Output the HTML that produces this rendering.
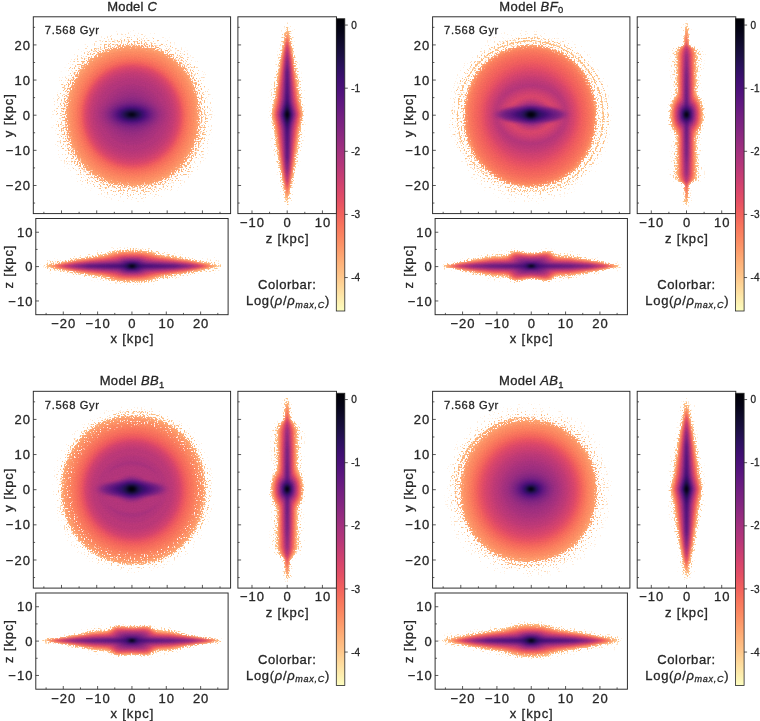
<!DOCTYPE html>
<html><head><meta charset="utf-8"><title>fig</title><style>html,body{margin:0;padding:0;background:#fff}svg{display:block;will-change:transform}</style></head><body>
<svg width="760" height="721" viewBox="0 0 760 721" font-family="Liberation Sans, sans-serif" fill="#262626"><style>text{stroke:#262626;stroke-width:0.3px;paint-order:stroke}</style>
<defs><linearGradient id="cbg" x1="0" y1="0" x2="0" y2="1">
<stop offset="0.0000" stop-color="#000004"/>
<stop offset="0.0417" stop-color="#050416"/>
<stop offset="0.0833" stop-color="#100b2d"/>
<stop offset="0.1250" stop-color="#1c1044"/>
<stop offset="0.1667" stop-color="#2c115f"/>
<stop offset="0.2083" stop-color="#3f0f72"/>
<stop offset="0.2500" stop-color="#4f127b"/>
<stop offset="0.2917" stop-color="#601880"/>
<stop offset="0.3333" stop-color="#721f81"/>
<stop offset="0.3750" stop-color="#812581"/>
<stop offset="0.4167" stop-color="#932b80"/>
<stop offset="0.4583" stop-color="#a5317e"/>
<stop offset="0.5000" stop-color="#b5367a"/>
<stop offset="0.5417" stop-color="#c73d73"/>
<stop offset="0.5833" stop-color="#d8456c"/>
<stop offset="0.6250" stop-color="#e55064"/>
<stop offset="0.6667" stop-color="#f1605d"/>
<stop offset="0.7083" stop-color="#f8745c"/>
<stop offset="0.7500" stop-color="#fb8761"/>
<stop offset="0.7917" stop-color="#fd9b6b"/>
<stop offset="0.8333" stop-color="#feb078"/>
<stop offset="0.8750" stop-color="#fec287"/>
<stop offset="0.9167" stop-color="#fed799"/>
<stop offset="0.9583" stop-color="#fdebac"/>
<stop offset="1.0000" stop-color="#fcfdbf"/>
</linearGradient></defs>
<defs><filter id="bl" x="-5%" y="-5%" width="110%" height="110%" color-interpolation-filters="sRGB"><feGaussianBlur stdDeviation="0.9" result="b"/><feTurbulence type="fractalNoise" baseFrequency="0.75" numOctaves="1" seed="11"/><feColorMatrix type="matrix" values="1 0 0 0 0 1 0 0 0 0 1 0 0 0 0 0 0 0 0 1" result="g"/><feComposite in="b" in2="g" operator="arithmetic" k1="0.1" k2="0.95" k3="0" k4="0"/></filter>
<filter id="nz" x="0" y="0" width="100%" height="100%" color-interpolation-filters="sRGB"><feTurbulence type="fractalNoise" baseFrequency="0.7" numOctaves="1" seed="7"/><feComponentTransfer result="n"><feFuncA type="linear" slope="2.6" intercept="-0.800"/></feComponentTransfer><feComposite in="SourceGraphic" in2="n" operator="arithmetic" k1="0" k2="5.0" k3="-4.0" k4="0"/><feColorMatrix type="matrix" values="0 0 0 0 1 0 0 0 0 1 0 0 0 0 1 0 0 0 1 0"/><feGaussianBlur stdDeviation="0.35"/></filter></defs>
<mask id="mf0" maskUnits="userSpaceOnUse" x="33.3" y="16.8" width="197.3" height="196.8"><g filter="url(#nz)" fill="#fff"><path fill-opacity="0.055" d="M124.3 30.3l9.5-.4 9.5 .5 7.5 1.1 6.5 1.5 7.5 2.5 7 3.1 7 4 5.5 3.9 5 4.4 5.7 5.9 4.6 6 4.9 8 3.1 6.5 3.1 8.5 1.9 7.5 1.5 9 .6 8.5 0 11.5-.6 7.5-1.5 9-2.1 8-2.9 8-3.1 6.5-4.5 7.5-4.9 6.5-4.8 5.1-6.5 5.7-6.5 4.5-7.5 4-7.5 3.1-8.5 2.4-8.5 1.5-8 .6-10-.1-7-.5-8.5-1.5-7.5-2.1-7.5-2.9-7-3.6-7.5-5-6.5-5.5-5.8-6.2-4.5-6-4-6.5-3.4-7-3.1-8.5-2-7.5-1.5-8.5-.6-8.5-.2-6.5 .2-7 .7-7.5 1.4-8.5 2.5-9 3.1-8 4.4-8.5 4-6 4.9-6 6.9-6.8 6.5-5 6.5-4 7.5-3.5 9-3 9-2z"/><path fill-opacity="0.063" d="M124.5 33.3l8.3-.3 8.5 .3 7.5 1 7.5 1.6 7 2.3 7 3 6.5 3.7 6 4.3 5.7 5.1 5 5.5 4.5 6 3.9 6.5 3.3 7 2.7 7.5 1.9 7.5 1.3 8 .7 9 0 9.5-.6 8.5-1.4 8.5-2.1 8-2.7 7.5-3.3 7-4.3 7-4.6 6-5.5 5.8-6 5-6.5 4.4-7 3.6-7.5 3-7.5 2.1-8 1.3-8.5 .7-9-.1-8-.8-8-1.5-7.5-2.2-7-2.9-6.5-3.5-6.5-4.4-5.9-5-5.2-5.5-4.9-6.5-4-6.5-3.3-7-2.7-7.5-2.1-8-1.3-8-.7-9 0-10.5 .7-8.5 1.5-8.5 2.2-8 3.1-8 3.6-7.1 4.4-6.9 5.1-6.2 5.9-5.8 6.5-5 6.6-4.1 7.3-3.4 7.7-2.6 8-1.9z"/><path fill-opacity="0.096" d="M130.2 35.8l8.6 .1 7.5 .8 7.5 1.4 7 2.1 6.5 2.7 6.5 3.5 6 4 5.5 4.7 5 5.2 4.7 6 4 6.5 3.2 6.5 2.7 7 2 7.5 1.5 8 .7 8 .1 9-.5 8.5-1.1 8-1.9 8-2.6 7.5-3.2 7-3.8 6.5-4.4 6-5 5.5-5.7 5-6.2 4.4-6.5 3.6-7 3-7.5 2.3-7.5 1.4-8 .8-8.5 .1-8-.5-7.5-1.3-7.5-1.9-7-2.7-7-3.5-6-3.9-5.9-4.8-5.1-5.2-4.7-5.8-4.1-6.5-3.6-7-2.8-7.5-2.1-7.5-1.4-8-.7-8-.1-9.5 .5-8.5 1.2-8 2-8 2.6-7.5 3.3-7 4.2-7 4.6-6 5.3-5.5 5.9-5 6.4-4.3 7-3.6 7-2.7 7.5-2 8-1.4z"/><path fill-opacity="0.138" d="M124 39.3l6.8-.4 9 .3 7 .8 7 1.4 6.5 2 6.5 2.8 6 3.3 5.5 3.8 5.3 4.5 4.8 5 4.2 5.5 3.7 6 3.2 6.5 2.5 6.5 2 7 1.3 7.5 1 9.5 0 10.5-.5 5.5-1.3 8-1.8 7.5-2.5 7-3 6.5-3.8 6.5-4.5 6-4.7 5-5.4 4.7-6 4.2-6.5 3.6-6.5 2.7-7 2-7.5 1.5-8 .7-8.5 0-7.5-.6-7-1.2-7-1.9-6.5-2.5-6.5-3.3-5.9-3.9-5.5-4.5-5-5-4.4-5.5-3.8-6-3.3-6.5-2.8-7-2.1-7.5-1.3-7.5-.8-8.5-.1-9.5 .6-8 1.2-8 1.9-7.5 2.7-7.5 3.2-6.5 4-6.5 4.7-6 5.2-5.3 5.7-4.7 6.3-4.1 6.9-3.4 7.1-2.6 7.5-1.8z"/><path fill-opacity="0.181" d="M125.8 39.8l9 0-9 .8-6.5 1-4.5 1.1-6.5 2-6 2.5-.5 .4-.5 .1-.5 .4-.5 .1-.5 .4-.5 .1-.5 .5-1.5 .6-2 1.3-.5 .1-4.5 2.9-6 4.6-.1-.4 1.6-1.5 5-4 5.5-3.7 5.5-2.9 6-2.5 6.5-2 4.5-1zM123.3 42.8l10-.5 9.5 .6 8.5 1.4 8.5 2.6 8 3.7 3.8 2.2 3.7 2.5 6.5 5.5 5.9 6.5 4.8 7 4.1 8 3 8.5 2.1 9 1.1 9.5 .1 11-.3 5.5-.6 5-.9 5-1.3 5 .5 .1 .1-1.1 .4-.3 .1-1.2 .4-.5 .1-1 .4-.7 .1-1.3 .4-.5 .1-1.5 .5-1 .1-1.5 .3-.6 .2-2.4 .4-1 .1-2.5 .4-2 .1-12.5-.8-7 .1-2 1.1 5 .8 7.5 .2 6-.5 6.5-1.4 8.5-2 7-2.5 6.5-3 6-4.4 7-3.5 4.5-3.8 4.1-4 3.8-6 4.6-3.8 2.5-5.7 3.1-6.5 2.8-6.5 1.9-6.5 1.3-7.5 .8-8 .1-7.5-.5-7-1.1-6.5-1.7-6.5-2.4-6-3-5.5-3.4-5.5-4.4-4.6-4.5-4.4-5.3-3.8-5.7-3.4-6.5-2.6-6.5-2.1-7-1.4-7-.8-8-.2-9 .5-8 1.2-8 1.8-7.5 2.5-7 3.1-6.5 3.7-6 4.2-5.5 4.8-5.1 5.5-4.6 6-4 6.5-3.3 6.5-2.5 7-1.8zM83.7 58.8l.5 0-.4 .2zM199.8 140.8l-.4 1.5 .4 .1zM199.3 142.5l-.3 .8 .3 .2zM198.8 144l-.3 .8 .3 .1z"/><path fill-opacity="0.230" d="M124.5 45.3l6.8-.3 7.5 .1 6.5 .7 6.5 1.3 6 1.9 6 2.5 5.5 2.9 5.5 3.8 4.8 4.1 4.3 4.5 3.9 5 3.5 5.6 2.9 5.9 2.3 6 1.8 6.5 1.3 7 .8 7.5 .1 8.5-.5 7.5-1 7-1.7 7-2.2 6.5-2.8 6.1-3.5 6-4 5.4-4.5 4.9-5 4.4-5.5 3.9-6 3.2-6 2.5-6.5 2-7 1.3-7 .7-8 0-7-.5-6.5-1.1-6.5-1.8-6-2.3-6-3.1-5.5-3.6-5-4.1-4.5-4.5-4.3-5.4-3.5-5.5-3-6-2.5-6.5-1.8-6.5-1.3-7-.8-8-.1-8.5 .5-7.5 1.2-7.5 1.8-7 2.6-7 3.2-6.5 3.4-5.5 4.4-5.5 4.7-4.8 5.1-4.2 5.9-3.8 6-3 6.5-2.4 7-1.8zM205.3 113.3l0-.3 .1 8.3-.6 6.5-1 5.5-2 7.2-2.5 6.5-3.4 6.8-2.6 4.1-2.5 3.5-2.5 3-.3-.1 4.5-6.5 3.4-6 2.6-5.5 2.5-6.5 2-7 1-5.5 1-8.5zM187.6 164.8l.2-.3 .1 .3z"/><path fill-opacity="0.299" d="M127.7 46.3l7.6-.1 6.5 .4 6.5 1 6.5 1.7 6 2.2 5.5 2.6 5.5 3.4 4.8 3.8 4.7 4.5 3.8 4.5 3.7 5.4 3.1 5.6 2.6 6 2.1 6.5 1.4 6.5 1 7 .3 7.5-.2 8-.7 7-1.4 7-2 6.5-2.6 6.5-3.2 6-3.6 5.5-4.2 5-4.6 4.5-5 3.9-5.5 3.4-6 2.8-6 2.2-6.5 1.6-7 1-7 .3-7.5-.2-7-.8-6.5-1.5-6-1.9-6-2.7-5.5-3.2-5-3.6-4.8-4.3-4.2-4.7-3.8-5.3-3.4-6-2.7-6-2.2-6.5-1.6-7-1-7-.4-7.5 .2-8.5 .8-7.5 1.5-7 2.1-7 2.8-6.5 3.3-6 3.9-5.5 4.3-5 5-4.5 5.2-3.8 6-3.5 6.5-2.8 6.5-1.9 6.5-1.3zM203.3 133.3l0-.4 0 .9zM202.3 136.8l0-.2 0 1.2zM201.2 140.3l.1-.4 0 1zM200.7 141.8l.1-.5 0 1.1zM199.8 144.3l0-.2 0 .8zM199.2 145.8l.1-.5 0 .7zM198.8 146.8l0-.2 0 .5z"/><path fill-opacity="0.410" d="M123.8 47.3l6.5-.4 7.5 .1 6.5 .6 6.5 1.3 6 1.8 5.5 2.2 5.5 2.9 5.2 3.5 4.8 4 4.3 4.5 4 5 3.2 5.1 3 5.9 2.3 6 1.9 6.5 1.3 6.5 .7 7 .2 8-.4 7.2-1 7.3-1.6 6.5-2.1 6.5-2.8 6.2-3.3 5.8-4 5.5-4.2 4.6-4.9 4.4-5.1 3.7-5.5 3.1-6 2.6-6.5 2-6.5 1.3-7 .7-7.5 .1-7-.5-6.5-1-6-1.6-6-2.2-5.5-2.7-5.6-3.5-4.9-3.9-4.5-4.4-4-4.9-3.5-5.3-3.2-6-2.4-6-2-6.5-1.4-7-.8-7.5-.2-8 .4-7.5 1.1-7.5 1.8-7 2.3-6.5 2.9-6.3 3.5-5.8 4.1-5.4 4.8-5 5.1-4.2 5.5-3.7 6-3 6-2.3 6.5-1.7z"/><path fill-opacity="0.583" d="M123.9 48.3l6.4-.4 7.5 .1 6.5 .6 6 1.2 6 1.8 5.5 2.2 5.5 2.9 5 3.4 4.5 3.7 4.4 4.5 3.9 5 3.2 5 2.9 5.5 2.4 6 1.9 6.5 1.3 6.5 .8 7.5 .1 7.5-.3 7-1 7-1.5 6.5-2.2 6.5-2.7 6-3.2 5.6-3.9 5.4-4.1 4.6-4.8 4.4-5.2 3.7-5.5 3.1-6 2.6-6 1.9-6.5 1.4-7 .7-7.5 .1-6.5-.4-6.5-1-6-1.6-6-2.2-5.6-2.8-5.4-3.4-5-4-4.5-4.5-4-4.9-3.4-5.2-3.1-6-2.4-6-1.9-6.5-1.3-6.5-.8-7.5-.1-8 .5-7.5 1-7 1.7-6.5 2.3-6.6 3-6.3 3.4-5.6 4.1-5.4 4.5-4.7 5-4.2 5.5-3.6 6-3.1 6-2.2 6.5-1.8z"/><path fill-opacity="1.000" d="M124.9 49.8l7.9-.2 7.7 .2 6.8 1 4.1 1 6 2 4.5 2 3.9 2 6.5 4.5 3 2.5 4.5 4.5 5 6.5 3 5 3.5 7.5 2 6 1.5 6.2 1 6.7 .3 9.1-.3 8.7-1.5 9-1.5 5.5-2.5 6.8-3 6-3.5 5.5-3.5 4.5-6 6-4.5 3.5-3.1 2-5.6 3-6.2 2.5-7.2 2-6.3 1-8.6 .4-8.8-.4-8.3-1.5-5.1-1.5-6.3-2.5-5.5-3-4.5-3-4.6-4-4.9-5-3.5-4.5-4-6.7-2.5-5.3-2.5-7-1.5-6-1-6.4-.5-6.6 0-6.5 .5-6.5 1.5-8.6 1.5-5.4 2-5.5 4-8 3-4.5 3.5-4.5 6-6 4.6-3.5 3.9-2.5 7-3.5 5.5-2 6-1.5z"/></g></mask>
<g mask="url(#mf0)"><g filter="url(#bl)"><path fill="#febf84" d="M130.3 27.3l5 0 .5 .5 8 0 .5 .5 3.5 0 .5 .5 2.5 0 .5 .5 2 0 .5 .5 1.5 0 .5 .5 1.5 0 .5 .5 1.5 0 .5 .5 1 0 .5 .5 1 0 .5 .5 1 0 .5 .5 1 0 .5 .5 .5 0 .5 .5 1 0 .5 .5 .5 0 .5 .5 .5 0 .5 .5 .5 0 .5 .5 1 0 .5 .5 .5 0 1 1 .5 0 .5 .5 .5 0 .5 .5 .5 0 .5 .5 .5 0 1 1 .5 0 1 1 .5 0 1 1 .5 0 1 1 .5 0 1.5 1.5 .5 0 2.5 2.5 .5 0 7.5 7.5 0 .5 2.5 2.5 0 .5 1.5 1.5 0 .5 1 1 0 .5 1.5 1.5 0 .5 .5 .5 0 .5 1 1 0 .5 .5 .5 0 .5 1 1 0 .5 .5 .5 0 .5 .5 .5 0 .5 .5 .5 0 .5 .5 .5 0 .5 .5 .5 0 .5 .5 .5 0 .5 .5 .5 0 1 .5 .5 0 .5 .5 .5 0 1 .5 .5 0 .5 .5 .5 0 1 .5 .5 0 1 .5 .5 0 1 .5 .5 0 1 .5 .5 0 1.5 .5 .5 0 1.5 .5 .5 0 1.5 .5 .5 0 1.5 .5 .5 0 2.5 .5 .5 0 2.5 .5 .5 0 4 .5 .5 0 7.5 .5 .5 0 7.5-.5 .5 0 7.5-.5 .5 0 4-.5 .5 0 2.5-.5 .5 0 2.5-.5 .5 0 1.5-.5 .5 0 2-.5 .5 0 1-.5 .5 0 1.5-.5 .5 0 1-.5 .5 0 1-.5 .5 0 1-.5 .5 0 1-.5 .5 0 1-.5 .5 0 .5-.5 .5 0 1-.5 .5 0 .5-.5 .5 0 .5-.5 .5 0 .5-.5 .5 0 .5-.5 .5 0 .5-.5 .5 0 .5-.5 .5 0 .5-.5 .5 0 .5-.5 .5 0 .5-1 1 0 .5-.5 .5 0 .5-1 1 0 .5-1 1 0 .5-1 1 0 .5-1.5 1.5 0 .5-2.5 2.5 0 .5-9 9-.5 0-2 2-.5 0-1.5 1.5-.5 0-1 1-.5 0-1 1-.5 0-1 1-.5 0-.5 .5-.5 0-.5 .5-.5 0-1 1-.5 0-.5 .5-.5 0-.5 .5-.5 0-.5 .5-.5 0-.5 .5-.5 0-.5 .5-.5 0-.5 .5-1 0-.5 .5-.5 0-.5 .5-1 0-.5 .5-.5 0-.5 .5-1 0-.5 .5-1 0-.5 .5-1.5 0-.5 .5-1 0-.5 .5-1.5 0-.5 .5-1.5 0-.5 .5-2 0-.5 .5-2.5 0-.5 .5-3 0-.5 .5-6 0-.5 .5-11 0-.5-.5-6 0-.5-.5-3 0-.5-.5-2.5 0-.5-.5-2 0-.5-.5-1.5 0-.5-.5-1.5 0-.5-.5-1.5 0-.5-.5-1 0-.5-.5-1 0-.5-.5-1 0-.5-.5-.5 0-.5-.5-1 0-.5-.5-.5 0-.5-.5-1 0-.5-.5-.5 0-.5-.5-.5 0-.5-.5-.5 0-.5-.5-.5 0-.5-.5-.5 0-.5-.5-.5 0-.5-.5-.5 0-1-1-.5 0-.5-.5-.5 0-1-1-.5 0-1-1-.5 0-1-1-.5 0-1.5-1.5-.5 0-1.5-1.5-.5 0-4.5-4.5-.5 0-1-1 0-.5-4.5-4.5 0-.5-1.5-1.5 0-.5-1.5-1.5 0-.5-1.5-1.5 0-.5-.5-.5 0-.5-1-1 0-.5-1-1 0-.5-.5-.5 0-.5-.5-.5 0-.5-1-1 0-.5-.5-.5 0-.5-.5-.5 0-.5-.5-.5 0-1-.5-.5 0-.5-.5-.5 0-.5-.5-.5 0-.5-.5-.5 0-1-.5-.5 0-.5-.5-.5 0-1-.5-.5 0-1-.5-.5 0-1-.5-.5 0-1-.5-.5 0-1.5-.5-.5 0-1.5-.5-.5 0-1.5-.5-.5 0-1.5-.5-.5 0-2-.5-.5 0-3-.5-.5 0-3.5-.5-.5 0-6-.5-.5 0-12.5 .5-.5 0-6 .5-.5 0-3.5 .5-.5 0-2.5 .5-.5 0-2.5 .5-.5 0-1.5 .5-.5 0-1.5 .5-.5 0-1.5 .5-.5 0-1 .5-.5 0-1.5 .5-.5 0-1 .5-.5 0-1 .5-.5 0-.5 .5-.5 0-1 .5-.5 0-.5 .5-.5 0-1 .5-.5 0-.5 .5-.5 0-.5 .5-.5 0-.5 .5-.5 0-.5 .5-.5 0-.5 .5-.5 0-.5 .5-.5 0-.5 .5-.5 0-.5 .5-.5 0-.5 1-1 0-.5 .5-.5 0-.5 1-1 0-.5 1-1 0-.5 1-1 0-.5 1.5-1.5 0-.5 2-2 0-.5 9-9 .5 0 2-2 .5 0 1.5-1.5 .5 0 1.5-1.5 .5 0 1-1 .5 0 .5-.5 .5 0 1-1 .5 0 .5-.5 .5 0 1-1 .5 0 .5-.5 .5 0 .5-.5 .5 0 .5-.5 .5 0 .5-.5 1 0 .5-.5 .5 0 .5-.5 .5 0 .5-.5 1 0 .5-.5 .5 0 .5-.5 1 0 .5-.5 1 0 .5-.5 1 0 .5-.5 1 0 .5-.5 1.5 0 .5-.5 1.5 0 .5-.5 1.5 0 .5-.5 2 0 .5-.5 2.5 0 .5-.5 3.5 0 .5-.5 8 0z"/><path fill="#feb47b" d="M124.9 40.8l7.4-.3 8 .3 7 .8 6.5 1.4 6.5 2.1 6.2 2.7 5.8 3.2 5.5 3.9 5.1 4.4 4.7 5 4.1 5.5 3.6 5.8 3 6.2 2.5 6.7 1.8 6.8 1.3 7.5 .7 8 .1 9-.6 8-1.1 7.5-1.9 7.5-2.5 7-3.1 6.5-3.7 6-4.5 5.9-4.8 5.1-5.3 4.5-5.9 4-6.5 3.4-6.5 2.6-7 2-7 1.2-7.5 .6-8.5 0-7.5-.6-7-1.3-6.5-1.9-6.5-2.5-6-3.2-6-3.9-5.2-4.4-4.9-5-4.3-5.5-3.8-6-3.2-6.5-2.7-7-1.9-7-1.3-7.5-.7-8.5 0-9 .6-8 1.4-8 2-7.5 2.6-7 3.4-6.8 4-6.2 4.5-5.6 5-5 5.5-4.4 6.5-4.1 6.5-3.1 7-2.5 7.5-1.8z"/><path fill="#feaa74" d="M123.8 44.3l7-.4 7.5 .1 6.5 .7 6.5 1.2 6.5 1.9 5 2 6 3.1 5.2 3.4 4.8 3.8 4.5 4.4 4 4.8 3.4 5 3.5 6.5 2.6 6 1.9 6 1.5 7 1 7.5 .3 8.5-.3 9-1 7.5-1.5 7-1.9 6-2.5 6-3.5 6.5-4 5.7-4.5 5.2-4.9 4.6-5.4 4-5.7 3.4-5.5 2.5-7 2.4-7 1.6-8 1-8 .1-8.5-.6-6-.9-6-1.6-7-2.5-5-2.5-6-3.7-5.5-4.3-4.9-4.9-4.5-5.5-3.6-5.5-3-5.9-2.4-6.1-2-6.5-1.5-7.5-.7-7.5-.2-8.5 .4-8 1.1-7.5 1.9-8 2.5-7 2.9-6 3.6-6 4.2-5.5 4.8-5 5.4-4.5 6-4 5.9-3 6.1-2.4 7.5-2z"/><path fill="#fea16e" d="M125.5 46.3l7.3-.3 7 .3 6.5 .8 6 1.3 6 1.9 6 2.6 5.5 3.1 5 3.6 4.8 4.2 4.1 4.5 3.8 5 3.3 5.5 2.8 6 2.2 6 1.8 6.5 1.2 7 .6 7.5 0 8-.5 7.5-1.2 7-1.7 6.5-2.3 6.5-2.9 6.1-3.6 5.9-3.9 5.1-4.7 4.9-4.8 4.1-5.5 3.7-6 3.1-6 2.4-6.5 1.8-6.5 1.2-7 .5-8 0-6.5-.6-6.5-1.2-6.5-1.8-6-2.4-5.5-2.9-5.5-3.7-4.9-4.2-4.6-4.8-4-5.2-3.4-5.5-2.9-6-2.4-6.5-1.7-6.5-1.2-7-.6-7.5 0-8.5 .6-7.5 1.2-7 1.9-7 2.5-6.5 3.2-6.5 3.8-5.8 4.2-5.2 4.8-4.7 5.5-4.3 5.5-3.4 6-2.8 6.5-2.3 6.5-1.6z"/><path fill="#fd9869" d="M126 48.3l6.8-.3 7 .3 6.5 .9 6 1.4 6 2 5.5 2.4 5 2.9 5 3.6 4.5 4.1 4.3 4.7 3.6 5 3.1 5.2 2.7 5.8 2.2 6 1.7 6.5 1 6.5 .6 7 0 8-.6 7-1.1 6.5-1.7 6.5-2.5 6.5-2.9 6-3.4 5.5-4 5.1-4.5 4.7-5 4.1-5 3.3-5.5 2.9-6 2.3-6.5 1.8-6.5 1.1-6.5 .5-7.5-.1-6.5-.6-6.5-1.2-6-1.8-6-2.4-5.5-3-5-3.5-4.9-4.2-4.2-4.5-3.8-5-3.4-5.5-2.9-6-2.2-6-1.7-6.5-1.1-7-.6-7.5 .1-8 .6-7 1.3-7 1.8-6.5 2.5-6.5 3.1-6 3.6-5.5 4.1-5 4.7-4.7 5-3.9 5.5-3.4 6-2.9 6-2.1 6.5-1.5z"/><path fill="#fc8c63" d="M124.7 50.8l6.6-.4 7 .2 6 .7 6 1.2 5.5 1.7 5.5 2.4 5 2.7 5 3.5 4.5 3.9 4 4.2 3.8 4.9 3.1 5 2.7 5.5 2.1 5.5 1.8 6 1.2 6.5 .7 7 .1 7.5-.5 6.5-1 6.7-1.6 6.3-2.1 6-2.8 6-3.3 5.5-3.8 5-4.1 4.5-4.6 4-5.1 3.5-5.5 3-5.6 2.3-6 1.8-6 1.2-6.5 .6-7 .1-6.5-.6-6-1-6-1.7-5.5-2.1-5.5-2.9-5-3.3-4.5-3.6-4.2-4.3-3.8-4.7-3.5-5.3-2.8-5.5-2.4-6-1.9-6.5-1.2-6.5-.7-7-.1-7.5 .5-7 1.2-7 1.7-6.5 2.3-6 2.9-6 3.5-5.5 3.9-5 4.4-4.5 4.9-4 5.3-3.4 5.5-2.8 6-2.2 6-1.6z"/><path fill="#fb835f" d="M125.5 53.8l5.8-.3 6.5 .1 6 .7 5.5 1.2 5.5 1.7 5.5 2.5 5 2.8 4.5 3.2 4.5 4 3.7 4.1 3.4 4.5 3.1 5 2.6 5.5 2.1 5.5 1.6 6 1 6 .6 6.5 0 6.5-.6 6.5-1 6-1.6 6-2.2 6-2.7 5.5-3.1 5-3.5 4.5-4.2 4.5-4.2 3.6-5 3.4-5 2.7-5.5 2.3-6 1.8-6 1.1-6 .5-6.5 0-6-.6-6-1.1-5.5-1.6-5.5-2.3-5.1-2.8-4.9-3.4-4.5-3.8-4-4.3-3.5-4.5-3.1-5-2.7-5.5-2-5.5-1.7-6-1.2-6.5-.5-6.5 0-7 .6-6.5 1.2-6.5 1.7-6 2.4-6 2.9-5.5 3.2-5 3.7-4.6 4.4-4.4 4.6-3.7 5-3.2 5.5-2.7 5.5-2 5.5-1.4z"/><path fill="#f9785d" d="M124.6 56.8l5.7-.5 6 .1 5.5 .5 5 1 5 1.5 5.5 2.2 5 2.7 4.5 3 4.1 3.5 3.9 4 3.5 4.4 3 4.7 2.5 4.9 2.2 5.5 1.7 5.5 1.2 6 .6 6 .1 6.5-.5 6-1 6-1.5 6-2.1 5.5-2.4 5-3 5-3.4 4.5-3.9 4.2-4.3 3.8-4.7 3.3-4.9 2.7-5.6 2.3-5 1.5-5.5 1.1-6 .6-6 0-5.5-.5-5.5-1-5.5-1.6-5-2.1-5-2.6-4.5-3.1-4.3-3.6-3.9-4-3.5-4.5-3.2-5-2.5-5-2.2-5.5-1.6-5.5-1.2-6-.6-6 0-6.5 .4-6 1.1-6 1.6-6 2.1-5.5 2.5-5 3.1-5 3.7-4.7 4-4.2 4.3-3.6 4.7-3.2 5-2.6 5-2.1 5.5-1.6z"/><path fill="#f66e5c" d="M126.3 59.3l5.5-.3 5.5 .2 5.5 .7 5 1.1 5 1.7 5 2.3 4.5 2.6 4.4 3.2 3.8 3.5 3.6 4 3.2 4.3 2.8 4.7 2.4 5 1.8 5 1.5 5.5 .9 5.5 .4 5.5-.1 6-.6 6-1.1 5.5-1.7 5.5-2 5-2.7 5-2.9 4.5-3.2 4-4 4.1-4.2 3.4-4.5 3-4.8 2.5-5 1.9-5 1.4-5.5 1-5.5 .4-6-.2-5.5-.7-5-1.1-5-1.6-5-2.3-4.5-2.6-4.4-3.2-4.1-3.7-3.5-3.8-3.3-4.5-2.7-4.5-2.4-5-2.1-5.5-1.4-5.5-.9-5.5-.4-5.5 .1-6 .6-6 1.2-5.5 1.7-5.5 2.1-5 2.7-5 3-4.5 3.3-4.1 4-3.9 4.3-3.5 4.7-3 5-2.5 5-1.8 5-1.3z"/><path fill="#f3655c" d="M125.8 61.8l5.5-.4 6 .2 4.5 .6 4.5 .9 4.5 1.5 5 2.2 5 2.8 3.5 2.5 4 3.5 3.5 3.8 3 3.9 3.1 5 2 4 2 5 1.5 5.5 1.1 6 .4 6-.2 5-.7 6.5-1 4.5-1.6 5-1.9 4.5-2.6 5-3 4.5-3.3 4-3.5 3.5-3.8 3.1-4.5 3-4 2.1-4.5 1.9-5 1.5-5.5 1-6 .4-5-.1-6-.7-4.5-1.1-4.5-1.5-4.5-2-4.5-2.6-3.5-2.4-4.2-3.6-3.7-4-3.1-4-3.1-5-2-4-2-5-1.5-5.5-1-5.5-.5-5.5 .1-5 .4-5 1.4-7 1.6-5 1.9-4.5 2.1-4 3.2-5 3.3-4 3.6-3.7 3.5-2.9 4.5-3 4.5-2.4 5-2.1 5.5-1.6z"/><path fill="#ef5d5e" d="M129.3 62.8l5-.1 5 .4 5 1 5 1.4 4.5 1.8 4.5 2.4 4 2.7 4 3.2 3.6 3.7 3.3 4 2.6 4 2.4 4.5 1.9 4.5 1.6 5 1.1 5 .7 5.5 .1 5.5-.4 5-.9 5.5-1.3 5-1.8 5-2.2 4.5-2.7 4.4-3 4.1-3.5 3.8-3.6 3.2-4.1 3-4.3 2.5-4.5 2.1-5 1.7-5 1.1-5 .6-5 .1-5-.4-5-.8-5-1.4-5-2-4.5-2.4-4-2.7-4-3.3-3.6-3.6-3.3-4-2.9-4.5-2.4-4.5-1.9-4.5-1.5-5-1.1-5-.6-5.5-.1-5.5 .4-5 .9-5.5 1.4-5 1.9-5 2.3-4.5 2.8-4.5 3.1-4 3.2-3.5 3.9-3.4 4-2.8 4.5-2.6 4.5-2 5-1.6 5-1.1z"/><path fill="#e95462" d="M127 64.3l4.8-.3 5 .2 5 .7 5 1.2 4.5 1.6 4.5 2.2 4 2.4 4 3 3.5 3.2 3.4 3.8 2.9 4 2.4 4 2.4 5 1.6 4.5 1.3 5 .8 5 .3 5.5-.2 5-.7 5-1.1 5-1.5 4.5-2.2 5-2.4 4.4-2.9 4.1-3.4 4-3.7 3.5-4 3.1-4 2.5-4.5 2.2-4.5 1.7-4.5 1.1-5 .8-5 .3-5-.2-5-.8-4.5-1.1-4.5-1.6-4.5-2.1-4-2.5-4-2.9-3.8-3.5-3.2-3.6-3.2-4.4-2.3-4-2.1-4.5-1.7-4.5-1.4-5.5-.8-5-.3-5 .2-5 .6-5 1.2-5 1.6-5 2-4.5 2.5-4.5 2.8-4 3.4-4 3.5-3.3 4-3.2 4-2.5 4.5-2.2 4.5-1.7 5-1.4z"/><path fill="#e34e65" d="M130.5 65.3l4.8 0 5 .6 4.5 1 4.5 1.4 4.5 2 4 2.2 4 2.8 3.5 3 3.3 3.5 3.2 4 2.5 4 2.3 4.5 1.8 4.5 1.4 5 .9 5 .5 5-.1 5-.6 5-1 5-1.4 4.5-1.8 4.5-2.4 4.5-2.7 4-3.2 4-3.5 3.5-3.7 3-4 2.7-4 2.1-4.5 1.9-4.5 1.3-4.5 .8-5 .5-5-.1-4.5-.5-5-1.1-4.5-1.5-4.5-2-4-2.3-3.9-2.8-3.6-3.1-3.2-3.4-3.1-4-2.5-4-2.3-4.5-1.8-4.5-1.4-5-.9-5-.4-5 .1-5 .5-5 1.1-5 1.4-4.5 1.9-4.5 2.4-4.5 2.7-4 3-3.7 3.3-3.3 3.7-3.1 4-2.6 4.5-2.4 4.5-1.8 4.5-1.3 4.5-.9z"/><path fill="#db476a" d="M127.2 66.8l4.6-.3 5 .2 4.5 .7 4.5 1.1 4.5 1.6 4 1.9 4 2.4 3.9 2.9 3.3 3 3.1 3.5 3 4 2.4 4 2.1 4.5 1.7 4.5 1.1 4.5 .8 5 .3 5-.2 5-.7 5-1.1 4.5-1.6 4.5-2.1 4.5-2.3 4-2.8 4-3.4 3.8-3.4 3.2-3.6 2.7-4 2.5-4 2-4.5 1.7-4.5 1.1-4.5 .7-4.5 .3-5-.3-4.5-.7-4.5-1.1-4.5-1.7-4-1.9-4-2.5-3.8-2.8-3.7-3.5-3-3.4-2.6-3.6-2.7-4.5-1.9-4-1.6-4.5-1.1-4.5-.8-5-.3-5 .2-4.5 .6-5 1.1-4.5 1.5-4.5 2-4.5 2.3-4 2.8-4 3-3.5 3.5-3.3 3.5-2.8 4-2.6 4-2 4.5-1.7 4.5-1.3z"/><path fill="#d3436e" d="M129 68.3l4.3-.1 4.5 .3 4.5 .8 4.5 1.3 4.5 1.8 4 2.1 3.5 2.3 3.7 3 3.3 3.2 3 3.6 2.5 3.7 2.2 4 1.9 4.5 1.4 4.4 1 4.6 .5 4.5 .1 4.5-.4 5-.8 4.5-1.3 4.5-1.7 4.5-2 4-2.5 4-2.7 3.5-3.2 3.4-3.5 3-3.5 2.5-4 2.3-4 1.8-4.5 1.5-4.5 1-4.5 .6-4.5 0-4.5-.4-4.5-.8-4.5-1.4-4-1.7-4-2.1-4-2.7-3.5-2.9-3.1-3.1-2.9-3.6-2.6-3.9-2.2-4-1.8-4.5-1.4-4.4-1-4.6-.5-4.5 0-4.5 .4-4.5 .8-4.5 1.2-4.5 1.8-4.5 2-4 2.5-4 2.7-3.5 3.1-3.3 3.5-3 3.5-2.5 4-2.3 4-1.9 4.5-1.5 4.5-1z"/><path fill="#cc3f71" d="M129.8 70.3l4 0 4.5 .3 4.5 .9 4 1.3 4 1.6 4 2.2 3.5 2.3 3.4 2.9 3.1 3.1 2.7 3.4 2.4 3.5 2.1 4 1.7 4 1.4 4.5 .9 4.5 .4 4 .1 4-.4 4.5-.9 4.5-1.2 4.5-1.6 4-2 4-2.2 3.5-2.9 3.7-3 3.1-3.5 3-3.5 2.5-4 2.2-4 1.7-4 1.3-4 .8-4.5 .5-4.5 .1-4-.4-4.5-.9-4-1.2-4-1.7-4-2.2-3.5-2.4-3.5-2.9-3.1-3.2-2.8-3.5-2.3-3.5-2.1-4-1.7-4-1.3-4.5-.9-4.5-.4-4-.1-4 .4-4.5 .9-4.5 1.3-4.5 1.6-4 2.1-4 2.3-3.5 2.7-3.5 2.9-3 3.5-3 3.5-2.4 4-2.3 4-1.7 4-1.2 4-.9z"/><path fill="#c23b75" d="M130.6 72.3l3.7 0 4.5 .5 4 .8 3.7 1.2 4.3 1.9 3.5 1.9 3.5 2.5 3 2.6 2.6 2.6 2.4 3 2.5 3.7 2 3.8 1.6 4 1.4 4.5 .8 4 .4 4.5 0 4-.5 4-1.1 5-1.1 3.5-1.9 4.5-1.9 3.5-2.2 3.2-2.5 3-3.3 3.3-3 2.5-3.2 2.1-3.5 1.9-3.5 1.5-4.7 1.5-3.3 .7-5 .5-4-.1-4-.4-4.5-1-3.6-1.2-4.4-2-3.5-2-3.5-2.5-2.8-2.5-2.7-2.8-2.5-3.2-2.5-3.8-2-4-1.5-3.9-1.1-3.8-.9-4.6-.4-3.9 .1-4.5 .5-4 .8-3.5 1.4-4.5 1.6-3.8 2-3.7 2.3-3.5 2.7-3.2 3.3-3.3 3.1-2.5 3.1-2.1 4-2.1 3.5-1.4 4.8-1.4 3.7-.7z"/><path fill="#ba3878" d="M127.6 75.8l3.7-.3 4 .2 4 .5 3.5 .8 4 1.4 3.5 1.7 3.5 2.1 2.8 2.1 2.8 2.5 2.7 3 2.3 3 2.1 3.5 1.7 3.5 1.5 4 1.1 4 .7 4 .2 3.5-.3 3.5-.7 4-1.1 4-1.5 4-1.7 3.5-2.1 3.5-2.3 3-2.7 3-2.5 2.2-3 2.3-3.3 2-3.2 1.5-3.5 1.3-3.5 1-4 .6-4 .2-4-.2-4-.6-3.5-.9-3.5-1.3-3.5-1.7-3.5-2.1-3-2.3-2.7-2.5-2.7-3-2.2-3-2-3.5-1.9-4-1.4-4-1.1-4-.6-4-.2-3.5 .3-3.5 .8-3.5 1.2-4 1.5-4 1.8-3.5 1.8-3 2.4-3.2 2.5-2.7 2.8-2.6 3.2-2.3 3-1.8 3-1.5 3.5-1.3 3.5-1z"/><path fill="#b2357b" d="M127.3 79.3l3.5-.3 3.5 .1 3.5 .4 3.8 .8 3.2 1.1 3.2 1.4 2.8 1.6 3 2 2.7 2.4 2.4 2.5 2.4 3 1.9 3 2.1 4 1.5 3.6 1.3 3.9 .6 3 .2 3-.2 3-.6 3-1.2 4-1.2 3-1.9 4-1.8 3-2.2 3-2.2 2.5-2.3 2.2-2.5 2-2.8 1.8-3.2 1.7-3 1.2-3.5 1-3.1 .6-3.9 .4-3.5-.1-4-.5-3.5-.8-3.5-1.2-3-1.4-3-1.8-3-2.1-2.5-2.2-2.5-2.7-2-2.6-2-3.2-2-3.9-1.6-3.9-1.3-4-.7-3.5-.2-3 .3-2.5 .6-3 1.2-3.5 1.7-4.1 2-3.7 2-3.2 2-2.6 2-2.2 2.4-2.2 2.6-2 3-1.8 3-1.5 3-1.2 3-.8z"/><path fill="#a8327d" d="M128.4 84.8l2.9-.2 3 .1 2.5 .3 3 .7 2.5 .8 3 1.2 2.5 1.4 2.5 1.8 2.5 2.1 2.5 2.6 7.1 9.2 1.2 2 1.1 2.5 .6 2 .4 2 0 2.5-.3 2-.8 2.5-1.1 2.5-1.7 2.6-4 5.5-4 4.8-4 3.5-4.5 2.7-5 2-5 1-3 .1-3-.1-2.5-.3-3-.7-2.5-.8-3-1.3-2.5-1.4-2.5-1.8-2.5-2.1-2.5-2.7-7.1-9.5-2.1-4-.6-2-.4-2 0-2.5 .2-2 .8-2.5 1.1-2.5 1.1-2 2-2.6 4-5.2 2.5-2.9 4-3.5 4.5-2.8 5-2z"/><path fill="#a02f7f" d="M128.4 89.3l4.9-.2 4.5 .7 4.5 1.5 2.5 1.3 2 1.3 3 2.3 5 4.6 4 4.6 1.4 1.9 1.1 2 .8 2 .5 2 0 2-.2 1.5-.4 1.5-.8 2-2 3-4.3 5-6.1 5.5-4 2.8-4.5 2.1-2.5 .8-2.5 .4-2.5 .3-2.5-.1-4.5-.6-4.5-1.6-2.3-1.1-2.2-1.4-3-2.3-4.5-4.2-4.1-4.6-1.5-2-1.2-2-.9-2-.5-2-.1-2 .1-1.5 .4-1.5 .8-2 2.2-3.5 4.3-5 6-5.4 4-2.8 4.5-2.1 2.5-.7z"/><path fill="#982d80" d="M128.6 93.3l2.2-.2 2.5 0 4.5 .8 4.5 1.7 4.9 2.7 5.6 4.4 3.7 3.6 1.3 1.7 1.1 1.8 .6 1.5 .5 2 .1 1.5-.1 1.5-1 3-2 3-3.2 3.4-5.5 4.4-4 2.5-4.5 2.1-4.5 1.1-2.5 .3-2.5 0-4.5-.8-4.5-1.6-5-2.8-5.5-4.3-3.9-3.8-1.4-2-.9-1.5-.6-1.5-.5-2-.1-1.5 .2-1.5 .4-1.5 .9-2 2.1-3 3.3-3.3 5-4 4-2.4 4.5-2.1 2.5-.8z"/><path fill="#8e2a81" d="M128 96.8l3.3-.3 3 .1 3 .6 3 .9 3.5 1.5 3.5 1.9 4 2.6 2.6 2.2 1.8 2 1.3 2 .8 2 .3 2-.2 2-.6 2-1.2 2-1.8 2.2-2 1.8-3 2.2-3.5 2.1-3 1.5-2.5 1-3 .9-2.5 .5-3 .2-3-.2-2.5-.4-3-.9-2.5-1.1-3-1.5-3.5-2-3-2.2-1.8-1.6-1.7-1.9-1-1.6-.7-1.5-.6-2 0-2 .3-1.5 .7-2 1-1.5 1.3-1.7 2-1.9 2.5-1.9 3-1.9 3.5-1.9 2.5-1.1 3-1z"/><path fill="#862781" d="M129.1 99.3l2.7-.1 3 .1 3 .6 2.5 .7 3 1.1 3 1.4 3 1.7 2.6 2 1.9 1.9 1.2 1.6 .7 1.5 .5 2-.1 2-.4 1.5-.9 1.9-1.2 1.6-1.8 1.7-2 1.6-2.5 1.5-3 1.5-3.5 1.4-2.5 .7-2.5 .5-3 .3-2.5 0-3-.3-2.5-.6-3-.9-3-1.3-2.5-1.2-2.5-1.6-2.4-1.8-1.5-1.5-1.1-1.5-.8-1.5-.6-2-.1-1.5 .3-2 .6-1.5 1.1-1.6 1.5-1.7 2-1.7 2.5-1.7 2.5-1.4 5.5-2.2 3-.8z"/><path fill="#7e2482" d="M128.3 101.3l3-.2 2.5 .1 2.5 .2 3 .7 3 .9 2.5 1 2.5 1.3 2.3 1.5 1.8 1.5 1.4 1.5 .9 1.5 .6 1.5 .3 1.5-.3 2-.5 1.5-.9 1.5-1.4 1.5-1.7 1.5-2 1.3-2.5 1.3-2.5 1.1-3 1-3 .7-2.5 .3-3 .1-2.5-.1-5-1-3-1-2.5-1-2.5-1.3-2-1.3-1.8-1.6-1.4-1.5-.9-1.5-.5-1.5-.3-1.5 .2-1.5 .4-1.5 .9-1.5 1.2-1.5 1.7-1.6 2-1.4 2.5-1.3 5-2 3-.8z"/><path fill="#752181" d="M128.5 102.8l5.3-.1 5 .7 2.5 .7 2.5 .9 4 2.1 1.7 1.2 1.3 1.3 1 1.2 .8 1.5 .3 1.5 .1 1.5-.4 1.5-.8 1.5-1.1 1.5-1.7 1.5-1.7 1.1-2.5 1.4-5 1.8-5.5 .9-5 0-5.5-.9-5-1.8-4-2.3-1.5-1.2-1.3-1.5-.9-1.5-.5-1.5-.1-1.5 .3-1.5 .5-1.3 .8-1.2 1.2-1.4 1.5-1.2 4-2.3 4.5-1.7z"/><path fill="#6d1d81" d="M126.1 104.3l5.2-.5 5 .3 5 1.1 4 1.7 2 1.2 1.5 1.2 1 1 1 1.5 .4 1 .3 1.5-.1 1.5-.5 1.5-1 1.5-1 1-3.1 2.2-4 1.8-5 1.2-5 .4-4.5-.3-5-1.1-4-1.6-3.2-2.1-1.3-1.3-.9-1.2-.5-1-.4-1.5 0-1.5 .5-1.5 .8-1.5 .9-1 1.6-1.4 1.5-1 4-1.9z"/><path fill="#651a80" d="M130.9 104.8l4.4 .2 4.5 .8 4 1.5 3 1.8 1.4 1.2 .8 1 .6 1 .5 1.5 0 1.5-.2 1-1.2 2-1.4 1.5-1.4 1-3.6 1.8-5 1.3-5 .5-5-.3-5-1.1-4-1.8-1.5-1-1.6-1.4-1.4-2-.3-1-.1-1.5 .3-1.5 .4-1 1.7-2 3-2.1 3.5-1.5 4.5-1z"/><path fill="#5c167f" d="M128.6 105.8l4.2-.1 4.5 .4 4 1.1 3.4 1.6 2.5 2 1.3 2 .3 1 0 1.5-.8 2-.7 1-1.5 1.3-3 1.8-4 1.3-5 .8-5-.1-4.5-.8-4-1.4-3-1.9-1.8-2-.8-2 .2-2 1-2 2.2-2 2.7-1.5 3.5-1.2z"/><path fill="#54137d" d="M127 106.8l4.3-.4 4 .2 4 .8 3.5 1.4 2.4 1.5 1.7 2 .6 2-.1 1.5-.4 1-1.7 2-2.5 1.6-3 1.2-4 .9-4 .3-4-.3-4-.8-3-1.2-2.6-1.7-1.7-2-.5-2 0-1 .3-1 1.5-2 2.5-1.8 3-1.3z"/><path fill="#4c117a" d="M128.5 107.3l3.8-.2 3.5 .3 3.5 .8 3 1.3 2 1.3 .9 1 .7 1 .3 1 .1 1-.2 1-.4 1-.8 1-1.1 1-2.7 1.5-3.3 1.1-4 .6-4 0-4-.6-3.4-1.1-2.7-1.5-1.5-1.5-.6-1-.4-1 0-1 .2-1 .9-1.5 1.6-1.5 2.4-1.4 3-1z"/><path fill="#420f75" d="M131.7 107.8l3.1 .2 3 .6 2.5 .8 2.4 1.4 1.5 1.5 .7 1.5 0 1.5-.6 1.5-.9 1-1.1 .9-3 1.5-3.5 .9-4 .3-4-.3-3.5-.9-3-1.4-1.2-1-.9-1-.6-1.5 0-1.5 .7-1.5 1.5-1.5 2-1.2 3-1.1 3-.5z"/><path fill="#390f6e" d="M128.3 108.8l3-.3 3 .2 3 .5 2.5 1 1.9 1.1 1.4 1.5 .5 1.5-.2 1.5-1 1.5-2.1 1.5-2.5 1-2.5 .6-3 .3-3-.2-3-.5-2.5-.9-2.1-1.3-1.4-1.5-.4-1.5 .2-1.5 1.1-1.5 2.1-1.4 2.5-1z"/><path fill="#311165" d="M130.2 109.3l2.6 0 2.5 .3 2.5 .6 2 1 1.5 1.1 .9 1.5 0 1.5-.5 1-1.4 1.4-2 1.1-3 .8-3 .4-3-.2-3-.6-2.5-1.1-1.7-1.3-.6-1-.3-1.5 .3-1 .8-1.1 1.2-.9 2-1 2.3-.7z"/><path fill="#271258" d="M128.1 110.3l2.2-.3 2.5 0 2.5 .3 2 .6 1.8 .9 1.2 1 .5 1 .1 1.5-.6 1-1 1-1.9 1-2.1 .6-2 .3-2.5 .1-2.5-.4-2.2-.6-1.8-1-1.1-1-.6-1 .1-1.5 .5-1 1.2-1 1.9-1z"/><path fill="#20114b" d="M129.5 110.8l1.8-.2 2 .1 2 .4 1.5 .5 1.3 .7 1.1 1 .4 1-.1 1-.7 1-1.3 1-1.7 .7-1.5 .4-2 .2-2-.1-2-.3-2-.7-1.1-.7-.9-1-.4-1 .2-1 .7-1 1.4-1 1.6-.6z"/><path fill="#19103f" d="M128.4 111.8l1.4-.3 2-.2 2 .2 1.5 .4 1.5 .7 .9 .7 .5 1-.1 1-.8 1-.8 .5-2.2 .8-3 .3-3.2-.6-1.3-.6-1-.8-.4-.6-.1-1 .5-1 .5-.5z"/><path fill="#130d34" d="M129.4 112.3l1.4-.3 1.5 0 2.5 .5 1 .5 .8 .8 .3 1-.2 .5-.4 .5-1 .7-2 .6-2.5 .1-2.5-.7-1-.6-.5-.6-.2-1 .3-.5 .9-.9z"/><path fill="#0c0926" d="M129.8 112.8l2-.3 2 .3 1.1 .5 .6 .5 .3 .5 0 .5-.2 .5-.5 .5-1.8 .7-2 .1-1.8-.3-1.1-.5-.5-.5-.2-.5 0-.5 .3-.5 .6-.5z"/><path fill="#07061c" d="M130.1 113.3l1.7-.2 1.5 .2 1.1 .5 .4 .5 0 .5-.5 .7-1 .4-1.5 .2-1.5-.1-1-.5-.6-.7 0-.5 .4-.5z"/><path fill="#030312" d="M130.4 113.8l1.4-.2 1 .1 1 .6 0 .5-.5 .5-.5 .2-1 .1-1-.1-.6-.2-.5-.5 0-.5z"/><path fill="#010106" d="M130.8 114.3l1-.2 .5 0 .4 .2 .1 .5-.5 .3-1 0-.6-.3z"/></g></g>
<mask id="ms0" maskUnits="userSpaceOnUse" x="237.9" y="16.8" width="98.6" height="196.8"><g filter="url(#nz)" fill="#fff"><path fill-opacity="0.055" d="M286.8 21.8l.6-.3 1 1.3 3.5 3.8 5 4.2 .1 .5-1.1 1.2-.7 1.8-.1 2.5 .3 4.5 1 7.2 2.3 9.8 2.5 13.5 2.1 8.5 2.6 14 .1 12 .4 8.5-.4 8-.1 12-2.6 14-2.2 9-2.4 13-2.3 9.9-1 7.6-.2 6.5 .5 1.5 1.4 2-4.7 3.8-3.5 3.7-1.5 1.9-.5-.1-1-1.4-4.5-4.7-4-3.2 1.3-2 .5-1.5 .1-2.5-.4-5-1-7-2.2-9.5-2.4-13-2.2-9-2.6-14-.1-12.5-.4-7.5 .4-7.5 .1-13 2.5-13.5 2.3-9.5 2.3-12.5 2.3-10 1-6.9 .4-5.1-.1-2.5-.8-2-1-1 .1-.5 4.4-3.6z"/><path fill-opacity="0.063" d="M287.3 22.8l1.8 2 2.3 3.2 2.8 2.8 .1 .5-.6 1-.4 2 .6 6.6 1.1 7.4 2.3 10 2.2 13 2.1 9.5 2.2 13 .3 10.5 1.3 10.5-1.3 10-.3 10.5-2.1 13-2.1 9.5-2.3 13-2.2 10-1.2 7.5-.6 6.5 .3 1.5 .7 2-3.4 3.4-3.5 4.7-.5-.1-3.5-4.7-3.3-3.3 .8-2 .2-1.5-.7-7.3-1-6.7-2.3-10-2.2-13-2.1-9.5-2.3-13.5-.2-10-1.3-10 1.3-10.5 .2-10 2.3-13.5 2.1-9.5 2.2-13 2.3-10 1-6.6 .7-7.4-.3-1.5-.7-1.5 .1-.5 3.2-3.2 3.5-4.7z"/><path fill-opacity="0.096" d="M286.8 23.8l.6-.2 .6 .7 1.9 3.4 2.6 3.1 .1 .5-.3 1-.1 2 .7 6.3 1.4 8.2 2 9.5 2.1 12.4 2.2 11.1 2 12.5 .3 8.5 1.9 12-1.9 11.5-.3 8.5-2 12.5-2.2 11.2-2.1 12.3-2.1 10-1.3 7.8-.7 6.2 .4 3.5-2.7 3.2-2.5 4.1-.5-.1-.5-.7-2-3.5-2.6-3 .4-3.5-.8-6.9-7.7-41.1-1.9-12-.4-9.2-1.8-10.8 1.8-11.1 .4-9.4 1.9-12 7.7-41 .9-7-.2-2-.3-1 .1-.5 2.5-2.9z"/><path fill-opacity="0.138" d="M286.7 24.8l.2-.3 .5-.2 1.5 3.4 2.4 3.6-.1 3 .7 5.2 1.5 8.7 2.2 10.6 3.9 22 1.9 13.5 .5 7.3 2.3 13.2-2.3 12.8-.4 7.2-2 13.5-3.9 22-2.2 10.7-1.5 8.7-.7 5.1 0 3.5-2.3 3.2-1.5 3.4-.5-.2-1.5-3.3-2.2-3.1 .1-3-.4-3-7.9-43.5-2.1-14-.5-7.9-2.2-12.1 .4-3.5 1.8-9 .6-8 2-14 7.9-43.4 .4-3.6-.2-2 2.3-3.5z"/><path fill-opacity="0.181" d="M287.2 25.8l.2-.1 1 2.5 1.8 3.1 .7 6.3 4.1 21.2 3.7 22 1.8 13.5 .4 5 2.3 12 .5 3.5-2.8 15-.3 5-2 14-3.6 21.5-4.1 21.3-.7 6.2-1.8 3.2-1 2.5-.5-.3-1-2.4-1.6-3-.9-6.8-3.9-20.2-3.7-22-2-14-.4-5.6-2.7-14.4 .4-3 2.3-11.8 .5-5.7 1.8-13.5 3.8-22.5 3.9-20.1 .8-6.9 1.7-2.9 1-2.4z"/><path fill-opacity="0.230" d="M286.9 27.8l.5-.3 1.9 3.8 5.1 27.5 3.6 22 2.4 19.3 2.3 10.7 .6 4-2.9 14.3-2.4 19.2-3.7 22.5-5 27-1.9 3.9-.5-.2-1.8-3.7-5-27-3.6-22-2.6-20-2.8-14 .5-3.5 2.3-10.6 2.5-19.9 3.7-22.5 5-27z"/><path fill-opacity="0.299" d="M286.9 29.3l.5-.2 1.1 2.2 5.3 27 3.5 22.5 2.4 18.5 2.7 12 .5 3.5-.5 3-2.7 12-2.4 19-3.4 22-5 25.3-.6 2.2-.9 1.8-.5-.2-.8-1.6-.4-1.5-5.2-26-3.4-22-2.4-19-2.3-10-.9-5 .4-3 2.8-12.5 2.4-18.5 3.5-22.5 4.8-24.7 .5-2.3z"/><path fill-opacity="0.410" d="M287.3 30.8l.6 1 1 3.9 4.5 22.8 3.3 21.8 2.3 18 2.5 12 .7 4.5-3.2 16-2.3 18-3.3 21.9-4.5 22.8-1 3.8-.5 1.1-.5-.1-.2-.5-.9-3-4.8-24-3.3-22-2.2-17.5-3.3-16.5 .7-4.5 2.6-12.5 2.2-17.5 3.3-21.5 4.8-24.5 .9-3 .2-.4z"/><path fill-opacity="0.583" d="M286.8 33.3l.1-.3 .5-.2 1 3.2 4.5 22.6 3 20.8 2.2 17.4 2.8 14.1 .6 3.9-3.4 17.5-2.2 17.5-3 20.8-4 20.4-1.5 5.4-.5-.2-1-3.4-4.4-22.5-3.1-21.2-2.2-17.3-3.3-17 .5-3.4 2.8-14.1 5.2-38 3.5-18.3z"/><path fill-opacity="1.000" d="M286.9 35.8l.5-.3 1 3.4 3.5 17.8 2.5 17.4 1.7 14.7 1.5 10.5 2.3 11.3 .6 4.2-2.9 15-5.2 39.8-3 16.1-2 8-.5-.2-1-3.7-3.5-17.8-2-13.8-2.2-18.4-1.5-10.5-2.8-14.5 .5-3.8 2.3-11.2 1.5-10 2.2-18.8 2-13.8 2.5-13.2z"/></g></mask>
<g mask="url(#ms0)"><g filter="url(#bl)"><path fill="#fec488" d="M287.4 18.3l0 1.5 5 5 .5 0 1.5 1.5 .5 0 1 1 .5 0 1 1 .5 0 .5 .5 .5 0 .5 .5 .5 0 1 1 .5 0 .5 .5 .5 0 0 .5-.5 0-.5 .5-.5 0-2 2 0 1-.5 .5 0 10.5 .5 .5 0 3 .5 .5 0 1 .5 .5 0 1.5 .5 .5 0 1.5 .5 .5 0 1.5 .5 .5 0 2 .5 .5 0 1.5 .5 .5 0 2 .5 .5 0 2 .5 .5 0 2.5 .5 .5 0 1.5 .5 .5 0 1.5 .5 .5 0 1 .5 .5 0 1 .5 .5 0 1.5 .5 .5 0 1 .5 .5 0 1.5 .5 .5 0 1.5 .5 .5 0 2 .5 .5 0 1.5 .5 .5 0 2 .5 .5 0 1.5 .5 .5 0 17-.5 .5 0 7.5 .5 .5 0 17-.5 .5 0 1.5-.5 .5 0 2-.5 .5 0 1.5-.5 .5 0 2-.5 .5 0 1.5-.5 .5 0 1.5-.5 .5 0 1.5-.5 .5 0 1-.5 .5 0 1-.5 .5 0 1-.5 .5 0 1.5-.5 .5 0 2-.5 .5 0 2-.5 .5 0 2-.5 .5 0 2-.5 .5 0 2-.5 .5 0 1.5-.5 .5 0 1.5-.5 .5 0 1.5-.5 .5 0 1.5-.5 .5 0 1.5-.5 .5 0 2.5-.5 .5 0 11 .5 .5 0 .5 2 2 .5 0 .5 .5 .5 0 .5 .5-.5 0-.5 .5-.5 0-.5 .5-.5 0-.5 .5-.5 0-.5 .5-.5 0-1 1-.5 0-1 1-.5 0-1 1-.5 0-1.5 1.5-.5 0-4 4 0 .5-.5 .5 0 1-.5-.5 0-1-5-5-.5 0-1-1-.5 0-1.5-1.5-.5 0-.5-.5-.5 0-1-1-.5 0-.5-.5-.5 0-.5-.5-.5 0-1-1-.5 0 .5-.5 .5 0 .5-.5 2-2 0-.5 .5-.5 0-12-.5-.5 0-2-.5-.5 0-1.5-.5-.5 0-1.5-.5-.5 0-1.5-.5-.5 0-1.5-.5-.5 0-1.5-.5-.5 0-2-.5-.5 0-2-.5-.5 0-2-.5-.5 0-2-.5-.5 0-2-.5-.5 0-1-.5-.5 0-1-.5-.5 0-1.5-.5-.5 0-1-.5-.5 0-1-.5-.5 0-2-.5-.5 0-1.5-.5-.5 0-2-.5-.5 0-1.5-.5-.5 0-2-.5-.5 0-1.5-.5-.5 0-11.5 .5-.5 0-17.5-.5-.5 0-11.5 .5-.5 0-1.5 .5-.5 0-2 .5-.5 0-1.5 .5-.5 0-2 .5-.5 0-1.5 .5-.5 0-1.5 .5-.5 0-1.5 .5-.5 0-1 .5-.5 0-1 .5-.5 0-1.5 .5-.5 0-1 .5-.5 0-1.5 .5-.5 0-2.5 .5-.5 0-2 .5-.5 0-2 .5-.5 0-1.5 .5-.5 0-2 .5-.5 0-1.5 .5-.5 0-1.5 .5-.5 0-1.5 .5-.5 0-1.5 .5-.5 0-2 .5-.5 0-12-.5-.5 0-.5-1-1-1-1-.5 0-.5-.5-.5 0 0-.5 .5 0 .5-.5 .5 0 .5-.5 .5 0 1-1 .5 0 .5-.5 .5 0 1-1 .5 0 1-1 .5 0 1.5-1.5 .5 0 1.5-1.5 .5 0 2-2 0-.5 1-1 0-1z"/><path fill="#feb67c" d="M287.3 29.3l1.1 2 .6 2.5 4.6 23 3.5 22.5 2.7 20.5 2.3 10 .7 5-.8 5-2.3 10-2.7 20.5-3.4 22-4.5 23-.7 2.5-1 2.1-.5-.1-1.1-2.5-5.1-25.5-3.5-22.5-2.3-18.3-.9-4.7-1.7-7-.7-4.5 .6-4.5 1.8-7.5 .9-4.6 2.3-18.4 3.5-22.5 4.5-23 .8-3 .9-1.9z"/><path fill="#fea973" d="M286.9 30.8l.5-.2 .4 .7 .8 3 4.8 24 3.3 22 2.3 17.5 2.7 13 .5 4-.6 4-2.6 12.5-2.3 17.5-3.3 22-4.5 22.9-.9 3.6-.6 1.3-.5-.2-.3-.6-.9-3-4.7-24-3.3-22-2.3-17.5-2.6-12.5-.6-4 .5-4 2.7-12.5 2.3-18 3.3-22 4.4-22.4 .9-3.6z"/><path fill="#fd9b6b" d="M286.9 32.3l.5-.2 1 3.2 4.6 23 3.2 22 2.2 17 2.8 14 .5 3.5-3.3 17-2.1 17-3.3 22-4 20.5-.9 4-.7 1.8-.5-.2-1.1-3.6-4.4-22.5-3.3-22-2.1-17-3.3-17 .5-3.5 2.8-14 2.2-17 3.1-21.5 4.1-20.9 .8-3.6z"/><path fill="#fc8e64" d="M287.1 33.8l.3-.1 .5 1.3 .7 2.8 4 20.5 3.2 22 1 9 1.1 7.5 1 6 1.9 9 .4 3-2.5 12.5-.9 5.5-2 16-3.1 22-3.4 17.5-1.2 5-.7 2.2-.5-.2-1-3.5-4.2-21-3.1-22-1-9-1.1-7.5-3.3-17.5 .4-3 1.9-9 1-6 1.1-7.5 1-9 3.2-22 3.9-20 .7-3 .5-1.4z"/><path fill="#fa815f" d="M287.3 35.3l.6 1.4 1.3 5.6 3.1 16 5.4 41 2.5 12.5 .4 3-2.9 15-5.4 41-3.1 16-1.2 5.5-.6 1.6-.5-.2-1-3.6-1.9-9.3-1.9-10-5.4-41-2.9-15 .4-3 2.5-12.5 5.4-41 1.9-10 1.9-9.2 1-3.6z"/><path fill="#f8745c" d="M286.8 37.3l.1-.2 .5-.2 1 3.5 1.7 7.9 1.8 10 1.8 13.5 3.4 27 .7 4.5 1.9 8.5 .4 3-3 15.5-1.3 9.5-2 17.5-1.9 13.5-2.6 14-1.4 6.1-.5 1.4-.5-.2-1-3.8-1.6-7.5-1.8-10-1.9-13.5-1.9-17-1.4-10-3-15.5 .4-3 1.9-8.5 .7-4.5 3.4-27 1.7-13 2.3-12.5z"/><path fill="#f4675c" d="M286.9 38.8l.5-.4 1 3.5 1.3 6.4 1.8 10 1.8 13.5 3.2 27 .8 4.5 1.8 8.5 .4 3-3 15.5-3.1 27-1.9 13.5-2.2 12.5-1.2 5-.7 2.5-.5-.2-1-3.8-1.3-6-1.7-10-1.9-13.5-3.1-27-3-15.5 .4-3 1.8-8.5 .8-4.5 3.2-27 1.7-13 1.9-10.5 1.2-6z"/><path fill="#ee5b5e" d="M286.9 40.3l.5-.3 .8 2.8 1.3 6 1.6 9.5 1.8 13.5 3 27 .8 4.5 2 9 .3 2.5-3 15.5-3.1 27-1.7 13.5-2 11-1.2 5.5-.6 1.9-.5-.2-1-3.8-2.7-14.4-1.7-13.5-3.1-27-3-15.5 .4-3 1.9-8.5 .8-4.5 3-27 1.7-13 1.8-10.5z"/><path fill="#e55064" d="M286.9 41.8l.5-.4 .7 2.4 1.1 5 1.6 9.5 1.7 13.5 2.9 27 .8 4.5 1.9 8.5 .4 3-3.1 15.5-2.9 27-1.7 13.5-1.7 10-1.2 5.5-.5 1.5-.5-.2-1-3.8-2.3-13-1.7-13.5-2.9-27-3.1-15.5 .3-2.5 2-9 .8-4.5 2.9-27 1.6-13 1.8-10.5z"/><path fill="#dc4869" d="M286.8 43.3l.1-.2 .5-.2 .5 1.5 1 4.4 1.5 9.5 1.7 13.5 2.7 27 .7 4 2.2 9.5 .3 2.5-3.1 15-1.3 12-1.5 15.5-1.6 13-1.7 10.5-1.4 5.5-.5-.2-.9-3.3-2-12-1.7-13.5-2.7-27-.7-4-2-8.5-.5-3 .3-2.5 2.1-9 .7-4 2.8-27.5 1.6-13 1.7-10.5z"/><path fill="#d2426f" d="M286.8 44.8l.1-.2 .5-.3 .5 1.6 .6 2.9 1.6 9.5 1.6 13.5 2.6 27 .8 4.5 2.1 9 .3 2.5-3.1 15-1.1 10-1.5 17.5-1.6 13-1.7 10.5-1.1 4.1-.5-.3-.9-3.3-1.7-10.5-1.7-13.5-2.5-27-.7-4-1.9-8-.6-3.5 .4-3 2-8.5 .7-4 2.7-27.5 1.6-13 1.6-10z"/><path fill="#c73d73" d="M287.4 45.8l.8 3 1.6 10 1.6 13 1.4 17.5 1 10 .8 4 2 8.5 .5 3-3.3 15-1 10-1.5 18-1.6 13-1.5 9.5-.8 3.1-.5-.2-.6-2.4-1.7-10.5-1.5-12.5-1.5-18-1-10-3.3-15 .5-3 2-8.5 .8-4 1-10 1.4-17.5 1.6-13 1.7-10.5 .6-2.3z"/><path fill="#bc3978" d="M287.3 47.3l.1-.1 .5 1.8 1.5 9.3 1.5 13 1.4 18.5 .9 9 .8 4.5 2.2 9 .4 2.5-.6 3-2 8.5-.8 4.5-2.3 27-1.5 13-1.5 9.4-.5 1.8-.5-.3-.4-1.4-1.6-10-1.4-12.5-1.4-18-.9-9.5-.8-4-2-8.3-.6-3.2 .4-2.5 2.2-9 .8-4.5 .9-9.5 1.3-17.5 1.5-13 1.7-10 .3-1.3z"/><path fill="#b0357b" d="M287.3 48.8l.6 2.3 1.1 7.2 1.5 13 1.4 18.5 .8 9 .8 4.5 2.3 9 .3 2.5-.5 3-2.2 8.5-.8 4.5-.8 9-1.2 18-1.5 13-1.7 9.6-.5-.3-1.6-9.3-1.5-13-1.3-18.5-.8-9-.7-4-2.2-8.5-.5-3 .3-2.5 2.3-9 .8-4.5 .8-9 1.4-18.5 1.5-13 1.5-9.2z"/><path fill="#a5317e" d="M286.9 51.3l.5-.4 1.4 7.9 1.4 13 1.2 18 .8 9 .8 4.5 2.3 9 .3 2.5-.5 3-2.2 8.5-.8 4.5-.7 8.5-1.2 18.5-1.5 13-1.3 7.5-.5-.3-1.2-7.2-1.5-13-1.2-18.5-.8-9-.7-4-2.2-8.5-.5-3 .4-3 2.3-9 .8-4.5 .7-8.5 1.2-18.5 1.4-12.5z"/><path fill="#992d80" d="M287 53.3l.4-.3 1 5.3 1.4 13 1.1 18.5 .8 9 .7 4 2.3 9 .5 3-.6 3-2.2 8.5-.8 4.5-.7 8.8-1.1 18.2-1.4 13-1 5.4-.5-.4-.9-5-1.4-13-1.2-19-.7-8.5-.8-4.5-2.1-8-.6-3 .5-3 2.3-9 .8-4.5 .7-8.5 1.1-18.5 1.4-12.5z"/><path fill="#8e2a81" d="M287.2 55.3l.2-.2 .6 3.2 1.5 13 1 19 .7 8.5 .7 4 2.3 9 .5 3-.6 3-2.2 8.4-.8 4.6-.6 8.5-1 18.5-1.4 12.5-.7 3.8-.5-.4-.6-2.9-1.4-13-1-19-.7-8.5-.8-4.5-2.1-8-.6-3 .5-3 2.3-9 .7-4 .7-8.2 1-19.3 1.5-13 .5-2.8z"/><path fill="#812581" d="M287.4 57.3l.5 2.9 1.2 11.6 .9 18 .6 8.5 .8 4.8 2.3 8.7 .5 3-.6 3-2.1 8-.9 5-.6 8.5-.9 18.5-1.2 11.2-.5 2.9-.5-.3-.2-1.3-1.4-12.5-.9-19-.7-8.5-.8-4.5-2.1-8-.6-3 .5-3 2.2-8.5 .8-4.5 .7-8.5 .9-19 1.4-12.5 .2-1.2z"/><path fill="#762181" d="M287 60.3l.4-.4 1.3 11.4 .9 20 .6 8 .9 4.5 2.2 8 .5 3-.6 3-2.1 7.5-.9 5-.6 8-.8 19.5-1.4 11.5-.5-.5-1.3-11-.8-19-.6-8.5-.9-5-2.1-7.5-.6-3 .5-3 2.4-8.5 .7-4.5 .6-8.5 .8-18.5 .8-7.4z"/><path fill="#6b1d81" d="M287.3 63.3l1.1 8.5 .8 19 .6 8.5 .6 4 2.4 8.5 .5 3-.6 3-2.2 8-.8 4.5-.5 8-.8 19.5-1 8.2-.5-.6-.9-7.6-.8-19.5-.6-8.5-.7-4.2-2.2-7.8-.6-3 .5-3 2.3-8.2 .7-4.3 .6-8.5 .8-19 .9-8z"/><path fill="#601880" d="M287.2 66.8l.2-.2 .7 5.2 .7 19.5 .5 8.5 .7 4 2.4 8.2 .5 2.8-.7 3-2.1 7.5-.8 4.5-.6 8.5-.6 19-.7 5.3-.5-.5-.6-4.3-.7-20-.6-8.5-.7-4-2.1-7.5-.7-3 .6-3 2.3-8 .7-4.5 .6-8.5 .6-19 .6-4.7z"/><path fill="#56147d" d="M287 70.3l.4-.4 .2 1.9 .7 20 .6 8.3 .7 3.7 2.3 8 .5 3-.6 3-2.2 7.5-.8 4.5-.5 8-.6 19.5-.3 2-.5-.5-.2-1.5-.6-20-.6-8-.8-4.5-2.2-7.5-.5-2.5 .5-3 2.3-8 .7-4 .6-8 .6-20z"/><path fill="#4a1079" d="M287.3 79.8l.1-.3 .7 16.3 .4 5 .7 3.5 2.3 8 .5 2.5-.6 2.5-2.2 7.5-.7 4-.5 5-.6 15.9-.5-2.2-.6-14.2-.4-5-.7-3.5-2.2-7.5-.6-2.5 .5-2.5 2.3-8 .7-3.5 .4-5 .6-14.1z"/><path fill="#3f0f72" d="M287.3 94.3l.1-.3 .3 4.3 .8 5 2.5 9 .5 2.5-3.1 11.5-.7 5-.3 3.9-.5-1.3-.3-4.1-.8-4.5-2.9-10.5 .5-2.5 2.5-9 .7-4 .3-4z"/><path fill="#331067" d="M287.2 100.8l.2-.2 .9 4.2 2.2 7.5 .5 2.5-.6 2.5-2 6.5-1 4.8-.5-.5-.9-4.3-2-6.5-.6-2.5 .5-2.6 2.1-6.9 .9-4.2z"/><path fill="#271258" d="M286.9 104.3l.5-.5 2.6 8.5 .5 2.5-.6 2.5-2.5 8.1-.5-.3-3-10.3 .5-2.5z"/><path fill="#1d1147" d="M287.1 106.3l.3-.1 1.5 4.3 .8 2.8 .3 1.5-.7 2.5-1.9 5.7-.5-.2-1.8-5.5-.7-2.5 .8-3.5 1.7-4.9z"/><path fill="#130d34" d="M287 108.3l.4-.1 .5 1.1 1.2 3.5 .4 2-.8 3-1.3 3.2-.5-.1-.5-1.3-1.5-4.8 .7-3z"/><path fill="#0b0924" d="M287.3 109.8l1.1 2.2 .7 2.8-.7 2.4-1 2.2-.5-.1-.5-1.1-1.1-3.4 .3-1.5 .8-2.3 .5-1.1z"/><path fill="#050416" d="M286.8 111.3l.1-.2 .5-.2 .7 1.4 .6 2-.3 1.7-1 2.3-.5-.2-1.2-3.3 .3-1.5z"/><path fill="#010108" d="M286.8 112.3l.6-.2 .8 2.2-.3 1.8-.5 1-.5-.1-.7-2.2 .2-1.5z"/></g></g>
<mask id="mb0" maskUnits="userSpaceOnUse" x="35.8" y="218.5" width="192.3" height="96.2"><g filter="url(#nz)" fill="#fff"><path fill-opacity="0.055" d="M120.1 246.5l18.7-.1 13 .6 14 2.9 9 2.2 13.5 2.5 10.3 2.4 7.7 1 5 .2 1.5-.2 1-.4 1.5-1.4 .5 .3 4.3 5 3.7 3.5 1.4 1-5.5 5-3.9 4.7-.5 .3-1-1.1-2-.8-3-.1-5.6 .5-5.9 .9-10 2.3-12.7 2.3-9.3 2.3-13.5 2.9-8.5 .5-8.5 .2-13.5-.1-10-.6-14-2.9-9-2.3-12.5-2.3-10.5-2.4-5.6-.8-5.4-.5-3 0-1.5 .5-2 1.5-3.7-4.5-5.9-5.5 1.9-1.5 3.8-3.5 3.9-4.8 1.7 1.3 1.8 .6 3.5 0 6.5-.6 4-.6 10-2.3 13-2.4 9.5-2.4 13-2.7z"/><path fill-opacity="0.063" d="M124.4 247.5l16.4 0 9 .7 2.5 .4 7.5 1.9 14.1 3 13.4 2.4 12.3 2.6 6.9 1 5.3 .5 2-.3 1.5-.8 .5 .3 3.4 3.3 4.7 3.5-2.1 1.9-3 2.1-3.5 3.3-1.4-.8-2.1-.3-3.7 .3-7.3 1-13 2.8-13 2.2-14.1 3-9.4 2.3-9.5 .8-11.5 .2-9-.2-9-.9-9.1-2.2-14.1-3-13.3-2.3-9.7-2.2-6.4-1-7.9-.8-1.7 .3-1.8 .8-2.7-2.8-3.8-2.8-1.8-1.7 5.3-4 3-3.1 1.5 .7 2 .4 9.3-1 4.7-.8 11-2.4 13.2-2.3 14.1-3 7.7-1.9 6.5-.8z"/><path fill-opacity="0.096" d="M118.5 248.5l7.3-.4 12.5 0 6 .3 6 .7 10.8 2.9 13.7 2.7 13 2.2 12.5 2.6 11.5 1.6 2 0 1.5-.5 3.7 2.9 2.8 1.5 1.3 1-1.3 1.2-2.5 1.3-4 3.1-1.5-.5-2 0-13.3 1.9-10.7 2.3-13 2.2-12.7 2.5-9.8 2.7-3 .5-7 .7-9 .2-10-.1-8.5-.7-3-.6-10-2.7-12.6-2.5-13.4-2.2-10.4-2.3-13.1-1.9-2 0-2 .4-3-2.5-3.5-2-1-1 1-.8 3.8-2.2 2.7-2.3 2 .4 2 0 11.3-1.6 12.7-2.6 12.5-2.1 14-2.8 10-2.7z"/><path fill-opacity="0.138" d="M121 249l6.3-.3 11.5 .1 6 .3 4.5 .6 3 .7 6.7 2.1 3.3 .8 25.5 4.4 16.8 3.3 7.7 1.1 3-.1 3.8 2.5 3.2 1.5-.5 .6-3.3 1.4-3.2 2.2-3-.1-6.5 .9-8.5 1.5-9 1.9-26.3 4.6-3.7 .9-6 2-4 .7-6.5 .7-9 .2-10-.2-7-.6-4-.8-6-1.9-3.9-1-26.1-4.5-9.2-2-8.5-1.5-6.8-1-3 .1-2.9-2.1-3.4-1.5-.4-.5 4.1-2 2.6-1.9 4.5-.1 12.2-2 10.8-2.3 13.7-2.2 13.4-2.5 9.4-2.8 5-.9z"/><path fill-opacity="0.181" d="M122.3 249.5l16-.2 5.5 .4 4.5 .5 4 .9 7 2.3 2.4 .6 26.1 4.3 21.8 4.2 5.7 .6 3.2 1.9 2.6 1-3.2 1.5-2.6 1.6-2.5 .1-5 .8-20 3.9-26 4.3-3 .7-6.5 2.2-3 .7-7.5 .9-10.5 .2-9.5-.2-7-.9-3-.7-6.5-2.1-3-.8-26.5-4.4-19.7-3.8-7.8-1-2.3-1.5-3.2-1.5 2.6-1 2.9-1.8 6-.7 22-4.2 25.9-4.3 11.1-3.3 5-.9z"/><path fill-opacity="0.230" d="M122.1 250l15.7-.2 5.5 .3 4 .5 4.5 1 6 2.1 3.5 .9 26.5 4.3 27.5 5.2 4 1.9-4 2.2-27.5 5.1-26.2 4.2-3.8 1-6 2.1-3.5 .8-7 .8-9 .2-9.5-.1-7-.9-4-.9-5.6-2-3.9-1-26.5-4.2-27-5.1-3.5-1.7-.7-.5 4.2-2 27.5-5.1 26-4.2 3.5-.9 8-2.6 4.5-.8z"/><path fill-opacity="0.299" d="M122.1 250.5l15.2-.2 4.5 .2 4.7 .5 5.3 1.2 5.5 2.1 3.5 .9 27.5 4.3 25 4.9 2 .4 2.3 1.2-1.8 1.1-1.5 .5-26 5.1-27.5 4.3-3.5 .9-5.5 2.1-4.1 1-3.5 .5-4.9 .3-7.5 .1-7-.1-8.5-.8-4-.9-6-2.3-3-.7-27.5-4.3-26-5.1-1.5-.4-1.5-.8-.5-.5 2-1.1 2-.5 25.5-5 27-4.2 3.5-.8 5.5-2.1 3-.8z"/><path fill-opacity="0.410" d="M119.9 251.5l6.4-.4 9.5 0 6 .2 4.5 .5 5.7 1.2 5.3 2 3 .7 28 4.2 23.1 4.6 3.6 1 .9 .5-.6 .6-3.1 .9-22.6 4.5-28.8 4.4-3.5 .8-5.5 2-4 .9-7 .9-9 .1-8.5-.1-7-.8-4.5-1-5-1.9-3.5-.9-29-4.4-22.6-4.5-3.3-1-.4-.5 .9-.5 3.6-1 23.3-4.6 28-4.2 3-.8 5.1-1.9z"/><path fill-opacity="0.583" d="M124.7 252l12.6-.1 7.5 .6 7 1.5 7.5 2.3 29.2 4.2 20.3 4 4 1 1.1 .5-.6 .5-3.6 1-20.2 4-29.7 4.3-8 2.4-5.7 1.3-5.8 .6-8.5 .2-8.5-.2-5.5-.6-6-1.4-7.5-2.2-30-4.4-20.1-4-3.6-1-.6-.5 1.1-.5 4-1 20.3-4 26.9-3.8 3-.6 6.7-2.1 4.2-1 3.6-.6z"/><path fill-opacity="1.000" d="M127.4 253l9.4 0 6.9 .5 5.2 1 10.4 2.7 28.3 3.8 15.9 3 6.5 1.5 1.2 .5-.6 .5-1.7 .5-11.9 2.5-11.5 2-25.2 3.3-15.3 3.7-4.7 .5-8.5 .2-8-.2-4.9-.5-15.1-3.7-25.4-3.3-11.5-2-11.9-2.5-1.7-.5-.6-.5 1.2-.5 6.5-1.5 15.9-3 28-3.7 13-3.3 4-.6z"/></g></mask>
<g mask="url(#mb0)"><g filter="url(#bl)"><path fill="#fec488" d="M110.3 243.5l43.5 0 .5 .5 1.5 0 .5 .5 2 0 .5 .5 1.5 0 .5 .5 1.5 0 .5 .5 2 0 .5 .5 1.5 0 .5 .5 1 0 .5 .5 1 0 .5 .5 1.5 0 .5 .5 1 0 .5 .5 1 0 .5 .5 2 0 .5 .5 2 0 .5 .5 2 0 .5 .5 2 0 .5 .5 2 0 .5 .5 1.5 0 .5 .5 1.5 0 .5 .5 1.5 0 .5 .5 1.5 0 .5 .5 1.5 0 .5 .5 3.5 0 .5 .5 9 0 .5-.5 1 0 .5-.5 .5 0 .5-.5 .5-.5 0-.5 1-1 0-1 .5 .5 0 .5 .5 .5 0 .5 1 1 0 .5 .5 .5 0 .5 1 1 0 .5 .5 .5 0 .5 1 1 0 .5 1.5 1.5 0 .5 4.5 4.5 .5 0 .5 .5 .5 0-.5 .5-.5 0-.5 .5-.5 0-3 3 0 .5-1.5 1.5 0 .5-1.5 1.5 0 .5-1 1 0 .5-.5 .5 0 .5-1 1 0 .5-.5 .5 0 .5-.5 .5 0 .5-.5 .5 0 .5-.5 0 0-.5-.5-.5 0-.5-2.5-2.5-2 0-.5-.5-5.5 0-.5 .5-5 0-.5 .5-1.5 0-.5 .5-1.5 0-.5 .5-1.5 0-.5 .5-1.5 0-.5 .5-1.5 0-.5 .5-2 0-.5 .5-2 0-.5 .5-2 0-.5 .5-2 0-.5 .5-2 0-.5 .5-1.5 0-.5 .5-1 0-.5 .5-1 0-.5 .5-1.5 0-.5 .5-1 0-.5 .5-1 0-.5 .5-2 0-.5 .5-1.5 0-.5 .5-2 0-.5 .5-1.5 0-.5 .5-2 0-.5 .5-1.5 0-.5 .5-8 0-.5-.5-23.5 0-.5 .5-8 0-.5-.5-2 0-.5-.5-1.5 0-.5-.5-2 0-.5-.5-1.5 0-.5-.5-2 0-.5-.5-1.5 0-.5-.5-1 0-.5-.5-1.5 0-.5-.5-1 0-.5-.5-1 0-.5-.5-1.5 0-.5-.5-1.5 0-.5-.5-2 0-.5-.5-2 0-.5-.5-2 0-.5-.5-2 0-.5-.5-1.5 0-.5-.5-1.5 0-.5-.5-1.5 0-.5-.5-1.5 0-.5-.5-1.5 0-.5-.5-2 0-.5-.5-4.5 0-.5-.5-5.5 0-.5 .5-2 0-1 1-.5 0-.5 .5 0 .5-1 1 0 .5-.5 .5 0-.5-1-1 0-.5-.5-.5 0-.5-.5-.5 0-.5-1-1 0-.5-.5-.5 0-.5-1-1 0-.5-1.5-1.5 0-.5-2.5-2.5 0-.5-.5-.5-.5 0-1.5-1.5-.5 0-.5-.5 .5 0 1-1 .5 0 3-3 0-.5 1.5-1.5 0-.5 1.5-1.5 0-.5 .5-.5 0-.5 1-1 0-.5 .5-.5 0-.5 1-1 0-.5 .5-.5 0-.5 .5-.5 0-.5 .5 .5 0 .5 .5 .5 0 .5 .5 .5 1.5 1.5 1 0 .5 .5 9.5 0 .5-.5 3.5 0 .5-.5 1 0 .5-.5 1.5 0 .5-.5 1.5 0 .5-.5 1.5 0 .5-.5 1.5 0 .5-.5 2 0 .5-.5 2 0 .5-.5 2 0 .5-.5 2 0 .5-.5 2 0 .5-.5 1.5 0 .5-.5 1 0 .5-.5 1 0 .5-.5 1.5 0 .5-.5 1 0 .5-.5 1.5 0 .5-.5 1.5 0 .5-.5 2 0 .5-.5 1.5 0 .5-.5 2 0 .5-.5 1.5 0z"/><path fill="#feb67c" d="M123.4 250.5l5.4-.2 10 .1 6.5 .5 3 .5 4 1 4.5 1.8 4 1.1 27 4.1 25.5 5 2 .5 2.1 1.1-.5 .5-1.1 .6-2 .6-25 5-28 4.2-3.5 1-4.5 1.7-3.5 1-7 1-10.5 .2-9.5-.2-5.5-.6-4-.8-6-2.3-3.5-.9-28-4.3-25.5-5.1-1.5-.4-1.3-.7-.5-.5 2.3-1.2 4.5-1 23-4.5 27-4.1 3.5-.9 6.5-2.4 5-1z"/><path fill="#fea973" d="M128 251l11.8 .1 4 .3 3.5 .5 4.9 1.1 5.1 1.9 3.5 .9 27.5 4.1 23 4.5 3.5 1 1.2 .6-.7 .6-3.5 1-23.5 4.7-28.5 4.3-2.5 .7-5.5 2-4.5 1-6.5 .7-9 .2-9-.2-6.5-.8-4.5-1-5-1.8-3-.8-28-4.3-24-4.7-3-.9-.5-.2-.4-.5 1.4-.7 3.5-.9 23-4.5 28-4.3 3-.8 4.9-1.8 4.3-1 5.3-.7z"/><path fill="#fd9b6b" d="M120.8 252l5.5-.3 9-.1 5.5 .2 4.5 .5 6.5 1.3 5.6 1.9 2.4 .6 28.5 4.2 21 4.1 3.5 .9 1.7 .7-.5 .5-3.7 1.1-22 4.3-28.5 4.2-2.5 .6-5.5 1.9-5 1.1-6.5 .7-8.5 .2-8.5-.2-6-.7-5.5-1.2-7.5-2.4-28.5-4.2-22-4.3-3.9-1.1-.5-.5 1.9-.8 3.5-.8 21-4.1 28-4.1 2.5-.6 7-2.3 3.9-.8z"/><path fill="#fc8e64" d="M122.5 252.5l5.3-.2 8.5 0 4.5 .2 4 .4 5.5 1.1 9.5 2.7 28.5 4 18 3.5 5 1.1 1.7 .7-.6 .5-3.7 1-20.4 4-29 4.1-7.5 2.2-6 1.4-6 .6-8 .2-8-.2-6-.7-5.5-1.2-8-2.3-28.5-4-20.6-4.1-3.7-1-.6-.5 1.9-.7 5-1.2 18-3.5 28.5-4 11-3 3.5-.7z"/><path fill="#fa815f" d="M124.8 253l12-.1 7.5 .6 4.5 .9 10.5 2.7 28.5 3.9 16.5 3.1 5.5 1.3 1.6 .6-.6 .5-1.7 .5-11.3 2.4-10 1.8-28 3.8-11 2.8-3.5 .7-5.5 .7-8 .1-7.5-.1-6-.7-14-3.5-28-3.7-10.5-1.9-11-2.4-1.7-.5-.6-.5 1.3-.5 5.5-1.3 16.5-3.2 28-3.7 13-3.3 4-.7z"/><path fill="#f8745c" d="M121 254l4.8-.4 7-.1 6 .1 4.5 .5 4 .7 11.5 2.8 29 3.7 15 2.9 5.8 1.3 1.2 .5-.6 .5-1.8 .5-9.6 2.1-10 1.8-28.5 3.6-15 3.5-5.5 .6-7 .1-7-.2-5.5-.6-15-3.4-28-3.6-10-1.8-9.8-2.1-1.8-.5-.6-.5 1.2-.5 5.5-1.3 15-2.8 28.5-3.7 4.5-.9 8-2.1z"/><path fill="#f4675c" d="M122.6 254.5l4.7-.3 7 0 4.5 .1 4 .4 3.5 .6 9 2.2 4 .7 15.5 1.8 13.5 1.8 13.5 2.5 5.2 1.2 1.3 .5-.7 .5-4.3 1.1-15.5 2.9-13 1.7-15.5 1.8-4.5 .8-8.5 2.1-3.5 .6-4.5 .4-6.5 .1-6-.1-4.5-.4-3.5-.6-8.5-2-4.5-.9-16-1.8-13-1.8-15.5-2.9-4-1-.7-.5 1.3-.5 5.4-1.3 13.5-2.4 13-1.8 16-1.9 4.5-.8 9-2.1z"/><path fill="#ee5b5e" d="M124.4 255l10.4-.2 7 .4 3 .5 9.5 2.2 4.5 .7 16 1.8 13.5 1.8 12 2.1 5.2 1.2 1.2 .5-.6 .5-4 1-14.3 2.6-13 1.7-16 1.8-4.5 .7-12 2.6-4 .4-6.5 .1-6-.1-4.5-.4-11.5-2.5-5-.9-16-1.7-13-1.7-14-2.6-4-1-.6-.5 1.2-.5 5.4-1.2 12-2.2 13-1.7 16-1.7 5-.9 10-2.2z"/><path fill="#e55064" d="M125.2 255.5l9.6-.1 6.5 .4 3 .5 6 1.4 6 1.1 18.5 2 13.5 1.7 10 1.7 5.7 1.3 1.3 .5-.7 .5-4 1-12.8 2.3-13 1.6-19 2.1-5.7 1-5.8 1.4-3 .5-4 .4-5.5 .1-5-.1-4-.3-3-.5-6-1.5-6-1.1-19-2-13-1.7-12.5-2.2-4-1-.7-.5 1.3-.5 5.9-1.3 10-1.7 13-1.7 19-2 6.5-1.2 6.5-1.6z"/><path fill="#dc4869" d="M126 256l8.8-.1 6 .4 3.5 .6 5 1.3 5 .9 20.5 2.1 13 1.6 10.5 1.7 4.2 1 1.3 .5-.6 .5-4.2 1-11.2 1.9-13 1.6-19.8 2-5.7 1-5.5 1.4-3 .5-4 .4-5 0-5-.1-3.5-.2-3.5-.7-5-1.3-6-1-20-2-13-1.6-10.9-1.9-4.2-1-.6-.5 1.3-.5 4.4-1 10-1.7 13-1.6 19.5-1.9 6.5-1.1 6.5-1.6z"/><path fill="#d2426f" d="M126.9 256.5l8.4-.1 5 .4 3 .5 7 1.8 7 .9 17.5 1.6 13 1.6 10 1.6 3.2 .7 1.4 .5-.7 .5-3.4 .8-10.5 1.7-13 1.6-20.5 1.9-5 .8-6 1.6-3.5 .6-8 .3-4.5-.1-3.5-.3-3.5-.6-5.5-1.5-5.4-.8-20.6-1.9-13-1.6-10-1.6-3.6-.9-.7-.5 1.4-.5 2.9-.7 10-1.6 13-1.6 20.5-1.9 5-.7 7.5-1.9z"/><path fill="#c73d73" d="M127.4 257l7.4-.1 5 .4 2.5 .4 5.5 1.5 2.5 .5 7 .8 17.5 1.4 13 1.6 10 1.6 3.1 .9-.7 .5-1.9 .5-10.5 1.7-13 1.6-20.7 1.7-5.3 .7-6 1.7-2.5 .5-3.5 .3-5 .1-5-.1-3.5-.4-8.5-2.1-5-.7-21-1.8-13-1.5-10-1.7-2.1-.5-.7-.5 2.8-.8 10.5-1.7 12.5-1.5 18-1.5 7-.8 8-2 2.5-.5z"/><path fill="#bc3978" d="M126.9 257.5l6.9-.1 5 .3 3 .5 5 1.5 3 .6 7.2 .7 18.3 1.4 13 1.5 9.5 1.5 1.7 .6-.7 .5-1 .2-10 1.7-13 1.5-24.5 2-3 .5-4.5 1.4-2.5 .5-3.5 .4-5 .1-4.5-.1-3.5-.3-2.5-.6-5-1.5-3-.5-24.5-2-13-1.5-10-1.6-.7-.2-.7-.5 1.4-.5 10-1.6 13-1.5 18-1.4 7-.7 3-.6 5.5-1.6z"/><path fill="#b0357b" d="M126.5 258l6.8-.2 5 .3 3 .5 5 1.6 3 .6 26 2 12.5 1.4 8.2 1.3 2 .5-1 .5-8.7 1.4-13 1.5-26 2-3 .6-4 1.3-2.5 .6-3.5 .4-4.5 .1-4.5-.1-3.5-.4-2.5-.6-4-1.4-3-.5-25.5-1.9-13-1.5-8.9-1.5-1-.5 2-.5 7.9-1.3 13-1.5 25.5-1.9 3-.5 5.5-1.8z"/><path fill="#a5317e" d="M126.2 258.5l5.6-.2 6 .2 3 .5 5.5 1.8 2.5 .5 26 1.8 13 1.4 6.1 1 2 .5-1 .5-6.6 1.1-13 1.5-26.5 1.8-2.5 .5-4.5 1.5-2.5 .6-3 .3-4.5 .1-4.5-.1-3-.4-2.5-.6-4.5-1.5-2.5-.4-26-1.8-13-1.5-6.8-1.1-1-.5 7.8-1.4 13-1.5 26-1.8 3-.5 5.4-1.8z"/><path fill="#992d80" d="M126.1 259l5.2-.2 6 .1 3.2 .6 5.3 1.8 2.5 .5 26.5 1.6 13 1.5 6 1.1-1 .5-4.5 .8-13.5 1.5-26.5 1.6-2.5 .5-4.5 1.6-2.2 .5-2.8 .3-4.5 .1-4-.1-3.1-.3-2.4-.6-4-1.5-3-.5-26.5-1.7-13-1.4-4.7-.8-1-.5 5.7-1.1 13-1.4 27-1.7 2.5-.5 5-1.8z"/><path fill="#8e2a81" d="M126.2 259.5l4.6-.2 6 .1 3.4 .6 4.6 1.7 3 .6 27 1.5 13 1.4 3.9 .8-1.1 .5-2.8 .5-13 1.4-27 1.5-2.9 .6-3.6 1.4-2.4 .6-3.1 .4-4 .1-4-.1-3-.4-2-.6-4-1.5-2.5-.5-27.5-1.5-13-1.4-2.5-.5-1.1-.5 3.6-.8 13-1.4 27.5-1.5 2.5-.5 4.9-1.8z"/><path fill="#812581" d="M126.5 260l3.8-.2 6 .1 3 .5 5 1.8 3 .6 27.5 1.4 12.4 1.3 2.3 .5-1 .5-.7 .1-13 1.4-27.5 1.4-2.9 .6-3.9 1.5-2.2 .6-2.5 .3-4 .1-4-.2-2.5-.3-2-.5-4-1.5-3-.6-27.5-1.4-13-1.4-1.4-.6 2.3-.5 12.1-1.3 27.5-1.4 3-.6 4.5-1.6z"/><path fill="#762181" d="M126.7 260.5l4.1-.3 5.5 .2 2.5 .4 5 1.8 3 .6 28 1.3 9.1 1 3.1 .5-1.5 .5-10.7 1.2-28 1.3-3 .6-5.5 1.9-2.5 .4-4 .1-3.5-.1-2.5-.4-1.9-.5-4-1.5-3.1-.6-28-1.2-10.4-1.2-1.5-.5 11.9-1.5 28-1.2 3-.6 4.5-1.6z"/><path fill="#6b1d81" d="M127 261l4.8-.3 5 .3 2.2 .5 4.3 1.6 4 .7 27.5 1.1 8.9 1.1-1.6 .5-7.3 .8-28.5 1.2-3.5 .7-5 1.8-2.5 .4-3.5 .1-3-.1-2.5-.3-2-.6-3.5-1.4-3.4-.6-28.6-1.2-7-.8-1.6-.5 8.6-1.1 28.5-1.2 3.5-.6 4-1.6z"/><path fill="#601880" d="M127.2 261.5l4.1-.3 5 .2 2.3 .6 3.7 1.5 4.5 .7 28 1 5.6 .8-1.6 .5-4 .5-29 1.1-3.5 .6-4 1.6-1.5 .4-5 .3-3-.1-2-.3-1.5-.4-3.5-1.4-3.5-.7-29-1.1-4.2-.5-1.6-.5 5.8-.8 29-1.1 3.3-.6 3.7-1.5z"/><path fill="#56147d" d="M127.2 262l3.6-.3 5 .1 2 .5 4.1 1.7 4.4 .6 28.5 1.1 2.2 .3-2.2 .6-29.5 1.1-4 .7-4.5 1.8-2 .3-3 0-4.5-.3-1.5-.4-3.5-1.5-3.5-.6-4-.3-25.5-.8-.9-.1-1.5-.5 2.4-.4 29.5-1.1 3.5-.6 3.5-1.5z"/><path fill="#4a1079" d="M127.4 262.5l2.9-.4 5 .2 2 .4 2.6 1.3 1.4 .5 4 .5 23.4 1-6.5 .5-13.4 .5-5 .3-3.4 .7-2.6 1.3-1.5 .5-2 .2-2.5 .1-4-.3-1.5-.5-3-1.4-3.5-.6-5-.4-13.1-.4-6.5-.5 19.6-.7 5-.4 3.5-.6z"/><path fill="#3f0f72" d="M127.5 263l2.8-.4 4.5 .1 2 .5 2.7 1.3 1.8 .5 5.5 .7 5.5 .3-10.5 1.1-2 .5-2.9 1.4-1.1 .3-4 .3-2.5-.1-1.5-.2-3.5-1.7-2-.5-10.7-1.1 5.2-.3 5.5-.6 2-.5z"/><path fill="#331067" d="M127.8 263.5l2.5-.4 4.5 .1 1.5 .4 3 1.5 4 .9-4 1.1-3.5 1.7-1.5 .3-2.5 .1-3.5-.3-3.5-1.7-4.2-1.2 3.7-.8z"/><path fill="#271258" d="M130.6 263.5l2.7 0 2 .3 4.3 2.2-.7 .5-3.6 1.9-1.5 .3-2 0-2-.1-1.5-.3-3.3-1.8-.7-.5 4-2.1z"/><path fill="#1d1147" d="M130.2 264l2.6-.1 1.5 .2 1.1 .4 2.1 1.5-.4 .5-2.3 1.5-1 .2-2 .1-2-.2-1-.3-2-1.3-.4-.5 2.1-1.5z"/><path fill="#130d34" d="M130.2 264.5l1.6-.2 2 .2 1.1 .5 1.1 1-.3 .5-.5 .5-1.4 .7-1.5 .2-2-.1-1.6-.8-.5-.5-.3-.5 1.1-1z"/><path fill="#0b0924" d="M129.9 265l1.9-.3 2 .2 .7 .6 .2 .5-.1 .5-.3 .5-1 .4-2 .1-1-.2-.7-.3-.5-1z"/><path fill="#050416" d="M131.8 265l1 0 1 .5 .2 .5 0 .5-.6 .5-.6 .2-1.5 0-1-.3-.4-.4 0-.5 .2-.5 .7-.4z"/><path fill="#010108" d="M130.8 265.5l1-.1 1.2 .1 .4 .5-.1 .5-1 .3-1.5-.2-.3-.6z"/></g></g>
<text x="30.90" y="190.09" text-anchor="end" font-size="13" letter-spacing="1.0">−20</text>
<text x="30.90" y="154.94" text-anchor="end" font-size="13" letter-spacing="1.0">−10</text>
<text x="30.90" y="119.80" text-anchor="end" font-size="13" letter-spacing="1.0">0</text>
<text x="30.90" y="84.66" text-anchor="end" font-size="13" letter-spacing="1.0">10</text>
<text x="30.90" y="49.51" text-anchor="end" font-size="13" letter-spacing="1.0">20</text>
<path d="M43.87 213.60v-1.8M61.49 213.60v-3.2M79.10 213.60v-1.8M96.72 213.60v-3.2M114.33 213.60v-1.8M131.95 213.60v-3.2M149.57 213.60v-1.8M167.18 213.60v-3.2M184.80 213.60v-1.8M202.41 213.60v-3.2M220.03 213.60v-1.8M33.30 203.06h1.8M33.30 185.49h3.2M33.30 167.91h1.8M33.30 150.34h3.2M33.30 132.77h1.8M33.30 115.20h3.2M33.30 97.63h1.8M33.30 80.06h3.2M33.30 62.49h1.8M33.30 44.91h3.2M33.30 27.34h1.8" stroke="#262626" stroke-width="0.75" fill="none"/>
<rect x="33.30" y="16.80" width="197.30" height="196.80" fill="none" stroke="#262626" stroke-width="0.95"/>
<text x="132.15" y="11.40" text-anchor="middle" font-size="13" letter-spacing="0.22">Model <tspan font-style="italic">C</tspan></text>
<text x="44.80" y="34.00" text-anchor="start" font-size="11.2" letter-spacing="0.64">7.568 Gyr</text>
<text transform="translate(13.40 115.20) rotate(-90)" text-anchor="middle" font-size="13" letter-spacing="0.9">y [kpc]</text>
<text x="252.49" y="226.90" text-anchor="middle" font-size="13" letter-spacing="1.0">−10</text>
<text x="287.70" y="226.90" text-anchor="middle" font-size="13" letter-spacing="1.0">0</text>
<text x="322.91" y="226.90" text-anchor="middle" font-size="13" letter-spacing="1.0">10</text>
<path d="M251.99 213.60v-3.2M269.59 213.60v-1.8M287.20 213.60v-3.2M304.81 213.60v-1.8M322.41 213.60v-3.2M237.90 203.06h1.8M237.90 185.49h3.2M237.90 167.91h1.8M237.90 150.34h3.2M237.90 132.77h1.8M237.90 115.20h3.2M237.90 97.63h1.8M237.90 80.06h3.2M237.90 62.49h1.8M237.90 44.91h3.2M237.90 27.34h1.8" stroke="#262626" stroke-width="0.75" fill="none"/>
<rect x="237.90" y="16.80" width="98.60" height="196.80" fill="none" stroke="#262626" stroke-width="0.95"/>
<text x="287.60" y="242.80" text-anchor="middle" font-size="13" letter-spacing="0.9">z [kpc]</text>
<text x="63.77" y="328.00" text-anchor="middle" font-size="13" letter-spacing="1.0">−20</text>
<text x="98.11" y="328.00" text-anchor="middle" font-size="13" letter-spacing="1.0">−10</text>
<text x="132.45" y="328.00" text-anchor="middle" font-size="13" letter-spacing="1.0">0</text>
<text x="166.79" y="328.00" text-anchor="middle" font-size="13" letter-spacing="1.0">10</text>
<text x="201.13" y="328.00" text-anchor="middle" font-size="13" letter-spacing="1.0">20</text>
<text x="33.40" y="305.56" text-anchor="end" font-size="13" letter-spacing="1.0">−10</text>
<text x="33.40" y="271.20" text-anchor="end" font-size="13" letter-spacing="1.0">0</text>
<text x="33.40" y="236.84" text-anchor="end" font-size="13" letter-spacing="1.0">10</text>
<path d="M46.10 314.70v-1.8M63.27 314.70v-3.2M80.44 314.70v-1.8M97.61 314.70v-3.2M114.78 314.70v-1.8M131.95 314.70v-3.2M149.12 314.70v-1.8M166.29 314.70v-3.2M183.46 314.70v-1.8M200.63 314.70v-3.2M217.80 314.70v-1.8M35.80 300.96h3.2M35.80 283.78h1.8M35.80 266.60h3.2M35.80 249.42h1.8M35.80 232.24h3.2" stroke="#262626" stroke-width="0.75" fill="none"/>
<rect x="35.80" y="218.50" width="192.30" height="96.20" fill="none" stroke="#262626" stroke-width="0.95"/>
<text x="132.35" y="343.20" text-anchor="middle" font-size="13" letter-spacing="0.9">x [kpc]</text>
<text transform="translate(13.40 266.60) rotate(-90)" text-anchor="middle" font-size="13" letter-spacing="0.9">z [kpc]</text>
<rect x="336.30" y="18.75" width="8.50" height="292.25" fill="url(#cbg)" stroke="#262626" stroke-width="0.8"/>
<text x="351.20" y="28.66" text-anchor="start" font-size="10" letter-spacing="0.1">0</text>
<text x="351.20" y="91.78" text-anchor="start" font-size="10" letter-spacing="0.1">-1</text>
<text x="351.20" y="154.90" text-anchor="start" font-size="10" letter-spacing="0.1">-2</text>
<text x="351.20" y="218.02" text-anchor="start" font-size="10" letter-spacing="0.1">-3</text>
<text x="351.20" y="281.15" text-anchor="start" font-size="10" letter-spacing="0.1">-4</text>
<path d="M344.80 25.06h3M344.80 88.18h3M344.80 151.30h3M344.80 214.42h3M344.80 277.55h3" stroke="#262626" stroke-width="0.75" fill="none"/>
<text x="287.20" y="289.30" text-anchor="middle" font-size="13" letter-spacing="0.55">Colorbar:</text>
<text x="288.00" y="305.40" text-anchor="middle" font-size="13" letter-spacing="0.67">Log(<tspan font-style="italic">ρ</tspan>/<tspan font-style="italic">ρ</tspan><tspan font-style="italic" font-size="9.1" dy="2.2">max,C</tspan><tspan dy="-2.2">)</tspan></text>
<mask id="mf1" maskUnits="userSpaceOnUse" x="432.6" y="16.8" width="197.3" height="196.8"><g filter="url(#nz)" fill="#fff"><path fill-opacity="0.055" d="M520.9 28.8l8.2-.4 9 .3 8 1 7.5 1.7 7.5 2.5 7.4 3.4 6.8 4 6.3 4.6 5.9 5.4 5.4 6 4.8 6.5 4.1 7 3.5 7.5 2.8 8 2.1 8.5 1.4 8.5 .6 9-.1 10-.8 9-1.6 8.5-2.4 8.5-3.1 8-3.7 7.5-4.4 6.9-5.2 6.6-5.8 5.9-6.1 5.1-6.9 4.6-7.5 3.9-7.5 2.9-8 2.2-8 1.3-8.5 .6-9-.2-8-.9-8-1.7-7.5-2.4-7.4-3.3-6.6-3.8-6.6-4.7-5.9-5.3-5.5-6-5-6.7-4.2-7-3.5-7.5-2.9-8-2.1-8.5-1.4-8.5-.7-9.5 .1-10 .9-9 1.5-8.5 2.4-8.5 3.1-8 3.8-7.5 4.5-7.1 5.1-6.4 5.9-6 6.5-5.4 7-4.5 7.5-3.8 7.5-2.9 8-2.1z"/><path fill-opacity="0.063" d="M529 32.8l8.1 .2 7.5 .9 7.5 1.7 7 2.3 7 3.1 6.5 3.8 6 4.3 5.8 5.2 5 5.5 4.4 6 3.9 6.5 3.4 7 2.6 7 .4 .5 .5 2 .4 .5 .1 1 .4 .5 .1 1.1 .4 .4 .1 1.1 .4 .9 .1 1 .4 .5 .1 1.5 .3 .5 .2 1.6 .4 .9 .6 4.8 .3 .7 .6 7.5-.1 7.5-1 8.5-.3 .8-.1 1.7-.4 .9-.2 1.6-.3 .5-.1 1.5-.4 .5-.1 1-.4 .9-.1 1.1-.4 .4-.1 1.1-.4 .5-.1 1-.4 .5-.5 2-3.2 8-3.7 7.5-4.6 7.4-5.3 6.6-5.5 5.5-5.7 4.7-6.5 4.3-6.9 3.5-7.1 2.7-7.5 2.1-7.5 1.2-8 .6-8.5-.2-7.5-.8-7.5-1.6-7-2.2-7-3.1-6.5-3.6-6.4-4.6-5.6-4.9-5-5.4-4.5-6-4-6.5-3.3-6.7-3.7-9.5-.1-1-.4-.5-.9-3-.1-.8-.4-.7-.1-1.1-.3-.4-.2-1.6-.3-.4-.2-1.7-.4-.8-.6-4.6-.3-.9-.6-6.5 0-9.5 .6-5.5 1.4-8 .4-.6 .1-1.4 .4-.4 .1-1.1 .4-.8 .2-1.2 .3-.4 .1-1.1 .4-.4 1.1-3.6 2.7-7 3.6-7.5 4.7-7.5 5.4-6.8 5.5-5.5 6-4.9 6.5-4.3 7-3.5 7.5-2.9 7.5-1.9 8-1.3z"/><path fill-opacity="0.096" d="M520.8 37.3l6.3-.5 6.5 0 3.5 .3 7.5 .9 7 1.6 6.5 2.2 7 3.1 4 2.4 .5 0 1 .6 1 .9 .5 .1 1 .9 .5 .1 2.5 1.9 .5 .1 1.5 1.4 .5 .1 3.5 3 8.3 8.4 5 6.5 3.4 5.5 3.6 7 2.3 6 2.2 7 1.4 7.5 .7 6 .2 8-.4 5.5-.5 4-1.5 7.5-2.4 8-2.5 6-4 7.5-4 6-4 5-7.8 7.9-7 5.5-.5 .1-1 .9-.5 .1-1 .9-.5 .1-2 1.4-7.5 4-6.5 2.6-7 2.1-7.5 1.3-8 .7-8.5-.2-8-.9-7.5-1.7-7-2.3-6.5-3-6-3.5-4.5-3-1-1-.5-.1-1.5-1.4-.5-.2-4-3.4-7.2-7.4-5-6.5-3.5-5.5-4-8-2.5-6.5-2-7-1.5-8.5-.5-8.5 .4-8.5 1.1-7.5 1.5-6.5 2-6 3.5-8 4-7 3.5-5 5.5-6.5 3.2-3.3 6.5-5.5 .5-.2 3-2.4 .5-.1 1-.9 .5-.1 2-1.5 .5 0 2-1.4 5-2.6 7.5-3 7.5-2.1zM467.6 71.3l0 .3 .2-.3zM593.6 72.3l-.3 0 .3 .5zM466.6 72.8l-.5 .5 0 .9 .8-1.4zM594.1 73.3l-.2 0 .2 .4zM594.6 73.8l-.4 0 .4 .8zM465.6 74.2l-1 1.5-.1 .6-.9 1-.1 .5-.4 .4-.1 .6-.4 .4-.2 .6-.3 .3-1.7 3.7-.3 .3-.1 .7-.4 .3-1.5 3.7-.2 1-.3 .4-1.5 4.6-1.5 6.1-1 6.2-.5 9.7 .4 7.5 .6 4.5 1 5.1 1.5 5.4 2 5.7 2 4.5 2.5 4.8 3 4.7 .5-.2-2.4-4.5-1.9-4.5-1.7-4.5-1.5-5-1.2-5.5-1.3-7-.5-6.5 .1-13 .3-1 .1-3 1.4-7.5 1.2-5 1.5-5 2.4-6.5 3-6zM595.1 74.7l-.4 .1 2.7 5.5 2.3 6 2.6 9.5 1.3 6.5 .1 2 .3 1 .1 3.5 .4 1 .1 9.5-.1 3-.4 1.5-.1 3-.3 1-.7 5-1.4 6.6-2.6 8.4-2.3 5.5-2.5 5 .4 .1 2-3 .1-.6 .4-.4 .2-.6 .8-1.1 1.5-2.9 1.2-3 .8-1.4 2.5-7.1 1.5-5.9 1-5.6 .5-4.6 .1-4.9-.1-6.5-.5-5.3-1-5.6-1-4.1-.3-.5-.2-1.2-1.5-4.5-.3-.3-.2-1.1-.4-.4-1.1-3.1-.4-.4-.1-.7-.3-.3-1.2-2.7-.4-.3-.1-.6-.4-.4-.1-.6-.4-.4-.1-.5-.9-1-.1-.6-.5-.4 0-.5zM594.1 158.5l-.4 .8 .4 0zM466.6 158.9l0 .9 .5 .6 .3-.1zM593.6 159.4l-.2 .4 .2 0zM593.1 160.3l-.3 .5 .3 0zM467.6 160.6l0 .7 .4 0zM468.1 161.4l0 .4 .2 0zM469.1 163l0 .3 .2 0z"/><path fill-opacity="0.138" d="M522 37.8l2.1-.3 5-.1 8 .2 7.5 1 6.5 1.5 7.5 2.4 7 3.2 7 3.9 7 5.1 6 5.4 5.3 5.7 4.5 6 3.4 5.5 3.5 7 2.5 6.5 2 7 1.5 8 .6 7.5-.1 8-.9 8-1.6 7-2.6 8-2.8 6.5-3.6 6.5-4.5 6.5-5.1 6-5.7 5.5-5.9 4.7-7 4.4-7 3.6-6.5 2.5-7 2-8 1.4-6 .6-7 0-7-.6-3.5-.5-5-1.1-6.9-2-5.1-1.9-5.4-2.6 .4-.2 .5 .1 2.5 1.3 5 2 6.5 2 6.5 1.5 7.5 .9 6.5 .2 6.5-.2 7-.9 7-1.6 6-1.9 6-2.5 6-3.1 7-4.6 6-4.8 5.5-5.4 4.1-4.8 3.9-5.5 3.5-6 3-6.5 2.1-5.5 1.9-7 1.5-8.9 .4-5.6-.1-7.5-.8-7-1.5-7.4-2-6.6-2.4-6-3.1-6-3.5-5.7-4.5-5.9-5-5.5-5.5-4.9-6.8-5-6-3.5-7.6-3.5-7.3-2.5-6.3-1.5-7-1.1-8-.2-8.3 .3-8.7 1.5-7.3 2-8.7 3.5-6.5 3.5-6 3.9-6.2 5.1-5.8 5.8-5 6.2-4.5 7-3.1 6-3 7.5-2.1 7-1.4 7.5-.6 8 .1 8 1 8 2 8.5 2.4 7 3.5 7.5 3.6 6 3.9 5.5 5.2 5.9 5.5 5.3 4.5 3.6 3.2 2.2-.2 .3-5.5-3.8-7.5-6.6-6.5-7.3-4.6-6.6-3.9-7.1-3.5-8.4-2.6-9-1.4-9-.4-7.5 .3-7.5 .9-7 2.1-8.5 2.5-7 3-6.5 3.4-6 5-7 5.9-6.5 6.3-5.7 5.5-4 6.5-4 7.5-3.5 7-2.5 8.5-2zM522.4 40.3l.7-.3 2-.1 11.5 0 7.5 1.1 .5 .3 1.5 .1 .8 .4 3.2 .6 .5 .4 2.5 .6 5.5 2.1 7 3.4 5 3.1 6 4.5 5.3 4.8 5 5.5 4.4 6 3.6 6 3 6 2.9 8 2.1 8 1 6.5 .4 9-.4 8.5-1 6.5-2.1 8-2.9 8-3 6-3.6 6-4.4 6-5.3 5.8-5 4.5-6 4.5-5 3.1-7 3.4-7 2.6-8 2-7 .9-11 .1-5.5-.6-7.5-1.4-6.5-2-.5-.4-1-.2-.3-.3-4.2-1.6-7.5-4-6-4.1-6-5.1-3.7-3.7-5.1-6-5-7.5-2.9-5.5-2.6-6-2.4-7.5-1.5-7-1-8-.1-8.5 .5-6.5 1.1-6.5 2-7.5 2-5.5 3.5-7.5 3.9-6.5 4-5.5 5.3-5.9 6-5.5 5.5-4 6.5-3.9 6.5-3 3.7-1.2 .3-.3 1.2-.2 .3-.3 3.1-.7 .4-.3 1.6-.2 .4-.3 1.9-.2 .6-.3 2.1-.2 .9-.3zM468.6 77.8l0 .6 .3-.6zM592.1 78.3l-.2 0 .2 .5zM468.1 78.8l0 .6 .3-.6zM592.6 79.3l-.2 0 .2 .5zM467.6 79.7l0 .7 .3-.6zM593.1 80.2l-.3 .1 .3 .5zM467.1 80.7l0 .8 .3-.7zM593.6 81.2l-.3 .1 .3 .7zM466.6 81.6l-.6 1.7-.4 .3-.1 .7-.4 .3-.1 .7-.4 .4-.1 .6-.4 .4-.6 2.1-.4 .4-.1 1.1-.4 .3-.7 2.7-.3 .3-.7 3.2-.3 .3-.2 1.7-.3 .4-1.5 9-.2 8.6 .2 7.4 .3 1.1 .2 2.5 .3 1 .2 2 .3 .5 .7 4 .3 .5 .7 3 .4 .5 .1 1 .4 .5 .1 1 .8 1.5 .2 1.1 .4 .4 .6 2 .4 .5 .1 .6 .4 .4 .1 .6 .4 .4 .1 .6 .9 1.4 .1 .6 .5 .4 0 .6 .5-.1-3.5-8.5-2.5-9-1.4-8.5-.5-9 .2-9.5 1.1-8.5 2.2-9 1.5-4.5 1.8-4.5zM594.1 82.1l-.3 .2 .3 .8zM594.6 83.1l-.4 .2 2.9 8.5 2.1 9 .9 8 .2 9-.5 8.5-1.2 8-2.2 8.5-3.3 8.5 .5 .1 0-.6 .5-.4 0-.6 .5-.4 0-.6 .5-.4 0-.6 .5-.6 .1-.9 .4-.3 .1-.7 .4-.4 .6-2.1 .4-.4 .1-1.1 .4-.3 .1-1.2 .4-.3 .1-1.2 .4-.4 .2-1.6 .3-.2 .7-3.8 .3-.4 .2-2.1 .3-.5 .2-2.5 .3-.7 .6-6.8-.1-8-.3-1.5-.2-3.6-.3-.9-.1-2-.4-1-.2-1.9-.3-.6-.2-1.7-.3-.3-.2-1.6-.3-.4-.2-1.3-.4-.7-.1-1-.4-.5-.1-1-.4-.5-.1-.8-.3-.2-.2-1.1-.4-.4-.6-2.1-.4-.4-.1-.6-.4-.4-.1-.7-.4-.3zM593.1 151.4l-.4 .9 .4 0zM592.6 152.4l-.2 .4 .2 .1zM468.1 152.8l0 1 .2-.5zM592.1 153.4l-.2 .4 .2 0zM468.6 153.8l0 .6 .2-.1zM591.6 154.4l-.2 .4 .2 0zM469.1 154.8l0 .5 .3 0zM469.6 155.8l0 .5 .2 0zM487.8 181.8l.3-.2 1.3 .7-.3 .2zM489.4 182.8l.2-.2 .6 .2-.1 .2zM491.1 183.8l.8 0-.3 .2zM492 184.3l.1-.2 .7 .2-.2 .2zM492.9 184.8l.2-.2 .7 .2-.2 .2zM493.8 185.3l.3-.2 .6 .2-.1 .3z"/><path fill-opacity="0.181" d="M524.1 37.8l6-.2 6 .2 7.5 .9 7 1.5 6.5 2.1 6 2.4 6.5 3.4 5.5 3.5 6 4.6 4.5 4.2 4.6 4.9 4.6 6 3.5 5.5 3.3 6.5 2.7 6.5 1.8 6 1.2 5 1 6.5 .4 6.5-.1 7.1-.9 7.9-1.5 7-2 6.5-2.6 6.4-3.4 6.6-3.5 5.5-5.1 6.5-3.5 3.7-4.6 4.3-6.4 5-6.4 4-4.6 2.2-.4-.2 5.4-2.8 5.5-3.5 4.5-3.5 3.5-3 4.2-4.2 3.5-4 5.4-7.5 2.7-4.5 2.4-5 3.5-9 1.5-5.5 1-5 .5-4 .4-6.5 0-5-.4-6-1-6-1-4.5-1.6-5.5-1.9-5-2.1-4.5-2.4-4.5-3.2-5-2.9-4-2.9-3.5-3.8-4-3.9-3.6-4.5-3.5-4.5-3.1-4-2.4-5-2.5-5-2.1-4.5-1.5-5-1.4-5-1-4.5-.6-5.5-.4-6 0-6 .5-6 .9-4.5 1-5 1.5-5.5 2.1-4 1.8-4 2.1-5 3.1-4 2.9-5 4.1-3.7 3.6-3.6 4-2.8 3.5-3.1 4.5-3 5-2 4-2 4.5-2.1 6-1.4 5.5-1 5-.5 4-.5 6.5 0 4 .4 5.5-.2 1.3-.3-4.8-.2-1 0-8.6 1-8.7 2-8.6 2.5-7.2 3.5-7.6 4.4-7.3 4.5-6 5.1-5.5 5.5-5 7-5.1 7-4 6.5-3 7-2.4 8.5-2zM524.2 40.3l2.9-.2 5.5-.1 7 .6 6 1 7 2 8 3.1 6.5 3.4 6 4 5 4 5.3 5.2 4.3 5 4.6 6.5 3.9 7 3 7 2.1 6.5 1.6 7 1 8 .1 8.5-.6 7.5-1.1 6.5-2.1 7.5-2.9 7.5-3.5 7-4.6 7-4 5-5.1 5.3-5 4.3-6.5 4.6-6 3.4-7 3-6 2-7 1.6-8 .9-7 .1-6.5-.6-8-1.5-6.5-2-6-2.4-7-3.7-6-3.9-6-4.9-5.5-5.5-4.6-5.7-4-6-3.5-6.5-3.1-7.5-2-6.5-1.4-7-.8-6.5-.2-7 .5-7.5 1-6.5 2-8 3-8 2.9-6 4-6.5 4.6-6 5.6-6 6-5.2 5-3.5 6-3.5 6.5-3 7.5-2.5 6.5-1.5zM528.6 41.8l-6.9 .5-8.1 1.5-6.8 2-7.2 3-5.6 3-6 4-5.4 4.5-5.1 5-4.4 5.4-4 5.9-3.5 6.4-3.1 7.3-2 6.5-1.5 7-.9 8.3-.1 7.2 .6 6.5 1.4 8 2 7 3 7.5 3.4 6.5 3.6 5.5 4.1 5.2 5.5 5.8 5.5 4.7 6.5 4.5 6.5 3.4 6 2.5 6.5 2 7.5 1.5 6 .6 8.5 0 6-.7 7-1.4 6.5-2 7-3 6.5-3.6 5-3.4 5.5-4.6 5-5 4.5-5.5 4-6 3.5-6.5 3-7.3 2-6.7 1.5-7.5 .7-7 0-7.5-.6-7.5-1.1-5.8-2-7.2-2.5-6.6-3.4-6.9-3.6-5.7-4.5-5.9-4.7-4.9-4.3-4-6.8-5-6-3.5-6.5-3-7.4-2.5-6.7-1.5-4.6-.6zM528.6 43.8l7 .2 7 .8 6.5 1.4 6.5 2.1 6 2.7 5.6 3.3 5.4 4 5 4.5 4.4 5 4 5.5 3.5 6 2.7 6 2.3 6.5 1.7 7 1.1 7 .5 7.5-.1 7.5-.7 7.5-1.2 7-1.9 7-2.5 6.5-3.2 6.5-3.6 5.7-4.2 5.3-4.8 5-5 4.2-5.5 3.7-6 3.2-6 2.4-6.5 1.8-7 1.3-7 .5-7-.1-7-.7-6.5-1.4-6.5-2.1-6-2.6-6-3.4-5.2-3.8-5.1-4.5-4.5-5-4-5.5-3.6-6-2.7-6-2.5-7-1.7-7-1.1-7-.5-7.5 .1-7.5 .7-7.5 1.2-7 2-7 2.4-6.5 3-6 3.7-6 4.3-5.5 4.9-5 5.1-4.2 5.5-3.7 6-3.2 6.5-2.5 6.5-1.8 7-1.2zM453 126.3l.1-.3 0 2.9zM453.5 129.8l.1-.3 0 2zM454.5 134.8l.1-.3 0 1.1zM455.1 136.8l0-.2 0 .8zM562.6 186.8l1-.3 .1 .3-.6 .2zM561.5 187.3l1.1-.4 0 .4-1 .3zM560.4 187.8l.7-.2 .4 .2-.9 .2zM559.2 188.3l.9-.2 .2 .2-.7 .2z"/><path fill-opacity="0.230" d="M528.6 37.8l3.5 0 7 .5 6.6 1 7.8 2 8.1 3 7 3.5 7.1 4.5 7.4 6 5 5 4.5 5.4 4.5 6.6 4 7.4 3.5 8.9 2 7.2 1.5 9.3 .2 6.7-.2 8.9-.2-13.9-1-7.5-1.1-5-1.5-5-2-5.5-2-4.5-4.5-8-3.5-5-2.4-3-3.6-4-3.7-3.6-5.5-4.6-3.5-2.5-4-2.5-4.5-2.5-4.5-2.1-5-1.9-9-2.5-5.5-1-6-.6-6-.1-5.5 .2-4.5 .5-5.5 1-5.5 1.4-6 2-6 2.6-3 1.7-.1-.5 6.1-3 5.1-2 4.7-1.5 8.9-2 3.8-.5zM526.6 40.3l7 0 8 .8 7.5 1.6 6 1.9 6 2.6 6.5 3.5 6 4 6 5 5.5 5.7 4.6 5.9 3.6 5.5 3.4 6.5 3 7.5 2.1 7 1.4 7.5 .6 7 0 7.5-.6 7-1.5 7.5-2 7-3 7.5-3.4 6.5-3.6 5.5-5.1 6.4-5 5.1-6 5-6 4.1-6.5 3.5-7.2 2.9-6.8 2-8.6 1.5-5.4 .4-7.5-.2-6.8-.7-6.9-1.5-7.5-2.5-6.6-3-7.7-4.5-6-4.5-4.5-4-5.5-6-4-5.3-3.5-5.7-3.5-7-2.5-6.5-2-7.3-1.1-6.2-.7-7.5 0-7.5 .7-7 1.5-7.5 2-7 2.4-6 3.6-7 4.6-7 4.4-5.5 5.6-5.7 5.5-4.5 5-3.4 6.5-3.6 6.5-2.8 6.5-2.1 7-1.5zM525.1 41.8l-7 .9-7 1.6-7 2.3-6.5 3-6 3.5-5.5 4-5.4 4.7-5.2 5.5-4.5 6-4 6.5-3.1 6.5-2.4 6.5-2 7.5-1.1 6-.6 7.5 .2 8 .9 7.5 1.5 7 2.5 7.5 3.1 7 3.4 6 4.5 6.5 4.3 5 5.4 5.2 6.5 5.1 5.5 3.4 6 2.9 7 2.7 7.5 1.9 6.5 1 7 .3 6.5-.2 7.5-1.1 6.5-1.6 7-2.4 6.5-3.1 6.5-4 6-4.5 5-4.7 4.5-5 3.7-4.9 4-6.5 3.3-7 2.6-7 2-8 1-6.5 .4-7.5-.3-7-1.1-8-1.5-6.5-2-6-3-7-3-5.5-4.4-6.5-4.6-5.5-5.1-5-5.6-4.5-6.4-4.2-6.5-3.3-6.5-2.5-7.5-2.1-6-1-7-.6zM522.6 45.3l5.5-.4 7.5 .1 7.5 1 5 1 6 1.9 6 2.6 5.5 3.1 5.5 3.9 4 3.4 4.3 4.4 3.9 5 4.1 6.5 3 6 2.5 6.5 2 7.5 1 5.5 .6 5 .3 9.5-.4 7.5-1 7-2 8-2.5 7-3.4 7-3.1 5-4.5 6-4.3 4.5-5 4.3-5 3.5-6.5 3.6-6 2.4-6.5 1.9-6 1.1-6 .6-9 0-6-.6-5.5-1-7-2.1-6-2.5-5.5-2.9-5-3.4-5.5-4.7-4.9-5.2-3.4-4.5-3.5-5.5-3-6-2.5-6.5-2-7-1.5-8-.5-7 0-9 .6-6.5 1.4-8 2-7 2.5-6.5 3.1-6 3.4-5.5 3.9-5 5.9-5.9 4-3.4 6-3.9 6-3.1 6.5-2.5 8-2zM492.1 47.8l.5-.2 .5 .2-1.5 .7-.4-.2zM490.4 48.8l.7-.3 .2 .3-.7 .3zM489.5 49.3l.6-.2 .3 .2-1.3 .7-.3-.2zM488 50.3l.6-.3 .2 .3-.7 .3zM487.2 50.8l.4-.2 .4 .2-.4 .2zM486.5 51.3l.6-.3 .1 .3-.6 .3zM485.8 51.8l.3-.2 .3 .2-.3 .2zM485 52.3l.6-.3 .1 .3-.6 .3zM484.4 52.8l.6 0-.4 .2zM483.7 53.3l.4-.2 .2 .2zM483 53.8l.6-.3 0 .3-.5 .3zM482.4 54.3l.5 0-.3 .2zM481.8 54.8l.3-.2 .2 .2zM481.1 55.3l.5-.2 .1 .2-.6 .4zM480.5 55.8l.6 0-.5 .2zM480 56.3l.4 0-.3 .2zM478.9 57.3l.2-.2 .1 .2zM478.3 57.8l.3-.2 .1 .2zM477.6 58.3l.5-.2 0 .2zM477.1 58.8l.4 0-.4 .2zM476.6 59.3l.3 0-.3 .2zM476.1 59.8l.2 0-.2 .2zM475.5 60.3l.3 0-.2 .2zM475.1 60.8l.2 0-.2 .2zM474.6 61.3l.1 0-.1 .2zM607.6 124.8l0-.5 0 3.3zM606.6 131.3l0-.2 0 1.8zM606.1 133.8l0-.3 0 1.5zM605.6 135.8l0-.2 0 1.3zM605.1 137.8l0-.3 0 1z"/><path fill-opacity="0.299" d="M522.4 40.8l7.7-.4 7 .3 7 1 6 1.5 6.3 2.1 6.6 3 6.1 3.5 5 3.5 5.3 4.5 5.2 5.3 4.6 5.7 3.9 6 3.5 6.7 2.6 6.3 1.9 6.1 1.6 7.4 .9 8 .1 6.5-.5 7.5-1.1 6.5-2 7.7-2.5 6.8-3 6.2-3.5 5.9-3.5 4.9-5.5 6.3-4.5 4.2-6.4 5-5.7 3.5-5.9 3-6.5 2.5-5.1 1.5-1.9 .3-.2 .2-2.3 .2-.1-.2 4.1-.8 7.5-2.4 6-2.6 5.5-3 4.5-3 4-3 4-3.5 3.6-3.7 3.1-3.5 4.1-5.5 2.5-4 2.9-5.5 2-4.5 1.9-5.5 1.6-5.5 1-5 .6-4.5 .4-6-.1-5-.4-6-1-6-1-4.5-1.5-5-2.1-5.5-2.3-5-2.2-4-2.9-4.5-3-4-3.4-4-4.3-4.3-4-3.4-4-3-4.5-2.9-5-2.7-5.5-2.3-4.5-1.6-5.5-1.5-5-.9-5-.6-5-.2-5.5 .2-5 .6-5.5 1-5.5 1.5-5.5 1.9-4.5 2-4.5 2.4-4 2.5-3.5 2.6-5 4.1-3.7 3.6-3.5 4-3.5 4.5-2.6 4-2.8 5-2.1 4.5-2 5-2 6.5-1.5 7.5-.6 5.5-.2 6.5 .3 7.5 1 7 1.4 6 .3 .5 .3 1.5-.3 .1-1.5-5.3-1-4.7-1-8.1-.1-7.5 .6-8.3 1-5.8 2-7.5 3-7.8 3.5-6.9 4-6.3 4-5.1 5.5-5.8 6-5.1 6.5-4.4 6.5-3.5 7.5-3.1 7-2zM523.8 45.8l6.8-.3 7 .4 6.5 .9 6 1.5 6 2.1 6 2.9 5.5 3.4 4.7 3.6 4.8 4.5 4 4.7 3.8 5.3 3.4 6 2.6 6 2.2 6.5 1.6 6.5 1 7 .5 7.5-.2 7.5-.7 7-1.4 7-1.8 6.5-2.6 6.5-3.1 6-3.8 6-4.5 5.5-4.5 4.5-5 4-5.5 3.5-6 3-6 2.3-6.5 1.7-6.5 1-7 .4-7-.3-6.5-.8-6.5-1.5-6-2-6-2.8-5.5-3.3-4.9-3.7-4.9-4.5-4.2-4.8-3.7-5.2-3.5-6-2.7-6-2.2-6.5-1.7-7-1-7-.5-7.5 .2-8 .8-7 1.4-7 2-6.5 2.6-6.5 3.3-6.3 3.8-5.7 4.2-5.1 5-4.9 5.1-4 5.4-3.3 6-2.9 6.5-2.4 6.5-1.5zM460.9 139.8l.2-.4 .2 1.4-.2 .1zM461.4 141.3l.2-.3 .1 1.3-.1 0zM461.9 142.8l.2-.4 .2 .9-.2 .3zM462.5 143.8l.2 .5-.1 .6zM463 145.3l.1-.2 0 1zM464 147.8l.1-.3 0 .8zM464.5 148.8l.1-.2 0 .8zM540.6 190.3l2.5-.2 .3 .2-2.3 .2z"/><path fill-opacity="0.410" d="M524.3 40.8l5.3-.2 5.5 .1 8.5 1.1 8 2 4.3 1.5 4.7 2 7.4 4 7.1 5 3.5 3 4 3.9 6 7.1 5 7.7 4 8.2 3 8.6 2 9 .5 4 .3 7-.3 9.5-1.5 8.9-2 7.2-.4-.1 1.6-5.5 1.6-8 .5-6 0-8.5-.6-6.5-.9-5.5-1.6-6-2-6-2.9-6.5-3.1-5.5-3-4.5-3.9-5-4.3-4.7-5-4.5-5.5-4.1-5.5-3.4-5-2.5-6.5-2.6-6.5-1.9-5.5-1-4.5-.6-7-.3-7 .4-6.5 1-6 1.5-4.5 1.5-6 2.5-5.5 3-5.5 3.5-5 4-5.9 5.7-4.1 4.7-.3-.2 3.8-4.6 6-5.9 6.5-5 6.5-4 6.2-3 6.7-2.5 8-2zM525.1 46.3l7-.1 6.5 .4 6.5 1 6 1.6 5.5 2.1 6.1 3 5.4 3.5 5 4 4.5 4.5 4 4.8 3.5 5.2 3.2 6 2.6 6 2 6.5 1.6 7 .8 7 .3 7.5-.3 7.5-.9 7-1.4 6.5-2.1 6.5-2.8 6.5-3.3 6-3.7 5.4-4.3 5.1-4.7 4.5-5 3.8-5.5 3.4-5.9 2.8-6.1 2.1-6.5 1.6-6.5 .8-7 .3-7-.4-6.5-1-6-1.5-6.5-2.4-5.5-2.8-5.5-3.4-5-4-4.8-4.8-4.1-5-3.6-5.5-3.2-6-2.7-6.5-1.9-6.5-1.4-6.5-.8-7.1-.2-7.4 .3-7.5 1-7 1.6-7 2.2-6.5 2.7-6 3.3-6 3.9-5.5 4.4-5 4.8-4.5 5-3.7 5.6-3.3 6.4-2.9 6-2 6.5-1.4zM472.9 69.3l.2-.3 .2 .3-.2 .4zM472.5 69.8l.1-.2 .3 .2-.8 1.2-.3-.2zM471.4 71.3l.2-.3 .2 .3-.2 .4zM471 71.8l.4 0-.3 .6-.4-.1zM470.4 72.8l.2-.4 .2 .4-.2 .3zM470 73.3l.1-.2 .3 .2-.3 .6-.3-.1zM469.4 74.3l.2-.4 0 .7zM469 74.8l.3 0-.2 .6-.2-.1zM468.5 75.8l.1-.3 .2 .3-.2 .4zM468.1 76.3l.2 0-.2 .7-.2-.2zM467.5 77.3l.1-.2 .2 .2-.2 .6-.2-.1zM467 78.3l.1-.3 0 .8zM466.5 79.3l.1-.4 0 .7zM464 84.3l.1-.4 0 .8zM463.5 85.3l.1-.2 0 .7zM462.5 87.8l.1-.3 0 .7zM460.1 95.3l0-.3 0 .5zM599 140.8l.1-.5 .2 .5-.7 2.4-.2-.4zM598.1 143.3l.3 0-.3 1.2-.2-.2zM597.5 144.8l.1-.3 .2 .3-.2 .9zM597.1 145.8l.2 0-.2 1.1-.2-.1zM596.5 147.3l.1-.4 .2 .4-.2 .7-.2-.2zM596 148.3l.1-.2 .2 .2-.2 .7-.2-.2zM595.5 149.3l.3 0-.2 .7zM595.1 150.3l.2 0-.2 .7zM594.6 151.3l.2 0-.2 .7zM594 152.3l.3 0-.2 .6zM593.5 153.3l.1-.2 .1 .2-.1 .5zM593 154.3l.1-.3 0 .7zM592.5 155.3l.1-.4 0 .6zM592.1 155.8l.1 0-.1 .6zM591.5 156.8l.1-.2 0 .5zM591 157.8l.1-.5 .1 .5zM590.5 158.3l.2 0-.1 .3zM589.5 159.8l.2 0-.1 .2z"/><path fill-opacity="0.583" d="M524.4 47.3l7.2-.2 6.5 .4 6.5 1 6 1.6 6 2.3 5.5 2.7 5 3.2 5 3.9 4.5 4.4 4 4.8 3.7 5.4 3 5.5 2.6 6 2.1 6.5 1.5 6.5 .9 7 .3 7-.2 7.5-.8 7-1.5 7-2.1 6.5-2.5 6-3.3 6-3.7 5.5-4 4.8-4.5 4.4-5 3.9-5.5 3.5-5.5 2.7-6.1 2.2-6.4 1.6-6.5 .9-6.5 .3-7-.3-6.5-.9-6-1.4-6-2.1-5.5-2.6-5.5-3.4-5-3.8-4.5-4.3-4.3-5-3.7-5.3-3.2-5.7-2.6-6-2.2-6.5-1.5-6.5-1-7-.3-7 .2-7.5 .8-7 1.4-7 2.1-6.5 2.7-6.5 3.2-6 3.8-5.5 4.2-5 4.7-4.5 5.2-4 5.5-3.4 6-2.8 6-2 6.5-1.5z"/><path fill-opacity="1.000" d="M526.1 48.8l8.1 0 5.4 .5 5.5 1 5.3 1.5 4.2 1.5 7 3.5 4 2.5 4 3 5 4.8 5 5.7 4 6.1 2.5 4.8 3 7.1 1.5 4.9 1.5 6.7 1 8.7 0 10.1-.5 5.2-1 6-1.5 5.9-2.5 7-2.5 5.2-3 5.3-4 5.5-4.5 5-4.5 4-4.1 3-4.9 3-6.5 3-6.2 2-4.2 1-7.5 1-11.1 0-4.3-.5-5.3-1-5.2-1.5-5.2-2-5.9-3-4.6-3-4.5-3.5-5.5-5.5-2.5-3-3.5-5-3.5-6.4-2.5-5.6-2-6-1.5-6.4-1-7.1-.2-7.5 .2-7.9 1-7.1 1.5-6.3 2-6.1 3-6.7 4-6.8 3-4.1 4.5-5 5-4.5 4-3 5-3 5.4-2.5 5.6-2 6.3-1.5z"/></g></mask>
<g mask="url(#mf1)"><g filter="url(#bl)"><path fill="#febf84" d="M526.1 24.8l8 0 .5 .5 6.5 0 .5 .5 3 0 .5 .5 2.5 0 .5 .5 2 0 .5 .5 1.5 0 .5 .5 1.5 0 .5 .5 1 0 .5 .5 1 0 .5 .5 1 0 .5 .5 1 0 .5 .5 1 0 .5 .5 1 0 .5 .5 .5 0 .5 .5 .5 0 .5 .5 .5 0 .5 .5 1 0 .5 .5 .5 0 .5 .5 .5 0 .5 .5 .5 0 1 1 .5 0 .5 .5 .5 0 .5 .5 .5 0 1 1 .5 0 1 1 .5 0 1 1 .5 0 1 1 .5 0 1.5 1.5 .5 0 2 2 .5 0 10 10 0 .5 2 2 0 .5 1.5 1.5 0 .5 1 1 0 .5 1 1 0 .5 1 1 0 .5 1 1 0 .5 .5 .5 0 .5 .5 .5 0 .5 1 1 0 .5 .5 .5 0 .5 .5 .5 0 .5 .5 .5 0 .5 .5 .5 0 .5 .5 .5 0 .5 .5 .5 0 1 .5 .5 0 .5 .5 .5 0 .5 .5 .5 0 1 .5 .5 0 1 .5 .5 0 1 .5 .5 0 .5 .5 .5 0 1.5 .5 .5 0 1 .5 .5 0 1.5 .5 .5 0 1 .5 .5 0 2 .5 .5 0 1.5 .5 .5 0 2.5 .5 .5 0 2.5 .5 .5 0 4 .5 .5 0 7.5 .5 .5 0 7-.5 .5 0 7.5-.5 .5 0 3.5-.5 .5 0 2.5-.5 .5 0 2.5-.5 .5 0 2-.5 .5 0 1.5-.5 .5 0 1.5-.5 .5 0 1-.5 .5 0 1.5-.5 .5 0 1-.5 .5 0 1-.5 .5 0 .5-.5 .5 0 1-.5 .5 0 1-.5 .5 0 .5-.5 .5 0 .5-.5 .5 0 1-.5 .5 0 .5-.5 .5 0 .5-.5 .5 0 .5-.5 .5 0 .5-.5 .5 0 .5-.5 .5 0 .5-.5 .5 0 .5-1 1 0 .5-.5 .5 0 .5-1 1 0 .5-.5 .5 0 .5-1 1 0 .5-1.5 1.5 0 .5-1 1 0 .5-2 2 0 .5-3.5 3.5 0 .5-.5 .5-3.5 3.5-.5 0-3.5 3.5-.5 0-1.5 1.5-.5 0-1.5 1.5-.5 0-1 1-.5 0-1 1-.5 0-1 1-.5 0-.5 .5-.5 0-1 1-.5 0-.5 .5-.5 0-.5 .5-.5 0-.5 .5-.5 0-.5 .5-.5 0-.5 .5-.5 0-.5 .5-.5 0-.5 .5-1 0-.5 .5-.5 0-.5 .5-.5 0-.5 .5-1 0-.5 .5-1 0-.5 .5-1 0-.5 .5-1 0-.5 .5-1.5 0-.5 .5-1 0-.5 .5-1.5 0-.5 .5-2 0-.5 .5-2.5 0-.5 .5-3 0-.5 .5-5 0-.5 .5-12 0-.5-.5-5 0-.5-.5-3 0-.5-.5-2 0-.5-.5-2 0-.5-.5-1.5 0-.5-.5-1.5 0-.5-.5-1 0-.5-.5-1 0-.5-.5-1 0-.5-.5-1 0-.5-.5-1 0-.5-.5-.5 0-.5-.5-1 0-.5-.5-.5 0-.5-.5-.5 0-.5-.5-.5 0-.5-.5-.5 0-.5-.5-.5 0-.5-.5-.5 0-.5-.5-.5 0-.5-.5-.5 0-.5-.5-.5 0-1-1-.5 0-.5-.5-.5 0-1-1-.5 0-1-1-.5 0-1.5-1.5-.5 0-1.5-1.5-.5 0-2.5-2.5-.5 0-7.5-7.5 0-.5-2.5-2.5 0-.5-1.5-1.5 0-.5-1.5-1.5 0-.5-1-1 0-.5-1-1 0-.5-.5-.5 0-.5-1-1 0-.5-.5-.5 0-.5-1-1 0-.5-.5-.5 0-.5-.5-.5 0-.5-.5-.5 0-.5-.5-.5 0-.5-.5-.5 0-.5-.5-.5 0-1-.5-.5 0-.5-.5-.5 0-.5-.5-.5 0-1-.5-.5 0-.5-.5-.5 0-1-.5-.5 0-1-.5-.5 0-1-.5-.5 0-1-.5-.5 0-1.5-.5-.5 0-1.5-.5-.5 0-1.5-.5-.5 0-1.5-.5-.5 0-2-.5-.5 0-2.5-.5-.5 0-3.5-.5-.5 0-5-.5-.5 0-15.5 .5-.5 0-5 .5-.5 0-3.5 .5-.5 0-2.5 .5-.5 0-2 .5-.5 0-1.5 .5-.5 0-1.5 .5-.5 0-1.5 .5-.5 0-1 .5-.5 0-1.5 .5-.5 0-1 .5-.5 0-1 .5-.5 0-.5 .5-.5 0-1 .5-.5 0-.5 .5-.5 0-1 .5-.5 0-.5 .5-.5 0-.5 .5-.5 0-1 .5-.5 0-.5 .5-.5 0-.5 .5-.5 0-.5 .5-.5 0-.5 1-1 0-.5 .5-.5 0-.5 .5-.5 0-.5 1-1 0-.5 1-1 0-.5 1-1 0-.5 1-1 0-.5 1-1 0-.5 2-2 0-.5 2.5-2.5 0-.5 6.5-6.5 .5 0 2.5-2.5 .5 0 2-2 .5 0 1-1 .5 0 1-1 .5 0 1-1 .5 0 1-1 .5 0 .5-.5 .5 0 1-1 .5 0 .5-.5 .5 0 .5-.5 .5 0 .5-.5 .5 0 .5-.5 .5 0 .5-.5 .5 0 .5-.5 .5 0 .5-.5 1 0 .5-.5 .5 0 .5-.5 1 0 .5-.5 .5 0 .5-.5 1 0 .5-.5 1 0 .5-.5 1 0 .5-.5 1.5 0 .5-.5 1.5 0 .5-.5 1.5 0 .5-.5 2 0 .5-.5 2.5 0 .5-.5 3 0 .5-.5 6 0z"/><path fill="#feb47b" d="M521.6 43.3l7-.4 7.5 .1 6.5 .8 6.5 1.4 6.5 2.1 6 2.7 5.7 3.3 5.3 3.8 5 4.4 4.5 4.9 4 5.4 3.6 6 2.9 6.1 2.3 6.4 1.9 7 1.2 7 .6 7.5 0 8.5-.6 7.5-1.2 7-1.8 7-2.4 6.5-3.1 6.5-3.7 6-4.2 5.5-4.6 5-5.3 4.5-5.6 3.9-6 3.2-6.5 2.7-6.5 1.9-7 1.3-7 .5-7.5-.1-7-.7-6.5-1.3-6.5-2.1-6-2.5-6-3.4-5.5-3.9-5-4.4-4.5-4.9-4-5.3-3.6-5.9-2.9-6-2.5-6.8-1.9-7.2-1.2-7-.6-7.5 0-8.5 .6-7.5 1.3-7.5 1.9-7 2.7-7 2.9-6 3.8-6 4.3-5.5 4.7-4.9 5.5-4.6 5.5-3.7 6-3.2 6.5-2.5 7-2z"/><path fill="#feaa74" d="M527.2 44.3l7.4 .1 6.5 .6 6.5 1.3 6.5 2 6 2.5 5.5 3 5.5 3.9 4.8 4.1 4.7 5 4 5.2 3.6 5.8 2.9 6 2.1 5.5 2 7 1.5 8 .6 7 .1 7.5-.5 7.5-1.2 7.5-1.5 6-2.5 7-3 6.5-3.6 6.1-4 5.4-4.5 4.9-5 4.4-5.5 3.9-5.5 3.1-6 2.7-6.5 2-6.5 1.3-7 .7-7.5 .1-6.5-.5-6.5-1.2-6.5-1.8-6-2.4-6-3.2-5.5-3.7-5-4.2-4.9-5.1-4.1-5.3-3.5-5.7-3-6-2.6-7-1.9-7-1.2-6.5-.7-7-.1-7.5 .4-7 1.1-7 1.9-8 2.5-7 3.1-6.5 3.5-5.8 3.9-5.2 4.6-5 5-4.4 5.5-3.9 6-3.3 6-2.5 6.5-2 7-1.3z"/><path fill="#fea16e" d="M524.6 45.3l7-.2 7 .4 6.5 1.1 6 1.6 6 2.2 6 3 5.5 3.5 5 3.9 4.6 4.5 4.1 5 3.7 5.5 3.2 6 2.7 6.5 2.1 6.5 1.4 6.5 .9 7 .3 7.5-.3 7.5-.8 7-1.5 7-2 6.5-2.7 6.5-3.2 6-4 5.9-4.3 5.1-4.7 4.5-5.2 4-5.6 3.5-6.2 2.9-6 2.2-6.5 1.5-6.5 .9-7 .3-7-.3-6.5-.9-6.5-1.6-6-2.2-6-2.9-5.5-3.4-5-3.8-4.5-4.3-4.5-5.3-3.9-5.6-3.1-5.7-2.7-6.3-2.1-6.5-1.6-7-.9-7-.4-7.5 .3-8 .8-7 1.5-7 2.2-7 2.8-6.5 3.3-6 3.8-5.5 4.2-5 4.8-4.6 5.5-4.2 5.5-3.3 6-2.8 6.5-2.3 6.5-1.4z"/><path fill="#fd9869" d="M523 46.3l7.1-.3 7 .3 6.5 .9 6 1.4 6 2.1 5.6 2.6 5.4 3.2 5 3.8 4.5 4.1 4.3 4.9 3.7 5.1 3.4 5.9 2.8 6 2.2 6.5 1.7 6.5 1.1 7 .5 7.5-.1 7.5-.7 7-1.4 7-1.8 6.5-2.5 6.5-3.1 6-3.6 5.7-4.2 5.3-4.8 4.9-5 4.1-5.4 3.5-5.9 3-5.7 2.2-6.5 1.7-6.5 1.1-7 .4-7-.2-6.5-.7-6-1.4-6-1.9-6-2.7-5.5-3.2-5.2-3.8-4.8-4.3-4.2-4.7-4-5.5-3.3-5.7-2.9-6.3-2.3-6.5-1.6-6.5-1.1-7-.5-7.5 .2-7.5 .7-7 1.3-7 1.8-6.5 2.6-6.5 3-6 3.9-6 4.4-5.5 4.5-4.5 5-4 5.5-3.6 6-3 6-2.2 6.5-1.7z"/><path fill="#fc8c63" d="M523 47.3l6.6-.3 6.5 .2 6.5 .8 6 1.4 6 2 5.5 2.5 5.5 3.2 5 3.7 4.5 4.1 4.4 4.9 3.6 5 3.5 5.9 2.8 6.1 2.1 6 1.7 6.5 1.1 7 .5 7-.1 7.5-.6 7-1.3 7-1.9 6.5-2.5 6.5-3 6-3.6 5.5-4.2 5.4-4.5 4.5-4.9 4.1-5.1 3.4-5.5 2.8-6 2.4-6.5 1.8-6.5 1.1-7 .4-7-.2-6.5-.8-6-1.3-6-2-5.5-2.5-5.5-3.2-5-3.6-4.7-4.3-4.3-4.8-3.8-5.2-3.3-5.5-2.8-6-2.3-6.5-1.6-6.5-1.1-7-.5-7.5 .1-7.5 .7-7 1.4-7 1.9-6.5 2.6-6.5 3.1-6 3.6-5.5 4-5 4.5-4.5 5-4.1 5.5-3.6 6-3 6-2.2 6.2-1.6z"/><path fill="#fb835f" d="M527.5 48.3l6.6 0 6.5 .7 6 1.2 6 1.8 5.5 2.4 5.5 3 5 3.5 5 4.4 4.2 4.5 3.8 5 3.3 5.5 2.9 6 2.3 6 1.7 6.5 1.2 6.5 .6 7 0 7-.6 7-1 6.5-1.7 6.5-2.4 6.5-2.8 5.8-3.5 5.7-3.7 5-4.3 4.6-5 4.4-5 3.5-5.5 3-6 2.5-6 1.8-6 1.2-6.5 .6-7 0-6.5-.7-6-1.1-6-1.9-5.5-2.3-5.5-3-5-3.5-4.8-4.1-4.3-4.5-3.9-5.1-3.3-5.4-3-6-2.2-6-1.8-6.5-1.2-6.5-.7-7 0-7 .5-7 1.2-7 1.7-6.5 2.4-6.5 2.9-6 3.3-5.5 3.8-5 4.4-4.7 4.9-4.3 5.1-3.5 5.5-3 6-2.5 6-1.8 6.5-1.2z"/><path fill="#f9785d" d="M523.8 50.3l6.3-.3 6.5 .3 6 .8 6 1.5 5.5 2 5.5 2.6 5 3 4.7 3.6 4.3 4 4.3 5 3.5 5 3.1 5.5 2.7 6 2 6 1.4 6 1 6.5 .4 7-.2 7-.7 6.5-1.3 6.5-1.8 6-2.5 6-2.9 5.7-3.5 5.3-4 5-4.5 4.5-5 4-5 3.2-5.5 2.7-6 2.2-6 1.6-6 .9-6.5 .3-6.5-.3-6-.8-6-1.4-5.5-2-5.5-2.6-5-3-5-3.8-4.5-4.2-4-4.7-3.6-5.1-3.1-5.5-2.6-6-2-6-1.5-6-.9-6.5-.4-7 .2-7 .7-6.5 1.4-6.5 1.9-6.5 2.5-6 3-5.5 3.6-5.5 3.8-4.6 4.5-4.4 5-4 5-3.2 5.5-2.7 6-2.2 6-1.5z"/><path fill="#f66e5c" d="M525.9 53.3l6.2-.1 6 .4 5.5 1 5.5 1.5 5.5 2.2 4.8 2.5 4.7 3.1 4.5 3.6 4.3 4.3 3.7 4.5 3.3 5 2.7 5 2.3 5.5 1.9 6 1.3 6 .8 6.5 .2 6.5-.3 6.5-.9 6-1.4 6-2 6-2.4 5.5-3.1 5.5-3.5 5-3.9 4.5-4.3 4-4.7 3.6-5 3-5.5 2.6-5.5 1.8-5.5 1.3-6 .8-6 .1-6-.4-6-1-5.5-1.5-5.5-2.1-5-2.6-4.7-3.1-4.4-3.5-4-4-3.9-4.7-3.2-4.8-3-5.5-2.3-5.5-1.9-6-1.3-6-.8-6.5-.2-6.5 .4-6.5 .9-6.5 1.5-6 1.9-5.7 2.5-5.6 3-5.3 3.5-4.9 3.9-4.5 4.3-4 4.8-3.6 5-3 5.5-2.5 5.5-1.9 6-1.3z"/><path fill="#f3655c" d="M522.9 56.8l5.2-.4 6 0 5.5 .7 5.6 1.2 5.4 1.8 4.8 2.2 4.7 2.8 4.4 3.2 4.1 3.7 3.9 4.3 3.3 4.5 3 5 2.4 5 2 5.5 1.5 5.5 1 6 .5 6-.1 6-.6 6-1.2 6-1.7 5.5-2.2 5.5-2.6 5-3.2 5-3.5 4.5-4 4.1-4.5 3.8-4.5 3-5 2.7-5 2-5.5 1.6-5 .8-5.5 .5-6-.1-5.5-.7-5.3-1.2-5.2-1.7-5-2.3-4.5-2.7-4.5-3.3-4.4-4-3.5-4-3.3-4.5-3-5-2.4-5-2-5.5-1.5-5.5-1-6-.5-6 .1-6 .6-6 1.2-6 1.6-5.5 2.1-5.5 2.6-5 3.2-5 3.5-4.5 3.9-4 4.3-3.6 4.5-3.1 5-2.7 5-2.1 5.3-1.5z"/><path fill="#ef5d5e" d="M524 60.3l5.1-.4 5.5 .2 5 .6 5 1.2 5 1.7 4.8 2.2 4.7 2.8 4 3 4 3.7 3.5 4 3.3 4.5 2.6 4.5 2.3 5 1.8 5 1.4 5.5 .9 5.5 .3 5.5-.2 5.5-.6 5.5-1.2 5.5-1.8 5.5-2.1 5-2.7 4.8-3 4.5-3.5 4.2-4 3.9-4 3.2-4.5 2.9-4.5 2.3-5 1.9-5 1.3-5 .8-5 .3-5.5-.2-5-.6-5-1.3-5-1.7-4.5-2.2-4.5-2.8-4-3-4-3.7-3.5-4-3-4.2-2.9-4.9-2.3-5-1.7-5-1.4-5.5-.8-5.5-.4-5.5 .2-5.5 .7-5.5 1.2-5.5 1.7-5.5 2.2-5 2.5-4.6 2.9-4.4 3.3-4 3.8-3.8 4-3.2 4.5-3 4.5-2.3 5-2 5-1.4z"/><path fill="#e95462" d="M524.1 63.8l5-.4 5 .1 5 .7 4.5 1 4.5 1.5 5 2.3 4.5 2.7 4 3.1 3.8 3.5 3.2 3.7 3.1 4.3 2.3 4 2.1 4.5 2.2 6 1.1 4.5 .8 5 .3 5-.3 5-.9 6-1.2 4.5-1.7 5-2 4.5-2.2 4-3.2 4.5-3.4 4-3.5 3.4-4 3.1-4 2.6-4.5 2.3-4.5 1.7-4.5 1.2-5 .8-5 .3-5-.3-4.5-.6-4.5-1.1-4.5-1.7-4.5-2.1-4.2-2.6-4-3-3.7-3.5-3.1-3.5-3-4.1-2.6-4.4-2.3-5-1.7-5-1.2-4.5-.7-5-.4-5 .2-5.5 .5-4.5 1.1-5 1.6-5 1.9-4.5 2.4-4.5 3-4.5 3.2-3.9 3.5-3.5 4-3.3 4-2.6 4.5-2.3 4-1.6 4.5-1.4z"/><path fill="#e34e65" d="M523.9 66.8l4.7-.5 4.5 .1 5 .5 4.5 1 4.5 1.5 4 1.8 4 2.3 3.9 2.8 3.6 3.2 3.1 3.3 3.5 4.5 2.9 4.5 2.1 4 1.7 4.5 1.3 4.5 .8 4.5 .4 5-.1 4.5-.7 5-1 4.5-1.6 4.5-1.8 4-3.1 5.5-2.8 4-2.9 3.5-3.3 3.3-3.5 2.8-4 2.7-4 2.1-4.5 1.8-4.5 1.3-4.5 .8-4.5 .4-4.5-.1-4.5-.6-4.5-1-4.5-1.6-4-1.8-4-2.4-4-2.9-3.5-3.2-3-3.3-2.9-3.8-2.5-4-2.4-5-1.8-4.5-1.3-4.5-1-5-.3-4.5 .1-4.5 .6-5 1-4.5 1.5-4.5 1.7-4 2.6-4.5 3-4.5 2.9-3.5 3.3-3.4 3.5-2.9 4-2.7 4-2.1 4-1.7 4.5-1.4z"/><path fill="#db476a" d="M527.5 69.3l4.6-.1 4.5 .4 4.5 .9 4.5 1.4 4 1.7 4 2.2 3.5 2.5 4.3 3.5 3.2 3.2 3 3.7 2.4 3.6 2.1 4 1.7 4 1.2 4 .9 4.5 .4 4.5 0 4-.5 4.5-.9 4.5-1.2 4-1.6 4-2.2 4-2.3 3.5-2.8 3.5-3.7 3.9-3 2.7-3.5 2.6-4 2.3-4 1.9-4.5 1.5-4.5 1-4.5 .6-4.5 0-4-.4-4.5-.9-4-1.2-4-1.6-4-2.2-3.5-2.4-3.5-2.9-3.3-3.4-3.7-4.4-2.4-3.6-2-3.5-1.7-4-1.5-4.5-.9-4.5-.5-4.5-.1-4 .4-4.5 .9-4.5 1.1-4 1.6-4 2.1-4 2.2-3.5 2.8-3.6 3-3.1 4.3-3.8 3.5-2.5 3.7-2.2 4-1.8 4-1.4 4.5-1.1z"/><path fill="#d3436e" d="M525.9 72.3l4.7-.2 4.5 .2 3.5 .5 5.5 1.4 4 1.5 3.5 1.7 3.5 2.2 3.5 2.6 3 2.7 3 3.3 2.5 3.4 2.2 3.7 1.9 4 1.4 4 .9 4 .7 4.5 .2 3.5-.4 4.5-.6 4-1.1 4-1.4 4-1.7 3.5-2.1 3.5-2.5 3.4-2.5 2.8-3 2.8-3 2.3-3.5 2.3-4.5 2.4-3.7 1.5-3.3 1.1-5 1-4.5 .3-3.5-.1-3.5-.3-4.7-1-4.3-1.4-3.5-1.6-5-2.9-3.6-2.6-3.4-3-2.8-3-2.7-3.5-2.1-3.5-2-4-1.4-3.9-1.1-4.1-.6-4-.3-4 .1-3 .6-5 1.1-4.5 1.4-4 1.8-4 2.1-3.5 2.6-3.5 2.8-3.2 3-2.7 3.5-2.7 3.5-2.1 4-2 4-1.4 5-1.4zM528.6 95.8l-3 .4-2.5 .6-2.5 .8-2.5 1.2-2.5 1.5-1.9 1.5-1.6 1.6-.9 1.4 .4 .5 1.1 0 4.9-4 2-1.2 2.5-1.2 4.5-1.3 4.5-.4 4.5 .4 4 1.2 2 .8 2.5 1.4 2 1.4 3.4 2.9 1 0 .4-.5-1.3-1.8-2.4-2.2-2.2-1.5-3.1-1.5-2.8-1-3.5-.8-3.5-.3zM512.1 123.8l-.9 .5 .5 1 .8 1 2.6 2.3 3 1.8 3 1.4 3 .9 3.5 .6 3 .2 3.5-.2 3-.4 3-.8 2.5-1 2.6-1.3 2.8-2 2-2 .9-1.5-.8-.5-.5 0-5 4.1-2.5 1.4-2.5 1.1-4.5 1.3-4.5 .3-2.5-.2-2.5-.4-4.5-1.5-3.5-2-2-1.5-2.4-2.1z"/><path fill="#cc3f71" d="M524.6 75.3l4-.4 4.5 0 4.5 .5 4 .8 4 1.3 4 1.8 3.5 1.9 3.5 2.5 3 2.6 3 3.2 2.5 3.3 2.2 3.5 1.7 3.5 1.4 4 .8 3 1.2 6 .1 2-.2 2-1.1 6.5-1.3 4.5-1.3 3.4-1.6 3.1-1.8 3-2.3 3-2.3 2.6-3 2.7-3 2.3-3 1.9-3.5 1.8-3.5 1.4-3.5 1-3.5 .7-4 .5-4 .1-4-.3-4-.7-4-1.1-4-1.5-3.5-1.8-3.5-2.2-3.1-2.4-2.9-2.8-2.8-3.2-2.2-3.1-2-3.6-1.7-3.8-1.1-3.5-.9-4-.7-5-.1-2 1.5-8.5 1.2-4 1.4-3.5 1.9-3.5 2.4-3.5 2.6-3.1 2.9-2.9 3.2-2.5 3.4-2.2 3.5-1.9 3.5-1.4 4-1.2zM529.1 93.3l-3.5 .4-3.5 .7-3.5 1.2-3 1.4-3 2-2.7 2.3-2.1 2.5-.7 1-.4 1 .4 .5 1 .2 4-.3 2.4-.9 4.6-3.3 3.5-1.7 4.5-1.2 4-.3 4 .3 4.4 1.2 3.6 1.8 4.5 3.2 2.5 1 4 .2 .9-.2 .4-.5-.4-1-.6-1-2.8-3.1-3-2.4-3.5-2-3.5-1.4-4-1.1-4-.5zM507.6 122.8l-.8 .5 0 .5 1.6 2.5 3 3 3.7 2.6 3.5 1.7 4 1.3 4 .8 4 .3 4-.2 4-.7 3.5-1 3.5-1.5 3.1-1.8 3.1-2.5 2.6-3 .7-1 .3-1-.7-.5-.6-.1-2.5 .1-1.5 .2-3.2 1.3-3.8 2.8-3.5 1.7-4.5 1.3-4.5 .3-4-.4-4.2-1.2-3.1-1.5-4.1-3-2.2-1-2-.5z"/><path fill="#c23b75" d="M525.8 77.8l3.8-.3 4 .1 4 .5 4 .9 4 1.3 3.5 1.6 3.5 2.1 3 2.2 2.9 2.6 2.6 2.8 2.4 3.2 2.1 3.3 1.3 2.7 1.2 3 2.7 10-.2 2.5-2 8-1.4 4-1.4 3-1.4 2.5-2.3 3.2-2 2.5-2.5 2.5-2.5 2.2-2.5 1.8-3 1.8-3 1.4-3.5 1.3-3 .9-3.5 .7-4 .4-4-.1-4-.4-4-.8-4-1.3-3.5-1.6-3.5-1.9-3.5-2.6-3-2.6-2.6-2.9-2.2-3-2.4-4-1.4-3-1.1-3-2.3-9.5-.1-1.5 .2-1.5 1.9-7.5 1.5-4 1.4-3 1.5-2.5 1.8-2.5 2.4-3 2.4-2.4 2.5-2.1 3-2.2 3-1.7 3-1.4 3.5-1.2 3.5-1zM531.1 90.8l-4.5 .3-4.5 .8-4.5 1.4-4 1.9-3.8 2.6-3.2 3-2.5 3.5-.8 1.5-.2 1 .5 .5 1.5 .1 6.5-.7 4.6-1.4 4.4-2.6 3-1.3 3.5-.9 4-.4 3.5 .3 3.5 .9 3 1.2 4.8 2.8 4.7 1.4 6.5 .7 1.5-.1 .4-.5-.2-1-.7-1.5-2.6-3.5-3.2-3-3.7-2.5-4.1-2-4.4-1.4-4.5-.8zM504.1 121.8l-.9 .5 0 .5 .6 1.5 1.6 2.5 3.2 3.5 3.9 3 3.7 2 3.9 1.5 4.5 1 5.5 .6 5-.2 5-.9 4.5-1.4 3.3-1.6 3.7-2.4 3-2.6 2.9-3.5 1.1-2 .4-1 0-.5-.4-.3-1-.2-1.8 0-5.2 .7-4.5 1.3-5 2.9-3 1.2-3.5 .9-4 .3-3.5-.4-3.5-.9-3-1.3-4.6-2.7-3.1-1-2.4-.5-3.9-.5z"/><path fill="#ba3878" d="M527 80.8l3.6-.2 3.5 .1 3.5 .4 5 1.1 3.5 1.2 3 1.3 3 1.8 2.5 1.8 2.5 2.2 2.3 2.3 2 2.5 1.9 3 2.3 4.7 1.9 6.3 1.4 3 .4 1.5 .1 1-.3 1.5-1.5 3.5-1.3 5-1.4 3.5-1.2 2.5-1.6 2.6-1.8 2.4-2.2 2.5-2.5 2.3-2.9 2.2-4.1 2.2-3.5 1.5-3.5 1-6 1.2-4 .2-4-.1-4-.5-3-.7-3.5-1-4-1.7-4-2.1-2-1.5-2.5-2.1-2.5-2.6-2.1-2.8-1.9-3-2.3-5-1.6-6-1.3-3-.4-1.5 0-1 .3-1.5 1.3-3 1.6-5.5 1.4-3.5 1.3-2.5 1.7-2.5 1.9-2.5 1.8-2 2.3-2.1 2.4-1.9 2.3-1.5 2.8-1.5 6-2.2 4.5-1zM528.1 88.8l-5 .6-4.5 1.2-4.5 1.8-4 2.3-3.5 2.8-3 3.3-2.5 4-.9 2 0 1 .5 .5 1.9 .1 9-1.4 3.2-.7 3.2-1 4.6-2.2 2.5-.9 3-.7 3-.2 3 .2 3 .7 2.5 .9 4.5 2.2 3.2 1 3.3 .7 9 1.4 1.5 0 .4-.1 .5-.5-.1-1-.8-2-1.4-2.5-1.6-2.1-3.5-3.5-2.4-1.9-2.1-1.3-5-2.3-5.5-1.6-5.5-.8zM501.1 120.8l-.8 .5 0 1 .8 2 1.4 2.5 1.5 2 1.7 2 2.2 2 2.2 1.6 4.5 2.6 5 1.9 5.5 1.2 5.5 .4 5.5-.3 5-.9 5-1.7 4.5-2.3 4-2.8 3.2-3.2 2.8-4 1-2 .4-1.5-.1-.5-.3-.3-.5-.2-1-.1-9.5 1.5-6.3 1.6-4.7 2.3-2.5 .9-3 .7-3.5 .2-3-.3-3-.7-2.5-1-4.3-2.1-3.5-1-3.2-.7-8-1.3z"/><path fill="#b2357b" d="M526.7 84.3l5.4-.2 5 .4 5 1.2 4.5 1.7 4.5 2.4 4 2.9 3.5 3.5 2.7 3.6-.2 .3-3-3.3-3.5-3-3.5-2.2-3.5-1.8-4.2-1.5-4.3-1-4.5-.6-4.5-.1-4.5 .3-4 .7-4 1.1-4.1 1.6-3.7 2-3.2 2.2-3.5 3.3-2.2 2.5-.3 .6-.5-.1 2-3 2.6-3 2.9-2.7 3.5-2.5 3.5-1.9 4-1.6 4-1.1zM561.5 100.8l.1-.4 .2 .4zM499.8 101.3l.3-.5 .2 .5-.2 .3zM499.6 101.8l.1 0-.1 .7-.2-.2zM529.4 102.3l2.7 0 3 .3 3 .9 5.8 2.3 6.6 1.5 11.6 2.3 2 0 .6-.3 .4-1 2.9 5 .2 1.5-.2 1-.7 1.5-2 3-.2 .7-.5-1.1-.5-.3-1-.1-1.5 .2-17.3 3.6-2.9 1-3.3 1.4-2.5 .8-2.5 .4-2 .1-2-.1-2.5-.4-2.5-.8-4.7-1.9-1.6-.5-17.2-3.6-2-.1-.9 .2-.4 .5-.2 1.2-.3-.7-2.7-4.5-.3-1.5 .2-1.5 3.1-5.5 .2 1 .3 .5 .5 .3 1 .1 2-.3 17.1-3.6 6.9-2.7 2-.5zM499 102.8l.2 0-.1 .5zM498 105.3l.1-.2 0 .3zM497.5 122.8l.1-.4 0 .6zM498 123.8l.1-.1 0 .7zM498.5 124.8l.2 .5-.1 .3zM498.9 125.8l.2-.1 .8 1.6 1.1 1.5 3.6 4 3 2.5 3.9 2.5 4.1 1.9 4 1.4 4.5 .9 5 .5 5 0 4.5-.6 4.9-1.1 4.1-1.5 4-2 3.7-2.5 3.3-3 2.7-3 .3-.6 .3 .1-.5 1-1.7 2.5-3.1 3.5-3.6 3-4.4 2.7-4.5 2-4.5 1.3-5 .8-5 .1-5-.5-5-1.1-4.6-1.8-4.4-2.4-4-3-3.1-3.1-3-4-1.6-3zM562.5 126.8l.1-.2 .2 .2-.2 .4zM561.9 127.8l.2-.3 .2 .3-.2 .4z"/><path fill="#a8327d" d="M528.1 103.3l3.5-.2 3.5 .4 7.3 2.3 13.7 2.9 9.5 2.7 1.1 1.4 .4 1 .1 1-.3 1-.5 1-.8 1-5.5 1.7-4.5 1.1-12.8 2.7-7.2 2.3-2.5 .4-2 .1-2-.1-2.5-.4-7.3-2.3-13.2-2.7-4-1.1-5.5-1.6-1-1-.5-1.1-.2-1.5 .2-1 .5-1 1-1 9.5-2.7 13.6-2.8 5.4-1.8z"/><path fill="#a02f7f" d="M526.6 104.3l3.5-.5 4 .2 8.9 2.3 13.6 2.8 4.5 1.5 3.5 1.7 1.2 1 .3 1-.1 1-.5 1-1.5 1-2.4 1.1-3.5 1.3-4 1-12 2.4-7 1.9-4 .4-4-.4-7.5-2-14.5-3-3-1-3.1-1.2-1.7-1-.7-.5-.5-.7-.2-1.3 .2-.7 .5-.7 1.7-1.1 2.8-1.3 5-1.5 13-2.7z"/><path fill="#982d80" d="M527.1 104.8l3.5-.4 3.5 .2 22 4.7 4.4 1.5 2.7 1.5 1.3 1.5 .2 1-.1 .5-1.3 1.5-1.5 1-2.7 1.2-3 .9-6.5 1.5-7.7 1.4-6.8 1.6-4 .4-4-.4-6.9-1.6-7.6-1.4-6.5-1.5-3-.9-2.8-1.2-1.6-1-1.2-1.5-.1-1 .4-1 .5-.5 2.2-1.5 3.1-1.3 5-1.4 12-2.3z"/><path fill="#8e2a81" d="M527.1 105.3l3.5-.3 3.5 .2 14 2.5 7 1.6 4.4 1.5 2.7 1.5 1.3 1.5 .2 1-.2 .5-1.2 1.5-1.5 1-2.2 1-3.1 1-6.6 1.5-12.8 2.4-2.5 .4-2.5 .1-2.5-.1-2.5-.4-12.9-2.4-6.6-1.5-3-1-2.3-1-1.5-1-1.2-1.5-.1-1 .4-1 .4-.5 2.2-1.5 2.6-1.1 3-.9 4.2-1z"/><path fill="#862781" d="M526.6 105.8l4-.4 4 .3 9.6 1.6 9.2 2 3.7 1.1 3.1 1.4 1.8 1.5 .3 .5 .2 1-.1 .5-.7 1-1.4 1-2.2 1.1-3.5 1.2-9.9 2.2-9.6 1.7-4 .3-3-.2-3-.4-10.2-1.9-6.8-1.6-3.1-.9-2.3-1-1.7-1-1.3-1.5-.1-.5 .2-1 .7-1 2.4-1.5 2.4-1 3.4-1 5.9-1.4z"/><path fill="#7e2482" d="M525.6 106.3l4.5-.5 4 .2 5.5 .8 10.5 2.1 5 1.4 3.5 1.5 1.9 1.5 .3 .5 .1 1-.4 1-.4 .5-1.3 1-2 1-2.9 1-5.3 1.3-8.3 1.7-5.2 .8-4 .3-4-.3-5-.8-8.5-1.7-4.5-1.1-3-.9-2.5-1.1-1.6-1.2-.7-1-.1-1 .1-.5 .8-1 1.4-1 2.6-1.2 7-1.9z"/><path fill="#752181" d="M528.3 106.3l4.3-.1 5.4 .6 9.8 2 4.1 1 3.1 1 3 1.5 1.4 1.5 .1 .5-.1 1-.7 1-1.3 1-2.1 1-3.2 1-4 1-9.6 2-4.4 .6-3 .1-3-.1-4.5-.6-11.9-2.5-3.5-1-2.5-1-1.7-1-1.3-1.5-.2-.5 .2-1 .8-1 1.4-1 2.2-1 3.5-1.1 4-1 9.5-1.9z"/><path fill="#6d1d81" d="M526.5 106.8l4.6-.3 4.5 .3 7.8 1.5 4.1 1 3.6 1 3.7 1.5 2.1 1.5 .3 .5 .2 1-.1 .5-.7 .9-1.5 1-2.4 1.1-3 1-5.8 1.5-6.3 1.3-3.5 .4-3 .2-3-.1-3-.4-6.9-1.4-5.1-1.3-3.7-1.2-2.3-1-1.5-1-.8-1-.1-1 .5-1 1.2-1 2.2-1.1 3.5-1.2 4.4-1.2z"/><path fill="#651a80" d="M525.9 107.3l3.7-.4 3.5 0 4.5 .6 3.4 .8 7.2 2 3.4 1.3 1.4 .7 1.3 1 .4 .5 .2 1-.5 1-1.2 1-1.9 1-2.8 1-9 2.5-4.4 .8-3.5 .2-4-.2-5-.8-7.5-2-3-1-2.3-1-1.6-1-.8-1-.2-1 .6-1 1.3-1 2-1 2.8-1 7.2-2z"/><path fill="#5c167f" d="M529.1 107.3l3.5 0 4.2 .5 10.3 3 2.5 1 1.8 1 .9 1 .2 .5-.1 1-.9 1-1.4 .9-4.3 1.6-8.6 2.5-3.1 .5-3 .2-3-.2-3.2-.5-8.6-2.5-4.2-1.6-1.5-.9-.9-1-.1-1 .6-1 1.3-1 2.1-1 11-3.3z"/><path fill="#54137d" d="M528.2 107.8l2.9-.2 2.8 .2 2.7 .5 3.4 1 6.1 2 2.4 1 1.4 1 .4 .5 .2 1-.4 .9-.7 .6-3.3 1.6-9.5 3-2.5 .5-3 .2-2.5-.2-2.5-.4-8.5-2.6-4.1-1.6-.9-.6-.9-.9-.1-1 .6-1 2.5-1.5 9.1-3z"/><path fill="#4c117a" d="M528.4 108.3l2.2-.2 2.5 .1 2.5 .5 3 .8 5.4 1.8 2.4 1 1.6 1 .4 .5 .3 1-.6 1-.6 .5-3.2 1.5-8.2 2.6-2.5 .5-2.5 .2-2-.1-2.5-.4-6.5-2-4.6-1.8-.9-.5-1-1-.1-1 .2-.5 .9-.9 1.1-.6 2.4-1 6-2z"/><path fill="#420f75" d="M528.5 108.8l2.1-.2 2.5 .1 2 .4 3 .9 5.2 1.8 2.1 1 1.2 1 .2 1-.6 1-.7 .5-3.2 1.5-6.7 2.2-2.5 .5-2 .1-3.5-.4-4.9-1.4-5.2-2-1.4-.8-.6-.7-.2-1 .2-.5 .6-.6 1.6-.9 6.9-2.5z"/><path fill="#390f6e" d="M528.5 109.3l2.1-.2 2 .1 2.5 .4 2.3 .7 4.1 1.5 2.1 1 1.2 1 .2 1-.6 1-.7 .5-3.3 1.5-5.3 1.8-2 .4-2 .1-3.5-.4-4.6-1.4-4.6-2-.7-.5-.6-.9 0-.6 .3-.5 .4-.5 1.7-1 5.2-2z"/><path fill="#311165" d="M528.4 109.8l2.2-.2 2.5 .1 2.5 .6 2.9 1 2 1 .9 1 .5 1-.2 1-1.1 1.5-.7 .5-1.1 .5-3.7 1.3-3.5 .5-2.5-.1-3-.7-4-1.5-1.1-1-.6-1-.2-1 .5-1 .9-1 .8-.5 2.5-1z"/><path fill="#271258" d="M528.3 110.3l2.3-.3 2 .1 2 .4 2.4 .8 1.1 .7 1.2 1.3 .4 1-.1 1-1 1.5-1.4 1-2.1 .8-2 .4-2 .2-2-.2-2-.4-2.2-.8-1.4-1-.8-1-.3-1 .1-1 .6-1 1.1-1 1.4-.7z"/><path fill="#20114b" d="M528.2 110.8l1.9-.3 2 0 3.4 .8 1.5 1 .8 1 .4 1.5-.3 1-.8 1-1.4 1-2.6 .8-1.5 .1-2 0-3.2-.9-1.8-1.5-.6-1-.1-1 .4-1 1.3-1.4 1-.6z"/><path fill="#19103f" d="M528.1 111.3l2-.4 1.5 0 1.5 .2 1.5 .5 1.6 1.2 .7 1 .1 1-.3 1-1.5 1.5-2.1 .8-1.5 .3-1.5-.1-2.5-.6-1.8-1.4-.6-1-.1-1 .8-1.5 1.2-1z"/><path fill="#130d34" d="M530.2 111.3l1.4 0 1.5 .2 1 .4 1.2 .9 .4 .5 .5 1-.2 1-.6 1-1.8 1.2-2.5 .4-2.5-.4-1-.5-.9-.7-.4-.5-.4-1 0-.5 .5-1 .7-.8 1-.6z"/><path fill="#0c0926" d="M529.9 111.8l2.3 0 1.4 .5 .8 .5 .5 .5 .5 1-.1 1-.3 .5-1.4 1.1-2 .6-2-.2-1-.3-1-.7-.8-1-.1-1 .2-.5 1.2-1.3z"/><path fill="#07061c" d="M530.2 112.3l1.9 0 1 .4 .9 .6 .6 1-.1 1-.4 .5-1.5 .9-1.5 .3-1.5-.2-1.5-.9-.6-1.1 .2-1 1-1z"/><path fill="#030312" d="M530.5 112.8l1.6 .1 .9 .4 .5 .5 .3 1-.7 1-1 .5-1.5 .1-1-.3-1-.7-.3-.6 .3-1 1-.7z"/><path fill="#010106" d="M529.6 113.8l1-.4 1 0 1 .5 .3 .4 0 .5-.3 .5-.9 .5-1.6-.1-.6-.4-.3-.5 0-.5z"/></g></g>
<mask id="ms1" maskUnits="userSpaceOnUse" x="637.2" y="16.8" width="98.6" height="196.8"><g filter="url(#nz)" fill="#fff"><path fill-opacity="0.055" d="M686 20.3l.7-.4 4.5 5 3.4 2.9-1.9 1.1-1 1.3-.2 .6 .2 14 .8 .5 8.2 2.3 3.4 1.2 2.1 5-.6 2-1.8 14-1.2 23 .3 3 2.6 9.5 .6 5.5 0 7.5-.5 5-.7 3-2 7-.3 3 1.2 23 1.8 14 .5 2.5-1.9 4.5-.8 .5-11.7 3.5-.1 14.5 1.1 1.5 1.6 1-.2 .5-3.4 3-4 4.5-.5-.1-4-4.5-3.3-2.9-.2-.5 1.6-1 1.1-1.5-.1-14.5-1.1-.5-10.6-3-.8-.5-2-4.5 .6-2.5 1.8-13.6 1.2-23.4-.3-3-1.8-6-.9-4.5-.5-5 0-6.5 .6-5.5 .9-4 1.7-6 .3-3-1.2-23-1.8-14-.6-2 2.1-5 3.3-1.2 8.4-2.3 .7-.5 .2-14-.3-.8-1-1.2-1.8-1 3.3-2.8z"/><path fill-opacity="0.063" d="M686.1 21.3l.6-.3 3 4.2 2.5 2.6-1.1 1-.7 2 .5 14 .6 .5 8.2 2.7 1.7 .8 1.8 4.5-1.7 16.5-.8 22.5 .4 3 2.3 5.5 1.1 4 .6 3.5 .3 6-.3 6.5-.6 4-1.1 3.5-2.2 5.5-.5 3 .8 22.5 1.8 16.5-1.9 4.5-.7 .5-8.9 3-.9 .5-.5 14.5 .7 1.5 1 1-2.4 2.7-3 4.2-.5-.2-3-4.1-2.3-2.6 1-1 .7-1.5-.4-14.5-1-.5-8.9-3-.7-.5-1.9-4.5 1.8-16.5 .8-22.5-.5-3-2.4-6-1-3.5-.6-4-.2-5 .2-6.5 .6-4 1-3.5 2.5-6 .4-3-.8-22.5-1.7-16.5 1.8-4.5 1.6-.8 8.3-2.7 .7-.5 .4-14-.4-1.5-1.4-1.5 2.4-2.5z"/><path fill-opacity="0.096" d="M685.9 22.3l.3-.3 .5-.2 2 3.5 2.1 2.5-.7 1-.5 2 .7 14 .6 .5 7.3 2.8 1.4 .7 1.8 4.5-1.3 16.5-.7 22.5 .5 2.5 2.2 4.5 1.5 4 1 5 .2 5.5-.2 6.5-.6 4-1.4 4.5-2.8 6-.4 2.5 .6 22 1.4 16.5-1.8 4.5-.6 .5-7.9 3-.8 .5-.7 14.5 .4 1.5 .7 1-2 2.6-2 3.5-.5-.2-.4-.4-1.6-3-1.9-2.5 .7-1 .3-1.5-.6-14.5-8.7-3.5-.6-.5-1.8-4.5 1.3-16.5 .7-22-.4-2.6-2.6-5.4-1.3-4-.9-5-.2-5 .2-6.5 .9-5 1.4-4 2.4-5 .5-2.5-.7-22.5-1.3-16.5 1.8-4.5 1.3-.7 7.4-2.8 .6-.5 .7-14-.3-1.5-.9-1.5 2-2.4z"/><path fill-opacity="0.138" d="M686.2 22.8l.5-.2 1 2.4 1.9 2.8-.4 1-.2 2 .9 14 .5 .5 7.7 3.5 1.8 4.5-1.1 16.5-.5 22 .5 2.5 3 6 1.3 3.5 .9 4.5 .3 6-.2 5.5-.7 4.5-1.5 4.5-3.2 6.4-.4 2.1 .5 22 1.1 16.5-1.7 4.5-.6 .5-7 3-.7 .5-.9 14.5 .5 2.5-1.8 2.9-1 2.4-.5-.2-1-2.4-1.7-2.7 .5-2.5-.9-14.5-7.7-3.5-.6-.5-1.7-4.5 1.1-16.5 .5-22-.6-2.5-2.7-5.5-1.5-4-.9-5-.3-5 .2-6 .9-5 1.2-3.5 3.2-6.5 .5-2.5-.5-22-1.1-16 1.8-5 7.7-3.5 .5-.5 .9-14-.2-2-.4-1 1.8-2.6z"/><path fill-opacity="0.181" d="M686.2 24.3l.5-.4 1 2.3 1 1.6-.2 2.5 1 14.5 .4 .5 7 3.5 1.7 4.5-.8 16.5-.3 22 .7 3 2.8 5 1.5 4 1 4.5 .3 6-.2 6-1 5-1.6 4-2.7 5-.8 3 .3 22 .8 16.5-1.6 4.5-.6 .5-6.2 3-.7 .5-1 14.5 .2 2.5-2 4-.5-.3-1.9-3.7 .2-2.5-1-14.5-.8-.6-6.1-2.9-.6-.5-1.6-4.5 .8-16.5 .3-22-.8-3-2.7-5-1.6-4-1-5-.2-5.5 .3-6 1-5 1.5-4 2.8-5 .7-3-.3-22-.8-16.5 1.7-4.5 7-3.5 .4-.5 1-14.5-.2-2.5z"/><path fill-opacity="0.230" d="M686.6 25.3l1.4 2.5 1.2 17 .5 .6 6.2 3.4 1.7 5-.6 16-.3 22 .8 3 3.2 5.5 1.5 4 1 5.3 .2 4.7-.2 5.3-.9 5.2-1.8 4.5-3 5-.8 3 .3 22 .6 16.5-1.7 4.5-.4 .5-5.3 2.8-1 .7-1.2 17-1.3 2.7-.5-.3-1.2-2.4-1.2-17-.6-.5-5.7-3-.4-.5-1.7-4.5 .6-16.5 .3-22-.8-3-3-5-1.5-3.5-1-4.5-.4-6.5 .4-7 .7-3.2 1.5-4.1 3.3-5.7 .8-3-.3-22-.6-16 1.7-5 6.1-3.4 .6-.6 1.2-17 1.2-2.3z"/><path fill-opacity="0.299" d="M686.1 26.8l.6-.4 .7 1.4 .1 1 .7 6 .7 10 .8 .8 5.3 3.2 1.7 5-.5 16-.1 22 .7 3 3.3 5.5 1.5 4 1 4.5 .3 5.5-.3 5.5-.9 5-1.6 4-3.3 5.5-.7 3 .1 22 .5 16.5-1.6 4.5-.5 .5-4.9 2.8-.8 .7-1.1 14.5-.4 2.5-.7 1.5-.5-.3-.6-1.2-.2-1.5-1.3-15.5-.9-.7-4.8-2.8-.5-.5-1.6-4.5 .5-16.5 .1-22-.7-3-3-4.9-1.7-4.1-1-4.5-.3-5.5 .2-6 1-5 1.8-4.5 3-5 .7-3-.1-22-.5-16 1.7-5 5.7-3.5 .4-.5 1.1-14 .4-3z"/><path fill-opacity="0.410" d="M686.3 27.8l.5 0 .6 2.5 1.2 14.5 .6 .7 5 3.3 1.6 5-.4 38 .7 3 3.6 6.5 1.3 3.5 .9 4.5 .2 5-.2 5.5-.9 4.5-1.3 3.5-3.8 7-.5 2.5 .4 38.5-1.6 4.5-.4 .5-4.6 2.9-.5 .6-1.2 14-.8 3.2-.5-.2-.6-2.5-1.2-14.5-.7-.7-4.5-2.8-.4-.5-1.6-4.5 .4-38.5-.7-3-3.2-5.7-1.6-3.8-.9-4.5-.3-5.5 .2-5.5 .9-4.5 1.6-4 3.3-6 .7-3-.4-38 1.6-5 4.9-3.2 .7-.8 1.1-14z"/><path fill-opacity="0.583" d="M686.3 29.3l.4-.2 .5 2.3 1.1 13.4 .4 .6 4.5 3.4 1.6 5-.2 35.5 .2 3.5 1.1 3.5 2.8 5 1.5 3.7 1 4.8 .2 4.5-.2 5-1 4.9-1.5 3.7-2.8 4.9-1.1 3.5-.2 3.5 .2 36-1.5 4.5-5 4-1.1 13.5-.5 2.3-.5-.3-.5-3-1.1-12.5-4.9-4-1.5-4.5 .1-39-.3-1.5-.9-2.5-2.9-5.1-1.5-3.8-.9-4.6-.2-4.5 .2-5 .9-4.5 1.5-3.8 2.9-5.2 .9-2.5 .3-1.5-.2-38.5 1.7-5 4.4-3.3 .4-.7 1.1-12.4z"/><path fill-opacity="1.000" d="M686.4 31.8l.3-.4 1.2 13.4 .8 1 3.4 3 1.6 5 .2 39 .6 3 .5 1.5 2.7 4.5 1.5 3.5 1 4.7 .2 4.3-.2 4.9-1 4.7-1.5 3.5-2.8 4.9-1 4-.2 39-1.6 5-4.2 4-1.2 13.5-.5-.7-1.1-12.8-3.9-3.5-.5-1-1.3-4.5-.3-39-.6-3-.6-1.5-2.7-4.6-1.5-3.6-.9-4.8-.2-4 .1-4 1-5.2 1.5-3.6 2.8-4.7 1.1-4 .3-39.5 1.5-5 3.8-3.4 .4-.6 .6-8 .5-4.7z"/></g></mask>
<g mask="url(#ms1)"><g filter="url(#bl)"><path fill="#fec488" d="M686.2 17.8l.5 0 0 .5 4 4 .5 0 1 1 .5 0 1.5 1.5 .5 0 1 1 .5 0 1 1 .5 0 .5 .5 .5 0 .5 .5 .5 0-1.5 0-.5 .5-1 0-.5 .5-.5 0-2 2 0 12-.5 .5 0 1.5 .5 .5 .5 0 .5 .5 2 0 .5 .5 2 0 .5 .5 2 0 .5 .5 2 0 .5 .5 1.5 0 .5 .5 1.5 0 .5 .5 1 0 .5 .5 0 .5 .5 .5 0 1 .5 .5 0 .5 .5 .5 0 1.5-.5 .5 0 1-.5 .5 0 2-.5 .5 0 1.5-.5 .5 0 2.5-.5 .5 0 2-.5 .5 0 2-.5 .5 0 3.5-.5 .5 0 5-.5 .5 0 6.5-.5 .5 0 7-.5 .5 0 6.5 .5 .5 0 4.5 .5 .5 0 6.5 .5 .5 0 5.5-.5 .5 0 7-.5 .5 0 4-.5 .5 0 6.5 .5 .5 0 7 .5 .5 0 7 .5 .5 0 5 .5 .5 0 3 .5 .5 0 2 .5 .5 0 2.5 .5 .5 0 2 .5 .5 0 2 .5 .5 0 1.5 .5 .5 0 1 .5 .5 0 2-.5 .5 0 .5-.5 .5 0 .5-.5 .5 0 .5-.5 .5-.5 0-.5 .5-1.5 0-.5 .5-2 0-.5 .5-1.5 0-.5 .5-2 0-.5 .5-2 0-.5 .5-2 0-.5 .5-1 0-.5 .5 0 2 .5 .5 0 11.5 2 2 .5 0 .5 .5 .5 0 .5 .5 1.5 0-.5 .5-.5 0-1 1-.5 0-.5 .5-.5 0-1.5 1.5-.5 0-1.5 1.5-.5 0-1 1-.5 0-3 3 0 .5-.5 .5 0 .5-.5-.5 0-.5-3.5-3.5-.5 0-1.5-1.5-.5 0-1.5-1.5-.5 0-1-1-.5 0-1-1-.5 0-.5-.5-.5 0-.5-.5 1.5 0 .5-.5 1 0 1-1 .5 0 1-1 0-7.5 .5-.5 0-6.5-.5-.5-1 0-.5-.5-2 0-.5-.5-2 0-.5-.5-2 0-.5-.5-1.5 0-.5-.5-2 0-.5-.5-1.5 0-.5-.5-.5 0 0-.5-.5-.5 0-.5-.5-.5 0-.5-.5-.5 0-.5-.5-.5 0-1.5 .5-.5 0-.5 .5-.5 0-1.5 .5-.5 0-2 .5-.5 0-2 .5-.5 0-2.5 .5-.5 0-2 .5-.5 0-3 .5-.5 0-4 .5-.5 0-7 .5-.5 0-7 .5-.5 0-9-.5-.5 0-4-.5-.5 0-18 .5-.5 0-4 .5-.5 0-9.5-.5-.5 0-7-.5-.5 0-6.5-.5-.5 0-4.5-.5-.5 0-3-.5-.5 0-2-.5-.5 0-2-.5-.5 0-2.5-.5-.5 0-1.5-.5-.5 0-2-.5-.5 0-.5-.5-.5 0-1.5 .5-.5 0-.5 .5-.5 0-.5 .5-.5 0-.5 .5-.5 0-.5 1 0 .5-.5 1.5 0 .5-.5 2 0 .5-.5 1.5 0 .5-.5 2 0 .5-.5 2 0 .5-.5 2 0 .5-.5 .5 0 .5-.5 0-6.5-.5-.5 0-7-2-2-.5 0-.5-.5-1 0-.5-.5-1 0 .5-.5 .5 0 .5-.5 .5 0 1-1 .5 0 .5-.5 .5 0 1.5-1.5 .5 0 1.5-1.5 .5 0 4-4z"/><path fill="#feb67c" d="M686.2 26.8l.5-.2 .7 1.2 .5 3 1.1 14 .3 .5 4.9 2.8 .7 .7 1.7 5-.4 16-.2 22 .2 1.4 .5 1.6 3 5 1.9 4.5 .8 3.5 .4 6.5-.2 5.5-.9 4.5-.8 2.5-1.1 2.5-3.1 5.1-.7 2.9 .2 22 .4 16.5-1.6 4.5-.8 .7-3 1.7-1.7 1.1-.5 .5-1.1 14-.5 3-.7 1.3-.6-.3-.7-2-.5-3.5-.7-11.2-.2-1.3-1.3-1-4-2.3-.7-.7-1.6-4.5 .4-16.5 .1-22.5-.7-2.5-3-5-1.6-4-1.1-4.5-.3-6 .4-6.5 1-4.5 1.7-4 3-5 .7-2.5-.2-22.5-.4-16 1.7-5 1.6-1.2 3.5-2.1 .5-.2 .3-.5 .2-1.2 .2-5.3 .6-6.5 .5-3.5z"/><path fill="#fea973" d="M686.2 27.8l.5-.2 .7 2.7 1.3 14.5 .5 .7 5 3.3 1.7 5-.3 16-.1 22 .2 1.5 .4 1.5 3.6 6.4 1.4 3.6 .9 4.5 .2 5-.2 5.5-.9 4.5-1.6 4-3.3 6-.5 1.5-.2 1.5 .3 38.5-1.5 4.5-.4 .5-4.7 3-.5 .5-1.2 14-.3 1.8-.5 1.5-.6-.3-.6-2.5-1.2-14.5-.6-.6-4.6-2.9-.4-.5-1.5-4.5 .3-38.5-.2-1.5-.5-1.5-3.3-6-1.4-3.5-1-4.5-.3-5.5 .2-5.5 .9-4.5 1.6-4 3.4-6 .4-1.5 .2-1.5-.1-22-.3-16 1.7-5 4.9-3.3 .6-.7 1.2-14z"/><path fill="#fd9b6b" d="M686.4 28.8l.3-.2 .5 2.2 1.3 14 .7 .8 4.4 3.2 1.6 5-.3 35 .1 3.5 .4 2 .8 2 2.8 5 1.4 3.5 1 4.5 .2 5-.2 5.5-.9 4.5-1.4 3.5-2.9 5.1-.9 2.4-.3 1.5-.1 3.5 .3 33-.1 2.5-1.5 4.5-.4 .5-4 2.8-.7 .7-1.2 14-.6 2.3-.5-.3-.5-2-1.2-14-.8-.8-3.9-2.7-.4-.5-1.5-4.5-.1-2.5 .3-33-.1-3.5-.3-1.5-.7-2-3.1-5.5-1.4-3.5-.9-4.5-.2-5 .2-5 .8-4.5 1.3-3.5 3.1-5.5 .8-2 .4-2 .1-3.5-.3-35 1.6-5 4.8-3.5 .3-.5 1.3-14 .4-1.9z"/><path fill="#fc8e64" d="M686.5 29.8l.2-.1 .2 .6 .3 2.5 1.1 12 .4 .7 4.2 3.3 1.6 5-.1 35.5 .1 3.5 .3 1.5 .9 2.5 2.8 5 1.4 3.5 .9 4 .3 5-.3 5-.8 4.5-1.4 3.5-3.1 5.5-1 3.5-.1 3.5 .1 33.5-.1 2.5-1.5 4.5-.4 .5-3.8 3-.4 .5-.9 10.5-.7 4.7-.5-.3-.2-.9-1.3-14-.5-.6-3.7-2.9-.4-.5-1.5-4.5-.1-2.5 .1-33.5-.1-3.5-1-3.5-3.1-5.5-1.4-3.5-.8-4-.3-5 .3-5 .9-4.5 1.4-3.5 2.8-5 .9-2.5 .3-1.5 .1-3.5-.1-35.5 1.6-5 4.1-3.2 .5-.8 1.3-14 .2-.8z"/><path fill="#fa815f" d="M686.5 31.3l.2-.3 1.4 13.8 .6 .9 3.5 3.1 1.6 5 .2 39 .9 4 3.3 5.8 1.3 3.2 .8 4 .2 4.5-.2 5-.8 4-1.4 3.5-3.1 5.5-1 4-.2 3 0 36-1.6 5-.3 .5-3.2 2.7-.6 .8-1.4 13.9-.5-.7-1.3-13.2-.7-.9-3.1-2.6-.3-.5-1.5-4.5-.2-2.5 .1-33.5-.2-3.5-1-4-3.1-5.5-1.4-3.5-.8-4-.2-4.5 .2-5 .8-4 1.4-3.5 3.2-5.5 .9-4 .2-39 1.6-5 3.9-3.5 .2-.5 1.3-13.1z"/><path fill="#f8745c" d="M686.5 33.8l.2-.3 1.2 11.3 .3 .7 3.4 3.3 1.5 5 .1 4 .1 32.5 .2 3 .4 2.5 .5 1.5 3.2 5.5 1.2 3 .9 4 .2 4.5-.2 4.5-.7 4-1.4 3.5-3.1 5.5-.6 2-.4 2.5-.4 39-1.5 5-.3 .5-3.1 3-.3 .5-1.2 11.4-.5-.7-1.1-10.7-.4-.7-3-2.8-.3-.5-1.5-5-.4-39-.4-2.5-.6-2-3.1-5.5-1.2-3-.9-4-.2-4.5 .2-4.5 .7-4 1.4-3.5 3.2-5.5 .6-2 .3-2.5 .3-37 .1-2 1.5-5 3.3-3.2 .4-.8 1.1-10.6z"/><path fill="#f4675c" d="M686.6 36.3l.1-.2 .9 8.7 .6 1 2.7 3 1.5 5 .2 6 .3 31 .3 4.5 .9 3 2.7 4.5 1.4 3.1 .9 3.9 .2 4.5-.1 4.5-.8 4-1.2 3-3 5-.9 3-.4 4.5-.3 30.5-.2 6.5-1.4 5-2.8 3.1-.5 .9-1 8.8-.5-.7-.9-8.1-.6-1-2.7-3-1.4-5-.2-2.5-.2-33.5-.2-3.5-.3-2.5-.6-2-3.3-5.5-1.2-3-.7-3.5-.2-4.5 .2-4.5 .8-4 1.2-3 3.2-5.5 .6-2 .3-2.5 .4-37 .2-2.5 1.5-5 2.6-2.9 .7-1.1 .8-8z"/><path fill="#ee5b5e" d="M686.6 38.8l.1-.1 .7 6.1 .8 1.4 2.1 2.6 1.3 4.5 .3 2 .4 19.5 .1 16 .3 5 .9 3 3 5 1.3 3 .7 3.5 .2 4-.2 4.5-.7 3.5-1.5 3.5-2.7 4.5-.9 3-.4 5-.1 16.5-.4 19-.2 2-1.3 4.5-2.2 2.7-.7 1.3-.8 6.2-.5-.7-.7-5.5-.8-1.4-2.1-2.6-1.3-4.5-.2-1.5-.4-19.5-.1-16.5-.4-5-.9-3-2.7-4.5-1.3-3-.8-3.5-.3-4.5 .2-4.5 .9-4 1.1-2.5 3-5 .9-3 .3-5 .1-16 .4-20 .3-1.5 1.3-4.5 2.7-3.5 .8-5.9z"/><path fill="#e55064" d="M686.7 41.3l.7 4 2.3 3.5 1.3 4.5 .3 2 .5 19.5 .1 16.5 .4 5 .8 3 2.9 4.5 1.3 3 .8 3.5 .2 4.5-.3 4.5-.8 3.4-1.2 2.6-2.8 4.5-.9 3-.4 5-.1 17-.5 19-.3 2-1.2 4.5-1.6 2.2-.9 1.8-.6 3.7-.5-.8-.6-3.4-2.4-3.5-1.2-4.5-.3-2-.5-19-.1-17-.4-5-.9-3-2.8-4.5-1.3-3-.8-3.5-.2-4 .2-4.5 .8-3.5 1.3-3 2.9-4.5 .8-3 .4-5 .1-16.5 .5-19.5 .3-2 1.3-4.5 2.3-3.5 .6-3.3z"/><path fill="#dc4869" d="M686.6 43.3l.6 2.1 2 3.4 1.2 4.5 .3 2 .6 19.5 .1 17 .4 5 .8 3 3 4.5 1.1 2.5 .8 3.5 .3 4-.2 4.5-.9 3.5-1.4 3-2.7 4-.8 3-.4 5-.1 17.5-.6 19-.3 2-1.2 4.5-2 3.5-.5 2.2-.5-.4-.4-1.8-2-3.5-1.2-4.5-.3-2-.6-19-.1-17.5-.4-5.1-.9-2.9-2.6-4-1.4-3-.9-3.5-.2-4 .3-4.5 .8-3.5 1.1-2.5 3-4.5 .8-2.8 .4-5.2 .1-17 .6-19.5 .3-2 1.2-4.5 1.9-3.2 .5-2z"/><path fill="#d2426f" d="M686.4 44.8l.3-.3 .4 1.3 1.5 3 1.3 5 .3 2 .6 19 .2 17.5 .4 5.5 .7 2.5 2.8 4 1.3 2.7 .8 3.3 .3 4-.2 4-.8 3.5-1.3 3-2.8 4-.5 1.2-.4 1.8-.3 5.5-.2 17.5-.7 19-.3 2-1.2 4.5-1.5 3-.4 1.4-.5-.4-1.8-4-1.2-4.5-.3-2-.7-19-.2-17.5-.3-5.5-.5-2-.4-1-2.8-4-1.3-2.9-.7-3.1-.3-4 .2-4 .8-3.5 1.4-3 2.8-4 .4-1 .4-2 .3-5.5 .2-17 .6-19 .3-2 1.3-5z"/><path fill="#c73d73" d="M686.5 45.8l.2-.1 1.4 3.1 1.2 5 .3 2 .7 19 .2 17.5 .4 6 .8 2.5 2.8 4 1.2 2.5 .8 3 .3 4-.2 4-.8 3.5-1.2 2.5-2.9 4.1-.6 1.4-.2 1.5-.4 5.5-.2 18-.7 18.5-.4 2.5-1.1 4.5-1.4 3.2-.5-.3-1.3-2.9-1.1-4.5-.4-2.5-.7-18.5-.2-18-.4-5.5-.2-1.5-.6-1.5-2.9-4-1.2-2.5-.7-3-.3-4 .2-4 .9-3.5 1.2-2.5 2.8-4 .8-2.5 .4-6 .2-17.5 .7-19 .3-2 1.2-5 1.3-2.8z"/><path fill="#bc3978" d="M686.1 47.3l.1-.2 .5-.2 .9 1.9 1.5 7 .7 19 .3 19.5 .4 4.5 .7 2.5 2.9 4 1.1 2.1 .8 2.9 .3 4-.2 4-.7 3-1.2 2.5-2.9 4-.6 1.5-.3 1.5-.3 6-.3 18-.7 18.5-1.5 7-.9 2-.5-.2-.8-1.8-1.5-7-.7-18.5-.3-20-.4-4.5-.8-2.5-2.6-3.5-1.3-2.5-.8-3-.3-4 .2-4 .8-3 1.2-2.5 2.8-3.9 .5-1.2 .3-1.4 .4-4.5 .3-19.5 .7-19 1.5-7z"/><path fill="#b0357b" d="M686.2 48.3l.5-.2 .3 .7 1.5 7 .9 18.5 .3 20 .3 5 .8 2.5 2.9 3.9 1.1 2.1 .7 3 .3 3.5-.2 4-.8 3-1.1 2.2-2.8 3.8-.6 1.5-.3 1.5-.3 6.5-.3 18-.8 18.5-1.4 6.4-.5 1.4-.5-.2-.2-.6-1.6-7-.8-18.5-.3-18-.3-6.5-.3-1.6-.6-1.4-2.6-3.5-1.3-2.5-.8-3-.2-3.5 .3-4 .7-2.9 1-2.1 3-4 .5-1.3 .3-1.7 .3-6.5 .3-18 .9-18.5 .4-2.5z"/><path fill="#a5317e" d="M686.2 50.3l.5-.3 1.3 5.8 .9 18.5 .4 20.5 .3 5 .8 2.5 2.8 3.7 1.2 2.3 .6 2.5 .3 3.5-.2 3.5-.7 3-1.2 2.4-2.8 3.6-.6 1.5-.2 1.5-.3 5-.4 20-.9 18.5-1.3 5.9-.5-.3-1.2-5.6-.9-18.5-.4-20-.3-5-.2-1.5-.6-1.5-2.7-3.5-1.2-2.2-.7-2.8-.3-3.5 .2-3.5 .7-3 1.1-2.1 2.9-3.9 .6-1.5 .2-1.5 .3-5 .4-20 .8-18 .4-2.5z"/><path fill="#992d80" d="M686.6 52.3l.9 3.5 .4 6.5 .6 12.5 .4 20.5 .3 4.9 .7 2.6 2.8 3.5 1.3 2.5 .6 2.5 .2 3.5-.3 3.5-.7 2.5-1.1 2.1-2.7 3.4-.6 1.5-.2 1.5-.3 5-.4 20.5-.5 10.5-.5 8-.8 3.6-.5-.2-.7-2.9-.1-1.5-.9-17.5-.4-20.5-.3-5-.2-1.5-.6-1.5-2.8-3.5-1-2-.7-2.5-.3-3.5 .2-3.5 .8-2.9 1.1-2.1 2.8-3.5 .7-2.5 .3-5 .4-21 .9-17 .1-1.5 .4-2 .3-1.3z"/><path fill="#8e2a81" d="M686.2 54.8l.5-.3 .3 1.3 .5 8 .6 11 .4 21 .3 5 .4 1.7 .5 1.1 2.5 3.1 1.2 2.1 .7 2.5 .2 3-.2 3.5-.7 2.5-1 2-2.8 3.5-.4 1-.4 2-.3 5-.4 21-.9 16.2-.2 2.3-.3 1.4-.5-.3-.2-1.1-.6-9.5-.5-9-.4-21-.3-5.3-.4-1.7-.4-1-2.7-3.4-1.1-2.1-.7-2.5-.2-3 .2-3.5 .7-2.5 1.1-2 2.5-3 .7-1.5 .3-1.6 .3-5.4 .4-21 .8-14.6 .3-3.9z"/><path fill="#812581" d="M686.5 59.8l.2-.5 1 15 .4 22 .3 5 .3 1.5 .5 1.2 2.5 3 1.1 1.8 .8 2.5 .2 3-.1 3-.6 2.5-1.1 2-2.8 3.4-.4 1.1-.3 1.5-.4 5-.4 22-1 15.1-.5-1-.8-13.6-.5-22.5-.4-5-.3-1.7-.5-1.1-2.5-2.9-1.1-1.8-.7-2.5-.2-3 .2-3 .6-2.5 1.2-2.2 2.5-2.9 .5-1.1 .4-1.8 .3-5.5 .4-21.5 .9-14z"/><path fill="#762181" d="M686.5 66.8l.2-.4 .6 8.4 .5 22.5 .3 5 .4 1.5 .4 1 2.4 2.5 1.2 2 .7 2.5 .1 2.5-.1 3-.7 2.5-1.2 2-2.3 2.5-.6 1.5-.3 1.5-.3 5-.5 22.5-.6 8-.5-1-.5-7-.5-23-.4-5-.3-1.5-.5-1-2.3-2.5-1.2-2-.7-2.5-.1-2.5 .1-3 .7-2.5 1.2-1.9 2.4-2.6 .4-1 .4-1.5 .3-5 .5-22.5 .5-7.4z"/><path fill="#6b1d81" d="M686.5 73.8l.2-.3 .7 25.3 .4 4 .3 1.5 .5 1 2.6 2.8 .9 1.7 .6 2 .2 2.5-.2 3-.5 2-1.2 2-2.4 2.5-.5 1-.3 1.5-.4 4.5-.7 24.9-.5-1.1-.6-23.8-.4-4.5-.3-1.5-.5-1-2.2-2.2-1.2-1.8-.6-2-.3-3 .2-3 .6-2 1.2-2 2.3-2.5 .5-1 .3-1.5 .4-4.5 .6-23.5z"/><path fill="#601880" d="M686.7 88.3l.4 11.5 .5 4.5 .6 1.6 2.4 2.4 1 1.5 .6 2 .2 3-.2 2.5-.6 2-.9 1.5-2.5 2.5-.6 1.5-.5 4.5-.4 11.7-.5-2.7-.3-9-.5-4.5-.7-1.6-2.4-2.4-.9-1.5-.6-2-.2-2.5 .1-2.5 .7-2.5 1-1.5 2.3-2.3 .7-1.7 .5-4.5 .3-8.9z"/><path fill="#56147d" d="M686.7 101.3l.4 3 .6 1.9 .5 .7 2 1.9 1.2 2 .4 2 .1 2-.2 2.5-.7 2-.8 1.2-2 1.8-.6 1-.6 2-.3 2.7-.5-1-.4-2.7-.6-1.4-2.5-2.6-.9-1.5-.6-2-.1-2 .1-2.5 .5-1.7 1-1.7 2.5-2.6 .6-1.5 .4-2.6z"/><path fill="#4a1079" d="M686.4 105.3l.3-.2 1 2.2 2 1.8 .8 1.2 .7 1.8 .2 2.2-.1 2.5-.6 1.8-1 1.5-2 1.8-1 2.2-.5-.3-1-2-2-1.8-.8-1.2-.7-2-.1-2 .2-2.5 .7-2 .7-1.1 2.1-1.9 .9-1.9z"/><path fill="#3f0f72" d="M686.1 107.3l.1-.2 .5-.2 1 1.3 2 1.9 .9 1.7 .3 2-.1 2.5-.6 2-.6 1-1.9 1.7-1 1.3-.5-.2-.6-.8-1.9-1.7-.6-.8-.7-1.5-.3-2 .1-2.5 .6-2 .9-1.2 1.5-1.3z"/><path fill="#331067" d="M686.3 108.3l.4-.1 2.8 2.6 .6 1.5 .3 2-.1 2-.6 1.7-1 1.3-2 1.7-.5-.1-2.5-2.3-.7-1.3-.4-2 .2-2.5 .5-1.5 .9-1.3z"/><path fill="#271258" d="M685.6 109.8l.6-.4 .5-.1 1.9 1.5 .9 1.5 .3 1.5 0 2-.6 1.8-1 1.2-1.5 1.1-.5-.1-2-1.6-.6-.9-.4-1.5 0-2 .3-1.5 .7-1.3z"/><path fill="#1d1147" d="M685.5 110.8l.7-.4 .5-.1 1 .6 1 1.1 .5 1.3 .1 2-.4 1.5-.7 1.1-1.5 1-.5-.1-1.5-1-.6-1-.3-1-.1-2 .2-1 .5-1z"/><path fill="#130d34" d="M686.1 111.3l.6-.1 1.1 .6 .7 1 .3 1 0 1.5-.5 1.5-.6 .7-1 .5-.5 0-1.1-.7-.7-1-.2-1 0-1.5 .3-1 .7-1z"/><path fill="#0b0924" d="M685.4 112.3l.8-.4 1 .2 .5 .3 .5 .9 .2 1.5-.2 1.2-.5 .8-1 .5-.5 0-.9-.5-.6-1-.1-2 .4-1z"/><path fill="#050416" d="M685.6 112.8l.6-.3 1 .2 .5 .5 .2 .6 .1 1-.2 1-.6 .7-.5 .2-1-.3-.5-.6-.2-.5 .1-1.5z"/><path fill="#010108" d="M686.1 113.3l.7 0 .4 .3 .2 .7 0 1-.7 .7-.5-.1-.6-.6 .1-1.5z"/></g></g>
<mask id="mb1" maskUnits="userSpaceOnUse" x="435.1" y="218.5" width="192.3" height="96.2"><g filter="url(#nz)" fill="#fff"><path fill-opacity="0.055" d="M512.8 248l.8-.2 3.5 .4 6 1.6 8 .9 8-.9 6-1.5 4-.5 5 1.8 2 .4 13 .3 20.5 5.2 8.5 1.7 10.5 3.9 4.5 .8 1-.1 2-.7 1-1.2 2 2.8 5.1 3.3-5.1 3.5-2 2.8-1-1.2-1.5-.6-1.5-.2-4 .7-11 4-7.7 1.5-20.8 5.3-13.5 .4-2 .4-5 1.8-4-.5-6-1.5-7.5-.9-8.5 .9-5.5 1.5-4 .5-5.5-1.9-1.5-.2-13.5-.4-21-5.4-8-1.6-10.7-3.9-3.8-.6-1.5 0-1.5 .6-1 1-.5-.2-2-2.5-4.8-3.3 4.8-3 2-2.6 .5-.2 1 1 1.5 .6 1 .1 2.6-.4 2.5-.5 9.9-3.7 8.8-1.8 20.2-5.2 13.2-.3 2.3-.4z"/><path fill-opacity="0.063" d="M513 249l.6-.1 3.5 .2 6 1.5 8 1 8-.9 6-1.5 4-.3 6.5 2.7 2.5 .3 11.5 .3 20.9 4.8 7.6 1.5 11 3.5 5 .7 1.6-.2 1.4-.9 2 2.2 3.7 2.2-3.7 2.4-2 2.1-1-.6-1.7-.4-1.3 0-2.9 .5-2.3 .5-9.8 3.3-9 1.7-19.5 4.5-13.5 .5-1.7 .5-5.3 2.3-4.5-.4-5.5-1.4-8-.9-7.8 .9-6.2 1.6-4 .2-5-2.3-1.5-.4-13.5-.6-19.7-4.5-9.3-1.8-9.5-3.2-2.3-.5-4.2-.5-1.5 .3-1 .6-.5-.2-1.6-1.7-3.8-2.5 3.5-2 1.9-2 .5-.2 1.2 .7 1.8 .2 4.8-.7 11.2-3.6 7.5-1.4 21-4.8 13.5-.6 2-.6z"/><path fill-opacity="0.096" d="M512.3 250l1.3-.5 3.5 .2 6 1.5 8 .9 8-.9 6-1.4 4-.2 5.5 2.6 2 .7 12.5 .4 19.7 4.2 9.3 1.7 10.8 3.3 5.2 .8 2-.2 1-.4 1.9 1.8 2.8 1.5-.7 .6-2.4 1.4-1.6 1.5-1-.4-1.5-.2-4.6 .6-2.3 .5-9.6 3-8.3 1.5-20.2 4.3-13 .5-2 .6-5 2.6-1 .2-3.5-.3-6-1.4-8-.9-8 .9-5.5 1.4-4 .3-1-.3-4.6-2.4-1.9-.6-13-.6-20.4-4.3-8.6-1.6-9.3-2.9-2.3-.5-4.4-.6-1.5 .1-1 .4-2-1.6-2-1-.9-.8 2.7-1.5 2.2-1.7 1 .4 2 0 5-.7 10.5-3.2 9.6-1.8 19.4-4.1 13-.6 1.5-.4z"/><path fill-opacity="0.138" d="M512.6 250.5l1-.4 3.5 .2 6 1.3 8 .9 8-.8 6-1.4 4-.1 5.5 2.9 2 .7 13 .6 28.5 5.5 11.1 3.1 4.9 .7 3-.1 1.8 1.4 2.1 1-.5 .5-2 1-1.4 1.1-1.5-.2-2 .1-5.5 .9-10 2.9-28.5 5.5-13 .6-1.8 .6-5.2 2.9-1.5 .2-3.5-.3-5.5-1.3-8-.8-7.7 .8-5.8 1.4-4 .1-2-.8-4-2.2-1.5-.6-3.5-.3-9.5-.3-29-5.6-10-2.8-5.1-.9-3.4 .1-2.4-1.6-1.1-.4-.6-.6 2.1-1 2-1.4 3 .1 4.7-.7 11.3-3.1 28.5-5.5 12.5-.5 2-.7z"/><path fill-opacity="0.181" d="M512.7 251l.9-.3 3.5 0 6 1.3 8 .9 8-.8 6-1.4 4 0 5.9 3.3 1.6 .6 3.5 .3 9.5 .3 28.5 5.3 10 2.6 5 .9 4 .3 1.9 1.2 1.3 .5-3.2 1.9-2.5 .1-6.2 1-10.3 2.8-28 5.1-13.1 .6-1.9 .6-6 3.4-4 0-6-1.4-8-.8-7.5 .8-5.5 1.2-3 .3-2-.2-5.5-3.2-2-.7-13-.6-28.5-5.2-10-2.7-6-1-2.5-.1-3.4-1.9 3.4-1.7 3.5-.3 5-.8 10.5-2.8 28.5-5.2 12.5-.5 2-.7z"/><path fill-opacity="0.230" d="M512.6 251.5l1-.4 3.5 0 6 1.2 8 .9 8-.8 6-1.3 4 0 6 3.6 2 .7 12.5 .5 28.5 5 10.2 2.6 8.8 1.4 2.1 1.1-2.1 1.3-9 1.5-10 2.5-28.5 5-12.5 .5-2 .7-5.5 3.4-2.5 .3-2.5-.2-5.5-1.2-8-.8-8 .8-6 1.3-3.5 0-2-.9-4-2.6-2-.7-12.5-.6-29-5.1-10-2.5-8.5-1.3-2.3-1.4 2.3-1.2 8.5-1.3 10.5-2.6 28.5-5 12.5-.6 2-.7z"/><path fill-opacity="0.299" d="M514.3 251.5l3.3 0 6 1.2 7.5 .8 8-.8 6-1.2 4 .1 2.6 1.4 3.4 2.3 2 .7 12.5 .5 28.5 4.8 10 2.4 8.5 1.5 1.7 .8-.6 .5-1.2 .5-8.4 1.5-10 2.4-28.5 4.8-12.5 .5-2 .7-5.5 3.5-3 .4-2.8-.3-4.7-1-8-.8-8 .8-6 1.2-3.5-.1-2.3-1.1-3.7-2.5-2-.8-3-.2-9.5-.3-29-4.9-10-2.4-8.1-1.4-1.2-.5-.6-.5 1.9-.8 8.5-1.5 9.5-2.3 29-4.9 9.5-.3 3-.2 2-.8 5.5-3.5z"/><path fill-opacity="0.410" d="M514.4 252l3.2 0 6 1.1 7.5 .7 8-.7 6-1.2 3.5 .2 1.2 .4 5.3 3.4 2 .7 12.5 .6 28.5 4.5 10.5 2.4 5.5 .9 3.2 1-.5 .5-1.8 .5-6.9 1.2-10 2.3-28.2 4.5-12.8 .6-2 .7-5.9 3.7-3.1 .3-2.8-.3-4.2-.9-8-.7-8 .8-5.5 1-4-.1-2.1-1.1-3.9-2.6-2-.8-13-.6-28-4.5-10-2.3-7.1-1.2-1.8-.5-.5-.5 3.2-1 5.7-.9 10-2.3 29-4.7 9.5-.2 3-.3 2-.8 5.5-3.5z"/><path fill-opacity="0.583" d="M515 252.5l3.1 0 5 .9 8 .8 8-.7 5.3-1 3.2 0 2 .5 5 3.4 2.5 .9 13.8 .7 26.2 4 10.5 2.2 4.9 .8 3.7 1-.7 .5-1.9 .5-5.5 .9-9.8 2.1-9.5 1.5-19.7 2.9-12 .5-2.5 .9-5.5 3.6-3.5 .4-2.7-.3-3.8-.8-8-.7-8 .7-5.5 1-3.5-.1-1.6-.6-4.9-3.3-2-.7-3-.3-9.5-.3-19.4-2.9-9.5-1.5-10.1-2.2-5.2-.8-1.9-.5-.7-.5 3.7-1 4.6-.7 10.8-2.3 26.2-4 14-.7 2.5-1 5-3.4z"/><path fill-opacity="1.000" d="M513.6 253.5l4-.4 5.5 .8 8 .8 8.5-.8 5.5-.8 2 .1 2 .4 5 3.5 3 1.1 12 .4 3.1 .4 24.6 3.5 11.3 2.3 5.2 .7 1.5 .5-.7 .5-2.6 .5-4.9 .7-8.5 1.8-10.1 1.5-18.4 2.5-9.5 .3-3.5 .3-2.5 1-4.7 3.4-2 .5-3.9 0-4.4-.8-8-.7-8 .7-4.1 .8-1.9 .1-2-.1-2-.5-4.5-3.3-2.5-1-3.5-.4-9.5-.2-18.6-2.6-10.1-1.5-8.8-1.8-4.6-.7-2.5-.5-.8-.5 1.5-.5 4.9-.7 11.6-2.3 24.6-3.5 3.3-.4 12-.5 2.5-.8z"/></g></mask>
<g mask="url(#mb1)"><g filter="url(#bl)"><path fill="#fec488" d="M512.1 246l3.5 0 .5 .5 2 0 .5 .5 1.5 0 .5 .5 2 0 .5 .5 3.5 0 .5 .5 8 0 .5-.5 4 0 .5-.5 1.5 0 .5-.5 2 0 .5-.5 1.5 0 .5-.5 4 0 .5 .5 17 0 .5 .5 2 0 .5 .5 1 0 .5 .5 1 0 .5 .5 1.5 0 .5 .5 1 0 .5 .5 1 0 .5 .5 1 0 .5 .5 1.5 0 .5 .5 1 0 .5 .5 1 0 .5 .5 1 0 .5 .5 1.5 0 .5 .5 1 0 .5 .5 2 0 .5 .5 1.5 0 .5 .5 2 0 .5 .5 1 0 .5 .5 .5 0 .5 .5 .5 0 .5 .5 1 0 .5 .5 .5 0 .5 .5 .5 0 .5 .5 .5 0 .5 .5 1 0 .5 .5 .5 0 .5 .5 .5 0 .5 .5 2.5 0 .5 .5 1.5 0 .5-.5 .5 0 .5-.5 .5 0 .5-.5 0-.5 1-1 0-1 0 .5 .5 .5 0 .5 .5 .5 0 .5 .5 .5 0 .5 3 3 .5 0 1.5 1.5 .5 0 1 1 .5 0 .5 .5 1 0-.5 0-.5 .5-.5 0-.5 .5-.5 0-1 1-.5 0-3 3-.5 0-1 1 0 .5-.5 .5 0 .5-.5 .5 0 .5-.5 .5 0 .5 0-.5-.5-.5 0-.5-2-2-1 0-.5-.5-.5 .5-2.5 0-.5 .5-1.5 0-.5 .5-.5 0-.5 .5-.5 0-.5 .5-.5 0-.5 .5-.5 0-.5 .5-1 0-.5 .5-.5 0-.5 .5-.5 0-.5 .5-.5 0-.5 .5-1 0-.5 .5-1.5 0-.5 .5-2 0-.5 .5-1.5 0-.5 .5-1.5 0-.5 .5-1 0-.5 .5-1 0-.5 .5-1.5 0-.5 .5-1 0-.5 .5-1 0-.5 .5-1.5 0-.5 .5-1 0-.5 .5-1 0-.5 .5-1 0-.5 .5-1.5 0-.5 .5-1 0-.5 .5-1 0-.5 .5-17.5 0-.5 .5-2 0-.5 .5-.5-.5-3 0-.5-.5-1.5 0-.5-.5-1.5 0-.5-.5-2.5 0-.5-.5-4 0-.5-.5-4.5 0-.5 .5-4 0-.5 .5-2.5 0-.5 .5-1.5 0-.5 .5-2 0-.5 .5-2.5 0-.5 .5-.5 0-.5-.5-1.5 0-.5-.5-17.5 0-.5-.5-1 0-.5-.5-1.5 0-.5-.5-1 0-.5-.5-1 0-.5-.5-1.5 0-.5-.5-1 0-.5-.5-1 0-.5-.5-1 0-.5-.5-1.5 0-.5-.5-1 0-.5-.5-1 0-.5-.5-1 0-.5-.5-1.5 0-.5-.5-2 0-.5-.5-1.5 0-.5-.5-2 0-.5-.5-.5 0-.5-.5-1 0-.5-.5-.5 0-.5-.5-.5 0-.5-.5-.5 0-.5-.5-.5 0-.5-.5-1 0-.5-.5-.5 0-.5-.5-.5 0-.5-.5-1.5 0-.5-.5-2.5 0-.5-.5-.5 .5-.5 0-.5 .5-.5 0-1 1 0 .5-.5 .5 0 .5-.5 0 0-.5-.5-.5 0-.5-.5-.5 0-.5-4-4-.5 0-1-1-.5 0-1-1-1 0-.5-.5 .5 0 .5-.5 .5 0 .5-.5 .5 0 1-1 .5 0 3-3 .5 0 .5-.5 0-.5 .5-.5 0-.5 .5-.5 0-.5 .5-.5 0-.5 .5 0 0 .5 .5 .5 0 .5 1.5 1.5 .5 0 .5 .5 2 0 .5-.5 2 0 .5-.5 1 0 .5-.5 .5 0 .5-.5 .5 0 .5-.5 1 0 .5-.5 .5 0 .5-.5 .5 0 .5-.5 .5 0 .5-.5 .5 0 .5-.5 1 0 .5-.5 1 0 .5-.5 1.5 0 .5-.5 2 0 .5-.5 2 0 .5-.5 1 0 .5-.5 1 0 .5-.5 1 0 .5-.5 1.5 0 .5-.5 1 0 .5-.5 1 0 .5-.5 1 0 .5-.5 1.5 0 .5-.5 1 0 .5-.5 1 0 .5-.5 1.5 0 .5-.5 1 0 .5-.5 2 0 .5-.5 17 0z"/><path fill="#feb67c" d="M515.3 251.5l3.8 .2 4 1 8 .8 8.5-.9 3.5-.8 2-.3 4 .1 4 2.3 1.5 1.2 1 .5 1.5 .5 12 .4 2 .3 27 4.5 8.5 2 .5 .2 7.5 1.2 2.5 .6 1.1 .7-1.1 .8-1.5 .5-1.8 .2-.7 .3-2.3 .2-.7 .3-2 .1-5 1.4-6.5 1.4-27 4.4-9.5 .3-3.5 .4-1.8 .7-4.7 3.1-1.5 .6-3.5 0-3-.5-3-.7-8-.7-7.9 .7-2.6 .7-3 .5-1.5 .1-2-.1-1-.2-3-1.8-2.5-1.7-1.5-.7-3.5-.4-9.5-.2-27-4.5-11-2.5-.5-.2-8-1.3-1.5-.5-.8-.7 1.3-.7 2-.5 7.5-1.2 9-2.3 27-4.4 2.5-.4 10-.3 2-.2 2-.8 2-1.4 3.5-2.1z"/><path fill="#fea973" d="M514 252l3.6-.1 5.5 1.1 8 .8 8-.8 6-1.1 3.5 .1 1.5 .6 5 3.3 2 .7 3 .2 9.5 .3 28.5 4.6 10.1 2.3 5.9 1 2.2 .5 1.1 .5-.6 .5-2.2 .6-6.5 1.1-10 2.3-28.5 4.6-9.5 .3-3 .2-2 .7-6 3.8-3 .2-2.5-.2-4.5-.9-8-.8-8 .8-5.5 1.1-4-.2-2.2-1.1-3.8-2.5-2-.8-3-.3-9.5-.3-29-4.7-9.5-2.1-7-1.2-2-.6-.5-.5 1.1-.5 2.4-.6 5.7-.9 9.8-2.2 29-4.7 9.5-.3 3-.3 2-.8 5.5-3.5z"/><path fill="#fd9b6b" d="M513.6 252.5l4-.2 5.5 1 8 .8 8-.8 6-1 3 .1 1.5 .4 5 3.3 2.5 1 3 .2 9.5 .3 28.5 4.4 10 2.2 5.5 .9 3 .9-.7 .5-2.3 .6-5.5 .9-10 2.2-8 1.3-21 3.2-9 .2-3 .2-2.5 1-5 3.3-1.5 .4-3 .1-6-1-8-.8-8 .8-4 .8-2.5 .3-2-.2-1.5-.3-5-3.3-2.5-1-3-.3-9.5-.3-21-3.2-8-1.3-9.7-2.1-5.3-.9-2.5-.6-.7-.5 3.2-.9 5.5-.9 9.5-2.1 29-4.5 9.5-.3 3-.3 2.5-1 3.6-2.5z"/><path fill="#fc8e64" d="M513.5 253l2.1-.3 2-.1 5.5 1 8 .7 8-.7 5.5-.9 3 0 2 .6 5 3.4 2.5 .9 12.5 .5 28.5 4.2 10 2.1 5 .8 2.6 .8-.7 .5-1.9 .5-5 .8-10 2.1-8 1.2-21 3.1-9 .2-3 .2-2.5 .9-5 3.4-1.5 .5-3.5 .1-5.5-.9-8-.7-8 .7-3.5 .7-2.5 .3-2.5-.2-1.5-.3-5-3.5-2.5-.9-3-.3-9.5-.3-21-3-8-1.3-9.5-2-5.5-.9-1.6-.4-.7-.5 2.3-.7 5.5-.9 10-2.1 28.5-4.2 9.5-.3 3-.3 2.5-.9 3.6-2.6z"/><path fill="#fa815f" d="M516.9 253l2.7 .2 3.5 .7 8 .7 8-.7 5.5-.9 3 .2 1.5 .3 5 3.5 2.7 1 3.3 .3 9 .2 2 .3 27 3.9 10 1.9 5 .8 1.8 .6-.7 .5-1.1 .3-5 .8-10 1.9-8 1.3-21 2.9-9.5 .2-3 .3-2.5 1-4.6 3.3-1.9 .5-3 .2-5.5-.9-8-.7-8 .7-3.5 .7-2.5 .2-2.4-.2-1.6-.4-5-3.6-2.5-.8-3-.3-9.5-.2-21-3-8-1.2-9.5-1.9-5.5-.9-.8-.2-.7-.5 1.5-.5 5.5-.9 10-2 27-3.9 2-.2 9-.2 3-.3 1.5-.4 1.3-.6 4.7-3.4 1.5-.4z"/><path fill="#f8745c" d="M515.6 253.5l3 0 4.5 .7 8 .7 8-.7 5-.8 2.8 .1 2.2 .5 5 3.6 2.5 .9 3 .3 9.5 .2 2 .2 27 3.8 14.1 2.5 1.9 .5-1 .5-15 2.7-8 1.2-20.5 2.8-10 .2-3 .3-2.5 .9-5 3.6-2 .5-2 .1-2.5-.2-3.5-.6-8-.7-8 .7-4 .7-3.5 0-2.5-.6-4.5-3.4-1-.5-2-.5-12.5-.5-21-2.8-8-1.2-14.5-2.6-1.2-.6 1.9-.5 14.3-2.6 27-3.7 2-.2 9-.2 3-.3 2-.5 1-.5 4.5-3.4z"/><path fill="#f4675c" d="M515.6 254l3-.1 4.5 .6 8 .7 8-.6 4.5-.7 3 .1 2.5 .6 4.5 3.4 1 .5 1.5 .4 2.5 .3 10.5 .3 2 .2 27 3.6 15.1 2.7-1.3 .5-13.8 2.4-8 1.2-20.5 2.6-10.5 .3-3 .3-1.5 .4-1 .5-4.5 3.4-2 .6-2 .2-2-.1-4-.7-8-.6-8 .7-4 .6-3 0-1.5-.3-1.5-.5-4-3.2-1-.5-1.5-.5-3.5-.3-10-.3-21-2.6-8-1.2-13.5-2.4-1.3-.5 15.3-2.8 27-3.5 2-.2 10-.3 2.5-.3 2.5-.7 4.5-3.5z"/><path fill="#ee5b5e" d="M516.2 254.5l2.9-.1 4 .5 8 .7 8-.6 4-.6 2.5 0 2 .4 1.5 .5 4.5 3.4 2.5 .7 2.5 .3 10.5 .3 2 .2 19.5 2.3 8 1.2 13.1 2.3-1.3 .5-7.3 1.3-13 2-20.5 2.4-10.5 .3-3 .3-2.5 .7-4.5 3.4-2 .6-2.5 .3-5.5-.6-8-.6-8 .7-3.5 .5-3 0-3-.8-4.5-3.3-1-.5-1.5-.4-3.5-.3-10-.3-21-2.5-13-2-7-1.2-1.3-.5 13.3-2.4 8-1.1 19-2.3 2.5-.3 10.5-.2 2.5-.3 1.5-.4 1.1-.5 4.4-3.3z"/><path fill="#e55064" d="M516.7 255l2.9-.1 3.5 .5 8 .5 8-.5 3.5-.5 3 .1 3 .9 4 2.9 1.5 .7 1.5 .4 3.5 .3 10.5 .3 20.5 2.3 13 1.9 7 1.3-1.2 .5-5.8 1-13 1.9-20.5 2.3-10.5 .3-3.5 .3-1.5 .4-1.7 .8-3.2 2.5-.9 .5-2.2 .6-2 .2-13-1-8 .5-3.5 .5-2.5 0-2-.5-1.5-.6-3.5-2.7-1.5-.7-1.5-.4-3.5-.3-10.5-.3-21-2.4-13-1.9-5.5-1-1.2-.5 6.7-1.3 13.5-2 20.5-2.3 10.5-.3 3.5-.3 1.5-.4 1.5-.7 3.5-2.7 1.5-.6z"/><path fill="#dc4869" d="M517.2 255.5l2.9-.1 11 .9 11.5-.9 2.5 .1 1.5 .3 1.5 .6 1 .6 3 2.4 3 .9 3.5 .3 11 .3 20.5 2.2 13 1.8 5.4 1.1-1.1 .5-3.8 .7-13.5 1.9-20.5 2.2-11 .3-3.5 .3-3 .9-3 2.4-1.5 .9-2 .6-2 .1-12.5-.9-11 .9-2.5 0-1.5-.3-1.5-.6-1.5-.9-2.5-2-3-1.1-3.5-.3-11-.3-21-2.2-13-1.9-4-.7-1.1-.5 5.1-1 13.5-1.9 20.5-2.2 11-.3 3.5-.3 3-1.1 3.6-2.7 1.4-.6z"/><path fill="#d2426f" d="M517.7 256l2.9-.1 10.5 .8 10.5-.8 3 .1 2 .5 1.2 .5 1.3 .9 1.5 1.3 1.2 .8 2.8 .7 4 .4 11 .3 20.5 2 13 1.8 3.8 .8-1.1 .5-2.6 .5-13.1 1.8-20.5 2-11 .3-4 .4-3 .8-3.5 2.7-1.5 .7-2 .5-2.5 .1-11-.8-11.5 .8-2.5-.2-1.5-.5-2-1.1-2.5-2.1-1-.4-2-.5-4-.4-11-.3-21-2-13-1.8-2.4-.5-1.1-.5 3.5-.8 13.5-1.8 20.5-2 11-.3 4-.4 2.6-.7 .9-.5 3.1-2.5 1.4-.6z"/><path fill="#c73d73" d="M519.2 256.5l11.9 .6 10.5-.6 2.5 .1 1.5 .3 1.5 .6 4 2.9 2.5 .7 4.5 .4 11.5 .3 20.5 1.9 13 1.8 2.2 .5-1 .5-1.2 .2-13 1.8-20.5 1.9-11.5 .3-4.5 .4-2.5 .7-4 2.9-1.5 .6-1.5 .3-2.5 .1-10.5-.6-11 .6-2.5-.2-1.5-.5-1.5-.8-3-2.3-2.5-.8-4.5-.4-11.5-.3-21-1.9-13-1.8-.9-.2-1-.5 2-.5 13.4-1.8 20.5-1.9 11.5-.3 4.5-.4 2.5-.8 3-2.3 1.5-.8 1.5-.5z"/><path fill="#bc3978" d="M517.4 257.5l3.2-.4 10.5 .5 5.5-.4 6.5-.1 1.5 .3 1.5 .5 3.7 2.6 1.3 .6 1.5 .4 5 .4 12 .4 20.5 1.7 11 1.5 2.6 .5-1.2 .5-12.4 1.7-20.5 1.7-12 .4-4.5 .3-1.8 .4-1.2 .5-3 2.2-1.5 .8-1.8 .5-2.2 .2-10.5-.6-9.5 .5-2.5 0-2.5-.7-4.2-2.9-1.3-.5-1.5-.3-5-.4-11.5-.3-20.5-1.8-12.6-1.7-1.2-.5 2.6-.5 11.2-1.5 20.5-1.8 11.5-.3 5-.4 2.5-.7 3.5-2.4z"/><path fill="#b0357b" d="M518.3 258l2.8-.4 10 .4 6-.3 5.5 0 1.5 .3 1.4 .5 4.1 2.8 2.8 .7 4.7 .3 12.5 .4 20.5 1.6 11.4 1.7-1.3 .5-10.1 1.4-20.5 1.6-12.5 .4-5 .3-1.5 .4-1.5 .6-4 2.7-2.5 .6-5.5 0-6-.3-9.5 .4-2-.1-2-.5-1-.5-3.5-2.5-3-.8-4.5-.3-12.5-.4-20.5-1.6-10.3-1.4-1.3-.5 2.6-.5 9-1.2 20.5-1.6 12-.3 5-.4 3-.8 3.5-2.5z"/><path fill="#a5317e" d="M519.2 258.5l2.9-.3 9 .3 5.5-.3 5 .1 1.5 .1 1.5 .6 3.7 2.5 1.3 .5 2 .4 5 .4 13 .3 20.5 1.5 9 1.4-1.2 .5-7.8 1.1-20.5 1.5-13 .3-5 .4-3 .8-3.5 2.4-1.5 .6-2.3 .4-3.7 0-6.5-.3-4.5 .3-5.5 0-2.6-.5-1.4-.7-3-2.1-3-.9-5-.4-13-.3-20.5-1.5-8-1.1-1.2-.5 8.7-1.3 19-1.5 15-.4 4.5-.3 2-.4 1.5-.6 3-2.1z"/><path fill="#992d80" d="M521.4 259l4.2-.2 5.5 .3 5.5-.3 4 .2 1.5 .2 1.5 .4 4.5 2.6 3 .7 5 .3 15 .4 19 1.3 6.7 1.1-1.3 .5-5.4 .8-20.5 1.4-13 .3-5.5 .3-3 .7-4.3 2.5-2.7 .7-4.5 .2-5.5-.3-5.5 .3-3.5-.1-2-.3-2-.8-3.7-2.2-3.3-.7-18-.6-20.5-1.4-5.6-.8-1.3-.5 6.4-1 19-1.4 20-.7 2-.3 1.5-.5 4-2.3z"/><path fill="#8e2a81" d="M525.3 259.5l5.8 .2 5.5-.2 4 .3 2 .5 3.1 1.7 1.9 .7 3.5 .6 20 .7 19 1.3 4.3 .7-1.3 .5-3 .4-19 1.3-16.5 .5-4.5 .3-2 .3-2 .7-3 1.7-1.5 .5-1.5 .3-4 .2-5-.2-5.5 .2-3.5-.2-2-.5-3.5-1.9-1.5-.6-3.5-.6-18.5-.6-20.5-1.4-3.2-.4-1.3-.5 4-.7 19-1.3 16.5-.4 4.5-.3 2-.3 1.5-.5 3.9-2 1.3-.5z"/><path fill="#812581" d="M522.6 260.5l4-.3 11 0 3.5 .6 4.5 2.1 4 .8 21.5 .7 17.2 1.1 3.7 .5-1.9 .6-19 1.2-21.5 .7-2 .3-2.5 .7-3 1.5-1.5 .5-2.5 .4-2.5 .1-4.5-.1-5 .1-3.5-.3-2-.6-3.5-1.7-2.5-.6-2-.3-21.5-.7-19-1.3-1.6-.5 3.7-.5 16.9-1.1 17.5-.5 4.5-.3 4-.8 3.7-1.8z"/><path fill="#762181" d="M524.9 261l2.7-.1 10 .1 2.5 .5 5 2 4.5 .6 21.5 .7 17.2 1.2-3.3 .5-13.9 .9-22 .7-4.5 .8-4 1.6-2.5 .6-2.5 .2-8 0-2.5-.1-2-.3-5-2-4.5-.8-22.5-.7-13.6-.9-3.3-.5 16.9-1.2 22.5-.7 4-.7 4.5-1.8z"/><path fill="#6b1d81" d="M524 262l3.1-.4 9 0 2.5 .4 5.5 1.9 4 .6 23 .7 10.3 .8-3.1 .5-7.2 .5-23 .8-4.8 .7-5.2 1.8-4 .3-6.5 0-2.5-.2-1.8-.4-4.1-1.5-5.1-.8-23-.7-6.9-.5-3.1-.5 10-.8 23-.7 4.5-.7z"/><path fill="#601880" d="M525.5 262.5l2.6-.3 7 0 2.5 .4 4.5 1.5 4 .6 6 .4 19 .6 3.3 .3-3.3 .5-19 .6-6 .4-4 .6-5 1.6-3.5 .3-7.5-.2-6-1.8-4-.6-5.5-.3-19.5-.6-3-.5 3.5-.3 19-.6 5.5-.3 4.8-.8z"/><path fill="#56147d" d="M526.1 263l2.5-.3 6 .1 2 .3 4.2 1.4 3.3 .5 5 .4 13.5 .6-18.5 1.2-4 .7-4 1.4-3 .2-4.5 0-2-.2-4.5-1.5-4-.6-18.2-1.2 13.7-.6 4.8-.4 3.7-.6z"/><path fill="#4a1079" d="M526.5 263.5l2.6-.3 5.5 0 1.5 .3 2.5 1.1 1.5 .4 9 1-9.5 1.3-1 .3-2 .9-1.5 .4-5.5 .1-3-.3-2.9-1.2-1.1-.2-9.2-1.3 8.9-1 1.3-.3z"/><path fill="#3f0f72" d="M526.8 264l2.3-.4 5 0 1.6 .4 2.9 1.3 3.9 .7-3.9 .9-3.5 1.5-2 .2-3 0-3-.3-3-1.3-4.1-1 3.6-.6z"/><path fill="#331067" d="M528.7 264l5.4 0 1.4 .5 2.9 1.5-.7 .5-2.9 1.5-2.7 .3-3-.1-1.4-.2-2.9-1.5-.7-.5 3-1.5z"/><path fill="#271258" d="M528.2 264.5l1.9-.3 3.5 .1 1.5 .6 1.2 1.1-.8 1-1.4 .8-2 .2-3.5-.2-.9-.3-.6-.4-.6-.6-.3-.5 1.1-1z"/><path fill="#1d1147" d="M528.2 265l1.4-.4 3.5 0 1.2 .4 .9 1-.6 1-1 .5-1.5 .1-3-.1-1-.4-.6-.6-.2-.5z"/><path fill="#130d34" d="M529.2 265l1.4-.2 2.5 .1 .9 .6 .3 .5-.6 1-.6 .3-3.5 0-.8-.3-.5-.5-.1-.5 .3-.5z"/><path fill="#0b0924" d="M529.1 265.5l1-.4 2.5 0 .8 .4 .2 .5-.1 .5-.4 .4-.5 .2-3-.1-.6-.5-.1-.5z"/><path fill="#050416" d="M529.7 265.5l.9-.2 2 .1 .5 .6-.1 .5-.9 .4-2-.1-.6-.3-.1-.5z"/><path fill="#010108" d="M530 266l.6-.4 .5-.1 1 .1 .4 .4-.2 .5-1.2 .1-1-.1z"/></g></g>
<text x="430.20" y="190.09" text-anchor="end" font-size="13" letter-spacing="1.0">−20</text>
<text x="430.20" y="154.94" text-anchor="end" font-size="13" letter-spacing="1.0">−10</text>
<text x="430.20" y="119.80" text-anchor="end" font-size="13" letter-spacing="1.0">0</text>
<text x="430.20" y="84.66" text-anchor="end" font-size="13" letter-spacing="1.0">10</text>
<text x="430.20" y="49.51" text-anchor="end" font-size="13" letter-spacing="1.0">20</text>
<path d="M443.17 213.60v-1.8M460.79 213.60v-3.2M478.40 213.60v-1.8M496.02 213.60v-3.2M513.63 213.60v-1.8M531.25 213.60v-3.2M548.87 213.60v-1.8M566.48 213.60v-3.2M584.10 213.60v-1.8M601.71 213.60v-3.2M619.33 213.60v-1.8M432.60 203.06h1.8M432.60 185.49h3.2M432.60 167.91h1.8M432.60 150.34h3.2M432.60 132.77h1.8M432.60 115.20h3.2M432.60 97.63h1.8M432.60 80.06h3.2M432.60 62.49h1.8M432.60 44.91h3.2M432.60 27.34h1.8" stroke="#262626" stroke-width="0.75" fill="none"/>
<rect x="432.60" y="16.80" width="197.30" height="196.80" fill="none" stroke="#262626" stroke-width="0.95"/>
<text x="531.45" y="10.50" text-anchor="middle" font-size="13" letter-spacing="0.37">Model <tspan font-style="italic">BF</tspan><tspan font-size="9.4" dy="2.5">0</tspan></text>
<text x="444.10" y="34.00" text-anchor="start" font-size="11.2" letter-spacing="0.64">7.568 Gyr</text>
<text transform="translate(412.70 115.20) rotate(-90)" text-anchor="middle" font-size="13" letter-spacing="0.9">y [kpc]</text>
<text x="651.79" y="226.90" text-anchor="middle" font-size="13" letter-spacing="1.0">−10</text>
<text x="687.00" y="226.90" text-anchor="middle" font-size="13" letter-spacing="1.0">0</text>
<text x="722.21" y="226.90" text-anchor="middle" font-size="13" letter-spacing="1.0">10</text>
<path d="M651.29 213.60v-3.2M668.89 213.60v-1.8M686.50 213.60v-3.2M704.11 213.60v-1.8M721.71 213.60v-3.2M637.20 203.06h1.8M637.20 185.49h3.2M637.20 167.91h1.8M637.20 150.34h3.2M637.20 132.77h1.8M637.20 115.20h3.2M637.20 97.63h1.8M637.20 80.06h3.2M637.20 62.49h1.8M637.20 44.91h3.2M637.20 27.34h1.8" stroke="#262626" stroke-width="0.75" fill="none"/>
<rect x="637.20" y="16.80" width="98.60" height="196.80" fill="none" stroke="#262626" stroke-width="0.95"/>
<text x="686.90" y="242.80" text-anchor="middle" font-size="13" letter-spacing="0.9">z [kpc]</text>
<text x="463.07" y="328.00" text-anchor="middle" font-size="13" letter-spacing="1.0">−20</text>
<text x="497.41" y="328.00" text-anchor="middle" font-size="13" letter-spacing="1.0">−10</text>
<text x="531.75" y="328.00" text-anchor="middle" font-size="13" letter-spacing="1.0">0</text>
<text x="566.09" y="328.00" text-anchor="middle" font-size="13" letter-spacing="1.0">10</text>
<text x="600.43" y="328.00" text-anchor="middle" font-size="13" letter-spacing="1.0">20</text>
<text x="432.70" y="305.56" text-anchor="end" font-size="13" letter-spacing="1.0">−10</text>
<text x="432.70" y="271.20" text-anchor="end" font-size="13" letter-spacing="1.0">0</text>
<text x="432.70" y="236.84" text-anchor="end" font-size="13" letter-spacing="1.0">10</text>
<path d="M445.40 314.70v-1.8M462.57 314.70v-3.2M479.74 314.70v-1.8M496.91 314.70v-3.2M514.08 314.70v-1.8M531.25 314.70v-3.2M548.42 314.70v-1.8M565.59 314.70v-3.2M582.76 314.70v-1.8M599.93 314.70v-3.2M617.10 314.70v-1.8M435.10 300.96h3.2M435.10 283.78h1.8M435.10 266.60h3.2M435.10 249.42h1.8M435.10 232.24h3.2" stroke="#262626" stroke-width="0.75" fill="none"/>
<rect x="435.10" y="218.50" width="192.30" height="96.20" fill="none" stroke="#262626" stroke-width="0.95"/>
<text x="531.65" y="343.20" text-anchor="middle" font-size="13" letter-spacing="0.9">x [kpc]</text>
<text transform="translate(412.70 266.60) rotate(-90)" text-anchor="middle" font-size="13" letter-spacing="0.9">z [kpc]</text>
<rect x="735.60" y="18.75" width="8.50" height="292.25" fill="url(#cbg)" stroke="#262626" stroke-width="0.8"/>
<text x="750.50" y="28.66" text-anchor="start" font-size="10" letter-spacing="0.1">0</text>
<text x="750.50" y="91.78" text-anchor="start" font-size="10" letter-spacing="0.1">-1</text>
<text x="750.50" y="154.90" text-anchor="start" font-size="10" letter-spacing="0.1">-2</text>
<text x="750.50" y="218.02" text-anchor="start" font-size="10" letter-spacing="0.1">-3</text>
<text x="750.50" y="281.15" text-anchor="start" font-size="10" letter-spacing="0.1">-4</text>
<path d="M744.10 25.06h3M744.10 88.18h3M744.10 151.30h3M744.10 214.42h3M744.10 277.55h3" stroke="#262626" stroke-width="0.75" fill="none"/>
<text x="686.50" y="289.30" text-anchor="middle" font-size="13" letter-spacing="0.55">Colorbar:</text>
<text x="687.30" y="305.40" text-anchor="middle" font-size="13" letter-spacing="0.67">Log(<tspan font-style="italic">ρ</tspan>/<tspan font-style="italic">ρ</tspan><tspan font-style="italic" font-size="9.1" dy="2.2">max,C</tspan><tspan dy="-2.2">)</tspan></text>
<mask id="mf2" maskUnits="userSpaceOnUse" x="33.3" y="391.3" width="197.3" height="196.8"><g filter="url(#nz)" fill="#fff"><path fill-opacity="0.055" d="M124.8 406.3l8-.4 8.5 .3 8 1 7.5 1.7 7.5 2.5 7 3.1 6.7 3.8 6.3 4.5 6 5.3 5.3 5.7 4.7 6.3 4 6.6 3.4 7.1 2.7 7.5 2.1 8 1.4 8 .6 8.5 0 9.5-.8 8.5-1.6 8.5-2.3 8-2.9 7.5-3.6 7.1-4.5 6.9-5 6.3-5.7 5.7-6.1 5-6.7 4.4-7 3.6-7.5 2.9-8 2.2-8 1.3-8.5 .6-9-.1-8-.9-8-1.6-7.5-2.3-7.2-3.1-6.8-3.7-6.5-4.5-6-5.2-5.5-5.8-4.8-6.3-4.2-6.8-3.5-7.2-2.7-7.5-2.2-8-1.4-8.5-.6-9 .1-9.5 .8-8.5 1.6-8.5 2.4-8 3.2-8 3.8-7.1 4.5-6.7 5.1-6.2 5.9-5.7 6.5-5.1 7-4.3 7.5-3.6 7.5-2.7 8-1.9z"/><path fill-opacity="0.063" d="M128.2 409.3l6.6-.2 8 .4 7 1.1 8 1.9 7 2.5 6.5 3.1 6.5 3.9 6 4.5 5.7 5.3 5.6 6.5 4.5 6.5 3 5.5 3 6.5 2.5 7.5 2 8.5 1.1 8.5 .3 9-.4 9-1 7.5-1.5 7-2.6 8-3 7-3.9 7-5 7-5.4 6-5.9 5.3-7 5-6 3.4-7 3.1-8 2.5-7 1.5-8.5 .9-9 .2-7.5-.6-6.5-1-8-2.1-8-3-6-3-7-4.4-5-3.9-5.1-4.9-5.2-6-4.5-6.5-4.1-7.5-2.9-7-2.4-8-1.6-7.5-.9-9-.2-10 .6-8 1-6.5 1.9-8 2.6-7.5 3-6.5 4.1-7 4.3-6 5.4-5.9 6-5.4 7-5 6.5-3.6 7-3 8-2.4 7.5-1.5z"/><path fill-opacity="0.096" d="M125.4 411.3l.9-.3 2.5-.1 12 .1 7.5 1 .6 .3 1.9 .2 .4 .3 1.6 .2 .5 .3 3 .6 .5 .4 1 .1 .6 .4 .9 .1 .5 .4 1 .1 .4 .4 2.1 .6 .4 .4 3.1 1.2 4 2 2 1.3 1.5 .7 1 .8 .5 .1 1 .9 .5 .1 6 4.6 5.3 4.8 5 5.5 4.4 6 3.5 6 1.9 4-.1 .8-1.3-1.8-.2-.7-.4 .2 3.7 8 2.9 8.5 1.6 6.5 .9 6.5 .3 7-.2 7.5-1 7-1.9 8-2.1 6-3.9 8.5-5.2 8.5-3.9 5.5-4.8 5.4-5 4.7-5.5 4.3-6 3.7-6.5 3.2-6.5 2.4-7 1.9-7.5 1.2-7.5 .6-8.5-.1-7.5-.8-7.5-1.6-7-2.1-7-3-6.5-3.6-5.9-4.2-5.6-4.9-5-5.3-4.5-5.9-3.9-6.4-3.3-7-2.5-7-2-7.5-1.2-7.5-.6-8 .1-9 .8-8 1.5-8 2.2-7.5 2.9-7 3.5-6.7 4.2-6.3 4.8-5.9 5.5-5.3 6-4.8 7-4.4 7-3.5 2-.6 .5-.4 2.1-.6 .4-.3 1.1-.2 .4-.3 7.5-2.1 4.3-.6 1.2-.4zM201.3 452.3l-.2 0 .2 .8z"/><path fill-opacity="0.138" d="M127.8 411.3l4.5-.3 5.5 .1 9.5 1.1 4.5 .9 5.5 1.5 9 3.5 5 2.6 5 3 7.4 5.6 3.8 3.5 3.4 3.5 2.9 3.5 3 4.3 0 .6-3.3-3.9-4.2-4.5-4.3-4-3.7-3-4.9-3.5-4.9-3-2.7-1.2-.2-.3-.8-.2-.2-.3-.8-.1-.2-.4-.8-.1-.3-.4-1.1 0 6.9 3.5 6.5 4.2 6 5 5.5 5.8 4.6 6 4 6.5 3.5 7.5 2.5 7.5 2 8.5 1 8.5 .2 9-.5 8.5-1.2 7.5-2 8-3 8-3.8 7.5 .2 .5 4-7 3.6-8 2.5-8 1.5-7 .9-9.5 0-5.5-.8-9.5-1.5-8-.3-.5 .1-1.2 2.1 7.2 1 5.5 .4 4.5 .2 8-.6 7.5-1 6-1.9 7-2.6 7-2.9 6-4 6.5-4.6 6-5.6 5.7-2 1.8-1 .5-4.6 4-4.9 3.6-6 3.5-6.5 3-7.5 2.5-6.5 1.5-7.5 1-7.5 .2-7.5-.3-7.5-1-8-1.9-7-2.6-6-2.8-6-3.7-5.3-4-5.4-5-4.8-5.5-4-5.6-3.6-6.4-2.9-6.5-2.5-7.5-1.6-7-1-7.5-.4-10.5 .2-5.5 .5-5 1.7-9 1.5-5.5 1.6-4.5 2.5-5.5 3-5.6 .2-.4-.2-.6 .5 .2-.2-.6 .2-.5 2.4-3.5 1.9-2.5 4.7-5.2 4.5-4.1 3-2.4 4.5-3.1 4-2.4 8.5-4.1 4-1.4 5-1.5 4.5-1 7-1 6-.2 5 .2 9.5 .9 4 .7 6 1.5 8.5 3 .1-.4-1.1-.2 0-.3-1-.1-.5-.5-1-.1-.1-.3-.9-.1-.4-.4-2.6-.6-.4-.4-3.1-.7-.5-.3-1.5-.2-.5-.3-2-.3-.3-.2-6.2-1-8.5-.5-9 .4-7 1-8 1.9-8 2.8-.9-.1 5.4-2.5 7.5-2.5 7-1.6zM196.3 531.7l-.3 .6 .3 .2 .3-.7zM195.3 533.4l-.3 .4 .3 .2zM194.3 534.9l-.3 .4 .3 .1zM192.8 537.1l-.2 .2 .2 .1z"/><path fill-opacity="0.181" d="M131.7 411.3l9.1 .3 7.5 1 8 2 7 2.5 7.5 3.6 8 5.1 6.7 5.5 3.4 3.5-.1 .4-8.5-7-4.5-3.1-4-2.4-5-2.6-4.5-1.9-9-3-4.5-1-5.5-1-5-.5-5-.2-5 .1-5.5 .5-6.5 1-3 .7-1.5 0 5.1-1.5 4.8-1 4.6-.6zM122.7 414.3l4.1-.2 2.5 .5 6-.1 5.5 .3 6.5 .8 6 1.3 6.5 2 6 2.5 6 3.1 5.5 3.7 5 4.1 5 5 4.5 5.5 4 6 3.1 6 2.7 6.5 2.2 7 1.4 7 .9 8 .2 8-.4 8-1.1 7.5-1.7 7-2.3 7-3 6.5-3.8 6.5-4.3 6-4.9 5.4-5.2 4.6-5.8 4.2-6.5 3.7-6.5 2.9-7 2.2-7 1.5-7.5 .8-8 .2-7.5-.5-7-1.1-7-1.9-6.5-2.4-6.5-3.2-6-3.7-5.5-4.4-5-4.8-4.6-5.5-4.1-6-3.5-6.5-2.7-6.5-2.2-7-1.5-7.5-1-9 0-9.5 .8-9 1.6-8.5 2.5-8 3.2-7.2 2.3-4.3 2.7-4.2 3-4.1 3.2-3.7-.2-.3-.5 .4-.4-.1 4.4-4.5 4.8-4 5.2-3.6 5.2-2.9 4.3-2.1 6.5-2.4 7.5-2zM124.3 414.7l-.1 .1 1.6 0zM82.8 433.7l0 .3 .2-.2zM81.3 435.2l-.2 .1 .2 .1zM189 435.3l.3-.1 0 .4zM80.8 435.6l-.2 .2 .2 .2 .2-.2zM80.3 436.1l-.3 .2 .3 .2 .2-.2zM209.7 483.3l.1-.4 .4 7.9-.2 6.5-.7 5.4-1.4 6.6-1.6 5.3-2.5 6.3-3 6-3.5 5.5-.3-.1 .2-.5 3.7-6.5 2.6-5.5 2-5.5 1.9-6.5 1.1-5 .9-7.5zM196.6 532.8l.2-.3 0 .6zM196.2 533.3l.3 0-.2 .5zM195.7 534.3l.1-.2 .1 .2z"/><path fill-opacity="0.230" d="M127.9 411.8l6.9-.2 6.3 .2 7.2 1 6.4 1.5 6.1 2 6.9 3 6.2 3.5 5.1 3.5-.2 .3-.5-.2-7-4.3-6-2.9-6.5-2.6-7-2-5-1.1-7-.9-7-.3-8.8 0zM124.7 415.8l6.6-.4 8.5 .2 8 .9 6.5 1.5 6 2 7 3 6 3.5 5 3.6 4.5 3.8 4.7 4.9 4 5 4.2 6.5 2.8 5.5 2.6 6.5 2 7 1.5 7.5 .8 9 0 7-.4 7-1.4 8.5-1.5 6-2.5 7-3 6.5-3.6 6-4.5 6-4.6 5-6.1 5.3-5 3.5-6 3.4-7 3-6.5 2-7.5 1.6-6 .6-9 .2-6.5-.4-8.5-1.4-7-2-6.5-2.5-6.5-3.4-5.5-3.7-5.5-4.5-4.7-4.7-4.1-5-4-6-3.4-6.5-2.5-6-2.1-7-1.6-7.5-.8-8-.2-8.5 .6-8 1.1-7 1.9-7.5 2.5-7 3.5-7 4-6.5 4.4-5.5 3.3-3.5 3.1-2.9 5.5-4.4 5.5-3.4 7-3.5 7-2.6 6-1.5zM108.7 417.8l1.4 0-1.3 .2zM107.2 418.3l1.1-.2 .3 .2-5.8 2.2-7.5 3.9-.5 .2-.1-.3 6.5-3.5zM93.8 424.8l.5-.2 .3 .2-.8 .5-.5 .2-.2-.2zM92.3 425.8l.5-.2 .1 .2zM179 426.8l.3-.2 .3 .2-.3 .2zM179.7 427.3l.1-.2 .4 .2z"/><path fill-opacity="0.299" d="M139.4 412.3l4 0-.6 .2zM143.6 412.8l.7-.2 2.5 .2 5 1 5.4 1.5 5.4 2-.3 .2-1-.2-5-1.8-5.5-1.5-4.5-.9zM126.2 416.3l7.6-.3 7.5 .4 7 .9 6.5 1.6 6.5 2.2 6 2.7 6 3.5 5.5 4 5 4.5 4.6 5 4 5.5 3.6 6 3.1 6.5 2.3 6.5 1.7 7 1.2 7 .5 7.5-.1 8.5-.7 7.5-1.4 7-2 7-2.8 7-3.1 6-3.9 6-4.5 5.6-5 5-5.5 4.4-6 3.8-6.5 3.3-6.5 2.4-7 1.9-7 1.1-7.5 .5-8-.2-7-.8-6.9-1.5-6.6-2.1-6.5-2.8-6-3.4-5.5-3.9-5.4-4.8-4.6-5-4.1-5.5-3.7-6-3-6.5-2.4-6.5-1.8-7-1.2-7.5-.5-7.5 .1-8.5 .8-7.5 1.4-7.5 2.1-7 2.9-7 3.4-6.4 4-5.9 4.8-5.7 5.2-4.9 5.5-4.2 6-3.7 6.5-3.1 7-2.5 7-1.6zM162.6 417.8l.2-.3 1 .3 0 .3zM163.8 418.3l.5-.2 .6 .2-.1 .2z"/><path fill-opacity="0.410" d="M128 416.8l7.3-.1 7 .4 7 1.1 6.4 1.6 6.6 2.4 6 2.8 6 3.7 5.5 4.3 5 4.7 4.3 5.1 3.9 5.5 3.3 6 2.7 6 2.3 7 1.6 7 1 7.5 .3 7.5-.2 8-1 7.5-1.5 7-2.2 6.9-2.9 6.6-3.3 6-4.2 6-4.6 5.3-5 4.7-5.5 4.1-6 3.6-6.5 3-6.6 2.3-6.9 1.6-7 1-7.5 .2-7.5-.3-7-.9-6.6-1.6-6.9-2.4-6-2.8-6-3.6-5.5-4.1-5-4.6-4.5-5.1-4.2-5.9-3.4-6-2.9-6.6-2.1-6.4-1.7-7-1-7.5-.3-8.5 .3-8.5 1.1-7.5 1.5-6.5 2.2-6.7 3-6.8 3.4-6 4.1-5.7 4.7-5.3 5.3-4.8 5.7-4.2 6.3-3.6 6.5-2.9 7-2.2 7-1.5z"/><path fill-opacity="0.583" d="M129.4 424.8l5.4-.1 6.5 .4 6 .9 6 1.5 5.5 2.1 6 2.9 5.5 3.5 4.5 3.5 4.4 4.3 3.8 4.5 3.5 5 3 5.5 2.6 6 2 6 1.5 7 .6 5.5 .3 7-.4 7.5-1 7-1.6 6-1.9 5.5-3 6.5-2.9 5-4.1 5.5-3.8 4.1-4.5 4.1-5.5 4-5.5 3.1-5.5 2.4-6.5 2.1-7 1.4-5.5 .5-7 .1-6.5-.5-6-1.1-5.5-1.5-5-1.9-6-3-5.5-3.5-5-4.1-4.2-4.2-4.1-5-3-4.5-3.5-6.5-2-5-2-6.5-1.4-7.5-.6-5.5 0-8 .5-6.5 1-6 1.6-6 1.9-5.5 2.6-5.5 2.9-5 4.5-6 3.8-4.1 4.5-4.1 5-3.6 6-3.4 6-2.6 6.5-2 5-1z"/><path fill-opacity="1.000" d="M127.2 427.3l6.1-.3 6.5 .3 6 .9 5.5 1.3 5.5 1.9 5.5 2.5 5 3 4.5 3.4 4.5 4 4 4.5 3.5 4.8 3 5.1 2.6 5.6 1.9 5.5 1.5 6 1 6 .4 6.5-.2 6.5-.7 6.5-1.2 6-1.9 6-2.3 5.5-2.9 5.5-3.4 5-3.8 4.6-4.5 4.4-4.5 3.5-5 3.2-5.5 2.8-5.5 2.1-6 1.5-6 1-6 .4-6.5-.2-6-.7-6-1.4-5.5-1.8-5.5-2.5-5-2.9-4.9-3.5-4.5-4-4-4.5-3.6-4.8-3.1-5.2-2.6-5.5-2.1-6-1.5-6-.9-6-.4-6.5 .1-6.5 .8-6.5 1.2-6 1.9-6 2.4-5.5 2.9-5.5 3.8-5.5 4-4.6 4.5-4.3 4.8-3.6 4.8-3 5.4-2.6 6-2.1 6-1.5z"/></g></mask>
<g mask="url(#mf2)"><g filter="url(#bl)"><path fill="#febf84" d="M130.3 404.3l6 0 .5 .5 7 0 .5 .5 3.5 0 .5 .5 2 0 .5 .5 2 0 .5 .5 2 0 .5 .5 1 0 .5 .5 1.5 0 .5 .5 1 0 .5 .5 1 0 .5 .5 1 0 .5 .5 1 0 .5 .5 .5 0 .5 .5 1 0 .5 .5 .5 0 .5 .5 .5 0 .5 .5 .5 0 .5 .5 .5 0 .5 .5 .5 0 .5 .5 .5 0 .5 .5 .5 0 .5 .5 .5 0 .5 .5 .5 0 1 1 .5 0 .5 .5 .5 0 1 1 .5 0 1 1 .5 0 1.5 1.5 .5 0 2 2 .5 0 3 3 .5 0 4.5 4.5 0 .5 3 3 0 .5 1.5 1.5 0 .5 1.5 1.5 0 .5 1 1 0 .5 1 1 0 .5 1 1 0 .5 .5 .5 0 .5 1 1 0 .5 .5 .5 0 .5 .5 .5 0 .5 .5 .5 0 .5 .5 .5 0 .5 .5 .5 0 .5 .5 .5 0 .5 .5 .5 0 .5 .5 .5 0 1 .5 .5 0 .5 .5 .5 0 1 .5 .5 0 .5 .5 .5 0 1 .5 .5 0 1 .5 .5 0 1 .5 .5 0 1.5 .5 .5 0 1.5 .5 .5 0 1.5 .5 .5 0 2 .5 .5 0 2 .5 .5 0 2.5 .5 .5 0 4 .5 .5 0 19-.5 .5 0 4-.5 .5 0 3-.5 .5 0 2-.5 .5 0 2-.5 .5 0 1.5-.5 .5 0 1-.5 .5 0 1.5-.5 .5 0 1-.5 .5 0 1-.5 .5 0 1-.5 .5 0 1-.5 .5 0 .5-.5 .5 0 1-.5 .5 0 .5-.5 .5 0 .5-.5 .5 0 1-.5 .5 0 .5-.5 .5 0 .5-.5 .5 0 .5-.5 .5 0 .5-1 1 0 .5-.5 .5 0 .5-.5 .5 0 .5-1 1 0 .5-1 1 0 .5-1 1 0 .5-1 1 0 .5-1.5 1.5 0 .5-2.5 2.5 0 .5-8 8-.5 0-2 2-.5 0-1.5 1.5-.5 0-1.5 1.5-.5 0-1 1-.5 0-1 1-.5 0-.5 .5-.5 0-1 1-.5 0-.5 .5-.5 0-.5 .5-.5 0-.5 .5-.5 0-.5 .5-.5 0-.5 .5-.5 0-.5 .5-.5 0-.5 .5-.5 0-.5 .5-1 0-.5 .5-.5 0-.5 .5-1 0-.5 .5-1 0-.5 .5-1 0-.5 .5-1 0-.5 .5-1 0-.5 .5-1.5 0-.5 .5-1.5 0-.5 .5-1.5 0-.5 .5-2.5 0-.5 .5-3 0-.5 .5-4.5 0-.5 .5-14 0-.5-.5-4.5 0-.5-.5-3 0-.5-.5-2 0-.5-.5-2 0-.5-.5-1.5 0-.5-.5-1 0-.5-.5-1.5 0-.5-.5-1 0-.5-.5-1 0-.5-.5-1 0-.5-.5-.5 0-.5-.5-1 0-.5-.5-.5 0-.5-.5-.5 0-.5-.5-.5 0-.5-.5-1 0-.5-.5-.5 0-1-1-.5 0-.5-.5-.5 0-.5-.5-.5 0-.5-.5-.5 0-1-1-.5 0-.5-.5-.5 0-1-1-.5 0-1.5-1.5-.5 0-1-1-.5 0-2-2-.5 0-4-4-.5 0-1.5-1.5 0-.5-4-4 0-.5-2-2 0-.5-1.5-1.5 0-.5-1-1 0-.5-1-1 0-.5-1-1 0-.5-1-1 0-.5-.5-.5 0-.5-.5-.5 0-.5-.5-.5 0-.5-.5-.5 0-.5-.5-.5 0-.5-.5-.5 0-.5-.5-.5 0-.5-.5-.5 0-.5-.5-.5 0-.5-.5-.5 0-1-.5-.5 0-.5-.5-.5 0-1-.5-.5 0-1-.5-.5 0-1-.5-.5 0-1-.5-.5 0-1-.5-.5 0-1.5-.5-.5 0-1.5-.5-.5 0-1.5-.5-.5 0-2-.5-.5 0-2.5-.5-.5 0-3.5-.5-.5 0-6-.5-.5 0-9.5 .5-.5 0-6.5 .5-.5 0-3 .5-.5 0-2.5 .5-.5 0-2 .5-.5 0-2 .5-.5 0-1.5 .5-.5 0-1 .5-.5 0-1.5 .5-.5 0-1 .5-.5 0-1 .5-.5 0-1 .5-.5 0-.5 .5-.5 0-1 .5-.5 0-.5 .5-.5 0-1 .5-.5 0-.5 .5-.5 0-.5 .5-.5 0-.5 .5-.5 0-.5 .5-.5 0-.5 .5-.5 0-.5 .5-.5 0-.5 1-1 0-.5 .5-.5 0-.5 1-1 0-.5 .5-.5 0-.5 1.5-1.5 0-.5 1-1 0-.5 1.5-1.5 0-.5 2.5-2.5 0-.5 7.5-7.5 .5 0 2.5-2.5 .5 0 1.5-1.5 .5 0 1-1 .5 0 1-1 .5 0 1-1 .5 0 1-1 .5 0 .5-.5 .5 0 .5-.5 .5 0 1-1 .5 0 .5-.5 .5 0 .5-.5 .5 0 .5-.5 .5 0 .5-.5 1 0 .5-.5 .5 0 .5-.5 .5 0 .5-.5 1 0 .5-.5 1 0 .5-.5 .5 0 .5-.5 1 0 .5-.5 1.5 0 .5-.5 1 0 .5-.5 1.5 0 .5-.5 1.5 0 .5-.5 2 0 .5-.5 2.5 0 .5-.5 3.5 0 .5-.5 6.5 0z"/><path fill="#feb47b" d="M126.3 414.3l7.5-.3 7.5 .4 7 .9 7 1.6 6.5 2.2 6.5 3 6 3.5 5.8 4.2 5.2 4.7 4.8 5.3 4 5.5 3.7 6.2 3 6.4 2.4 6.9 1.8 7 1.2 7.5 .5 8-.1 8.5-.8 7.5-1.4 7.5-2.1 7-2.8 7-3.4 6.5-3.9 6-4.5 5.5-5.4 5.3-5.5 4.4-6 3.9-6.5 3.2-7 2.7-7 1.8-7.5 1.2-7.5 .5-8-.2-7.5-.9-7-1.5-7-2.3-6.5-2.8-6-3.4-6-4.3-5.5-4.9-4.7-5.2-4.3-5.8-3.7-6.2-3-6.5-2.5-7-1.8-7-1.1-7.5-.5-8 .1-8.5 .9-8 1.5-7.5 2.3-7.5 2.8-6.7 3.7-6.8 4.1-6 4.7-5.5 5.5-5.2 5.7-4.3 6.3-3.8 6.5-3 7-2.5 7.5-1.7z"/><path fill="#feaa74" d="M128.9 415.3l7.9-.1 7 .6 7 1.2 6.5 1.8 6.5 2.4 6.2 3.1 5.8 3.7 5.5 4.3 5 4.9 4.5 5.4 4 5.9 3.4 6.3 2.7 6.5 2.1 7 1.5 7 .9 7.5 .2 8-.4 8-1 7.5-1.6 7-2.4 7-2.9 6.5-3.5 6.1-4.2 5.9-4.8 5.4-5.1 4.6-5.9 4.4-6 3.5-6.5 2.9-7 2.3-7 1.6-7.5 .9-8 .2-7.5-.5-7-1-7-1.8-6.5-2.4-6.5-3.2-6-3.8-5.3-4.1-5.2-5-4.5-5.3-4-5.9-3.4-6.3-2.8-6.5-2.2-7-1.5-7.5-.9-7.5-.2-8 .4-8 1-7.5 1.8-7.5 2.5-7 3-6.5 3.8-6.5 4.1-5.5 4.9-5.4 5.5-4.8 6-4.2 6-3.4 6.5-2.8 7-2.2 7.5-1.5z"/><path fill="#fea16e" d="M127.2 416.8l7.6-.2 7 .4 7 1 6.5 1.6 6.5 2.3 6.2 2.9 5.8 3.5 5.5 4.2 5 4.6 4.5 5.2 3.9 5.5 3.5 6 2.8 6.5 2.2 6.5 1.7 7 1 7 .4 7.5-.2 8-.9 7.5-1.4 7-2.1 7-2.7 6.5-3.2 6-4.1 6-4.4 5.3-5 4.9-5.5 4.3-6 3.7-6.5 3.2-6.5 2.3-7 1.8-7 1-7.5 .4-7.5-.2-7-.9-6.5-1.4-6.5-2.1-6.5-2.9-6-3.4-5.5-4-5.1-4.5-4.9-5.4-4.1-5.6-3.5-6-3-6.5-2.3-6.5-1.7-7-1.1-7.5-.5-8 .2-8 .9-7.5 1.6-7.5 2.2-7 2.8-6.5 3.5-6.4 4-5.7 4.6-5.4 5.4-5 5.5-4.1 6-3.6 6.5-3 7-2.3 7-1.6z"/><path fill="#fd9869" d="M124.5 418.8l6.8-.4 7.5 .1 7 .8 6.5 1.3 6.5 2 6 2.6 5.7 3.1 5.3 3.6 5 4.2 4.5 4.7 4.3 5.5 3.5 5.5 3.1 6 2.3 6 1.9 6.5 1.3 7 .8 7.5 .1 8-.6 7.5-1.1 7-1.7 6.5-2.5 7-2.9 6-3.7 6-4.2 5.5-4.6 4.9-5 4.3-5.5 3.8-6 3.3-6.5 2.8-6.5 1.9-7 1.4-7 .7-8 0-7-.6-6.5-1.2-6.5-1.8-6.5-2.6-6-3.1-5.5-3.7-5-4.1-5-5-4.3-5.5-3.6-5.5-3-6-2.6-6.5-1.8-6.5-1.4-7-.7-7.5 0-8.5 .6-7.5 1.2-7 1.9-7 2.4-6.5 3-6 3.8-6.1 4.3-5.4 4.9-5 5.3-4.4 6-4 6-3 6.7-2.6 6.8-1.8z"/><path fill="#fc8c63" d="M126.2 420.8l7.1-.3 7 .3 6.5 .8 6.5 1.5 6 2 6 2.7 5.5 3.2 5 3.7 4.6 4.1 4.4 4.8 3.9 5.2 3.3 5.5 2.9 6 2.2 6 1.7 6.5 1.1 7 .6 7.5-.1 7.5-.7 7-1.2 6.5-1.9 6.5-2.5 6.5-3.1 6-3.7 5.7-4.3 5.3-4.5 4.5-5.2 4.2-5.5 3.6-6 3-6 2.3-6.5 1.8-6.5 1.1-7 .5-7.5-.1-6.5-.7-6.5-1.4-6.5-2-6-2.5-5.5-3.1-5.3-3.7-5.2-4.5-4.2-4.5-4.2-5.5-3.4-5.5-2.8-6-2.3-6-1.7-6.5-1.2-7-.6-7.5 .1-7.5 .7-7 1.3-7 1.8-6.5 2.6-6.5 3.1-6 4-6 4.3-5.3 4.9-4.7 5.1-4 6-3.8 6-2.8 6.5-2.4 6.5-1.5z"/><path fill="#fb835f" d="M126.4 423.8l6.4-.3 7 .2 6 .8 6 1.4 6 2 5.5 2.4 5.5 3.2 5 3.6 4.7 4.2 4.1 4.5 3.7 5 3 5 2.7 5.5 2.3 6.2 1.7 6.3 1.1 6.5 .5 7-.1 7-.6 6.5-1.2 6.5-1.9 6.5-2.4 6-2.8 5.5-3.5 5.5-4 5-4.5 4.5-4.9 4-5.3 3.5-5.6 2.9-6 2.3-6 1.7-6.5 1.1-6.5 .5-7-.1-6.5-.7-6-1.2-6-1.9-6-2.6-5.5-3-5-3.5-4.6-4-4.4-4.7-3.7-4.8-3.4-5.5-2.9-6-2.2-6-1.7-6.5-1.1-6.5-.5-7 .1-7 .7-7 1.3-6.5 1.9-6.5 2.5-6 3-5.7 3.5-5.3 4.2-5 4.6-4.5 5.2-4.1 5.5-3.4 5.5-2.7 6.3-2.3 6.2-1.5z"/><path fill="#f9785d" d="M126.6 426.8l6.2-.3 6.5 .2 6 .8 5.5 1.3 5.5 1.8 5.5 2.4 5 2.9 5 3.6 4.5 4 3.9 4.3 3.6 4.8 3.1 5.2 2.7 5.5 2.1 6 1.6 6 .9 6 .5 6.5-.1 6.5-.7 6.5-1.1 6-1.8 6-2.5 6-2.9 5.5-3.3 5-4 4.9-4.2 4.1-4.8 3.9-5 3.2-5.5 2.8-5.5 2.1-6 1.6-6 1-6.5 .4-6.5-.2-6-.7-6-1.3-5.5-1.8-5.5-2.4-5-2.9-5-3.6-4.5-3.9-4-4.4-3.6-4.8-3.3-5.5-2.6-5.5-2.2-6-1.5-6-1-6-.4-6.5 .1-6.5 .7-6.5 1.2-6 1.8-6 2.5-6 2.9-5.5 3.7-5.5 3.8-4.5 4.4-4.3 4.7-3.7 5.3-3.3 5.5-2.7 5.5-2 6-1.5z"/><path fill="#f66e5c" d="M126.7 429.8l6.1-.3 6 .2 5.5 .7 5.5 1.3 5.5 1.8 5 2.3 5 2.9 4.4 3.1 4.1 3.7 4 4.3 3.5 4.6 3 5 2.6 5.4 2 5.5 1.5 5.5 1 6 .4 6-.1 6.5-.6 6-1.3 6-1.7 5.5-2.2 5.5-3 5.5-3.1 4.7-3.5 4.3-4.1 4-4.4 3.6-5 3.3-5 2.5-5.5 2.2-5.5 1.5-6 1-6 .4-6-.1-6-.8-5.5-1.2-5.5-1.8-5-2.3-5-2.8-4.5-3.3-4.5-3.9-3.9-4.3-3.4-4.5-3-5-2.7-5.5-2-5.5-1.4-5.5-1-6-.5-6 .2-6.5 .6-6 1.3-6 1.8-6 2.4-5.5 2.7-5 3.4-4.9 3.9-4.6 4.1-4 4.5-3.5 5-3.1 5-2.5 5.5-2 5.5-1.5z"/><path fill="#f3655c" d="M126.2 432.8l5.6-.4 5.5 .1 5.5 .6 5 1.1 5.5 1.8 5 2.2 4.6 2.6 4.4 3.1 4 3.4 3.8 4 3.5 4.5 2.8 4.5 2.5 5 1.9 5 1.6 5.5 1 5.5 .5 5.5 0 6.5-.5 5.5-1.1 5.5-1.6 5.5-2.2 5.5-2.6 5-2.9 4.5-3.2 4-4 4.1-4.5 3.8-4.5 3-5 2.6-5 2-5.5 1.6-5.5 1-5.5 .4-6-.1-5.5-.7-5.5-1.2-5-1.6-5-2.2-4.5-2.6-4.5-3.1-4-3.5-3.8-4-3.5-4.5-2.9-4.5-2.5-5-1.9-5-1.5-5-1.2-6.5-.4-5.5 0-6 .6-6 1-5 1.6-5.5 2.2-5.5 2.7-5 3.1-4.7 3.5-4.3 4-4 4.3-3.5 4.7-3 5-2.6 5-2 5.5-1.5z"/><path fill="#ef5d5e" d="M126.9 434.8l5.4-.3 5.5 .1 5.5 .8 5 1.2 5 1.7 4.5 2 4.5 2.7 4.5 3.2 3.9 3.6 3.6 3.9 3 4.1 2.8 4.5 2.4 5 1.8 5 1.3 5 .9 5.5 .4 5.5-.1 5.5-.6 5.5-1.2 5.5-1.5 5-2.2 5.2-2.6 4.8-3.1 4.5-3.4 4-3.9 3.8-4 3.2-4.5 2.9-4.5 2.3-5 1.9-5 1.4-5.5 1-5.5 .3-5.5-.1-5.5-.8-5-1.1-5-1.7-4.5-2.1-4.5-2.6-4.5-3.2-4-3.6-3.5-3.8-3.2-4.3-2.8-4.5-2.4-5-1.9-5-1.3-5-.9-5.5-.4-5.5 .1-5.5 .6-5.5 1.2-5.5 1.7-5.5 2.2-5 2.6-4.7 3-4.3 3.5-4.2 4-3.8 4-3.2 4.5-2.8 4.5-2.3 5-1.9 5-1.4z"/><path fill="#e95462" d="M127.6 436.8l5.2-.3 5 .2 5 .7 5 1.2 5 1.8 4.5 2.1 4.5 2.7 4 3 3.5 3.2 3.5 3.9 3 4 2.7 4.5 2.1 4.5 1.9 5 1.2 5 .9 5.5 .3 5-.2 5.5-.7 5.5-1.1 5-1.7 5-2 4.5-2.5 4.5-3.1 4.5-3.5 4-3.7 3.5-3.8 3-4.3 2.7-4.5 2.2-5 1.9-5 1.3-5 .8-5 .3-5-.2-5-.7-5-1.1-5-1.8-4.5-2-4.5-2.7-4-2.9-4-3.6-3.3-3.7-3-4-2.8-4.5-2.1-4.5-1.9-5-1.3-5-.9-5.5-.3-5 .2-5.5 .7-5.5 1.1-5 1.7-5 1.9-4.5 2.5-4.5 3.2-4.5 3.4-4 3.9-3.6 4-3.1 4.5-2.8 4.5-2.2 5-1.8 5-1.3z"/><path fill="#e34e65" d="M130.5 438.3l4.8 0 5 .5 5 1 4.5 1.3 4.5 1.9 4.5 2.4 4 2.7 3.8 3.2 3.4 3.5 3.3 4 2.6 4 2.4 4.5 1.8 4.5 1.6 5 .9 5 .6 5 0 5-.4 5-.9 5-1.5 5-1.7 4.5-2.4 4.7-2.8 4.3-3.1 4-3.4 3.5-3.7 3.1-4 2.8-4.5 2.5-4.5 1.9-4.5 1.4-5 1.1-5 .5-5 0-5-.5-5-.9-4.5-1.4-4.5-1.9-4.5-2.4-4-2.7-4-3.3-3.6-3.7-3.2-4-2.6-4-2.3-4.5-1.9-4.5-1.5-5-.9-5-.5-5 0-5 .4-5 1-5 1.4-5 1.8-4.5 2.4-4.6 2.9-4.4 3.1-3.9 3.5-3.6 3.6-3 3.9-2.6 4.5-2.5 4.5-1.9 5-1.6 5-1z"/><path fill="#db476a" d="M129.8 439.8l5-.1 4.5 .4 5 1 4.5 1.3 4.5 1.8 4 2.1 4 2.6 4 3.3 3.5 3.5 3 3.6 2.7 4 2.3 4.3 1.9 4.7 1.4 4.5 1 4.5 .6 5 .1 5-.4 5-.9 5-1.3 4.5-1.7 4.5-2.2 4.3-2.6 4.2-2.9 3.8-3.5 3.7-3.5 3-4 2.9-4 2.2-4.5 2-4.5 1.5-4.5 1-5 .6-5 .1-4.5-.4-5-.9-4.5-1.3-4.5-1.8-4-2.1-4-2.6-4-3.2-3.5-3.4-3-3.6-2.7-4-2.5-4.5-1.9-4.5-1.4-4.5-1.1-5-.6-5 0-5 .4-5 .9-5 1.3-4.5 1.8-4.5 2.3-4.5 2.5-4 3-3.8 3.5-3.7 3.5-3 4-2.7 4-2.3 4.5-2 4.5-1.4 4.5-1z"/><path fill="#d3436e" d="M129.3 441.3l4.5-.1 5 .3 4.5 .8 4.5 1.3 4.5 1.8 4 2.1 4 2.6 3.5 2.8 3.5 3.4 3 3.5 2.7 4 2.2 4 2 4.5 1.4 4.5 1 4.5 .6 5 .1 4.5-.3 5-.8 4.5-1.2 4.5-1.7 4.5-2 4-2.4 4-3.1 4-3.2 3.5-3.4 3-3.9 2.8-4 2.3-4 1.9-4.5 1.5-4.5 1.1-5 .6-5 .1-4.5-.4-4.5-.8-4.5-1.3-4.5-1.8-4-2.1-4-2.6-3.5-2.9-3.5-3.4-2.9-3.5-2.8-4-2.2-4-1.9-4.5-1.5-4.5-1-4.5-.5-4.5-.2-4.5 .4-5 .8-5 1.3-4.5 1.7-4.5 2-4 2.5-4 2.8-3.7 3-3.3 3.5-3.1 3.9-2.9 4.1-2.4 4-1.8 4.5-1.6 4.5-1.1z"/><path fill="#cc3f71" d="M128.7 442.8l4.1-.1 4 .1 6 .9 3.8 1.1 5.2 2 4.5 2.4 4.5 3.1 2.3 2 2.7 2.6 3 3.4 2.5 3.5 3 5.4 1.5 3.6 1.5 4.6 1 4.8 .5 4.5 0 5.1-.5 5-1 5-1 3.3-1.5 3.9-2.5 4.8-2 3.1-3 3.9-3.4 3.5-3.6 3-2.8 2-3.5 2-4.2 2-4.4 1.5-4.1 1-4 .6-5 .1-4.5-.2-5.5-1-3.5-1-4-1.5-4.1-2-4-2.5-4.4-3.5-3-3-2.6-3-3.4-5-2-3.8-1.5-3.5-1.5-4.7-1-4.5-.5-4.1-.1-3.9 .1-3.5 1-6.5 1-3.8 1.5-4.2 2-4.2 2-3.4 2.5-3.5 2.5-2.9 3.1-3 4.4-3.5 4-2.5 4.1-2 4-1.5 3.9-1.1z"/><path fill="#c23b75" d="M128.3 445.8l4.5-.2 4 .2 4.5 .7 4 1 4 1.5 4 1.9 3.5 2.2 3.5 2.6 3.3 3.1 2.7 3.1 2.5 3.5 2.2 3.9 1.8 4 1.4 4 .9 4 .7 4.5 .2 4-.3 4.5-.7 4.5-1.1 4-1.5 4-1.9 4-2.1 3.5-2.6 3.5-3 3.3-3 2.7-3.5 2.6-3.5 2-4 1.9-4 1.4-4 1-4 .6-4.5 .2-4-.2-4.5-.8-4-1-4-1.5-4-2-4-2.5-3.4-2.7-3.1-3-2.9-3.5-2.4-3.5-2.2-3.9-1.7-4.1-1.3-4-.8-4-.7-5-.1-3.5 .5-4.5 .8-4.5 1.2-4 1.5-4 1.8-3.5 2.2-3.5 2.6-3.4 2.9-3.1 3.1-2.8 3.5-2.5 3.5-2 3.5-1.7 4-1.4 4-1z"/><path fill="#ba3878" d="M128.5 448.8l3.8-.2 4.2 .2 4.3 .7 4 1 4 1.6 3.4 1.7 3.6 2.3 3 2.4 2.9 2.8 2.6 3 2.4 3.5 2 3.5 1.5 3.5 1.3 4 .8 3.8 .8 5.2 0 3-.8 5.5-.7 3.5-1.1 3.5-1.4 3.5-1.8 3.4-2 3.1-2.5 3.2-2.7 2.8-2.8 2.4-3 2.2-3.5 2-3.5 1.6-3.5 1.2-3.5 .9-4 .5-4 .2-4-.2-4-.6-4.3-1.2-3.8-1.5-3.9-2-3.5-2.3-3-2.4-2.8-2.8-2.7-3.2-2.2-3.3-1.9-3.5-1.5-3.5-1.1-3.5-2-10 0-2.5 1.4-7 1.8-6 1.5-3.5 1.6-3 2-3 2.4-3 2.5-2.6 3-2.6 3-2.1 3.5-2 3.8-1.7 3.2-1.1 3.7-.9z"/><path fill="#b2357b" d="M126.9 455.8l3.4-.4 3.5 0 3.5 .4 3.5 .7 3.5 1.1 3 1.4 3 1.7 3.5 2.4 2.5 2.1 2.1 2.1 2.2 2.5 1.7 2.5 2.1 4 2.2 6 2.3 4 .7 2 0 1.5-.4 1.5-2.5 4.5-1.5 4.5-1.3 3-2.3 4-3.3 4-2 2-3.5 2.9-4.5 2.9-2.5 1.3-3 1.1-5.5 1.3-3.5 .4-3.5 0-3.5-.4-3.5-.8-3.5-1.1-3-1.4-3-1.7-3.5-2.5-2.4-2-2.1-2-2.1-2.5-1.7-2.5-2.4-4.5-2.1-6-2.5-4-.7-2 0-1 .3-1.5 .7-1.5 2.3-3.5 1.5-4.5 1.4-3 2.4-4 3.3-4 2.1-2 2.5-2 5.5-3.4 5-2.2 2.5-.8zM145.3 475.3l-.1 0 .3 0zM116.8 475.7l-2.6 1.6-.9 1 1 0 1-.5 2.6-2-.1-.4zM145.8 475.5l-.2 .3 2.6 2 1.1 .6 .8-.1-.2-.5-1.3-1-1.8-1zM113.8 499.8l-.4 0 .2 .5 1.1 1 3 1.5 .7 0-2.6-2.1zM149.8 499.8l-1.5 .5-3.1 2.5 .7 0 2.9-1.5 1.2-1 .1-.5z"/><path fill="#a8327d" d="M126.4 461.3l4.4-.5 4.5 .2 4.5 .8 4 1.3 4.4 2.2 3.5 2.5 3.1 3 2.3 3-.3 .2-2.8-2.2-3.1-2-5.1-2.2-3-1-3.5-.7-6.5-.6-3.5 0-3.5 .3-3.5 .7-3 .7-3 1-3 1.4-2.5 1.3-3 2-.1-.4 2.6-2.9 2-1.8 2.5-1.8 2.6-1.5 2.9-1.3 3-1zM157.1 474.3l.2-.2 .1 .2-.1 .1zM129.5 475.3l3.8-.1 4 .7 3 1.1 5.4 2.8 1.7 .5 8.4 1.5 3.5 .4 2.5-.2 3.5 3.2 1.3 1.6 .5 1 .2 1-.1 1.5-.5 1-.9 1.2-4 3.8-2.5-.2-3 .2-8.5 1.5-2 .5-5 2.7-2.5 1-3 .7-3.5 .3-3.5-.3-3-.7-2.5-1-5-2.6-2.2-.6-8.2-1.5-5.6-.4-3.5-3-1.5-2.1-.4-1 0-1 .2-1 .5-1 1.7-1.9 3-2.5 6.2-.6 8.1-1.5 1.7-.5 6.5-3.3 2.5-.7zM157.7 503.3l.1-.1 .1 .1-.1 .2zM157.1 503.8l.2-.2 .3 .2-.3 .6-1.5 2-2 2.2-3 2.6-3.1 2.1-3.4 1.7-3.9 1.3-3.6 .8-4 .3-4-.1-3.5-.5-3.5-1-3.5-1.3-3.1-1.7-3.4-2.5-2.5-2.4-2.1-2.6 .1-.3 3.3 2.3 3.2 1.7 3 1.3 2.9 1 3.1 .8 3.5 .5 3.5 .3 3.5 0 3.5-.2 3.5-.6 3-.7 3.4-1.1 3.1-1.4 2.5-1.4 2.5-1.7z"/><path fill="#a02f7f" d="M130.6 476.3l3.2 .1 3 .5 2 .7 5 2.2 2.9 1 10.6 2.2 5 1.6 1.6 1.2 1.3 1.5 .5 1.5-.2 1.5-.7 1.2-1.4 1.3-1.1 .8-1.5 .6-5.5 1.4-8.5 1.8-2.7 .9-4.8 2.2-2.5 .8-2.5 .5-2.5 .1-3-.2-2.5-.5-3-1.1-3.9-1.8-2.6-.9-9-1.8-5-1.5-1.5-.5-1.1-.8-1.4-1.4-.7-1.1-.2-1.5 .5-1.5 1.3-1.5 1.6-1.1 5-1.7 10.5-2.2 2.9-1 6.1-2.6 2.5-.6z"/><path fill="#982d80" d="M129.8 477.3l3-.1 3.5 .5 8.8 3.1 8.2 1.8 5.5 1.6 3 1.3 1.7 1.3 .7 1 .3 1-.3 1.5-.6 1-1.3 1.1-2 1-3 1.1-4 1.1-7.8 1.7-9.2 3.2-2.5 .4-2 .1-2-.1-2.5-.4-9.3-3.2-8.2-1.8-4-1.1-2.5-.9-2.2-1.2-1.1-1-.6-1-.3-1.5 .6-1.5 1.1-1.2 2.5-1.4 5-1.6 10.1-2.3 7.9-2.8z"/><path fill="#8e2a81" d="M128.2 478.3l3.6-.3 4 .4 7.8 2.4 8.7 1.9 3.5 1 3.5 1.3 2.5 1.4 1.3 1.4 .3 1-.1 1-.5 1-1.7 1.5-2.3 1.2-2.5 .9-3.5 1-8.8 1.9-7.7 2.4-2 .4-2.5 .1-2.5-.1-2-.4-7.8-2.4-8.7-1.9-3.5-1-2.5-.9-2-1-1.6-1.2-.8-1-.3-1.5 .7-1.5 1.8-1.5 2.2-1.1 4.5-1.5 10.6-2.4 5.9-1.9z"/><path fill="#862781" d="M129.3 478.8l3-.2 3.5 .5 6.3 1.7 9.7 2.2 3.5 1 3.2 1.3 2.4 1.5 1.2 1.5 0 1.5-.8 1.2-1.5 1.2-2.2 1.1-2.3 .9-3.5 .9-9.3 2.2-6.2 1.7-2.5 .5-2 .1-2-.1-2.5-.4-6.3-1.8-9.2-2.1-3.5-1-2.4-.9-2.1-1-1.3-1-1.1-1.5 .1-1.5 .6-1 1.7-1.3 2.3-1.2 5.2-1.6 10.1-2.4 5.9-1.7z"/><path fill="#7e2482" d="M130.1 479.3l2.7 0 3 .3 15.5 3.8 3 .9 3 1.2 2 1.3 1.2 1.5 .1 .5-.1 1-.6 1-1.6 1.3-2 1-2.5 1-17.5 4.4-4.5 .5-4.5-.5-17.5-4.4-2.5-.9-2-1-1.7-1.4-.6-1-.1-1 .1-.5 .7-1 1.6-1.3 2.6-1.2 3.9-1.3 14-3.4z"/><path fill="#752181" d="M130.2 479.8l3.6 0 3.5 .6 13 3.2 3.5 1.1 2.5 1.1 2.1 1.5 .7 1 .2 .5-.1 1-.7 1-1.2 1-1.8 1-2.7 1-14.5 3.8-3.5 .6-3 .3-3-.2-3.5-.7-14.5-3.7-2.8-1.1-1.8-1-1.2-1-.6-1-.2-.5 .2-1 .7-1 1.7-1.3 2.6-1.2 3.4-1.1 12-3z"/><path fill="#6d1d81" d="M129.6 480.3l3.7-.1 4 .6 7.9 2 6.7 2 2.9 1.2 1.8 1.3 .7 1 .2 .5-.1 1-.7 1-1.3 1-1.9 1-2.7 1-13 3.5-3.5 .6-2.5 .1-3-.2-3.1-.5-12.9-3.5-2.8-1-1.9-1-1.3-1-.7-1-.1-1 .2-.5 .7-1 1.3-1 2.1-1 8-2.5 7.9-2z"/><path fill="#651a80" d="M128.6 480.8l3.7-.2 4 .4 5.2 1.3 8 2.5 2.8 1.1 2.2 1.4 .8 1 .2 .5-.2 1-.7 1-1.3 1-3.5 1.5-7.9 2.5-4.1 1-3 .6-3 .2-3-.2-3-.5-4.2-1.1-6.4-2-2.9-1-2.1-1-1.3-1-.7-1-.2-1 .5-1 1.1-1 1.8-1 2.6-1 8-2.5z"/><path fill="#5c167f" d="M128.3 481.3l4-.3 4 .5 3.4 .8 7.6 2.5 3.5 1.4 1.8 1.1 .8 1 .2 .5-.1 1-.8 1-1.4 1-4 1.6-9 2.9-3.5 .7-3 .2-3-.2-3.5-.7-9-2.8-4-1.7-1.5-1-.8-1-.1-1 .5-1 1.2-1 1.7-.9 2.8-1.1 7.7-2.5z"/><path fill="#54137d" d="M127.9 481.8l3.4-.3 3 .1 3.5 .7 3 1 5.9 2 3.1 1.5 1 .7 .6 .8 .2 .5-.1 1-.7 .9-.8 .6-1.9 1-2.5 1-8.8 2.9-2.5 .4-2.5 .1-2.5-.1-2.5-.4-8.9-2.9-2.5-1-1.9-1-.7-.5-.8-1-.1-1 .5-1 2.2-1.5 2.2-1 6-2.1z"/><path fill="#4c117a" d="M127.9 482.3l2.9-.4 3 .1 3 .6 3.9 1.2 5.1 2 2 1 1 .8 .6 .7 .2 .5-.1 1-.9 1-1.5 1-6.2 2.5-5.1 1.6-4 .4-4-.4-5.2-1.6-6.2-2.5-1.5-1-.9-1-.1-1 .6-1 2.1-1.5 6.2-2.5z"/><path fill="#420f75" d="M128 482.8l2.8-.4 2.5 .1 2.5 .4 3.1 .9 5 2 2.7 1.5 1 1 .2 .5-.2 1-.9 1-1.6 1-5.9 2.5-3.9 1.1-3.5 .4-3.5-.3-4-1.2-5.9-2.5-1.6-1-.9-1-.2-.5 .2-1 .9-.9 .9-.6 5.6-2.5z"/><path fill="#390f6e" d="M128.2 483.3l2.1-.3 2.5-.1 2 .3 2.5 .6 3.7 1.5 3 1.5 1.8 1.5 .2 1-.5 1-1.3 1-4.2 2-4.2 1.5-4 .5-3.5-.4-3.5-1.1-5-2.2-1.2-.8-1-1-.1-1 .2-.5 1.8-1.5 5.3-2.4z"/><path fill="#311165" d="M128.4 483.8l2.4-.4 2.5 .1 2.5 .5 2.5 .8 3.1 1.5 .7 .5 1 1.5 0 1.5-.9 1.5-1.6 1-3.8 1.6-3.5 .8-2.5 .1-2.8-.5-2.9-1-3.2-1.5-1-1-.6-1.5 .1-1 .6-1 1.1-1 1-.5 2.7-1.2z"/><path fill="#271258" d="M128.7 484.3l2.6-.4 2.5 .2 2.5 .6 2.6 1.1 1.1 1 1 1.5 .1 1-.3 1-.7 1-1 1-3.3 1.3-2.5 .6-2 .1-2.5-.4-2.1-.6-2.3-1-1.1-1.1-.8-1.4-.1-1 .4-1 .7-1 1.1-1z"/><path fill="#20114b" d="M128.9 484.8l2.4-.3 2 .1 2 .4 1.9 .8 1.2 1 .7 1 .3 1.5-.3 1-.7 1-1.1 1-1 .6-2 .6-1.5 .2-2 0-2-.3-1.7-.6-1.3-.8-1.1-1.2-.5-1-.1-1 .3-1 1.3-1.5 1.6-1z"/><path fill="#19103f" d="M129.1 485.3l1.7-.3 1.5-.1 2 .4 1.3 .5 1.4 1 .7 1 .4 1.5-.3 1-.7 1-.8 .7-1.5 .8-1 .2-3 .2-2-.4-1.1-.5-1.7-1.5-.5-1-.1-1 .4-1 .7-1 1.3-.9z"/><path fill="#130d34" d="M129.4 485.8l1.4-.3 1.5-.1 1.5 .3 1.5 .7 1 .9 .7 1.5 0 1-.6 1-1.6 1.3-2 .6-2.5-.1-2.1-.8-.9-.8-.5-.7-.3-1.5 .3-1 .5-.6 1-.9z"/><path fill="#0c0926" d="M129.8 486.3l1-.3 1.5 0 1.4 .3 1 .5 .7 .5 .6 1 .2 1-.4 1-1 1.1-2 .7-2 .1-2-.8-1.1-1.1-.3-.5-.1-1 .4-1 .4-.5z"/><path fill="#07061c" d="M130.2 486.8l1.1-.2 1 0 1 .2 1 .5 .5 .5 .5 1-.1 1-.3 .5-1.1 .9-1.5 .4-1.5 0-1.7-.8-.8-1-.1-1 .6-1.1z"/><path fill="#030312" d="M130.6 487.3l1.7-.1 1.5 .6 .7 1-.2 1-1 .9-1 .3-1.5 0-1-.5-.6-.7-.2-1 .7-1z"/><path fill="#010106" d="M131.2 487.8l1.1 0 1 .5 .3 .5 0 .5-.2 .5-.6 .4-1 .3-1-.2-.5-.3-.5-.7 .1-.5 .4-.6z"/></g></g>
<mask id="ms2" maskUnits="userSpaceOnUse" x="237.9" y="391.3" width="98.6" height="196.8"><g filter="url(#nz)" fill="#fff"><path fill-opacity="0.055" d="M286.7 394.8l.7-.4 1 1.3 3.5 3.6 3.7 3-2.2 1.3-.9 1.7 .3 4 1.5 7.5 .2 2 .3 .5 8.5 6 2.7 6-1.3 18-.7 20.5 .4 4 1.7 9 .3 5.5-.3 7-1.7 9-.4 4 .7 21 1.2 18-2.5 5.5-.4 .5-8.5 6-.1 2-1.6 7.5-.3 4 .3 1 .6 .8 1.9 1.2-.3 .5-3.6 3-4 4.5-.5-.1-4-4.5-3.5-2.9-.3-.5 1.8-1.1 1-1.4 0-.5-.3-4-1.6-7.5-.1-2-8.5-6-.4-.5-2.5-5.5 1.2-18.5 .7-20.5-.5-4.5-1.4-7-.5-7 .3-6.5 .4-3 1.4-7 .3-3.5-.7-20.5-1.3-18 2.7-6 8.5-6 .3-.5 .1-2 1.6-7.5 .3-4-.4-1-.6-.8-2.1-1.2 3.6-2.9z"/><path fill-opacity="0.063" d="M286.8 395.8l.6-.3 3 4.1 2.7 2.7-1.2 1.1-.6 1.9 .3 4 1.7 9.5 .3 .5 7.3 6 2.5 6-1 18-.4 19.5 .4 3.1 1.7 5.4 1 4.5 .5 7-.1 4-.4 4-.9 4-1.8 5.5-.4 3 .4 19.5 .9 18.5-2.7 6-7.3 6-.2 2-1.6 8-.2 3.5 .1 .9 .5 1.1 1.1 1-2.6 2.8-3 4.1-.5-.2-2.5-3.4-3-3.3 1.4-1.5 .3-1.5-.2-3.5-1.8-10-7.3-6-2.7-6 .9-18 .4-20.1-.5-3.3-2.4-8.1-.5-3.5-.2-5 .2-5.5 .5-3.5 2.4-8 .5-3.3-.4-20.2-1-17.5 2.5-6 7.4-6 .2-.5 1.7-9.5 .3-4-.2-1-.5-1-1.1-1 2.6-2.6z"/><path fill-opacity="0.096" d="M286.6 396.8l.3-.3 .5-.2 2 3.4 2.2 2.6-.7 1-.4 2 .4 4.3 1.6 9.2 .2 .5 6.6 6 2.4 6-.7 18-.3 19 .4 2.5 1.9 5 1.3 4.5 .5 3.5 .3 5-.3 5.5-.5 3.5-.9 3.5-2.3 6-.4 2.5 .3 19 .6 18.5-2.6 6-6.5 6-1.6 9.3-.4 4.2 .4 2 .6 1-2.1 2.7-2 3.4-.5-.2-.4-.4-1.6-2.9-2-2.6 .8-1.5 .2-1.5-.5-4.8-1.5-8.7-6.5-6-2.6-6 .6-18 .3-19.5-.4-2.5-2.4-6.5-.9-3.5-.5-3.5-.2-4 .2-5 .5-4 .9-3.5 2.5-6.5 .3-2.5-.3-19.5-.7-17.5 2.4-6 6.6-6 .2-.5 1.5-8.6 .5-4.9-.4-2-.7-1 2.1-2.5z"/><path fill-opacity="0.138" d="M286.9 397.3l.5-.2 1.5 3.2 1.5 2-.5 1.6 0 2.1 1.9 12.8 .2 .5 6 6 2.3 6-.5 18-.2 19 .4 2 2.7 6.5 1 3.5 .6 3.5 .2 5-.2 5-.6 4-1 3.5-2.7 6.5-.4 2 .6 37.5-2.5 6-5.9 6-1.9 12.9 0 2.1 .4 1.5-1.9 3-1 2.3-.5-.2-1-2.3-1.8-2.8 .4-2-.1-2.6-1.8-11.9-5.9-6-2.5-6 .6-37-.4-2.5-2.7-6.5-1-3.5-.6-4-.2-4.5 .2-5 .6-4 1.1-3.5 2.6-6.5 .4-2-.2-19-.5-18 2.3-6 6-6 .2-.5 1.5-9.5 .4-4-.1-2-.4-1 1.9-2.7z"/><path fill-opacity="0.181" d="M286.8 398.8l.6-.4 1 2.3 1.1 1.6-.1 3.6 1.9 12.9 .2 .5 5.5 6 2.1 6-.4 36.5 .7 3 2.3 5 1.3 4 .8 4 .3 5-.3 5.5-.7 4-1.4 4-2.3 5-.7 3 .3 37-2.3 6-5.4 6-1.6 10-.4 4 .1 2.5-2 4-.5-.3-1.9-3.7 .1-2-.2-2.5-1.8-12-5.4-6-2.3-6 .3-37-.5-2.5-2.7-6-1.3-4-.6-4-.2-4.5 .2-5 .6-4 1.3-4 2.7-6 .5-2.5-.4-36.5 2.1-6 5.5-6 .2-.5 1.8-11.9 .2-2.6-.2-2z"/><path fill-opacity="0.230" d="M287.3 399.8l.1-.1 1.3 2.6 .7 7 1.4 9.5 5.3 6.5 2 6-.2 36.5 .7 3 2.5 5 1.5 4 .8 4.5 .2 4.5-.2 5-.8 4.5-1.4 4-2.5 5-.8 3 .2 37-2.3 6-5 6-1.4 9.5-.7 7-1.3 2.7-.5-.3-1.2-2.4-.7-7-1.4-9.5-5-6-2.3-6 .2-37-.6-2.6-2.7-5.4-1.4-4-.9-5-.2-4 .2-4.2 .9-5.3 1.5-4 2.5-5 .7-3-.2-36.5 2-6 5.1-6 .2-.5 1.4-9.5 .7-7 1.2-2.3z"/><path fill-opacity="0.299" d="M286.8 401.3l.6-.4 .8 1.9 2.2 16 4.9 6.5 2 6-.1 36.5 .8 3 2.4 4.5 1.5 4 .9 4.5 .3 5-.2 5-.8 4.5-1.7 4.6-2.6 4.9-.6 2.5 0 37-2.1 6-4.7 6-2.1 15.5-.2 1-.7 1.5-.5-.2-.7-1.8-2.2-16-4.7-6-2.1-6 0-37-.6-2.5-2.6-5-1.6-4.2-.8-4.3-.3-5 .2-5 .9-4.7 1.5-4 2.5-4.8 .8-3-.1-36.5 2-6 4.9-6.5 2.1-15.5z"/><path fill-opacity="0.410" d="M287 402.3l.4-.1 .6 2.1 2 14.5 4.5 6.5 1.9 6 .1 36.5 .6 2.5 2.9 6 1.4 3.9 .8 4.1 .2 4.5-.2 5-.8 4.2-1.4 3.8-2.9 6-.5 2.5-.2 37-2.1 6-4.3 6-1.8 14-.8 2.7-.5-.1-.6-2.1-1.9-14.5-4.3-6-2.1-6-.2-37-.5-2.5-2.9-6-1.5-4-.7-4-.2-4.5 .2-4.5 .7-4.2 1.5-4.3 2.9-6 .6-2.5 .1-36.5 1.9-6 4.5-6.5 1.9-14z"/><path fill-opacity="0.583" d="M287 403.8l.4-.2 .4 1.7 1.8 13.5 4.1 6.5 1.7 5.5 .4 37 .4 2 .5 1.5 3.2 6.9 1 3.1 .5 3 .3 4.5-.2 4.5-.6 3.5-1 3.2-3.2 6.8-.6 2-.3 1.5-.3 37-2 6-3.9 6-1.7 13.3-.5 2-.5-.2-.2-1.1-1.9-14-3.9-6-2-6-.3-37-.4-2-.7-2-2.6-5.4-1-2.6-1-5-.2-4 .2-4.5 .9-4.5 1.1-3 2.6-5.5 .7-2 .4-2 .3-36.7 1.8-5.8 4.1-6.5 1.6-12.3z"/><path fill-opacity="1.000" d="M287 406.3l.4-.5 1.7 13 3.4 6 1.9 6.3 .4 34.2 .2 3.5 1.1 4 2.8 5.7 1 3 .5 2.8 .3 4.5-.2 4.5-.6 3.4-1.5 4.1-2.3 4.5-1.2 4.5-.5 37.5-1.9 6-3.4 6-1.7 13.1-.5-.7-1.6-12.4-3.4-6-1.8-6-.6-37-.8-4-3.3-6.9-1-3.1-.5-2.7-.2-4.3 .2-4.5 .5-2.9 1-3.1 3.1-6.5 1-4.5 .5-36.5 1.9-6.4 3.3-5.6z"/></g></mask>
<g mask="url(#ms2)"><g filter="url(#bl)"><path fill="#fec488" d="M286.9 392.3l.5 0 0 .5 4 4 .5 0 1 1 .5 0 1.5 1.5 .5 0 .5 .5 .5 0 1 1 .5 0 .5 .5 .5 0 .5 .5 .5 0 .5 .5 .5 0-1.5 0-.5 .5-1 0-.5 .5-.5 0-1 1-.5 0-.5 .5 0 5.5 .5 .5 0 1 .5 .5 0 1.5 .5 .5 0 1.5 .5 .5 0 2.5 1 1 .5 0 .5 .5 .5 0 .5 .5 .5 0 .5 .5 .5 0 .5 .5 .5 0 1 1 .5 0 .5 .5 .5 0 .5 .5 .5 0 .5 .5 .5 0 1 1 .5 0 0 .5 .5 .5 0 .5 .5 .5 0 .5 .5 .5 0 .5 .5 .5 0 .5 .5 .5 0 .5 .5 .5 0 .5-.5 .5 0 3.5-.5 .5 0 3.5-.5 .5 0 3.5-.5 .5 0 4.5-.5 .5 0 8-.5 .5 0 9.5-.5 .5 0 42.5 .5 .5 0 9.5 .5 .5 0 8.5 .5 .5 0 4 .5 .5 0 3.5 .5 .5 0 3.5 .5 .5 0 3.5 .5 .5 0 1-1 1 0 .5-.5 .5 0 .5-.5 .5 0 .5-.5 .5 0 .5-.5 .5 0 .5-.5 .5-.5 0-.5 .5-.5 0-.5 .5-.5 0-.5 .5-.5 0-1 1-.5 0-.5 .5-.5 0-.5 .5-.5 0-.5 .5-.5 0-.5 .5-.5 0-.5 .5-.5 0-1 1 0 2.5-.5 .5 0 1.5-.5 .5 0 1.5-.5 .5 0 1.5-.5 .5 0 5 1 1 .5 0 1 1 1 0 .5 .5 1.5 0-.5 .5-.5 0-.5 .5-.5 0-1 1-.5 0-.5 .5-.5 0-1 1-.5 0-1.5 1.5-.5 0-1 1-.5 0-3 3 0 .5-.5 .5 0 .5-.5-.5 0-.5-3.5-3.5-.5 0-1.5-1.5-.5 0-1-1-.5 0-1-1-.5 0-1-1-.5 0-.5-.5-.5 0-.5-.5-.5 0 0-.5 1 0 .5-.5 1 0 .5-.5 .5 0 1.5-1.5 0-5.5-.5-.5 0-1.5-.5-.5 0-1.5-.5-.5 0-1-.5-.5 0-2.5-1-1-.5 0-.5-.5-.5 0-.5-.5-.5 0-.5-.5-.5 0-.5-.5-.5 0-1-1-.5 0-.5-.5-.5 0-.5-.5-.5 0-.5-.5-.5 0-1-1-.5 0 0-.5-.5-.5 0-.5-.5-.5 0-.5-.5-.5 0-1-1-1 0-.5-.5-.5 .5-.5 0-3 .5-.5 0-3.5 .5-.5 0-3.5 .5-.5 0-4 .5-.5 0-8 .5-.5 0-9 .5-.5 0-46.5-.5-.5 0-9-.5-.5 0-7.5-.5-.5 0-4-.5-.5 0-4-.5-.5 0-3.5-.5-.5 0-3-.5-.5 1-1 0-.5 .5-.5 0-.5 .5-.5 0-.5 .5-.5 0-.5 .5-.5 0-.5 1-1 .5 0 .5-.5 .5 0 1-1 .5 0 .5-.5 .5 0 .5-.5 .5 0 1-1 .5 0 .5-.5 .5 0 .5-.5 .5 0 .5-.5 .5 0 1-1 0-2 .5-.5 0-1.5 .5-.5 0-1.5 .5-.5 0-1 .5-.5 0-6-1-1-.5 0-.5-.5-.5 0-.5-.5-.5 0-.5-.5-1.5 0 .5 0 1-1 .5 0 .5-.5 .5 0 .5-.5 .5 0 1-1 .5 0 1-1 .5 0 1.5-1.5 .5 0 4-4z"/><path fill="#feb67c" d="M286.9 401.3l.5-.2 .7 1.2 .5 3 .3 3.3 1.5 10.2 4.8 6.5 2 6-.1 36.5 .6 2.5 2.8 5.5 1.5 4 .8 4 .3 5-.2 4-.3 3-.6 2.5-1.6 4.4-2.7 5.1-.5 2.5-.1 37-2.1 6-4.6 6-1.5 10.3-.3 3.7-.5 2.5-.7 1.3-.6-.3-.6-1.5-2.2-16-4.6-6-2.1-6 0-34-.1-3.5-.5-2-2.9-5.5-1.6-4.5-.6-4-.3-4.5 .3-5 .7-4 1.6-4.5 2.6-5 .7-2.5 .1-3 0-34.5 1.9-5.5 4.2-5.5 .6-1 1.4-9.5 .3-3.5 .5-3z"/><path fill="#fea973" d="M286.9 402.3l.5-.2 .7 2.2 2 14.5 .3 .7 4.2 5.8 1.9 6 .1 36.5 .6 2.5 2.9 6 1.3 3.7 .9 4.3 .2 4.5-.2 5-.8 4-1.4 4-2.9 6-.6 3-.2 36.5-2 6-4.3 6-1.9 14-.8 2.8-.6-.3-.6-2.5-1.9-14-4.3-6-2-6-.2-36.5-.6-3-2.9-6-1.4-3.9-.8-4.1-.2-4.5 .2-5 .8-4 1.2-3.5 3.1-6.5 .6-2.5 .1-36.5 1.9-6 4.1-5.7 .4-.8 1.9-14z"/><path fill="#fd9b6b" d="M287 403.3l.4-.2 .5 1.7 1.9 14 .1 .5 4.1 6 1.8 6 .3 36.5 .5 2.5 3.2 7 1.1 3 .8 4 .2 4.5-.2 5-.8 4-1 3-3.3 7-.5 2.5-.3 37-2 6-4 6-1.8 13.5-.6 2.3-.5-.3-.4-1.5-1.9-14-4-6-2-6-.3-37-.5-2.5-3.3-7-1-3-.8-4-.2-4.5 .2-4.5 .7-4.1 1.2-3.4 3.2-7 .5-2.5 .3-36.5 1.8-6 4-5.9 .2-.6 1.8-13.5z"/><path fill="#fc8e64" d="M287.2 404.3l.2-.1 .3 1.1 1.8 13.5 3.9 6.5 1.8 6 .2 34 .2 3 .3 1.5 .8 2.5 2.7 5.5 1 3 .7 3.5 .3 4.5-.2 4.5-.8 4-1 3-2.9 6-.7 2.5-.3 1.5-.4 37-1.9 6-3.7 6-1.8 13.5-.3 1.2-.5-.3-.2-.9-1.8-13.5-3.7-6-1.9-6-.4-37-.3-1.5-.7-2.5-2.9-6-1-3-.8-4-.2-4 .2-4.5 .8-4 1-3 2.7-5.5 1.1-4 .2-3 .2-34 1.8-6 3.9-6.5 1.8-13.5 .2-.8z"/><path fill="#fa815f" d="M287.2 405.8l.2-.3 1.8 13.3 3.6 6.5 1.7 6 .5 37 1 4 2.7 5.5 1.1 3 .7 3.5 .3 4.5-.2 4.5-.7 3.7-1.2 3.3-2.7 5.5-1 4-.5 37.5-1.9 6-3.4 6-1.8 13.4-.5-.6-1.7-12.8-3.4-6-1.9-6-.5-37.5-1-4-2.7-5.5-1.1-3-.8-3.5-.2-4.5 .2-4.5 .7-3.5 1-3 2.9-6 1-4 .5-37 1.7-6 3.6-6.5 1.7-12.7z"/><path fill="#f8745c" d="M287.2 408.3l.2-.3 1.5 10.9 3.3 6.4 1.6 5.5 .5 18 .2 19.5 .4 2.5 .6 2 2.7 5.5 1.1 3 .7 3.5 .3 4-.2 4.5-.7 3.5-1.1 3-2.8 5.5-.6 2-.4 2.5-.7 37.5-1.8 6-3.1 6-1.5 10.9-.5-.6-1.4-10.3-3.1-6-1.8-6-.7-37.5-.4-2.5-.6-2-2.8-5.5-1.1-3-.7-3.5-.2-4 .3-4.5 .7-3.5 1.1-3 2.7-5.5 .6-2 .4-2.5 .2-19.5 .5-18 1.6-5.5 3.3-6.5 1.4-10.2z"/><path fill="#f4675c" d="M287.1 410.8l.3-.3 .8 6.3 .5 2.5 2.9 6 1.6 5.5 .5 18 .1 16.5 .2 3.5 .4 2.5 .6 2 2.8 5.5 1.1 3 .6 3.5 .2 3.5-.2 4-.6 3.5-1.1 3-2.9 5.7-.5 1.8-.4 3-.3 19.5-.5 18-1.7 6-2.9 6-1.2 8.4-.5-.5-1.1-7.9-2.9-6-1.7-6-.5-18-.3-19.5-.3-2.5-.5-2-3-6-1.1-3-.6-3.5-.2-3.5 .2-4 .6-3.5 1.1-3 2.8-5.5 .6-2 .4-2.5 .2-3.5 .1-16.5 .5-18 1.6-5.5 2.9-6 .5-2.5 .7-5.8z"/><path fill="#ee5b5e" d="M287.1 413.3l.3-.3 1.1 6.3 2.6 6 1.5 5.5 .6 18 .1 17.5 .3 4 .8 3.5 2.9 5.5 1 2.5 .7 3.5 .2 3.5-.2 4-.7 3.5-1.2 3-2.6 5-.8 3-.4 4.5-.1 17.5-.6 18-1.7 6-2.6 6-.9 5.9-.5-.6-.4-3.3-.6-2.5-2.5-5.5-1.6-6-.6-18-.1-17-.3-4-.3-2-.6-2-2.6-5-1.2-3-.6-3-.3-4 .3-4.5 .6-3 1-2.5 2.8-5.4 .8-3.1 .4-4.5 .1-17.5 .6-17.5 1.5-6 2.6-6 1-5.7z"/><path fill="#e55064" d="M287.2 415.8l.2-.2 .8 3.7 2.4 6 1.4 6 .6 17.5 .2 18 .5 5 .9 3 2.5 4.5 1 2.5 .8 3.5 .2 3.5-.2 4-.8 3.5-1 2.5-2.7 5-.8 3-.4 4.5-.2 18-.6 18-1.6 6-2.2 5.5-.8 3.8-.5-.5-.7-3.3-2.2-5.5-1.6-6-.6-18-.2-18-.4-4.5-.8-3-2.7-5-1-2.5-.8-3.5-.2-3.5 .2-4 .8-3.5 1-2.5 2.5-4.5 .9-3 .5-5 .2-18 .6-17.5 1.4-6 2.3-5.5 .8-3.7z"/><path fill="#dc4869" d="M287.1 417.8l.3-.2 .8 2.7 1.8 5 1.5 6 .6 17.5 .3 18.5 .4 5 .9 3 2.4 4 1.1 2.5 .8 3.5 .2 3.5-.2 4-.7 3-1.2 3-2.6 4.5-.8 3-.3 5-.3 18-.7 18-1.5 6-1.7 4.5-.8 2.8-.5-.3-.7-2.5-1.7-4.5-1.5-6-.7-18-.3-18-.3-5-.8-3-2.6-4.5-1.1-2.5-.8-3.5-.2-3.5 .2-4 .7-3 1.2-3 2.6-4.4 .8-3.1 .4-5 .2-18 .6-17.5 1.5-6 1.8-5 .7-2.4z"/><path fill="#d2426f" d="M286.9 419.3l.5-.4 1.5 4.4 .6 2 1.4 6 .7 17.5 .3 18.5 .4 5.5 .7 2.5 2.7 4.5 1.1 2.5 .7 3 .2 3.5-.2 4-.7 3-1 2.5-2.8 4.5-.8 3-.3 5-.3 18.5-.8 18-1.4 6-2 6-.5-.3-1.4-4.2-1.9-7.5-.8-18-.3-18.5-.3-5-.8-3-2.8-4.5-1-2.5-.7-3-.2-3.5 .2-4 .7-3 1.1-2.5 2.7-4.5 .8-3 .3-5 .3-18.5 .7-17.5 1.4-6z"/><path fill="#c73d73" d="M287.1 420.3l.3-.1 1.1 3.1 1.8 8 .8 17.5 .3 19 .4 5.5 .7 2.5 2.6 4 1.1 2.5 .8 3 .2 3.5-.2 4-.7 3-1.2 2.5-2.5 4-.6 1.5-.2 1.5-.4 6-.3 18-.8 17.5-1.3 6.5-1.6 4.7-.5-.2-.9-2.5-1.9-8-.8-18-.3-19-.4-5.5-.8-2.5-2.5-4-1.2-2.5-.7-3-.2-3.5 .2-4 .8-3 1.1-2.5 2.6-4 .7-2.5 .4-5.5 .3-19 .8-17.5 1.4-6.5 1.4-4.4z"/><path fill="#bc3978" d="M286.8 421.8l.6-.4 .5 1.4 1.7 7 .2 1.5 .8 17.5 .3 18.5 .4 6.5 .8 2.5 2.6 4 1.1 2.5 .7 3 .2 3-.2 3.5-.6 3-1.1 2.5-2.7 4-.5 1.5-.3 1.5-.4 6-.3 18.5-.8 17.5-1.3 6.5-1.1 3.5-.5-.2-.5-1.4-1.8-7.9-.8-18-.3-18.5-.5-6.5-.7-2.5-2.4-3.6-1.2-2.4-.8-3-.2-3.5 .2-3.5 .7-3 1.1-2.5 2.6-4 .6-1.5 .2-1.5 .4-6 .3-18.5 .8-17.5 1.2-6z"/><path fill="#b0357b" d="M287.1 422.8l.3-.1 .5 1.7 1.4 6.9 .9 17.5 .3 19 .4 6.5 .8 2.5 2.6 4 1 2 .7 3 .2 3-.2 3.5-.7 3-1.2 2.5-2.4 3.5-.6 1.5-.3 1.5-.3 6.5-.3 18.5-.9 17.5-.2 1.5-1.7 7.2-.5-.2-.2-.5-1.4-6.5-.2-1.5-.9-17.5-.3-18.5-.3-6.5-.3-1.5-.6-1.5-2.4-3.5-1.2-2.5-.7-3-.2-3 .1-3 .6-3 1.2-2.5 2.6-4 .6-1.5 .3-1.5 .3-6.5 .3-18.5 .9-17.5 1.3-6.5 .5-1.9z"/><path fill="#a5317e" d="M287 424.8l.4-.2 1.2 5.2 .2 1.5 .9 17.5 .4 20 .3 5.5 .3 1.5 .5 1.5 2.7 3.9 1 2.1 .6 2.5 .3 3-.2 3-.7 3-1 2.2-2.6 3.8-.6 1.5-.3 1.5-.3 5.5-.4 20-.9 17.5-.2 1.5-1.2 5.3-.5-.3-1.1-5-.2-1.5-.9-17.5-.4-20-.3-5.5-.3-1.5-.6-1.5-2.4-3.5-1.2-2.5-.6-2.5-.3-3 .2-3 .7-3 1.2-2.5 2.5-3.5 .5-1.5 .3-1.5 .3-5.5 .4-20 .9-17.5 .8-4.4z"/><path fill="#992d80" d="M286.9 427.3l.5-.5 .7 3 .2 1.5 1 17.5 .4 21 .3 5 .2 1.5 .6 1.5 2.5 3.5 1 2 .7 2.5 .3 3-.2 3-.7 2.9-1 2.1-2.6 3.5-.4 1.1-.4 1.9-.3 5-.4 21-.5 9-.6 9.5-.8 3.6-.5-.3-.7-2.8-.1-1.5-1-17.5-.4-21-.3-5-.3-1.5-.6-1.5-2.5-3.5-1-2-.6-2.5-.3-3 .2-3 .6-2.6 1-2.1 2.7-3.8 .6-1.5 .2-1.5 .3-4.5 .6-25 .8-14.5z"/><path fill="#8e2a81" d="M287 429.3l.4-.2 .3 1.2 .7 11 .4 8 .5 21 .3 5 .3 1.8 .5 1.2 2.5 3.4 1.1 2.1 .6 2.5 .2 2.5-.2 3-.6 2.5-1.1 2.2-2.5 3.3-.5 1.3-.3 1.7-.3 5-.5 21.5-.9 16.2-.5 3.6-.5-.3-.2-1-.8-11.5-.3-7-.5-21.5-.3-5-.4-2-.4-1-2.6-3.5-1-2-.6-2.5-.2-2.5 .2-3 .6-2.5 1-2 2.6-3.5 .4-1 .4-2 .3-5 .5-21.5 .8-14.6 .3-3.9z"/><path fill="#812581" d="M287.1 434.3l.3-.5 1 15 .5 22 .3 5 .2 1.5 .6 1.5 2.4 3.2 1 1.8 .7 2.5 .2 2.5-.2 3-.6 2.5-1.1 1.9-2.4 3.1-.6 1.5-.2 1.5-.3 5-.5 22-1 15.1-.5-1-.9-14.1-.5-22-.3-5-.3-1.7-.5-1.3-2.5-3.2-1-1.8-.6-2.5-.2-2.5 .1-2.5 .6-2.5 1-2 2.6-3.5 .5-1.2 .3-1.8 .3-5 .5-22 .9-14z"/><path fill="#762181" d="M287.2 441.3l.2-.4 .6 8.4 .5 22.5 .3 5 .7 2.5 2.5 3 1.1 2 .6 2 .2 2.5-.2 2.5-.6 2.5-1 2-2.5 3-.7 2.5-.4 5-.5 23-.6 8-.5-1-.5-7-.5-23-.4-5-.7-2.5-2.4-2.9-1-1.8-.7-2.3-.2-2.5 .2-2.5 .6-2.5 1.1-2 2.5-3 .7-2.5 .3-5 .5-22.5 .5-7.4z"/><path fill="#6b1d81" d="M287.2 448.3l.2-.4 .8 25.4 .3 4 .6 2.5 2.6 3 .9 1.5 .6 2 .2 2.5-.1 2.5-.7 2.5-.8 1.5-2.6 3-.7 2.5-.3 4-.8 25.5-.5-1.1-.7-24.4-.3-4.1-.7-2.4-2.3-2.7-1.1-1.8-.6-2-.2-2.5 .1-2.5 .7-2.5 1.1-1.7 2.4-2.8 .6-2.3 .3-4.2 .7-24z"/><path fill="#601880" d="M287.4 462.8l0-.2 .4 11.7 .5 4.5 .6 1.7 2.5 2.8 .8 1.5 .6 2 .2 2.5-.3 2.5-.6 2-1 1.5-2.2 2.4-.6 1.6-.5 4.5-.4 11.8-.5-2.6-.3-9.2-.5-4.5-.7-1.8-2.1-2.2-1-1.5-.6-2-.3-2.5 .2-2.5 .6-2 .8-1.5 2.4-2.6 .7-1.9 .5-4.5 .3-9.1z"/><path fill="#56147d" d="M287.2 476.3l.2-.4 .3 2.9 .7 2 2.5 2.8 1 1.7 .4 1.5 .2 2-.1 2-.5 2-1 1.8-2.5 2.8-.6 1.9-.4 3-.5-.9-.4-2.6-.5-1.5-2.6-2.8-.9-1.7-.4-1.5-.2-2 .1-2 .5-2 .9-1.6 2.6-2.9 .6-1.5 .3-2.5z"/><path fill="#4a1079" d="M286.9 480.3l.5-.4 1 2 1.9 1.9 .7 1 .8 2 .2 2-.1 2-.6 2-.9 1.5-2 2-1 2-.5-.2-1-2-1.9-1.8-.6-.9-.7-1.6-.3-2 .1-2.5 .6-2 .8-1.3 2.2-2.2z"/><path fill="#3f0f72" d="M286.9 481.8l.5-.2 .9 1.2 2.1 2.1 .8 1.9 .3 2-.1 2-.7 2-.7 1-1.6 1.5-1 1.3-.5-.1-.9-1.2-2.1-2.1-.6-1.4-.4-2 .1-2 .5-2 .9-1.4 1.7-1.6z"/><path fill="#331067" d="M286.6 483.3l.3-.3 .5-.1 2.1 1.9 1 1.5 .4 2 0 2.1-.6 1.9-.9 1.2-2 1.8-.5-.1-2.5-2.4-.7-1.5-.3-1.5 .1-2 .4-1.5 1-1.5z"/><path fill="#271258" d="M286.5 484.3l.4-.3 .5 0 1.7 1.3 1 1.5 .3 1.5 0 2-.5 1.5-1 1.3-1.5 1.1-.5 0-2-1.7-.6-1.2-.3-1.5 0-2 .4-1.2 .9-1.3z"/><path fill="#1d1147" d="M286.4 485.3l.5-.3 .5-.1 1 .7 1 1.1 .5 1.6-.1 2-.3 1-.7 1-1.4 1-.5-.1-1.5-1.1-.5-.8-.4-1.5 0-1.5 .4-1.4 .5-.8z"/><path fill="#130d34" d="M286.1 486.3l.8-.5 1 .2 .9 .8 .5 1 .2 1.5-.3 1.5-.8 1.1-1 .5-.5-.1-1-.5-.5-.6-.3-.9-.2-1.5 .2-1 .3-.8z"/><path fill="#0b0924" d="M286.3 486.8l.6-.3 1 .1 .7 .7 .4 1-.1 2-.5 .9-1 .5-.5 0-.7-.4-.5-.5-.3-.9 0-1.6 .4-1z"/><path fill="#050416" d="M286.5 487.3l.9-.2 .5 .2 .7 1 .1 1-.3 1-.5 .6-.5 .2-1-.2-.6-1.1 0-1.5z"/><path fill="#010108" d="M286.9 487.8l.6 0 .4 .4 .2 .6-.1 1-.6 .6-.6-.1-.4-.4-.1-.6 .1-1z"/></g></g>
<mask id="mb2" maskUnits="userSpaceOnUse" x="35.8" y="593.0" width="192.3" height="96.2"><g filter="url(#nz)" fill="#fff"><path fill-opacity="0.055" d="M114.4 623l1.4-.5 1 0 7 1.1 8 .5 8-.5 5-.8 3-.3 7 1.9 15 1.2 20.7 6.4 12.9 3 6 1 4.9 .5 2-.7 .9-.8 .6-1 1.5 2 1.9 2 3.7 2.5-4 3-3.1 3.7-1.3-1.7-1-.5-1.2-.3-3.4 .3-6.4 1-13.3 3-21.4 6.6-15.5 1.3-6.5 1.8-8-1.1-8-.5-7.5 .5-8 1.1-7-1.9-15.5-1.3-21.1-6.5-13.3-3-9.6-1.3-2 .6-.9 .7-.6 .8-.5-.1-2.8-3.2-4-3 1.7-1 2-1.5 3.1-3.5 .5-.1 .5 .7 1 .8 2 .6 7.8-1 5.3-1 10.5-2.5 20.4-6.4 15.5-1.2z"/><path fill-opacity="0.063" d="M116.1 623.5l3.2 .2 5 .8 7.5 .4 8-.4 4.5-.8 3.5-.2 7.5 2.6 3.1 .4 11.4 .8 20.5 5.7 11.5 2.5 12 1.8 2.4-.3 1.6-1.1 2.1 2.1 3.6 2.5-3.4 2.5-2.3 2.3-1.5-1-2.5-.4-11 1.6-11.7 2.5-20.8 5.8-15 1.3-7.5 2.7-8-1-8-.5-8 .5-5.5 .8-2.5 .1-5.8-2.2-1.7-.4-14.5-1.3-21-5.8-11.7-2.5-11.3-1.6-2 .3-1.5 1-.5-.2-2-2-3.4-2.5 3-2 2.4-2.3 .5-.1 1.4 .9 2.1 .3 12.3-1.8 11.5-2.5 20.2-5.6 11.7-.9 3.3-.5z"/><path fill-opacity="0.096" d="M115 624.5l.8-.3 2 0 6.4 .8 7.6 .4 8-.4 4.5-.7 3.5-.2 7.5 3 3 .5 11.5 .9 21.8 5.5 10 2 12.2 1.8 2.5-.1 1.5-.7 1.7 1.5 3 2-2.8 2-1.9 1.7-1.6-.7-2.4-.1-11.1 1.6-12.3 2.5-20.6 5.2-10.8 .8-3.2 .5-8 3.1-3.5-.2-4.5-.7-8-.4-8 .5-4.5 .6-3.5 .1-7.7-3-3.2-.5-11.1-.8-20.3-5.2-12.3-2.5-11.4-1.6-2.1 .1-1.4 .6-4.9-3.6 4.9-3.4 1.5 .6 2 .1 12.5-1.8 10-2 21.5-5.5 13.5-1.1 2-.5z"/><path fill-opacity="0.138" d="M115.2 625l1.1-.3 2 0 5.5 .7 8 .4 8-.3 4.5-.7 3.5-.1 7 3.1 2.5 .7 12.5 .9 21.6 5.1 10.4 2 12 1.7 2.5 .1 1.5-.4 1.3 1.1 2.6 1.5-3.9 2.8-1.5-.4-2.5 .1-10.7 1.5-10.8 2-22.5 5.3-12.5 1-2.5 .6-6 2.8-1.5 .3-3.5-.2-4-.5-8-.4-8 .4-5 .6-3 .1-6.5-3-2.5-.7-13-1.1-20-4.7-10.2-2-13.3-2-2.5-.1-1.5 .3-3.5-2.1-.6-.6 4.1-2.5 1.5 .3 2-.1 12.2-1.7 10.5-2 21.3-5 13-1.1 2.5-.7z"/><path fill-opacity="0.181" d="M115.2 625.5l1.1-.3 2 0 5.5 .6 8 .4 8-.4 4.5-.6 3.5 0 7 3.3 2.5 .7 12.5 1 21.7 4.8 8.3 1.5 13.5 2 4.5 .2 3.2 1.8-3.2 2-3.5 .1-13.4 1.9-10.8 2-20.3 4.5-12.5 1-2.5 .7-6.5 3.2-1.5 .2-7-.7-8-.4-15.5 1-2-.7-5.5-2.7-2-.6-13-1-20-4.5-10.8-2-13.2-1.9-3.5-.1-3.4-2 3.4-1.8 4.3-.2 13.5-2 8.3-1.5 21.4-4.8 13-1 2.2-.7z"/><path fill-opacity="0.230" d="M115 626l1.3-.4 2 0 5.5 .6 8 .3 8-.3 5-.6 3 0 3 1.3 4 2.2 2.5 .8 12.5 1 22.3 4.6 12 2 13.7 1.8 2.2 1.2-2.2 1.4-15.8 2.1-8.7 1.5-23 4.8-13 1-2.5 .8-6.5 3.4-2 .2-6.5-.7-8-.3-15.5 .9-2.5-.9-5-2.7-2.5-.8-12.5-.9-23.2-4.8-8.8-1.5-15.5-2.1-2.4-1.4 2.4-1.2 13.5-1.8 12-2 22-4.6 12.5-.9 3-1z"/><path fill-opacity="0.299" d="M116.2 626l3.1 0 4.5 .5 8 .3 8-.3 4.5-.5 3.5 0 3.3 1.5 3.7 2.1 2.5 .9 13 1 21.5 4.3 24.5 3.7 1.5 .3 1.2 .7-1.2 .9-1 .2-24.5 3.7-22 4.4-13 1-2.5 .9-4 2.3-3 1.3-3 0-5-.5-8-.3-8 .3-6 .6-2.3-.3-6.7-3.6-2.5-.8-12.5-.9-22-4.3-24.5-3.7-1.5-.5-.9-.7 1.4-.7 1.3-.3 24.2-3.7 22-4.3 12.5-.9 2.5-.8 4-2.3z"/><path fill-opacity="0.410" d="M116.2 626.5l3.1-.1 4.5 .5 8 .3 8-.3 4.5-.5 3.5 .1 3.2 1.5 3.8 2.2 3 1 12 .8 22.5 4.2 22.4 3.3 2.2 .5 1.1 .5-.5 .5-2.2 .6-22 3.2-23 4.3-13 1-2 .6-4.9 2.8-2.6 1.2-3 .1-5-.5-8-.3-8 .3-5.5 .5-2.5-.2-7-3.8-2.5-.8-12.5-.9-23-4.2-22-3.3-2.4-.6-.5-.5 1.1-.5 2.2-.5 22.6-3.3 22-4.1 12.5-.9 2.5-.8 5.1-2.9z"/><path fill-opacity="0.583" d="M116.5 627l3.3-.1 4 .4 8 .3 8-.3 4-.4 3.6 .1 2.4 1 5 2.9 2.5 .9 13 1 23 4 19.6 2.7 2.7 .5 1.3 .5-.7 .5-2 .5-19.9 2.8-24.2 4.2-12.3 .8-3 1-4.6 2.7-2.4 1.1-3.5 .2-4.5-.4-8-.3-13 .7-3-.2-6.5-3.7-3-1-12.5-.9-24-4.2-20.1-2.8-2-.5-.7-.5 1.3-.5 2.7-.5 19.8-2.8 23-4 12.5-.9 3-1 4.8-2.8z"/><path fill-opacity="1.000" d="M118.7 627.5l13.1 .6 8-.2 4.1-.4 2.9 .2 1.5 .3 1 .5 5.5 3.4 3 .9 12.4 .7 23.1 3.8 20.6 2.7 1.6 .5-.8 .5-2.8 .5-17.1 2.2-23.3 3.8-11.7 .7-3 .5-2 .6-5.1 3.2-2.3 1-3.6 .1-12-.5-12.5 .6-3.5-.4-2.4-1.3-3.6-2.4-3-1-3-.4-11.4-.7-23.1-3.7-17.3-2.3-2.8-.5-.8-.5 1.6-.5 20.3-2.7 23.4-3.8 12.6-.8 3-.9 6.2-3.8z"/></g></mask>
<g mask="url(#mb2)"><g filter="url(#bl)"><path fill="#fec488" d="M115.8 620.5l1 0 .5 .5 3 0 .5 .5 2 0 .5 .5 5 0 .5 .5 6.5 0 .5-.5 5 0 .5-.5 2 0 .5-.5 3 0 .5-.5 1 0 .5 .5 9 0 .5 .5 5.5 0 .5 .5 5 0 .5 .5 1 0 .5 .5 1 0 .5 .5 .5 0 .5 .5 1 0 .5 .5 1 0 .5 .5 1 0 .5 .5 .5 0 .5 .5 1 0 .5 .5 .5 0 .5 .5 1 0 .5 .5 1 0 .5 .5 .5 0 .5 .5 1 0 .5 .5 1 0 .5 .5 .5 0 .5 .5 1 0 .5 .5 1 0 .5 .5 1.5 0 .5 .5 1.5 0 .5 .5 1.5 0 .5 .5 1 0 .5 .5 1.5 0 .5 .5 1.5 0 .5 .5 2.5 0 .5 .5 2.5 0 .5 .5 4.5 0 2.5-2.5 0-.5 .5-.5 0-1 0 .5 .5 .5 0 .5 1 1 0 .5 .5 .5 0 .5 4.5 4.5 .5 0 1 1 .5 0 .5 .5 1 0-.5 .5-1 0-.5 .5-.5 0-1.5 1.5-.5 0-3 3 0 .5-1 1 0 .5-.5 .5 0 .5-.5 .5 0 .5-.5 .5 0 .5 0-1-.5-.5 0-1-2-2-.5 0-.5-.5-2.5 0-.5 .5-3 0-.5 .5-2.5 0-.5 .5-2 0-.5 .5-1 0-.5 .5-1.5 0-.5 .5-1.5 0-.5 .5-1 0-.5 .5-1.5 0-.5 .5-1.5 0-.5 .5-1 0-.5 .5-.5 0-.5 .5-1 0-.5 .5-1 0-.5 .5-.5 0-.5 .5-1 0-.5 .5-1 0-.5 .5-.5 0-.5 .5-1 0-.5 .5-.5 0-.5 .5-1 0-.5 .5-1 0-.5 .5-.5 0-.5 .5-1 0-.5 .5-1 0-.5 .5-.5 0-.5 .5-4 0-.5 .5-5 0-.5 .5-10.5 0-.5 .5-3.5 0-.5-.5-2.5 0-.5-.5-2.5 0-.5-.5-6 0-.5-.5-2 0-.5 .5-5.5 0-.5 .5-2.5 0-.5 .5-2.5 0-.5 .5-3.5 0-.5-.5-10.5 0-.5-.5-5.5 0-.5-.5-3.5 0-.5-.5-1 0-.5-.5-.5 0-.5-.5-1 0-.5-.5-1 0-.5-.5-.5 0-.5-.5-1 0-.5-.5-1 0-.5-.5-.5 0-.5-.5-1 0-.5-.5-1 0-.5-.5-.5 0-.5-.5-1 0-.5-.5-1 0-.5-.5-.5 0-.5-.5-1 0-.5-.5-.5 0-.5-.5-1.5 0-.5-.5-1.5 0-.5-.5-1.5 0-.5-.5-1.5 0-.5-.5-1 0-.5-.5-1.5 0-.5-.5-2 0-.5-.5-2 0-.5-.5-3 0-.5-.5-2.5 0-.5 .5-.5 0-2 2 0 .5-.5 .5 0 .5-.5 0-.5-.5 0-.5-.5-.5 0-.5-.5-.5 0-.5-4.5-4.5-.5-.5-.5 0-.5-.5-.5 0-.5-.5-.5 0-.5-.5 .5 0 .5-.5 .5 0 .5-.5 .5 0 1.5-1.5 .5 0 .5-.5 2-2 0-.5 1-1 0-.5 1-1 0-.5 .5-.5 0-.5 .5 0 0 1 .5 .5 0 .5 1.5 1.5 .5 0 .5 .5 4.5 0 .5-.5 2.5 0 .5-.5 2.5 0 .5-.5 1.5 0 .5-.5 1 0 .5-.5 1.5 0 .5-.5 1.5 0 .5-.5 1 0 .5-.5 1.5 0 .5-.5 1.5 0 .5-.5 .5 0 .5-.5 1 0 .5-.5 1 0 .5-.5 .5 0 .5-.5 1 0 .5-.5 .5 0 .5-.5 1 0 .5-.5 1 0 .5-.5 .5 0 .5-.5 1 0 .5-.5 1 0 .5-.5 .5 0 .5-.5 1 0 .5-.5 1 0 .5-.5 .5 0 .5-.5 1 0 .5-.5 5.5 0 .5-.5 5 0 .5-.5 9.5 0z"/><path fill="#feb67c" d="M117.1 626l5.2 .2 2 .3 7.5 .2 8-.2 1.5-.3 4-.2 2.5 .1 3 1.2 4 2.4 2.5 .9 3.8 .4 9.2 .6 22.6 4.4 8.4 1.2 .7 .3 2.8 .2 .8 .3 2.7 .2 1 .3 6 .7 2.5 .6 1.1 .7-.6 .6-2 .7-3 .5-2.6 .2-.9 .3-2.7 .2-.8 .3-2.8 .2-11.7 1.9-21.5 4.3-12.3 .8-2.7 .8-4 2.3-3.5 1.6-2 .1-14-.9-9 .4-3 .4-3.5 0-3.5-1.5-4-2.3-2.9-.9-12.1-.8-21.5-4.3-11.9-1.9-2.6-.2-1-.3-2.5-.2-1.1-.3-2.9-.2-.7-.3-2.3-.3-1.5-.5-.8-.7 1.3-.8 2-.4 6.4-.8 1.1-.3 2.5-.2 1-.3 2.5-.2 1-.3 8.2-1.2 22.8-4.5 12.5-.9 3-1 2-1.3 4-2z"/><path fill="#fea973" d="M116 626.5l3.3-.1 4.5 .4 8 .3 8-.3 5-.4 3 .1 3 1.4 4 2.3 2.5 .9 3 .3 10 .7 22 4.1 9.5 1.5 12.5 1.7 2.7 .6 1.1 .5-.5 .5-2.3 .6-22.9 3.4-22.1 4.1-10 .7-3 .3-2 .7-4.8 2.7-2.7 1.2-3 .1-5-.4-8-.3-8 .3-5.5 .4-2.5-.1-7-3.8-2.5-.8-12.5-.9-22.3-4.2-22.7-3.4-2.5-.6-.5-.5 1.1-.5 2.9-.6 12-1.7 10-1.6 22-4.1 9.5-.5 3-.4 2.5-.8 4.5-2.6z"/><path fill="#fd9b6b" d="M115.7 627l1.1-.2 2.5-.1 4.5 .4 8 .3 8-.2 4.5-.5 3.5 .2 2.4 1.1 4.6 2.7 2.5 .9 3 .3 10 .6 22 3.9 21.5 3.1 2.2 .5 1.3 .5-.6 .5-2.9 .7-21.5 3.1-22 3.9-10 .6-3 .3-2.5 .9-4.2 2.5-2.8 1.3-3.5 .2-4.5-.5-8-.2-8 .3-5 .4-3-.3-6.5-3.6-3-1-12.5-.9-22-3.9-22-3.2-2.6-.6-.6-.5 1.3-.5 1.9-.4 22-3.2 22-3.9 12.5-.9 3-1z"/><path fill="#fc8e64" d="M115.5 627.5l.8-.2 2.5-.2 13 .6 8-.2 4.5-.4 3 .1 1 .3 1.1 .5 5.4 3.2 2.5 .9 3 .3 10 .6 22 3.7 21.5 3 2.6 .8-.7 .5-1.9 .5-21.5 3-22 3.7-10 .6-3 .3-3 1.1-6 3.5-1 .3-2.5 .1-5-.4-8-.2-8 .3-4 .3-3.5-.2-2.1-.9-4.9-2.9-3-1-12.5-.9-22-3.7-21.5-3-2.1-.5-.7-.5 2.3-.7 22-3.1 22-3.7 12.5-.9 3-1z"/><path fill="#fa815f" d="M117.8 627.5l2.5 0 3.5 .3 8 .2 8-.2 4-.3 3.5 .1 1 .3 1.1 .6 4.9 3.1 3 .9 3 .4 10 .5 22.1 3.6 21.4 2.9 1.8 .6-.7 .5-1.1 .2-21.5 3-22 3.6-10 .5-3 .4-3 .9-4.5 2.9-1.5 .8-1 .3-3.5 .1-4-.3-8-.2-12.5 .6-3.5-.4-6.5-3.9-3-.9-12.5-.8-22-3.6-21.5-2.9-1.3-.3-.7-.5 2-.6 21.2-2.9 22.3-3.6 12.5-.8 3-.9 6.5-3.9z"/><path fill="#f8745c" d="M116.8 628l3.5-.2 11.5 .5 8-.2 3.5-.3 3.5 .2 1.8 .5 5.7 3.6 3 .9 3 .4 10 .5 23.8 3.6 18.6 2.5 2.1 .5-1 .5-21.5 3-22 3.3-10 .5-3 .4-3 .9-4.5 2.9-2 1.1-3.5 .3-12.5-.5-11.5 .5-3.5-.2-1-.2-.9-.5-5.1-3.3-3-1-3-.3-10-.6-22-3.3-21.5-2.9-1.2-.6 2.1-.5 18.6-2.5 24-3.6 12.5-.8 3-.8 5.5-3.5 1-.6z"/><path fill="#f4675c" d="M116.9 628.5l2.9-.3 12 .5 11.5-.5 3 .2 1.5 .3 .7 .3 5.8 3.7 2.8 .8 3.2 .3 10 .6 24 3.4 15 1.9 4.6 .8-1.4 .5-3.3 .5-15.5 2-23.4 3.3-13 .9-3.1 .8-4.4 3-1.9 1-2.1 .4-2 .1-12-.5-11 .5-3-.2-2-.4-6.1-3.9-2.9-.8-3-.3-10-.5-23.6-3.4-15.5-2-3.3-.5-1.4-.5 4.8-.8 14.5-1.9 24.5-3.5 10-.5 3-.3 3-.9 4.7-3.1 1.3-.7z"/><path fill="#ee5b5e" d="M117.3 629l3-.3 11.5 .4 11-.4 3 .2 2.5 .6 6 3.8 2.5 .7 3 .3 10.5 .5 35.9 4.7 6.2 1-1.4 .5-3.3 .5-37.4 4.9-10.5 .5-3 .3-2 .5-1 .4-6 3.8-2 .4-2.5 .2-11.5-.4-10.5 .4-3-.2-2.5-.5-5.5-3.6-1.5-.6-1.5-.3-3.5-.4-10-.5-37.6-4.9-3.3-.5-1.4-.5 6.2-1 36.1-4.7 10-.5 3.5-.4 2.5-.6 5.8-3.8z"/><path fill="#e55064" d="M117.7 629.5l3.1-.3 11 .3 10.5-.3 3 .2 2.5 .5 5 3.4 1.5 .6 1.5 .4 3.5 .4 11 .5 34.3 4.3 6.2 1-1.3 .5-3.4 .5-35.8 4.5-11 .5-3.5 .4-1.5 .4-1.6 .7-4.9 3.3-2.5 .5-2.5 .2-11-.3-10.5 .3-2.5-.1-3-.8-4.5-3.1-1.5-.7-1.5-.4-3.6-.4-10.9-.5-36-4.5-3.4-.5-1.3-.5 6.2-1 34.5-4.3 10.5-.5 4-.4 1.5-.4 1.5-.7 4.5-3.1z"/><path fill="#dc4869" d="M118.2 630l3.1-.3 10.5 .2 10.5-.2 2.5 .1 3 .8 4.5 3.2 3 .9 4 .5 11 .5 33.5 3.9 5.4 .9-1.3 .5-3.6 .5-34 4-11 .5-4 .5-2 .5-1.1 .5-4.4 3.1-2.5 .7-3 .2-10.5-.2-10 .2-2.5-.1-3-.7-4.5-3.2-3-1-4-.5-11-.4-34-4-3.8-.6-1.3-.5 5.1-.8 34-4.1 11-.4 4-.5 2.5-.8 4.5-3.1z"/><path fill="#d2426f" d="M118.5 630.5l3.3-.3 10 .1 10-.1 2.5 .1 2 .5 1.5 .5 4 3 1.5 .5 1.5 .4 4 .4 11.5 .5 33.5 3.7 3.8 .7-1.3 .5-2.5 .4-33.5 3.7-11 .5-4 .3-2 .5-1.5 .5-4 3-1.7 .6-3 .5-5.8 0-5.5-.1-10 .1-2-.1-2-.4-1.4-.5-4.2-3-1.4-.6-2-.4-4-.4-11-.5-34-3.8-2.2-.3-1.3-.5 3.5-.6 34-3.8 11-.5 4-.4 3-.8 1.5-.9 2.5-2z"/><path fill="#c73d73" d="M119.4 631l2.4-.3 4.5-.1 17 .2 2 .4 1.5 .5 1 .5 3.5 2.6 2.5 .7 4.5 .5 12 .5 20.5 2.1 12.5 1.4 2.7 .5-1.3 .5-.9 .1-32 3.4-13.5 .7-4.5 .5-2.6 .8-3.4 2.5-1 .5-3 .8-6 .3-6-.2-5 .2-5.5-.2-3-.5-2-.8-2.8-2.1-1.2-.7-3-.8-4-.3-13-.6-32.5-3.5-1.9-.6 2.7-.5 12.2-1.4 21-2.1 11.5-.5 4.5-.4 2.5-.7 4-2.8 1.5-.7z"/><path fill="#bc3978" d="M120.3 631.5l6.5-.4 10.5 0 5.5 .3 2 .4 1.5 .5 4 2.7 1.5 .7 1.5 .3 5 .5 13.5 .6 19 1.7 13.6 1.7-1.7 .5-11.9 1.4-19 1.7-13.5 .6-5 .5-2.7 .8-3.3 2.3-1.3 .7-1.4 .5-1.8 .3-5.5 .3-10 0-5.5-.2-2.5-.4-2.4-1-3.6-2.5-1.3-.5-1.7-.4-5-.4-13-.5-19.5-1.9-11.6-1.3-1.7-.5 13.3-1.6 21-2 11.5-.4 5-.4 2.5-.7 1.5-.8 2.9-2.1 1.6-.6z"/><path fill="#b0357b" d="M121.1 632l6.2-.4 10 .1 4.5 .2 2 .3 1.5 .5 1.5 .8 2.8 2 1.7 .7 1.5 .3 5 .4 14 .6 19 1.6 11.4 1.4-1.8 .5-9.6 1.1-19 1.6-14 .6-5 .4-3 .9-3.5 2.4-2 .9-2.5 .4-5.5 .3-10-.1-5.5-.4-1.5-.3-1.5-.7-3.9-2.6-3.1-.8-19-1-19-1.6-9.3-1.1-1.8-.5 11.1-1.4 19.5-1.7 14-.5 4.6-.4 2.9-.7 4.2-2.8 1.3-.6z"/><path fill="#a5317e" d="M122 632.5l5.8-.3 9 0 5 .3 2 .4 1.4 .6 4.1 2.7 3 .7 19.5 1 19 1.4 9 1.2-1.7 .5-7.3 .9-20.5 1.6-17.5 .7-3.5 .8-4 2.6-2.5 .9-5 .5-10 0-2.5 0-4.5-.5-2.5-1-3.5-2.4-3-.8-5.5-.4-12.5-.4-20.5-1.6-7.5-.9-1.7-.5 8.7-1.1 19.5-1.6 14-.5 5.5-.4 3-.8 4-2.6 1.1-.5z"/><path fill="#992d80" d="M124.9 633l11.4-.1 5 .4 2.6 .7 4.9 2.7 3.5 .7 19.5 .8 19 1.4 6.6 .9-1.6 .5-5 .6-20.5 1.5-18.5 .7-3.1 .7-4.4 2.5-2.5 .9-4.5 .4-9 .1-3.5-.2-3.5-.5-2-.8-4-2.4-3-.6-5.6-.4-12.9-.4-20.5-1.5-5.2-.6-1.6-.5 6.3-.9 19-1.3 20.5-1 1.9-.3 1.5-.5 3.3-2 1.8-.8 1.5-.4z"/><path fill="#8e2a81" d="M123.3 634l4.5-.5 10.5 .2 4 .7 5.2 2.6 3.3 .7 21 .9 19 1.3 4.2 .6-1.5 .5-2.7 .3-20.5 1.4-19.5 .8-2.7 .5-1.8 .7-3.3 1.8-2.2 .7-4 .4-8 .1-3.5-.2-3-.5-2-.8-3.2-1.7-1.8-.6-2-.4-3.5-.3-16-.5-20.5-1.4-2.9-.3-1.5-.5 3.9-.6 19-1.3 18-.6 3.5-.3 3-.7 1.5-.6 3-1.7z"/><path fill="#812581" d="M125.2 634.5l4.1-.3 6.5 .1 2.9 .2 3.1 .8 4.5 2.1 2.5 .6 2 .2 21 .8 19 1.2 1.8 .3-1.8 .5-19 1.2-21.5 .8-2 .3-2.5 .7-4 2-2.5 .6-3 .3-7 .1-3-.2-3-.5-2-.7-3.2-1.6-4.3-1-22-.8-19-1.2-1.5-.5 2-.3 18.5-1.2 22-.9 4-.8 4.5-2.1z"/><path fill="#762181" d="M129.4 635l5.9 0 3 .3 2.5 .6 4.5 1.9 4.5 .8 22 .8 17.2 1.1-3.8 .5-13.4 .8-22 .8-2.9 .4-2.1 .5-4 1.7-2.5 .7-3 .3-5.5 0-3-.1-2-.3-2-.7-3.7-1.6-4.8-.9-22.5-.8-13.1-.8-3.8-.5 16.9-1.1 18.5-.6 4.5-.3 4-.7 4-1.7 2-.7 2-.3z"/><path fill="#6b1d81" d="M126.4 636l3.4-.3 7 .2 2.5 .5 5 1.9 5 .7 22.5 .8 10.3 .7-3.4 .5-6.9 .4-18.5 .6-5 .3-4.3 .7-5.7 2-2 .4-2.5 .1-5-.1-2.5-.2-2-.5-4.4-1.7-4.6-.7-23.5-.9-6.6-.4-3.4-.5 10-.7 23.5-.9 3-.3 2-.5 4.1-1.6z"/><path fill="#601880" d="M128.9 636.5l7.4 .1 2 .4 4.5 1.6 5.5 .8 22 .8 4.8 .3-3.3 .5-19.5 .6-5.8 .4-4.2 .7-5 1.7-4 .4-4 0-2.5-.3-5.5-1.9-4-.6-6-.4-19.5-.6-3-.5 5.5-.4 18-.5 5-.4 4-.6 4.5-1.6z"/><path fill="#56147d" d="M129.4 637l6.4 .1 1.5 .4 2 .8 2 .6 4 .7 17.9 .9-18.4 1.2-4.5 .8-4 1.5-2 .2-3.5 0-3.5-.3-3.7-1.4-4.3-.8-18.6-1.2 13.6-.6 5-.4 3.5-.6 4-1.5z"/><path fill="#4a1079" d="M129.4 637.5l5.9 .1 1.5 .3 2.5 1.2 1.5 .4 9 1-9 1.2-1.5 .4-3 1.3-3.5 .4-4.5-.2-1.5-.5-3-1.2-9.7-1.4 9.2-1.1 1.5-.4 2.5-1.1z"/><path fill="#3f0f72" d="M129.4 638l3.9-.1 2 .2 4 1.7 3.9 .7-3.9 .9-4 1.7-1.5 .2-2.5 0-3-.3-3.5-1.5-4.1-1 3.6-.6 3.5-1.6z"/><path fill="#331067" d="M128.8 638.5l2.5-.2 3.5 .1 1 .4 1.5 .9 1.8 .8-.7 .5-3.1 1.6-1.5 .3-2.5 0-1.5 0-1.5-.4-3.5-2z"/><path fill="#271258" d="M128.7 639l2.1-.4 3.5 .1 1 .4 1.7 1.4-.8 1-1.4 .8-2 .3-3-.1-1.4-.5-1.2-1-.3-.5z"/><path fill="#1d1147" d="M130.2 639l2.6-.1 1.5 .2 .7 .4 .9 1-.6 1-1 .6-2 .2-2.5-.2-1.2-.6-.6-1 .9-1z"/><path fill="#130d34" d="M129.8 639.5l1-.3 2.5 .1 1 .3 .7 .9-.5 1-.7 .3-1.5 .2-2-.1-.8-.4-.5-.5-.1-.5 .3-.5z"/><path fill="#0b0924" d="M130.8 639.5l2 0 1 .3 .3 .2 .2 .5-.1 .5-.4 .5-1 .2-1.5 0-1.2-.2-.4-.5-.1-.5 .2-.5z"/><path fill="#050416" d="M130.4 640l.9-.3 2 .2 .5 .6-.1 .5-.9 .5-2-.1-.6-.4-.1-.5z"/><path fill="#010108" d="M131.4 640l1.4 .1 .4 .4-.2 .5-1.2 .2-1-.2-.1-.5z"/></g></g>
<text x="30.90" y="564.59" text-anchor="end" font-size="13" letter-spacing="1.0">−20</text>
<text x="30.90" y="529.44" text-anchor="end" font-size="13" letter-spacing="1.0">−10</text>
<text x="30.90" y="494.30" text-anchor="end" font-size="13" letter-spacing="1.0">0</text>
<text x="30.90" y="459.16" text-anchor="end" font-size="13" letter-spacing="1.0">10</text>
<text x="30.90" y="424.01" text-anchor="end" font-size="13" letter-spacing="1.0">20</text>
<path d="M43.87 588.10v-1.8M61.49 588.10v-3.2M79.10 588.10v-1.8M96.72 588.10v-3.2M114.33 588.10v-1.8M131.95 588.10v-3.2M149.57 588.10v-1.8M167.18 588.10v-3.2M184.80 588.10v-1.8M202.41 588.10v-3.2M220.03 588.10v-1.8M33.30 577.56h1.8M33.30 559.99h3.2M33.30 542.41h1.8M33.30 524.84h3.2M33.30 507.27h1.8M33.30 489.70h3.2M33.30 472.13h1.8M33.30 454.56h3.2M33.30 436.99h1.8M33.30 419.41h3.2M33.30 401.84h1.8" stroke="#262626" stroke-width="0.75" fill="none"/>
<rect x="33.30" y="391.30" width="197.30" height="196.80" fill="none" stroke="#262626" stroke-width="0.95"/>
<text x="132.15" y="385.00" text-anchor="middle" font-size="13" letter-spacing="0.37">Model <tspan font-style="italic">BB</tspan><tspan font-size="9.4" dy="2.5">1</tspan></text>
<text x="44.80" y="408.50" text-anchor="start" font-size="11.2" letter-spacing="0.64">7.568 Gyr</text>
<text transform="translate(13.40 489.70) rotate(-90)" text-anchor="middle" font-size="13" letter-spacing="0.9">y [kpc]</text>
<text x="252.49" y="601.40" text-anchor="middle" font-size="13" letter-spacing="1.0">−10</text>
<text x="287.70" y="601.40" text-anchor="middle" font-size="13" letter-spacing="1.0">0</text>
<text x="322.91" y="601.40" text-anchor="middle" font-size="13" letter-spacing="1.0">10</text>
<path d="M251.99 588.10v-3.2M269.59 588.10v-1.8M287.20 588.10v-3.2M304.81 588.10v-1.8M322.41 588.10v-3.2M237.90 577.56h1.8M237.90 559.99h3.2M237.90 542.41h1.8M237.90 524.84h3.2M237.90 507.27h1.8M237.90 489.70h3.2M237.90 472.13h1.8M237.90 454.56h3.2M237.90 436.99h1.8M237.90 419.41h3.2M237.90 401.84h1.8" stroke="#262626" stroke-width="0.75" fill="none"/>
<rect x="237.90" y="391.30" width="98.60" height="196.80" fill="none" stroke="#262626" stroke-width="0.95"/>
<text x="287.60" y="617.30" text-anchor="middle" font-size="13" letter-spacing="0.9">z [kpc]</text>
<text x="63.77" y="702.50" text-anchor="middle" font-size="13" letter-spacing="1.0">−20</text>
<text x="98.11" y="702.50" text-anchor="middle" font-size="13" letter-spacing="1.0">−10</text>
<text x="132.45" y="702.50" text-anchor="middle" font-size="13" letter-spacing="1.0">0</text>
<text x="166.79" y="702.50" text-anchor="middle" font-size="13" letter-spacing="1.0">10</text>
<text x="201.13" y="702.50" text-anchor="middle" font-size="13" letter-spacing="1.0">20</text>
<text x="33.40" y="680.06" text-anchor="end" font-size="13" letter-spacing="1.0">−10</text>
<text x="33.40" y="645.70" text-anchor="end" font-size="13" letter-spacing="1.0">0</text>
<text x="33.40" y="611.34" text-anchor="end" font-size="13" letter-spacing="1.0">10</text>
<path d="M46.10 689.20v-1.8M63.27 689.20v-3.2M80.44 689.20v-1.8M97.61 689.20v-3.2M114.78 689.20v-1.8M131.95 689.20v-3.2M149.12 689.20v-1.8M166.29 689.20v-3.2M183.46 689.20v-1.8M200.63 689.20v-3.2M217.80 689.20v-1.8M35.80 675.46h3.2M35.80 658.28h1.8M35.80 641.10h3.2M35.80 623.92h1.8M35.80 606.74h3.2" stroke="#262626" stroke-width="0.75" fill="none"/>
<rect x="35.80" y="593.00" width="192.30" height="96.20" fill="none" stroke="#262626" stroke-width="0.95"/>
<text x="132.35" y="717.70" text-anchor="middle" font-size="13" letter-spacing="0.9">x [kpc]</text>
<text transform="translate(13.40 641.10) rotate(-90)" text-anchor="middle" font-size="13" letter-spacing="0.9">z [kpc]</text>
<rect x="336.30" y="393.25" width="8.50" height="292.25" fill="url(#cbg)" stroke="#262626" stroke-width="0.8"/>
<text x="351.20" y="403.16" text-anchor="start" font-size="10" letter-spacing="0.1">0</text>
<text x="351.20" y="466.28" text-anchor="start" font-size="10" letter-spacing="0.1">-1</text>
<text x="351.20" y="529.40" text-anchor="start" font-size="10" letter-spacing="0.1">-2</text>
<text x="351.20" y="592.52" text-anchor="start" font-size="10" letter-spacing="0.1">-3</text>
<text x="351.20" y="655.65" text-anchor="start" font-size="10" letter-spacing="0.1">-4</text>
<path d="M344.80 399.56h3M344.80 462.68h3M344.80 525.80h3M344.80 588.92h3M344.80 652.05h3" stroke="#262626" stroke-width="0.75" fill="none"/>
<text x="287.20" y="663.80" text-anchor="middle" font-size="13" letter-spacing="0.55">Colorbar:</text>
<text x="288.00" y="679.90" text-anchor="middle" font-size="13" letter-spacing="0.67">Log(<tspan font-style="italic">ρ</tspan>/<tspan font-style="italic">ρ</tspan><tspan font-style="italic" font-size="9.1" dy="2.2">max,C</tspan><tspan dy="-2.2">)</tspan></text>
<mask id="mf3" maskUnits="userSpaceOnUse" x="432.6" y="391.3" width="197.3" height="196.8"><g filter="url(#nz)" fill="#fff"><path fill-opacity="0.055" d="M521 403.8l9.1-.2 8.5 .4 8 1.2 8 2 7.5 2.7 7.5 3.6 6.5 3.9 6.5 4.9 5.9 5.5 5.3 6 4.7 6.5 4.1 7.2 3.3 7.3 2.8 8 2 8.5 1.2 8.5 .5 9-.2 10-1 8.5-1.7 8.5-2.4 8.1-3.3 7.9-4 7.5-4.7 7-5.4 6.5-5.7 5.5-6.4 5.1-7 4.4-7.5 3.7-8 2.9-8 2.1-8.5 1.3-9 .5-9-.3-8.5-1.1-8-1.8-7.5-2.5-7.5-3.3-7-4-6.9-5-6.1-5.5-5.5-6.2-5-6.8-4.1-7-3.4-7.5-2.8-8-2-8.5-1.3-8.5-.5-9 .2-10 1-9 1.7-8.5 2.6-8.5 3.4-8 4.1-7.5 4.8-7 5.6-6.5 6.2-5.9 6.8-5.1 7.2-4.3 7.5-3.4 8.1-2.8 8.4-1.9z"/><path fill-opacity="0.063" d="M519 408.3l8.1-.4 8.5 .2 8 1 7.5 1.6 7 2.3 7 3 6.8 3.8 6.2 4.4 5.9 5.1 5.1 5.5 4.6 6 4 6.5 3.5 7 2.8 7.5 2 7.5 1.5 8 .7 8.5 0 9.5-.7 8.5-1.3 8-2.2 8-2.8 7.5-3.6 7.4-4.1 6.6-4.9 6.3-5.5 5.7-6 5.1-6.5 4.4-7 3.7-7.5 3.1-7.5 2.1-8 1.5-8 .7-9-.1-8-.7-8-1.5-7.5-2.3-7.3-3-6.7-3.6-6.4-4.4-5.9-5-5.3-5.5-4.9-6.2-4.2-6.8-3.5-7-2.9-7.5-2.2-8-1.4-8-.7-8.5 0-9.5 .7-8.5 1.5-8.5 2.2-8 3.1-8 3.6-7 4.5-7 5.2-6.5 5.6-5.5 6.2-5 6.8-4.3 7.4-3.7 7.6-2.8 8-2z"/><path fill-opacity="0.096" d="M525 411.8l8.1 .1 7.5 .6 7.5 1.5 7 2 7 2.9 6.4 3.4 6.1 4.1 5.5 4.6 5.2 5.3 4.7 6 4.1 6.4 3.3 6.6 2.7 7 2.2 7.5 1.4 7.5 .7 8 .1 8.5-.5 8-1.3 8-1.9 7.5-2.4 7-3.3 7-3.9 6.5-4.6 6.2-5 5.4-5.6 4.9-6.4 4.5-6.5 3.6-7 3-7 2.2-7.5 1.5-8 .8-8.5 .1-7.5-.6-7.5-1.3-7-1.9-7-2.7-6.5-3.3-6.1-3.9-5.9-4.8-3.4-3.2-3.1-3.4-5.4-7.1-4.6-7.9-3.5-8.1-2.7-8.5-1.7-9-.8-9 0-11.5-.3 0 0 .5-.1 15.5 .1 .9 .3 .6 .1 3 .4 1-.1 2.5-.2 .1-1.1-4.6-1.1-8-.1-10 .5-6 1.6-8 2.4-8 3-7 3.9-7 4.5-6.5 5.9-7 5-5.1 6-4.9 6-3.9 6.5-3.4 7-2.7 7-2 7.5-1.4zM452.6 480l0 3.4 .3-3.1zM453 508.3l.1-.2 .1 .2-.1 1z"/><path fill-opacity="0.138" d="M520.1 416.3l7.5-.4 8 .3 7 .9 7 1.6 6.5 2.2 6.5 2.9 6 3.5 6 4.4 5 4.6 4.9 5.5 4.1 5.7 3.6 6.3 2.9 6.5 2.3 7 1.7 7 1 7.5 .4 8-.2 8-.8 7.5-1.6 7.5-2.2 7-2.9 7-3.6 6.5-4.1 5.9-4.8 5.6-5.2 4.9-5.5 4.1-6 3.7-6 2.8-8.5 3.3-8 2-6.5 1-13 0-9-1.5-.7-.3-1.3-.1-.6-.4-2.9-.7-.5-.3-1-.2-.4-.3-2.1-.6-.5-.4-2-.6-.5-.4-.5-.1-.5-.4-.5 0-.5-.5-.5 0-4-2.1-7-4.4-5.8-4.5-4.7-4.5-4.2-5-3.9-5.5-3.4-6-2.5-5.5-2.6-7.5-.9-1.5-1.5-4-1.6-6-1-7-.3-7 .3-7 .9-6.5 2-8 2-5.5 3.5-7.5 3.9-6.5 5-6.5 7.3-7.4 3.5-3 5.5-4 5.5-3.2 6-2.9 6.5-2.3 7-1.7zM492 422.3l.7 0-.6 .2zM490.9 422.8l.7-.2 .3 .2-5.3 3.3-5.5 4.1-4 3.5-4 3.9-6 7.2-3.1 4.5-3 5-2.5 5-1.9 4.5-1.6 4.5-1.5 5.5-1.6 9-.6 5.5-.2 7-.5-5.4 0-2.6 .5-6.5 .9-6 1-4.5 1.9-6 2-5 2.6-5.5 3-5 3.5-5 3.1-3.8 4-4.3 7.5-6.5 5-3.4z"/><path fill-opacity="0.181" d="M524.6 416.8l4.5 0 6.5 .5 6 1 7 2 2.4 1-.2 .5 1.3 .2 .3 .3 5.7 2.3 6.5 3.3 5.9 3.9 5.3 4.5 4.8 4.9 4 5.1 3.6 5.5 3.1 6 2.5 6.5 1.9 6.5 1.4 7 .7 7 .2 7.5-.4 7.5-1 7-1.7 7.5-2.3 6.5-2.9 6.5-3.6 6-4 5.5-4.5 5-5 4.5-5.5 4-6 3.5-6.5 2.9-6.5 2.1-7 1.5-7 .8-10 .1-4.5-.4-5-.7-4.5-1-4.5-1.2-4.5-1.7-4-1.7-4-2.1-4-2.5-3.6-2.6-3.6-3-3.3-3.2-3-3.3-2.8-3.5-2.7-4-4.3-8-1.9-4.5-1.6-4.5-1.2-4.5-1-5-.7-5-.4-5 0-10.5 1.1-9.5 2.1-9 2-5.5 2.1-5-.2-.5-2.5 4.8-2.5 5.8-1.7 4.9-1.4 5.5-1 5.5-.6 5.5-.3 13.5-1-4.8-.4-4.2 0-6.5 .7-7.5 1.4-7 2-6.5 3-7 3.6-6.5 4.1-6 4.2-5 5.4-5.3 5.5-4.4 6-3.9 6-3.2 7-2.8 7-2.1 8.5-1.4zM478.6 431.3l.5-.2 .1 .2zM478 431.8l.6-.5 0 .5-.5 .5zM477.4 432.3l.7 0-5.1 5-5.5 6.5-3.6 5-3 5-2.5 5-2.5 6-2 6-1.3 5.4-.2-.4 .2-2.2 2-7.5 2.5-6.6 3.5-7 3.5-5.6 3.5-4.7 4.5-5zM467.1 454.2l0 .6 .3-.5zM466.6 455.1l0 .7 .2-.5zM452.1 476.3l.2 0 0 .5-.2 1.7zM484.4 550.3l.2-.2 .3 .2-.3 .2zM484.9 550.8l.2-.3 .5 .2 6.5 4.3 4.5 2.4 4.5 2.1 8.5 2.9 6.5 1.5 8.5 1.1 8.5 0 8.5-.9 6-1.4 1.5-.2 .2 .3-4.7 1.5-4.5 1-8 1-7.5 .1-8.5-1-8-1.9-8-3-5-2.6-3.5-2.1-3.6-2.5zM549.4 562.3l1.2 0-1 .2z"/><path fill-opacity="0.230" d="M522.1 417.3l8.6 0 7.2 1-.8 .3-8.5 0-7 .5-6.5 1.1-1 .4-1.8 .2-.2 .4-1.7 .1 .2 .3 9.5-1.6 7.5-.4 9 .4 7 1 7.5 2 7.5 2.9 6.5 3.6 7 4.9 4.8 4.4 4.5 5 4 5.5 3 5 3 6.5 2 5.5 2 7.5 1 6.5 .6 7-.1 8.5-.6 6.5-1.4 8-2.1 7-2.4 6-3 6-3.6 5.5-3.9 5-5.3 5.4-4 3.4-6 4.1-6.5 3.4-6.5 2.5-7 2-6 1-6 .5-6.5 .1-7-.5-4-.6-5-1.1-5-1.4-5-1.9-4.5-2.2-5-2.9-3.5-2.4-5-4.2-3.7-3.7-3.1-3.5-3.9-5.5-3-5-2.2-4.5-1.9-5-2-6.5-1-4.5-1-7-.4-6.5 0-5.5 .4-6 1-7 1.4-6 1.6-5 2-5 2.5-5 3-5 2.5-3.5 3.4-4 5.5-5.5-.1-.2-1.1 .7-4.4 4-4.5 5-4.5 6-3.7 6-2.9 6-2.6 7-2.1 7.5-1.7 10.5-.2-1 0-5 .7-5.7 1.5-6.8 2.5-7.4 2.8-6.1 3.4-6 4-5.5 4.7-5.5 5.1-4.8 5-3.9 5.5-3.6 5.5-2.9 6-2.5 6-2 6.5-1.4zM509.1 421.7l-.5 .1 .5 .2 1.1-.2zM507.1 422.3l0 .1 1.2-.1zM504.6 423.2l-.4 .1 .9 0zM503.1 423.7l-.2 .1 .2 .1 .5-.1zM500.6 424.7l0 .2 .5-.1zM492.6 428.8l0 .1 .3-.1zM488.6 431.3l0 .2 .4-.2zM488.1 431.7l0 .2 .2-.1zM486.6 432.7l0 .3 .3-.2zM486.1 433.2l-.2 .1 .2 .1 .2-.1zM485.1 433.8l0 .4 .6-.4zM484.6 434.2l0 .4 .4-.3zM484.1 434.7l-.2 .1 .2 .2 .3-.2zM483.6 435.2l-.3 .1 .3 .2 .2-.2zM497.6 558.8l0-.4 8 3.2 9 2.4 7 1.1 6 .4 6 0 .4 .3-5.9 .3-5-.1-8.7-1.2-4.1-1-4.8-1.5-4.9-2z"/><path fill-opacity="0.299" d="M521.2 417.8l4.8 0-1.5 .5-5.9 .8-7 1.5-6.5 2-5 2-6 3-5 3-5 3.6-4 3.4-4 3.9-3.8 4.3-3.4 4.5-2.9 4.5-2.2 4-2.4 5-2.5 6.5-1.8 5.7 0-1.7 .5-2.7 1.5-5.4 2-5.4 3-6.2 3-5 3.5-4.8 3.8-4.5 4.2-4.1 4.6-3.9 5-3.5 5.1-3 5.3-2.5 6.6-2.5 5.6-1.5 5.4-1zM525.1 420.3l7.5 0 6.5 .6 6.5 1.2 6.5 1.9 6 2.4 6 3.2 5.5 3.7 4.8 4 4.7 4.8 4 5 3.5 5.4 3 5.8 2.6 6.5 1.9 6.5 1.4 7 .7 7 .2 7.5-.5 7.5-1.1 7-1.6 6.5-2.2 6.5-3 6.5-3.4 5.8-4 5.4-4.5 4.9-5 4.4-5.5 4-6 3.3-6 2.6-6.5 2.1-6.5 1.3-7 .8-7.5 .1-7-.5-6.5-1-6.5-1.8-6.3-2.4-6-3-5.7-3.7-5-4-4.8-4.8-4.2-5.2-3.8-5.8-3.1-6-2.6-6.5-1.9-6.5-1.3-7-.7-7-.2-7.5 .5-7.5 1.1-7 1.8-7 2.3-6.5 3.1-6.5 3.3-5.5 4.1-5.5 4.7-5 5.2-4.5 5.5-3.8 6-3.2 6.5-2.7 6.5-1.9 7-1.3z"/><path fill-opacity="0.410" d="M510.6 419.8l2.1 0-1.1 .2-7.5 2.6-8 3.6-7.5 4.4-7 5.3-5.7 5.4-5.6 6.5-4.4 6.5-4.3 7.9-.2-.4 .2-1 1.5-3.4 2.5-4.7 2.5-4 5.5-7 3.2-3.4 3.8-3.5 6.6-5 7.7-4.5 4.4-2 4-1.5zM519.5 421.3l6.6-.4 7.5 .1 6.5 .7 6.5 1.3 6 1.8 6 2.5 5.5 3 5.2 3.5 4.8 4 4.5 4.6 4 5 3.5 5.4 3.1 6 2.4 6 2 6.7 1.3 6.8 .8 7.5 .1 7.5-.5 7.5-1.1 7-1.7 6.5-2.3 6.5-2.9 6-3.6 6-4.1 5.5-4.5 4.8-5 4.3-5.5 3.8-6 3.3-6 2.5-6.5 1.9-6.5 1.3-7 .7-7.5 0-7-.6-6.5-1.2-6.4-1.8-6.1-2.4-5.5-2.9-5.5-3.6-5-4.1-4.5-4.5-4.4-5.5-3.5-5.5-3.1-6-2.4-6-1.9-6.5-1.4-7-.7-7-.1-8.1 .5-7.1 1.3-7.8 1.9-7 2.4-6.5 3-6 3.8-6 4.1-5.2 4.7-4.8 5.3-4.4 5.5-3.6 6-3.1 6.5-2.5 6.5-1.8zM461.1 462.3l.2 0-.2 .8z"/><path fill-opacity="0.583" d="M525.2 421.8l7.4 0 6.5 .7 6.5 1.2 6 1.8 6 2.4 5.5 2.9 5.3 3.5 4.8 4 4.5 4.5 4 5 3.6 5.5 3.1 6 2.6 6.5 1.9 6.5 1.2 6.5 .7 7 .1 7.5-.4 7-1.2 7-1.6 6.5-2.3 6.5-2.9 6-3.4 5.7-4 5.3-4.5 4.9-5 4.4-5.3 3.7-5.7 3.1-6 2.6-6.5 2-6.5 1.3-6.5 .6-7 .1-7-.5-6.5-1.1-6.5-1.8-6-2.3-5.8-3-5.4-3.5-4.9-4-4.5-4.5-4.1-5-3.6-5.5-3.2-6.1-2.6-6.4-1.9-6.5-1.3-7-.7-7-.1-7.5 .5-7.5 1.2-7 1.7-6.5 2.4-6.5 2.9-6 3.4-5.5 4.2-5.5 4.8-5 4.8-4 5.2-3.6 6-3.2 6-2.5 6.5-1.9 6.5-1.2zM497 424.8l.8 0-.7 .2zM495.9 425.3l.7-.2 .3 .2-7.3 4.2-7.5 5.5-5.7 5.3-6.8 7.7-.2-.2 1.7-2.6 3-3.6 3.2-3.3 3.8-3.5 4.5-3.5 2.9-2zM469 448.3l.1-.2 .2 .2-.2 .4zM468.6 448.8l.2 0-.2 .6z"/><path fill-opacity="1.000" d="M519.7 423.8l10.4-.4 7.1 .4 8.1 1.5 5.2 1.5 5.1 2 6 3 6 4 5.7 5 4.8 5 3 4 3.5 5.5 2.5 5 2.5 6.4 2 7.1 1 5.4 .5 4.1 .2 9.5-.2 5.7-1 7.1-1.5 6.3-2.5 7.2-4 8.2-2.5 4-5.5 7-4 4-3.6 3-5 3.5-7.4 4-5 2-7 2-5.4 1-4.6 .5-11.2 0-4.8-.5-7.4-1.5-7.6-2.5-4.4-2-4.5-2.5-5.1-3.5-2-1.5-3.2-3-4.8-5-3.5-4.5-2.5-4-4-7.9-2-5.4-1.5-5.2-1.5-8-.5-5.5 0-10 1-8.5 1-4.7 2-6.8 2-5 3-6 3.5-5.5 4-5 5.5-5.5 6.5-5 5-3 6.5-3 6-2 4-1z"/></g></mask>
<g mask="url(#mf3)"><g filter="url(#bl)"><path fill="#febf84" d="M520.6 400.3l15.5 0 .5 .5 4.5 0 .5 .5 3 0 .5 .5 2 0 .5 .5 2 0 .5 .5 1.5 0 .5 .5 1.5 0 .5 .5 1 0 .5 .5 1.5 0 .5 .5 1 0 .5 .5 .5 0 .5 .5 1 0 .5 .5 1 0 .5 .5 .5 0 .5 .5 .5 0 .5 .5 1 0 .5 .5 .5 0 .5 .5 .5 0 .5 .5 .5 0 .5 .5 .5 0 .5 .5 .5 0 .5 .5 .5 0 1 1 .5 0 .5 .5 .5 0 1 1 .5 0 .5 .5 .5 0 1.5 1.5 .5 0 1 1 .5 0 1.5 1.5 .5 0 2 2 .5 0 9.5 9.5 0 .5 2 2 0 .5 1.5 1.5 0 .5 1.5 1.5 0 .5 1 1 0 .5 1 1 0 .5 .5 .5 0 .5 1 1 0 .5 .5 .5 0 .5 .5 .5 0 .5 1 1 0 .5 .5 .5 0 .5 .5 .5 0 .5 .5 .5 0 .5 .5 .5 0 1 .5 .5 0 .5 .5 .5 0 .5 .5 .5 0 1 .5 .5 0 .5 .5 .5 0 1 .5 .5 0 1 .5 .5 0 1 .5 .5 0 1 .5 .5 0 1.5 .5 .5 0 1 .5 .5 0 1.5 .5 .5 0 2 .5 .5 0 2 .5 .5 0 2.5 .5 .5 0 3 .5 .5 0 5 .5 .5 0 15.5-.5 .5 0 4.5-.5 .5 0 3.5-.5 .5 0 2.5-.5 .5 0 2-.5 .5 0 1.5-.5 .5 0 1.5-.5 .5 0 1.5-.5 .5 0 1-.5 .5 0 1-.5 .5 0 1-.5 .5 0 1-.5 .5 0 1-.5 .5 0 1-.5 .5 0 .5-.5 .5 0 .5-.5 .5 0 1-.5 .5 0 .5-.5 .5 0 .5-.5 .5 0 .5-.5 .5 0 .5-.5 .5 0 .5-.5 .5 0 .5-.5 .5 0 .5-1 1 0 .5-.5 .5 0 .5-1 1 0 .5-.5 .5 0 .5-1 1 0 .5-1 1 0 .5-1.5 1.5 0 .5-2 2 0 .5-3 3 0 .5-5 5-.5 0-3 3-.5 0-2 2-.5 0-1 1-.5 0-1.5 1.5-.5 0-1 1-.5 0-.5 .5-.5 0-1 1-.5 0-.5 .5-.5 0-1 1-.5 0-.5 .5-.5 0-.5 .5-.5 0-.5 .5-.5 0-.5 .5-.5 0-.5 .5-1 0-.5 .5-.5 0-.5 .5-.5 0-.5 .5-1 0-.5 .5-.5 0-.5 .5-1 0-.5 .5-1 0-.5 .5-1 0-.5 .5-1.5 0-.5 .5-1 0-.5 .5-1.5 0-.5 .5-2 0-.5 .5-2 0-.5 .5-2.5 0-.5 .5-3.5 0-.5 .5-20.5 0-.5-.5-3.5 0-.5-.5-2.5 0-.5-.5-2 0-.5-.5-1.5 0-.5-.5-1.5 0-.5-.5-1.5 0-.5-.5-1 0-.5-.5-1 0-.5-.5-1 0-.5-.5-1 0-.5-.5-1 0-.5-.5-.5 0-.5-.5-1 0-.5-.5-.5 0-.5-.5-.5 0-.5-.5-.5 0-.5-.5-.5 0-.5-.5-.5 0-.5-.5-.5 0-.5-.5-.5 0-.5-.5-.5 0-.5-.5-.5 0-1-1-.5 0-.5-.5-.5 0-1-1-.5 0-1-1-.5 0-1.5-1.5-.5 0-1-1-.5 0-2.5-2.5-.5 0-9.5-9.5 0-.5-2-2 0-.5-1.5-1.5 0-.5-1.5-1.5 0-.5-1-1 0-.5-.5-.5 0-.5-1-1 0-.5-.5-.5 0-.5-1-1 0-.5-.5-.5 0-.5-.5-.5 0-.5-.5-.5 0-.5-.5-.5 0-.5-.5-.5 0-.5-.5-.5 0-.5-.5-.5 0-.5-.5-.5 0-1-.5-.5 0-.5-.5-.5 0-.5-.5-.5 0-1-.5-.5 0-1-.5-.5 0-1-.5-.5 0-1-.5-.5 0-1-.5-.5 0-1.5-.5-.5 0-1-.5-.5 0-2-.5-.5 0-1.5-.5-.5 0-2.5-.5-.5 0-2.5-.5-.5 0-3.5-.5-.5 0-7.5-.5-.5 0-7 .5-.5 0-7 .5-.5 0-4 .5-.5 0-2.5 .5-.5 0-2 .5-.5 0-2 .5-.5 0-1.5 .5-.5 0-1.5 .5-.5 0-1.5 .5-.5 0-1 .5-.5 0-1 .5-.5 0-1 .5-.5 0-1 .5-.5 0-.5 .5-.5 0-1 .5-.5 0-.5 .5-.5 0-.5 .5-.5 0-1 .5-.5 0-.5 .5-.5 0-.5 .5-.5 0-.5 .5-.5 0-.5 .5-.5 0-.5 .5-.5 0-.5 1-1 0-.5 .5-.5 0-.5 1-1 0-.5 .5-.5 0-.5 1-1 0-.5 1-1 0-.5 1.5-1.5 0-.5 1.5-1.5 0-.5 2.5-2.5 0-.5 2.5-2.5 5-5 .5 0 2.5-2.5 .5 0 1.5-1.5 .5 0 1.5-1.5 .5 0 1-1 .5 0 1-1 .5 0 .5-.5 .5 0 1-1 .5 0 .5-.5 .5 0 .5-.5 .5 0 .5-.5 .5 0 1-1 .5 0 .5-.5 1 0 .5-.5 .5 0 .5-.5 .5 0 .5-.5 .5 0 .5-.5 1 0 .5-.5 .5 0 .5-.5 1 0 .5-.5 1 0 .5-.5 1 0 .5-.5 1 0 .5-.5 1 0 .5-.5 1.5 0 .5-.5 1.5 0 .5-.5 2 0 .5-.5 2 0 .5-.5 3 0 .5-.5 4.5 0z"/><path fill="#feb47b" d="M520.5 414.8l7.6-.3 7.5 .2 7 .9 7 1.6 7 2.3 6.3 2.8 6.1 3.5 5.6 4 5.1 4.5 4.9 5.3 4.2 5.7 3.7 6 3.1 6.5 2.6 7 1.8 7 1.3 7.5 .6 8-.1 8.5-.7 8-1.4 7.5-1.9 7-2.7 7-3.5 6.8-4 6.2-4.5 5.6-5.4 5.4-5.6 4.6-6 3.9-6.5 3.3-6.5 2.5-7 1.9-7.5 1.3-7.5 .5-8-.1-7.5-.8-7-1.4-7-2.2-6.5-2.8-6-3.3-6-4.1-5.5-4.8-4.8-5-4.5-6-3.7-6-3.2-6.5-2.6-7-2-7.5-1.2-7.5-.6-8 .1-9 .8-8 1.4-7.5 2.2-7.5 2.9-7 3.4-6.5 4-6 4.8-5.8 5.4-5.2 5.7-4.5 6.4-4 6.5-3.1 7-2.5 7.5-1.9z"/><path fill="#feaa74" d="M519.2 418.3l6.4-.5 7.5 .1 6 .6 7.5 1.4 7 2 6 2.5 5.5 2.9 6 4.1 5.3 4.4 4.7 4.9 4.4 5.6 3.5 5.5 3.5 7 2.4 6.5 1.6 5.5 1.5 8 .6 7.5 .1 8-.6 8-1.1 6.5-1.5 6-2.5 7-3.1 6.5-3.9 6.5-4.2 5.5-4.7 5-5.2 4.5-5.8 4-6 3.3-6 2.6-6.5 2-7.5 1.5-7 .7-7.5 .1-7-.6-7-1.2-6-1.6-6.5-2.4-6-3-6.1-3.9-5.4-4.3-4.8-4.7-4.1-5-4.1-6-3.4-6.5-2.5-6-2-6.5-1.5-7.5-.8-7.5-.2-8 .5-8.5 1-6.5 1.9-8 2.6-7 2.9-6.1 3.6-5.9 4.4-5.8 5-5.3 5.5-4.7 6-4 7-3.7 6.5-2.5 7-1.9z"/><path fill="#fea16e" d="M520.5 420.3l7.1-.4 7.5 .3 6.5 .8 6.5 1.5 6 1.9 6 2.7 5.7 3.2 5.3 3.8 5 4.4 4.5 4.8 4 5.4 3.4 5.6 2.8 6 2.3 6.2 1.7 6.3 1.2 7 .6 7.5 0 8-.6 7-1.3 7-1.7 6.5-2.5 6.5-2.9 6-3.8 6-4.2 5.3-4.5 4.7-5.4 4.5-5.6 3.8-6 3.1-6 2.4-6.5 1.9-7 1.3-7 .5-7.5 0-7-.7-6.5-1.3-6.5-1.9-6-2.5-6-3.3-5.5-3.7-5-4.3-4.5-4.7-4-5.1-3.5-5.5-3-6-2.5-6.5-1.9-7-1.3-7-.6-7.5 0-8 .6-7.5 1.3-7 2-7 2.5-6.5 3.3-6.5 3.6-5.5 4.5-5.5 5-5 5.5-4.3 5.5-3.5 6-3 6.5-2.4 7-1.8z"/><path fill="#fd9869" d="M520.7 422.3l6.9-.4 7 .3 6.5 .8 6 1.3 6 1.9 6 2.6 5.5 3.2 5 3.5 4.9 4.3 4.2 4.5 3.9 5.1 3.5 5.7 3 6.2 2.2 6 1.7 6.5 1.1 6.5 .6 7 0 7.5-.6 7-1.3 7-1.8 6.5-2.5 6.5-3 6-3.5 5.5-4 5-4.4 4.6-5 4.2-5.5 3.7-6 3.1-6 2.4-6.5 1.8-6.5 1.2-6.5 .5-7.5 0-6.5-.7-6.5-1.2-6-1.8-6-2.5-6-3.3-5.2-3.5-4.8-4.1-4.5-4.7-4-5.2-3.5-5.6-2.9-5.9-2.5-6.5-1.7-6.5-1.2-7-.6-7.5 .1-7.5 .6-7 1.3-7 1.9-6.5 2.6-6.5 3.1-6 3.6-5.5 4.2-5.1 4.9-4.9 5.1-4 5.5-3.5 6-3 6.5-2.4 6.5-1.6z"/><path fill="#fc8c63" d="M526 424.3l6.6 .1 6.5 .6 6 1.2 6 1.8 5.5 2.3 5.6 3 5.1 3.5 4.8 4.1 4.3 4.4 3.9 5 3.3 5.2 2.9 5.8 2.3 6 1.9 6.5 1.1 6.5 .6 6.5 .1 7-.6 7-1.1 6.5-1.7 6.5-2.3 6-2.9 6-3.5 5.5-3.8 4.9-4.4 4.6-4.6 4-5.5 3.7-5.5 3-6 2.4-6 1.8-6 1.1-6.5 .7-6.5 0-6.5-.5-6.5-1.2-6-1.8-6-2.4-5.5-2.9-5.1-3.4-4.9-4.1-4.5-4.6-4-5.1-3.5-5.6-2.8-5.6-2.3-6-1.8-6.5-1.2-6.5-.5-6.5-.1-7 .6-7 1.1-6.5 1.8-6.5 2.3-6 2.9-6 3.5-5.5 4-5.1 4.3-4.4 4.7-4 5.5-3.7 5.5-2.9 6-2.4 6-1.8 6.5-1.2z"/><path fill="#fb835f" d="M526.5 427.3l6.6 .1 6 .7 6 1.3 5.5 1.7 5.5 2.4 5 2.8 5 3.5 4.5 4 4.2 4.5 3.8 4.9 3.1 5.1 2.7 5.5 2 5.5 1.7 6 1 6 .6 6.5-.1 6.5-.6 6.5-1.1 6-1.7 6-2.3 6-2.7 5.5-3.2 5-3.9 5-4.3 4.5-4.7 3.9-5 3.4-5.1 2.7-5.4 2.2-6 1.8-6 1.1-6.5 .6-6.5-.1-6-.6-6-1.2-5.9-1.8-5.6-2.4-5-2.7-5-3.5-4.5-3.9-4.3-4.5-3.7-4.9-3.2-5.1-2.7-5.5-2.2-6-1.6-6-1-6-.6-6.5 .1-6.5 .5-6.5 1.3-6.5 1.7-6 2.4-6 2.8-5.5 3.3-5 3.7-4.7 4.2-4.3 4.8-3.9 5-3.4 5.5-2.8 5.5-2.2 6-1.7 6-1z"/><path fill="#f9785d" d="M523.6 430.3l6-.2 6 .4 5.5 .8 5.5 1.5 5.5 2 5 2.5 4.9 3 4.5 3.5 4.2 4 3.8 4.5 3.2 4.5 2.9 5.2 2.3 5.3 1.9 5.5 1.3 6 .8 6 .2 6.5-.3 6-.8 6-1.5 6-1.9 5.5-2.5 5.5-3 5.1-3.5 4.9-4 4.5-4 3.7-4.5 3.4-5 3-5 2.4-5.5 1.9-5.5 1.4-6 .8-6 .2-6-.3-5.5-.8-5.5-1.3-5.5-2-5-2.4-5-3-4.5-3.5-4.3-4-3.7-4.3-3.5-5-2.9-5.2-2.5-5.5-1.8-5.5-1.3-6-.8-6-.3-6.5 .4-6 .8-6 1.4-6 1.9-5.5 2.5-5.5 3.1-5.3 3.4-4.7 4-4.5 4.1-3.7 4.5-3.4 5-3 5.5-2.5 5.5-1.9 5.5-1.2z"/><path fill="#f66e5c" d="M524.3 432.8l5.8-.2 5.5 .4 5.5 .9 5.5 1.5 5 1.9 5 2.6 4.6 2.9 4.4 3.5 4 3.9 3.4 4.1 3.1 4.5 2.8 5 2.1 5 1.8 5.5 1.2 5.5 .7 6 .2 6-.4 5.5-.9 6-1.4 5.5-2 5.5-2.4 5-3 5-3.2 4.3-3.7 4.2-4.3 3.9-4.5 3.3-4.5 2.6-5 2.3-5.5 1.9-5.5 1.3-5.5 .7-6 .2-5.5-.4-5.5-.9-5-1.4-5-1.8-5-2.5-4.5-2.9-4.5-3.5-3.9-3.8-3.6-4.2-3-4.3-3-5.4-2.2-5.1-1.7-5.5-1.2-5.5-.8-6-.1-6 .4-6 .8-5.5 1.4-5.5 1.9-5.5 2.4-5 2.9-5 3.4-4.5 3.8-4.2 4-3.7 4.5-3.3 4.8-2.8 5.2-2.3 5-1.7 5.5-1.3z"/><path fill="#f3655c" d="M523.8 435.3l5.3-.2 5.5 .2 5.5 .9 5 1.3 5 1.8 5 2.5 4.5 2.8 4 3.1 3.8 3.6 3.5 4 3.2 4.5 2.5 4.5 2.1 4.5 2 6 1 4.5 .9 6 .2 6-.4 5.5-.7 5-1.5 6-1.9 5-2.1 4.5-2.6 4.5-3.3 4.5-3.5 4-3.8 3.5-4.4 3.4-4.5 2.7-4.5 2.2-5 1.8-6 1.5-5 .7-5.5 .2-5.5-.3-5-.8-5-1.3-5-1.8-4.7-2.3-4.3-2.6-4.4-3.4-4.1-3.9-3.5-4.1-3.1-4.5-2.5-4.5-2-4.5-1.8-5.5-1.2-5-.7-5.5-.3-6 .3-5.5 .7-5 1.5-6 1.8-5 2.3-5 2.6-4.5 2.9-4 3.5-4.1 4-3.7 4.5-3.4 4.5-2.7 4.5-2.2 5.5-2 5-1.2z"/><path fill="#ef5d5e" d="M522.3 437.3l5.3-.4 5 .1 5 .5 5 1.1 5 1.6 4.5 2 4.5 2.5 4.4 3.1 3.6 3.1 3.7 3.9 3.1 4 2.8 4.5 2.3 4.5 1.9 5 1.4 5 1 5.5 .4 5.5-.1 5.5-.7 5.5-1.1 5-1.6 5-2.1 5-2.5 4.5-3 4.4-3.5 4.1-3.5 3.5-4 3.2-4.5 2.9-4.5 2.3-5 2-5 1.4-5 .8-5 .4-5.5-.2-5-.6-5-1.1-5-1.7-4.5-2.1-4-2.3-4.2-3-3.8-3.3-3.5-3.8-3-3.9-2.8-4.5-2.2-4.5-1.9-5-1.4-5-1-5.5-.4-5 .1-5.5 .6-5.5 1-5 1.5-5 2.1-5 2.4-4.6 3-4.5 3.2-3.9 3.8-3.8 4-3.2 4.5-3 4.5-2.3 4.5-1.8 5-1.5z"/><path fill="#e95462" d="M526.2 438.8l4.9-.1 5 .5 5 .9 4.5 1.3 4.5 1.9 4.5 2.3 4.1 2.7 3.9 3.2 3.5 3.5 3.1 3.8 2.9 4.3 2.5 4.7 1.9 4.5 1.5 5 1 5 .5 5 0 5-.4 5-.9 5-1.4 5-2 5-2.3 4.5-2.9 4.4-3 3.8-3.5 3.7-4 3.4-4 2.7-4.5 2.5-4.5 1.9-4.5 1.4-5 1.1-5 .5-5 0-5-.5-5-1-4.5-1.3-4.5-1.9-4.5-2.4-4-2.8-3.6-3-3.5-3.5-3.2-4-2.9-4.5-2.3-4.4-1.9-4.6-1.4-5-1-5-.5-5 0-5 .5-5 .9-5 1.4-5 1.8-4.5 2.3-4.5 2.8-4.5 3.1-3.9 3.4-3.6 3.6-3.1 4-2.8 4.5-2.5 4.5-2 5-1.6 5-1z"/><path fill="#e34e65" d="M525.4 440.8l4.7-.2 5 .4 4.5 .7 4.5 1.2 4.5 1.8 4.3 2.1 3.9 2.5 3.9 3 3.4 3.3 3.2 3.7 2.8 4 2.5 4.4 2 4.6 1.5 4.5 1 4.5 .6 5 .1 5-.3 5-.9 5-1.2 4.5-1.7 4.5-2.2 4.5-2.5 4-3.1 4-3.3 3.6-3.5 3.1-4 2.9-4 2.3-4.5 2.1-4.5 1.5-4.5 1-5 .7-5 .1-4.5-.4-4.5-.7-4.5-1.3-4.5-1.7-4.2-2.2-3.9-2.5-3.9-3.1-3.5-3.4-3-3.5-2.7-4-2.5-4.5-1.9-4.5-1.5-4.5-1-4.5-.6-5-.1-5 .3-5 .9-5 1.2-4.5 1.7-4.5 2.2-4.5 2.5-4 3-3.9 3.3-3.6 3.4-3 3.8-2.8 4-2.4 4.5-2 4.5-1.6 4.5-1.1z"/><path fill="#db476a" d="M526.3 442.8l4.3-.1 4.5 .3 4.5 .8 4.5 1.3 4.5 1.8 4 2 4 2.7 3.5 2.8 3.5 3.4 2.9 3.5 2.6 3.9 2.2 4.1 1.9 4.5 1.4 4.5 .9 4.5 .5 4.5 0 5-.4 4.5-.9 4.5-1.3 4.5-1.8 4.4-2.1 4.1-2.6 4-2.8 3.5-3 3.1-3.5 3.1-4 2.8-4 2.2-4.5 2-4.5 1.4-4.5 .9-4.5 .5-4.5 0-4.5-.4-4.5-.9-4.5-1.4-4-1.7-4-2.2-3.6-2.4-3.6-3-3.3-3.3-3-3.7-2.3-3.5-2.2-4.1-1.9-4.4-1.3-4.5-.9-4.5-.5-4.5-.1-5 .4-4.5 .9-4.5 1.3-4.5 1.7-4.5 2.1-4 2.6-4 2.7-3.5 3.4-3.5 3.5-3 3.6-2.5 4-2.3 4-1.7 4.5-1.5 4.5-1z"/><path fill="#d3436e" d="M526.5 445.3l4.1-.1 4.5 .3 4.5 .8 4 1.2 4 1.5 4 2.1 3.5 2.3 3.5 2.8 3.2 3.1 2.8 3.3 2.5 3.7 2.2 4 1.7 4 1.4 4.5 .8 4 .5 4.5 .1 4.5-.4 4.5-.9 4.5-1.2 4-1.6 4-2.1 4-2.2 3.5-2.8 3.5-3 3.1-3.5 3-3.5 2.5-4 2.2-4 1.7-4 1.3-4 .9-4.5 .5-4.5 0-4-.3-4.5-.9-4-1.2-4-1.6-3.5-1.8-3.6-2.4-3.4-2.7-3-2.9-2.8-3.4-2.4-3.5-2.3-4-1.7-4-1.4-4.5-.9-4-.5-4.5-.1-4.5 .4-4.5 .8-4.5 1.1-4 1.6-4 2-4 2.2-3.5 2.7-3.5 2.8-3.1 3.5-3 3.5-2.5 4-2.3 4-1.8 4-1.3 4-.9z"/><path fill="#cc3f71" d="M527.6 447.8l4 0 4 .3 4 .8 4 1.2 4 1.7 3.5 1.8 3.5 2.4 3 2.5 2.8 2.8 2.7 3.2 2.5 3.8 1.9 3.5 1.6 4 1.2 4 .8 3.9 .4 4.1 0 4-.4 4.1-.8 3.9-1.2 4.1-1.6 3.9-1.9 3.6-2.2 3.4-2.8 3.5-3 3-3 2.5-3.5 2.4-3.5 1.9-4 1.7-4 1.2-4 .8-4 .4-4 0-4-.4-4-.8-4-1.2-4-1.8-3.5-1.9-3.4-2.3-2.9-2.5-3-3-2.4-3-2.3-3.5-1.9-3.5-1.6-4-1.2-4-.8-4-.4-4 0-4.5 .4-4 .8-4 1.2-4 1.7-4 1.8-3.5 2.3-3.5 2.5-3 2.9-3 3.3-2.8 3.5-2.3 3.5-1.9 3.5-1.5 4-1.3 4-.8z"/><path fill="#c23b75" d="M527.1 450.8l4-.1 3.5 .2 4 .7 3.5 1 3.5 1.4 3.5 1.7 3.3 2.1 3.1 2.5 2.6 2.5 2.6 3 2.1 3 1.9 3.5 1.6 3.5 1.3 4 .8 3.5 .5 4 0 3.5-.3 4-.8 4-1 3.5-1.4 3.5-1.8 3.5-2 3.1-2.5 3.2-2.6 2.7-2.9 2.5-3 2.1-3.5 2-3.5 1.5-3.5 1.2-3.5 .8-4 .5-4 .1-3.5-.3-4-.8-3.5-1-3.5-1.3-3.5-1.9-3-1.9-3.1-2.5-2.6-2.5-2.5-3-2.1-3-2-3.5-1.5-3.5-1.3-4-.8-3.5-.4-4-.1-4 .3-3.5 .8-4 1-3.5 1.4-3.5 1.8-3.5 1.9-3 2.3-3 2.4-2.5 3-2.7 3-2.2 3.5-2 3.5-1.6 3.5-1.1 3.5-.9z"/><path fill="#ba3878" d="M527.2 453.8l3.4-.1 3.5 .2 3.5 .5 3.5 .9 3 1.1 3.5 1.8 3 1.8 2.5 1.9 2.6 2.4 2.4 2.7 2 2.7 2 3.3 1.5 3.1 1.5 4.2 .7 3 .5 3.5 .1 3-.2 3.5-.6 3.3-1 3.7-1.5 3.8-1.5 2.9-2 3.2-2 2.6-2.5 2.7-2.5 2.2-2.9 2.1-3.1 1.8-3 1.4-3.5 1.2-3.5 .9-3.5 .4-3.5 .2-3.5-.3-3.8-.6-3.2-.9-3.5-1.4-3-1.5-3-1.9-2.5-1.9-2.5-2.4-2.5-2.8-2.2-3.2-1.7-3-1.4-3-1.2-3.5-.9-4-.4-3-.1-3.5 .4-4 .5-3 1-3.3 1.5-3.7 1.5-2.9 2-3.1 2-2.5 2.3-2.5 2.7-2.4 3-2.1 3-1.7 3.5-1.6 3-1 3-.7z"/><path fill="#b2357b" d="M527.7 457.3l3.4-.1 3 .2 3 .4 3 .8 3 1.1 3 1.5 2.7 1.6 2.6 2 2.7 2.5 2 2.3 1.9 2.7 1.8 3 1.4 3 1.1 3 .7 3 .4 3 .1 3-.3 3-.6 3-.9 3-1.3 3-1.6 3-1.7 2.6-2 2.5-2.3 2.4-2.3 2-2.4 1.7-3 1.8-3 1.3-3 1-3 .7-3 .4-3.5 .1-3-.3-3-.5-3-.8-3-1.1-2.7-1.3-2.8-1.8-2.5-1.9-2.5-2.3-2.2-2.5-1.8-2.5-1.7-3-1.4-3-1.1-3-.7-3-.5-3-.1-3 .3-3 .5-3 .9-3 1.3-3 1.5-3 2-3 2-2.5 2-2.1 2.5-2.1 2.5-1.8 3-1.7 2.5-1.1 3-1.1 3-.7z"/><path fill="#a8327d" d="M527.3 460.8l2.8-.2 3 .1 3 .4 2.5 .6 2.5 .8 2.5 1.1 2.5 1.3 2.5 1.8 2.5 2.1 1.9 2 2 2.5 1.6 2.3 1.5 2.7 1.1 2.5 .9 3 .5 2.5 .2 3-.1 2.5-.5 2.5-.7 2.5-1 2.5-1.4 2.7-1.8 2.8-1.7 2.3-2 2.1-2.3 2.1-2.2 1.6-2.5 1.6-2.5 1.2-2.5 .9-2.5 .7-3 .5-3 .2-3-.1-3-.5-2.5-.6-2.5-.8-2.6-1.2-2.4-1.4-2.5-1.8-2.5-2.2-2-2.1-1.9-2.5-1.6-2.5-1.3-2.5-1.2-2.8-.8-2.7-.4-2.5-.2-2.5 .2-2.5 .4-2.5 .9-3 1-2.5 1.4-2.6 1.6-2.4 1.9-2.5 2-2.1 2-1.8 2.1-1.6 2.4-1.5 2.5-1.2 2.5-1 3-.8z"/><path fill="#a02f7f" d="M527.8 464.8l4.8-.2 2.5 .3 2.5 .5 2.5 .8 2.5 1.1 4.5 2.8 4 3.5 1.9 2.2 1.4 2 1.5 2.5 .9 2 .6 2 .5 2.5 .2 2.5-.1 2-1 4-1.9 4.1-1.5 2.3-1.5 1.8-4 3.8-4 2.8-4.5 2-2.5 .8-2.5 .5-2.5 .2-2.5 0-2.5-.3-2.5-.5-4.5-1.6-4.5-2.7-2.5-1.9-2-1.9-2-2.1-1.5-2-1.4-2.3-1.1-2.5-.7-2-.5-2.5 0-4 .5-2.5 .6-2 .8-2 1.3-2.3 1.5-2.2 1.5-1.8 4-3.7 4.5-3 4.5-1.9z"/><path fill="#982d80" d="M527.6 468.8l4.5-.2 4 .5 4.5 1.4 4 2.1 4 3.1 3 3.3 1.3 1.8 1 2 1.2 3.5 .2 3.5-.6 3.5-1.5 3.5-2.1 3.1-3 3.1-4 2.9-4 2-4 1.2-4.5 .5-4.5-.3-4.5-1.2-2-.8-2.5-1.3-4-2.9-2-2-1.5-1.7-2.2-3.6-.9-2-.5-2-.2-3.5 .6-3.5 1.5-3.5 2.7-3.7 3.5-3.3 4-2.6 4-1.8z"/><path fill="#8e2a81" d="M530.1 471.8l4 .2 4 .9 4 1.6 3.5 2.2 3 2.6 2.3 3 1.4 3 .6 3-.2 3-1.1 3.3-2 3.1-2.5 2.6-3 2.2-4 2.1-3.5 1.1-4 .7-4-.1-4-.8-4-1.5-3.5-2.1-3.2-2.6-2.5-3-1.5-3-.5-2-.2-1.5 .2-3 1-3 1.8-3 2.9-3 3-2.2 4-2 4-1.3z"/><path fill="#862781" d="M529.8 474.3l3.8 .1 3.5 .7 3.5 1.2 3 1.6 2.5 1.9 2.3 2.5 1.5 2.5 .8 2.5 .1 2.5-.5 2.5-1.1 2.5-2 2.5-2.6 2.3-3 1.8-3 1.3-3.5 .9-4 .3-3.5-.2-4-1-3.5-1.5-3.5-2.3-2.5-2.5-1.7-2.6-1-3-.1-3 .7-2.5 1.7-3 2.3-2.5 3.1-2.2 3-1.5 3.5-1.2z"/><path fill="#7e2482" d="M528.4 476.3l2.7-.2 3 .3 2.5 .4 2.5 .8 2.5 1.2 2.4 1.5 1.7 1.5 1.6 2 .9 1.5 .6 2 .2 2-.3 2-.7 2-1.3 2-1.6 1.7-2 1.5-3.5 1.9-4 1.2-4 .4-4-.2-4-1-3.5-1.6-3-2.1-1.3-1.3-1.1-1.5-1.2-2.5-.3-1.5-.1-1.5 .2-1.5 .4-1.5 1.4-2.5 2.4-2.5 3.1-2.1 4-1.6z"/><path fill="#752181" d="M528.4 477.8l2.2-.2 2.5 .1 2.5 .4 2.5 .7 2 .9 2 1.1 2 1.5 1.3 1.5 1 1.5 .6 1.5 .3 1.5 0 2-.6 2-.8 1.5-1.2 1.5-1.6 1.4-3 1.8-3.5 1.3-3.5 .7-4 0-3.5-.6-3.5-1.3-3-1.8-2.5-2.5-1.4-2.5-.5-2.5 .4-2.5 1.2-2.5 2.3-2.5 2.5-1.7 3.5-1.5z"/><path fill="#6d1d81" d="M527 479.3l4.1-.4 2.5 .1 2 .4 2 .6 2 .8 3 2 1 1 1.2 1.5 .7 1.5 .3 1.5 0 1.5-.3 1.5-.7 1.5-1.1 1.5-2.3 2-2.8 1.5-3 1-3.5 .5-3.5-.1-3.5-.8-3-1.2-2.7-1.9-1.8-2-1.2-2.5-.1-2.5 .8-2.5 1.5-2.2 2.2-1.8 2.8-1.5z"/><path fill="#651a80" d="M527.5 480.3l4.1-.3 4 .5 3.5 1.3 2.8 2 1 1 .9 1.5 .4 1 .3 1.5-.1 1.5-.3 1-.8 1.5-.8 1-1.9 1.7-3 1.5-3 .9-3 .3-3.5-.2-3-.7-3-1.4-2-1.6-1.6-2-.8-2 0-2 .6-2 1.4-2 1.9-1.6 3-1.6z"/><path fill="#5c167f" d="M527.5 481.3l3.6-.4 3.5 .4 3.5 1.2 2.5 1.6 1.1 1.2 .7 1 .7 2 .1 1-.3 1.5-.4 1-.9 1.3-1.9 1.7-2.1 1.1-2.5 .9-3 .4-3 0-3-.7-2.5-1-2-1.3-1.5-1.6-.9-1.8-.3-2 .5-2 1.4-2 1.8-1.5 2.5-1.3z"/><path fill="#54137d" d="M527.3 482.3l2.8-.4 3.5 .1 3 .9 2.5 1.3 1.2 1.1 .8 1 .8 2-.1 2-1 2-1.7 1.7-2 1.1-2.5 .9-2 .3-2.5 0-2.5-.3-2.5-.8-2-1.2-1.8-1.7-.8-1.5-.3-2 .3-1.5 .9-1.5 1.7-1.6 2-1.2z"/><path fill="#4c117a" d="M528.6 482.8l3-.2 3 .4 2.5 1 1.9 1.3 1.2 1.5 .7 2-.4 2-.9 1.5-1.5 1.3-2 1.1-2 .6-2.5 .3-2.5-.1-2-.4-2-.8-2-1.4-1.3-1.6-.5-1.5 0-1.5 .6-1.5 1.2-1.5 1.5-1.1 2-.9z"/><path fill="#420f75" d="M530.7 483.3l2.4 .2 2.5 .6 2.1 1.2 1.4 1.5 .7 1.5 0 1-.2 1-.8 1.5-1.7 1.5-1.5 .8-2 .6-2 .2-2.5-.1-2-.5-1.5-.7-1.5-1-1.2-1.3-.6-1.5 0-1.5 .7-1.5 .8-1 1.4-1 1.9-.9 2-.5z"/><path fill="#390f6e" d="M528.3 484.3l2.3-.3 2 .1 2 .4 2 1 1.4 1.3 .7 1.5 .1 1.5-.7 1.5-1 1-1.5 1-1.5 .5-2 .4-2 0-2-.4-1.5-.5-1.5-.9-1.1-1.1-.5-1-.2-1.5 .2-1 .6-1 1-1 1.5-.9z"/><path fill="#311165" d="M529.1 484.8l2-.2 2 .2 2 .7 1.3 .8 .9 1 .6 1.5-.3 1.5-.6 1-1.2 1-1.2 .6-1.5 .5-1.5 .2-2-.1-1.5-.4-1.5-.6-1-.7-.9-1-.4-1-.1-1 .3-1 .7-1 1.2-1 1.2-.6z"/><path fill="#271258" d="M529.9 485.3l1.7-.1 2 .4 1.5 .7 1 .8 .7 1.2 .2 1-.3 1-.8 1-.8 .6-1.5 .7-2.5 .4-1.5-.1-1.5-.4-1.9-1.2-1-1.5 0-1 .3-1 .8-1 .8-.6 1.5-.6z"/><path fill="#20114b" d="M528.5 486.3l1.1-.3 1.5-.2 1.5 .2 1.5 .5 1.1 .8 .7 1 .1 1-.3 1-1.1 1.1-2 .8-2.5 .1-2-.6-1-.6-.7-.8-.2-.5-.1-1 .4-1 .4-.5z"/><path fill="#19103f" d="M528.9 486.8l1.2-.4 1 0 1 .1 1.5 .5 1 .7 .4 .6 .2 1-.2 .5-.8 1-1.6 .8-2.5 .1-1.5-.4-1.3-1-.4-1 0-.5 .7-1.2z"/><path fill="#130d34" d="M528.9 487.3l1.2-.4 1-.1 2 .5 1.2 1 .2 .5-.1 1-1 1-1.3 .5-1.5 .1-1.5-.4-1-.7-.5-1 .2-1z"/><path fill="#0c0926" d="M530.1 487.3l1.5-.1 1.6 .6 .7 1-.1 1-.7 .6-1.5 .6-1.5-.1-1.3-.6-.5-.5-.1-1 .7-1z"/><path fill="#07061c" d="M529.9 487.8l1.2-.2 1.5 .4 .7 .8 .1 .5-.3 .5-.6 .5-.9 .3-1 0-1-.3-.6-.5-.3-.5 .1-.5 .3-.5z"/><path fill="#030312" d="M529.9 488.3l1.2-.3 1 .3 .6 .5 0 .5-.4 .5-.7 .3-1.5-.1-.7-.7 0-.5z"/><path fill="#010106" d="M530.3 488.8l.8-.3 .5 .2 .2 .1 .1 .5-.8 .4-.5-.1-.4-.3z"/></g></g>
<mask id="ms3" maskUnits="userSpaceOnUse" x="637.2" y="391.3" width="98.6" height="196.8"><g filter="url(#nz)" fill="#fff"><path fill-opacity="0.055" d="M686.1 396.3l.6-.3 1 1.3 3.5 3.8 5 4.2 .1 .5-1.1 1.2-.7 1.8-.1 2.5 .3 4.5 1 7.2 2.3 9.8 2.5 13.5 2.1 8.5 2.6 14 .1 12 .4 8.5-.4 8-.1 12-2.6 14-2.2 9-2.4 13-2.3 9.9-1 7.6-.2 6.5 .5 1.5 1.4 2-4.7 3.8-3.5 3.7-1.5 1.9-.5-.1-1-1.4-4.5-4.7-4-3.2 1.3-2 .5-1.5 .1-2.5-.4-5-1-7-2.2-9.5-2.4-13-2.2-9-2.6-14-.1-12.5-.4-7.5 .4-7.5 .1-13 2.5-13.5 2.3-9.5 2.3-12.5 2.3-10 1-6.9 .4-5.1-.1-2.5-.8-2-1-1 .1-.5 4.4-3.6z"/><path fill-opacity="0.063" d="M686.6 397.3l1.8 2 2.3 3.2 2.8 2.8 .1 .5-.6 1-.4 2 .6 6.6 1.1 7.4 2.3 10 2.2 13 2.1 9.5 2.2 13 .3 10.5 1.3 10.5-1.3 10-.3 10.5-2.1 13-2.1 9.5-2.3 13-2.2 10-1.2 7.5-.6 6.5 .3 1.5 .7 2-3.4 3.4-3.5 4.7-.5-.1-3.5-4.7-3.3-3.3 .8-2 .2-1.5-.7-7.3-1-6.7-2.3-10-2.2-13-2.1-9.5-2.3-13.5-.2-10-1.3-10 1.3-10.5 .2-10 2.3-13.5 2.1-9.5 2.2-13 2.3-10 1-6.6 .7-7.4-.3-1.5-.7-1.5 .1-.5 3.2-3.2 3.5-4.7z"/><path fill-opacity="0.096" d="M686.1 398.3l.6-.2 .6 .7 1.9 3.4 2.6 3.1 .1 .5-.3 1-.1 2 .7 6.3 1.4 8.2 2 9.5 2.1 12.4 2.2 11.1 2 12.5 .3 8.5 1.9 12-1.9 11.5-.3 8.5-2 12.5-2.2 11.2-2.1 12.3-2.1 10-1.3 7.8-.7 6.2 .4 3.5-2.7 3.2-2.5 4.1-.5-.1-.5-.7-2-3.5-2.6-3 .4-3.5-.8-6.9-7.7-41.1-1.9-12-.4-9.2-1.8-10.8 1.8-11.1 .4-9.4 1.9-12 7.7-41 .9-7-.2-2-.3-1 .1-.5 2.5-2.9z"/><path fill-opacity="0.138" d="M686 399.3l.2-.3 .5-.2 1.5 3.4 2.4 3.6-.1 3 .7 5.2 1.5 8.7 2.2 10.6 3.9 22 1.9 13.5 .5 7.3 2.3 13.2-2.3 12.8-.4 7.2-2 13.5-3.9 22-2.2 10.7-1.5 8.7-.7 5.1 0 3.5-2.3 3.2-1.5 3.4-.5-.2-1.5-3.3-2.2-3.1 .1-3-.4-3-7.9-43.5-2.1-14-.5-7.9-2.2-12.1 .4-3.5 1.8-9 .6-8 2-14 7.9-43.4 .4-3.6-.2-2 2.3-3.5z"/><path fill-opacity="0.181" d="M686.5 400.3l.2-.1 1 2.5 1.8 3.1 .7 6.3 4.1 21.2 3.7 22 1.8 13.5 .4 5 2.3 12 .5 3.5-2.8 15-.3 5-2 14-3.6 21.5-4.1 21.3-.7 6.2-1.8 3.2-1 2.5-.5-.3-1-2.4-1.6-3-.9-6.8-3.9-20.2-3.7-22-2-14-.4-5.6-2.7-14.4 .4-3 2.3-11.8 .5-5.7 1.8-13.5 3.8-22.5 3.9-20.1 .8-6.9 1.7-2.9 1-2.4z"/><path fill-opacity="0.230" d="M686.2 402.3l.5-.3 1.9 3.8 5.1 27.5 3.6 22 2.4 19.3 2.3 10.7 .6 4-2.9 14.3-2.4 19.2-3.7 22.5-5 27-1.9 3.9-.5-.2-1.8-3.7-5-27-3.6-22-2.6-20-2.8-14 .5-3.5 2.3-10.6 2.5-19.9 3.7-22.5 5-27z"/><path fill-opacity="0.299" d="M686.2 403.8l.5-.2 1.1 2.2 5.3 27 3.5 22.5 2.4 18.5 2.7 12 .5 3.5-.5 3-2.7 12-2.4 19-3.4 22-5 25.3-.6 2.2-.9 1.8-.5-.2-.8-1.6-.4-1.5-5.2-26-3.4-22-2.4-19-2.3-10-.9-5 .4-3 2.8-12.5 2.4-18.5 3.5-22.5 4.8-24.7 .5-2.3z"/><path fill-opacity="0.410" d="M686.6 405.3l.6 1 1 3.9 4.5 22.8 3.3 21.8 2.3 18 2.5 12 .7 4.5-3.2 16-2.3 18-3.3 21.9-4.5 22.8-1 3.8-.5 1.1-.5-.1-.2-.5-.9-3-4.8-24-3.3-22-2.2-17.5-3.3-16.5 .7-4.5 2.6-12.5 2.2-17.5 3.3-21.5 4.8-24.5 .9-3 .2-.4z"/><path fill-opacity="0.583" d="M686.1 407.8l.1-.3 .5-.2 1 3.2 4.5 22.6 3 20.8 2.2 17.4 2.8 14.1 .6 3.9-3.4 17.5-2.2 17.5-3 20.8-4 20.4-1.5 5.4-.5-.2-1-3.4-4.4-22.5-3.1-21.2-2.2-17.3-3.3-17 .5-3.4 2.8-14.1 5.2-38 3.5-18.3z"/><path fill-opacity="1.000" d="M686.2 410.3l.5-.3 1 3.4 3.5 17.8 2.5 17.4 1.7 14.7 1.5 10.5 2.3 11.3 .6 4.2-2.9 15-5.2 39.8-3 16.1-2 8-.5-.2-1-3.7-3.5-17.8-2-13.8-2.2-18.4-1.5-10.5-2.8-14.5 .5-3.8 2.3-11.2 1.5-10 2.2-18.8 2-13.8 2.5-13.2z"/></g></mask>
<g mask="url(#ms3)"><g filter="url(#bl)"><path fill="#fec488" d="M686.7 392.8l0 1.5 5 5 .5 0 1.5 1.5 .5 0 1 1 .5 0 1 1 .5 0 .5 .5 .5 0 .5 .5 .5 0 1 1 .5 0 .5 .5 .5 0 0 .5-.5 0-.5 .5-.5 0-2 2 0 1-.5 .5 0 10.5 .5 .5 0 3 .5 .5 0 1 .5 .5 0 1.5 .5 .5 0 1.5 .5 .5 0 1.5 .5 .5 0 2 .5 .5 0 1.5 .5 .5 0 2 .5 .5 0 2 .5 .5 0 2.5 .5 .5 0 1.5 .5 .5 0 1.5 .5 .5 0 1 .5 .5 0 1 .5 .5 0 1.5 .5 .5 0 1 .5 .5 0 1.5 .5 .5 0 1.5 .5 .5 0 2 .5 .5 0 1.5 .5 .5 0 2 .5 .5 0 1.5 .5 .5 0 17-.5 .5 0 7.5 .5 .5 0 17-.5 .5 0 1.5-.5 .5 0 2-.5 .5 0 1.5-.5 .5 0 2-.5 .5 0 1.5-.5 .5 0 1.5-.5 .5 0 1.5-.5 .5 0 1-.5 .5 0 1-.5 .5 0 1-.5 .5 0 1.5-.5 .5 0 2-.5 .5 0 2-.5 .5 0 2-.5 .5 0 2-.5 .5 0 2-.5 .5 0 1.5-.5 .5 0 1.5-.5 .5 0 1.5-.5 .5 0 1.5-.5 .5 0 1.5-.5 .5 0 2.5-.5 .5 0 11 .5 .5 0 .5 2 2 .5 0 .5 .5 .5 0 .5 .5-.5 0-.5 .5-.5 0-.5 .5-.5 0-.5 .5-.5 0-.5 .5-.5 0-1 1-.5 0-1 1-.5 0-1 1-.5 0-1.5 1.5-.5 0-4 4 0 .5-.5 .5 0 1-.5-.5 0-1-5-5-.5 0-1-1-.5 0-1.5-1.5-.5 0-.5-.5-.5 0-1-1-.5 0-.5-.5-.5 0-.5-.5-.5 0-1-1-.5 0 .5-.5 .5 0 .5-.5 2-2 0-.5 .5-.5 0-12-.5-.5 0-2-.5-.5 0-1.5-.5-.5 0-1.5-.5-.5 0-1.5-.5-.5 0-1.5-.5-.5 0-1.5-.5-.5 0-2-.5-.5 0-2-.5-.5 0-2-.5-.5 0-2-.5-.5 0-2-.5-.5 0-1-.5-.5 0-1-.5-.5 0-1.5-.5-.5 0-1-.5-.5 0-1-.5-.5 0-2-.5-.5 0-1.5-.5-.5 0-2-.5-.5 0-1.5-.5-.5 0-2-.5-.5 0-1.5-.5-.5 0-11.5 .5-.5 0-17.5-.5-.5 0-11.5 .5-.5 0-1.5 .5-.5 0-2 .5-.5 0-1.5 .5-.5 0-2 .5-.5 0-1.5 .5-.5 0-1.5 .5-.5 0-1.5 .5-.5 0-1 .5-.5 0-1 .5-.5 0-1.5 .5-.5 0-1 .5-.5 0-1.5 .5-.5 0-2.5 .5-.5 0-2 .5-.5 0-2 .5-.5 0-1.5 .5-.5 0-2 .5-.5 0-1.5 .5-.5 0-1.5 .5-.5 0-1.5 .5-.5 0-1.5 .5-.5 0-2 .5-.5 0-12-.5-.5 0-.5-1-1-1-1-.5 0-.5-.5-.5 0 0-.5 .5 0 .5-.5 .5 0 .5-.5 .5 0 1-1 .5 0 .5-.5 .5 0 1-1 .5 0 1-1 .5 0 1.5-1.5 .5 0 1.5-1.5 .5 0 2-2 0-.5 1-1 0-1z"/><path fill="#feb67c" d="M686.6 403.8l1.1 2 .6 2.5 4.6 23 3.5 22.5 2.7 20.5 2.3 10 .7 5-.8 5-2.3 10-2.7 20.5-3.4 22-4.5 23-.7 2.5-1 2.1-.5-.1-1.1-2.5-5.1-25.5-3.5-22.5-2.3-18.3-.9-4.7-1.7-7-.7-4.5 .6-4.5 1.8-7.5 .9-4.6 2.3-18.4 3.5-22.5 4.5-23 .8-3 .9-1.9z"/><path fill="#fea973" d="M686.2 405.3l.5-.2 .4 .7 .8 3 4.8 24 3.3 22 2.3 17.5 2.7 13 .5 4-.6 4-2.6 12.5-2.3 17.5-3.3 22-4.5 22.9-.9 3.6-.6 1.3-.5-.2-.3-.6-.9-3-4.7-24-3.3-22-2.3-17.5-2.6-12.5-.6-4 .5-4 2.7-12.5 2.3-18 3.3-22 4.4-22.4 .9-3.6z"/><path fill="#fd9b6b" d="M686.2 406.8l.5-.2 1 3.2 4.6 23 3.2 22 2.2 17 2.8 14 .5 3.5-3.3 17-2.1 17-3.3 22-4 20.5-.9 4-.7 1.8-.5-.2-1.1-3.6-4.4-22.5-3.3-22-2.1-17-3.3-17 .5-3.5 2.8-14 2.2-17 3.1-21.5 4.1-20.9 .8-3.6z"/><path fill="#fc8e64" d="M686.4 408.3l.3-.1 .5 1.3 .7 2.8 4 20.5 3.2 22 1 9 1.1 7.5 1 6 1.9 9 .4 3-2.5 12.5-.9 5.5-2 16-3.1 22-3.4 17.5-1.2 5-.7 2.2-.5-.2-1-3.5-4.2-21-3.1-22-1-9-1.1-7.5-3.3-17.5 .4-3 1.9-9 1-6 1.1-7.5 1-9 3.2-22 3.9-20 .7-3 .5-1.4z"/><path fill="#fa815f" d="M686.6 409.8l.6 1.4 1.3 5.6 3.1 16 5.4 41 2.5 12.5 .4 3-2.9 15-5.4 41-3.1 16-1.2 5.5-.6 1.6-.5-.2-1-3.6-1.9-9.3-1.9-10-5.4-41-2.9-15 .4-3 2.5-12.5 5.4-41 1.9-10 1.9-9.2 1-3.6z"/><path fill="#f8745c" d="M686.1 411.8l.1-.2 .5-.2 1 3.5 1.7 7.9 1.8 10 1.8 13.5 3.4 27 .7 4.5 1.9 8.5 .4 3-3 15.5-1.3 9.5-2 17.5-1.9 13.5-2.6 14-1.4 6.1-.5 1.4-.5-.2-1-3.8-1.6-7.5-1.8-10-1.9-13.5-1.9-17-1.4-10-3-15.5 .4-3 1.9-8.5 .7-4.5 3.4-27 1.7-13 2.3-12.5z"/><path fill="#f4675c" d="M686.2 413.3l.5-.4 1 3.5 1.3 6.4 1.8 10 1.8 13.5 3.2 27 .8 4.5 1.8 8.5 .4 3-3 15.5-3.1 27-1.9 13.5-2.2 12.5-1.2 5-.7 2.5-.5-.2-1-3.8-1.3-6-1.7-10-1.9-13.5-3.1-27-3-15.5 .4-3 1.8-8.5 .8-4.5 3.2-27 1.7-13 1.9-10.5 1.2-6z"/><path fill="#ee5b5e" d="M686.2 414.8l.5-.3 .8 2.8 1.3 6 1.6 9.5 1.8 13.5 3 27 .8 4.5 2 9 .3 2.5-3 15.5-3.1 27-1.7 13.5-2 11-1.2 5.5-.6 1.9-.5-.2-1-3.8-2.7-14.4-1.7-13.5-3.1-27-3-15.5 .4-3 1.9-8.5 .8-4.5 3-27 1.7-13 1.8-10.5z"/><path fill="#e55064" d="M686.2 416.3l.5-.4 .7 2.4 1.1 5 1.6 9.5 1.7 13.5 2.9 27 .8 4.5 1.9 8.5 .4 3-3.1 15.5-2.9 27-1.7 13.5-1.7 10-1.2 5.5-.5 1.5-.5-.2-1-3.8-2.3-13-1.7-13.5-2.9-27-3.1-15.5 .3-2.5 2-9 .8-4.5 2.9-27 1.6-13 1.8-10.5z"/><path fill="#dc4869" d="M686.1 417.8l.1-.2 .5-.2 .5 1.5 1 4.4 1.5 9.5 1.7 13.5 2.7 27 .7 4 2.2 9.5 .3 2.5-3.1 15-1.3 12-1.5 15.5-1.6 13-1.7 10.5-1.4 5.5-.5-.2-.9-3.3-2-12-1.7-13.5-2.7-27-.7-4-2-8.5-.5-3 .3-2.5 2.1-9 .7-4 2.8-27.5 1.6-13 1.7-10.5z"/><path fill="#d2426f" d="M686.1 419.3l.1-.2 .5-.3 .5 1.6 .6 2.9 1.6 9.5 1.6 13.5 2.6 27 .8 4.5 2.1 9 .3 2.5-3.1 15-1.1 10-1.5 17.5-1.6 13-1.7 10.5-1.1 4.1-.5-.3-.9-3.3-1.7-10.5-1.7-13.5-2.5-27-.7-4-1.9-8-.6-3.5 .4-3 2-8.5 .7-4 2.7-27.5 1.6-13 1.6-10z"/><path fill="#c73d73" d="M686.7 420.3l.8 3 1.6 10 1.6 13 1.4 17.5 1 10 .8 4 2 8.5 .5 3-3.3 15-1 10-1.5 18-1.6 13-1.5 9.5-.8 3.1-.5-.2-.6-2.4-1.7-10.5-1.5-12.5-1.5-18-1-10-3.3-15 .5-3 2-8.5 .8-4 1-10 1.4-17.5 1.6-13 1.7-10.5 .6-2.3z"/><path fill="#bc3978" d="M686.6 421.8l.1-.1 .5 1.8 1.5 9.3 1.5 13 1.4 18.5 .9 9 .8 4.5 2.2 9 .4 2.5-.6 3-2 8.5-.8 4.5-2.3 27-1.5 13-1.5 9.4-.5 1.8-.5-.3-.4-1.4-1.6-10-1.4-12.5-1.4-18-.9-9.5-.8-4-2-8.3-.6-3.2 .4-2.5 2.2-9 .8-4.5 .9-9.5 1.3-17.5 1.5-13 1.7-10 .3-1.3z"/><path fill="#b0357b" d="M686.6 423.3l.6 2.3 1.1 7.2 1.5 13 1.4 18.5 .8 9 .8 4.5 2.3 9 .3 2.5-.5 3-2.2 8.5-.8 4.5-.8 9-1.2 18-1.5 13-1.7 9.6-.5-.3-1.6-9.3-1.5-13-1.3-18.5-.8-9-.7-4-2.2-8.5-.5-3 .3-2.5 2.3-9 .8-4.5 .8-9 1.4-18.5 1.5-13 1.5-9.2z"/><path fill="#a5317e" d="M686.2 425.8l.5-.4 1.4 7.9 1.4 13 1.2 18 .8 9 .8 4.5 2.3 9 .3 2.5-.5 3-2.2 8.5-.8 4.5-.7 8.5-1.2 18.5-1.5 13-1.3 7.5-.5-.3-1.2-7.2-1.5-13-1.2-18.5-.8-9-.7-4-2.2-8.5-.5-3 .4-3 2.3-9 .8-4.5 .7-8.5 1.2-18.5 1.4-12.5z"/><path fill="#992d80" d="M686.3 427.8l.4-.3 1 5.3 1.4 13 1.1 18.5 .8 9 .7 4 2.3 9 .5 3-.6 3-2.2 8.5-.8 4.5-.7 8.8-1.1 18.2-1.4 13-1 5.4-.5-.4-.9-5-1.4-13-1.2-19-.7-8.5-.8-4.5-2.1-8-.6-3 .5-3 2.3-9 .8-4.5 .7-8.5 1.1-18.5 1.4-12.5z"/><path fill="#8e2a81" d="M686.5 429.8l.2-.2 .6 3.2 1.5 13 1 19 .7 8.5 .7 4 2.3 9 .5 3-.6 3-2.2 8.4-.8 4.6-.6 8.5-1 18.5-1.4 12.5-.7 3.8-.5-.4-.6-2.9-1.4-13-1-19-.7-8.5-.8-4.5-2.1-8-.6-3 .5-3 2.3-9 .7-4 .7-8.2 1-19.3 1.5-13 .5-2.8z"/><path fill="#812581" d="M686.7 431.8l.5 2.9 1.2 11.6 .9 18 .6 8.5 .8 4.8 2.3 8.7 .5 3-.6 3-2.1 8-.9 5-.6 8.5-.9 18.5-1.2 11.2-.5 2.9-.5-.3-.2-1.3-1.4-12.5-.9-19-.7-8.5-.8-4.5-2.1-8-.6-3 .5-3 2.2-8.5 .8-4.5 .7-8.5 .9-19 1.4-12.5 .2-1.2z"/><path fill="#762181" d="M686.3 434.8l.4-.4 1.3 11.4 .9 20 .6 8 .9 4.5 2.2 8 .5 3-.6 3-2.1 7.5-.9 5-.6 8-.8 19.5-1.4 11.5-.5-.5-1.3-11-.8-19-.6-8.5-.9-5-2.1-7.5-.6-3 .5-3 2.4-8.5 .7-4.5 .6-8.5 .8-18.5 .8-7.4z"/><path fill="#6b1d81" d="M686.6 437.8l1.1 8.5 .8 19 .6 8.5 .6 4 2.4 8.5 .5 3-.6 3-2.2 8-.8 4.5-.5 8-.8 19.5-1 8.2-.5-.6-.9-7.6-.8-19.5-.6-8.5-.7-4.2-2.2-7.8-.6-3 .5-3 2.3-8.2 .7-4.3 .6-8.5 .8-19 .9-8z"/><path fill="#601880" d="M686.5 441.3l.2-.2 .7 5.2 .7 19.5 .5 8.5 .7 4 2.4 8.2 .5 2.8-.7 3-2.1 7.5-.8 4.5-.6 8.5-.6 19-.7 5.3-.5-.5-.6-4.3-.7-20-.6-8.5-.7-4-2.1-7.5-.7-3 .6-3 2.3-8 .7-4.5 .6-8.5 .6-19 .6-4.7z"/><path fill="#56147d" d="M686.3 444.8l.4-.4 .2 1.9 .7 20 .6 8.3 .7 3.7 2.3 8 .5 3-.6 3-2.2 7.5-.8 4.5-.5 8-.6 19.5-.3 2-.5-.5-.2-1.5-.6-20-.6-8-.8-4.5-2.2-7.5-.5-2.5 .5-3 2.3-8 .7-4 .6-8 .6-20z"/><path fill="#4a1079" d="M686.6 454.3l.1-.3 .7 16.3 .4 5 .7 3.5 2.3 8 .5 2.5-.6 2.5-2.2 7.5-.7 4-.5 5-.6 15.9-.5-2.2-.6-14.2-.4-5-.7-3.5-2.2-7.5-.6-2.5 .5-2.5 2.3-8 .7-3.5 .4-5 .6-14.1z"/><path fill="#3f0f72" d="M686.6 468.8l.1-.3 .3 4.3 .8 5 2.5 9 .5 2.5-3.1 11.5-.7 5-.3 3.9-.5-1.3-.3-4.1-.8-4.5-2.9-10.5 .5-2.5 2.5-9 .7-4 .3-4z"/><path fill="#331067" d="M686.5 475.3l.2-.2 .9 4.2 2.2 7.5 .5 2.5-.6 2.5-2 6.5-1 4.8-.5-.5-.9-4.3-2-6.5-.6-2.5 .5-2.6 2.1-6.9 .9-4.2z"/><path fill="#271258" d="M686.2 478.8l.5-.5 2.6 8.5 .5 2.5-.6 2.5-2.5 8.1-.5-.3-3-10.3 .5-2.5z"/><path fill="#1d1147" d="M686.4 480.8l.3-.1 1.5 4.3 .8 2.8 .3 1.5-.7 2.5-1.9 5.7-.5-.2-1.8-5.5-.7-2.5 .8-3.5 1.7-4.9z"/><path fill="#130d34" d="M686.3 482.8l.4-.1 .5 1.1 1.2 3.5 .4 2-.8 3-1.3 3.2-.5-.1-.5-1.3-1.5-4.8 .7-3z"/><path fill="#0b0924" d="M686.6 484.3l1.1 2.2 .7 2.8-.7 2.4-1 2.2-.5-.1-.5-1.1-1.1-3.4 .3-1.5 .8-2.3 .5-1.1z"/><path fill="#050416" d="M686.1 485.8l.1-.2 .5-.2 .7 1.4 .6 2-.3 1.7-1 2.3-.5-.2-1.2-3.3 .3-1.5z"/><path fill="#010108" d="M686.1 486.8l.6-.2 .8 2.2-.3 1.8-.5 1-.5-.1-.7-2.2 .2-1.5z"/></g></g>
<mask id="mb3" maskUnits="userSpaceOnUse" x="435.1" y="593.0" width="192.3" height="96.2"><g filter="url(#nz)" fill="#fff"><path fill-opacity="0.055" d="M522 621l15.1-.1 14 .7 14 2.8 9 2.2 13.5 2.5 10 2.3 7.5 1 4 .3 2.5-.1 1.6-.6 1.4-1.3 .5 .3 4.3 5 3.7 3.5 1.4 1-5.5 5-3.9 4.7-.5 .3-1-1.1-2-.8-3-.1-5.6 .5-5.9 .9-10 2.3-12.7 2.3-9.3 2.3-14 2.8-10.5 .6-7.5 .2-10.5-.1-11.5-.8-14-2.7-9-2.3-12.5-2.3-10.5-2.4-5.6-.8-5.4-.5-3 0-1.5 .5-2 1.5-3.7-4.5-5.9-5.5 1.9-1.5 3.8-3.5 3.9-4.8 1.7 1.3 1.8 .6 3.5 0 6.5-.6 4-.6 10-2.3 13-2.4 9.5-2.4 13.5-2.7z"/><path fill-opacity="0.063" d="M525.6 622l13 0 8 .7 4.5 .6 23 4.9 12.5 2.2 12.3 2.6 6.9 1 5.3 .5 2-.3 1.5-.8 .5 .3 3.4 3.3 4.7 3.5-2.1 1.9-3 2.1-3.5 3.3-1.4-.8-1.6-.3-8.1 .8-6.4 1-10 2.3-13 2.2-23 4.9-8.5 1-10.5 .4-12-.4-9-1.1-22.7-4.8-13.3-2.3-9.7-2.2-6.4-1-7.9-.8-1.7 .3-1.8 .8-2.7-2.8-3.8-2.8-1.8-1.7 5.3-4 3-3.1 1.5 .7 2 .4 9.3-1 4.7-.8 11-2.4 12-2.1 23-4.8 8.5-1.1z"/><path fill-opacity="0.096" d="M520.1 623l6-.4 8 0 6.5 .2 4.5 .5 6 1 8.9 2.2 14.1 2.7 13 2.2 12.5 2.6 11.5 1.6 2 0 1.5-.5 3.7 2.9 2.8 1.5 1.3 1-1.3 1.2-2.5 1.3-4 3.1-1.5-.5-2 0-13.3 1.9-10.7 2.3-13 2.2-15.6 3-7.4 1.9-5 .9-8 .7-7.5 .1-7.5-.2-7-.7-5-.9-7.1-1.8-15.5-3-13.4-2.2-10.4-2.3-13.1-1.9-2 0-2 .4-3-2.5-3.5-2-1-1 1-.8 3.8-2.2 2.7-2.3 2 .4 2 0 11.3-1.6 12.7-2.6 12.5-2.1 14.4-2.8 9.1-2.2z"/><path fill-opacity="0.138" d="M522.4 623.5l5.7-.3 8.5 .1 5.5 .4 4.5 .6 4.5 .9 8.7 2.3 27.3 4.7 11.1 2.3 12.2 2 2.7 .2 1.5-.2 3.8 2.5 3.2 1.5-.5 .6-3.3 1.4-3.2 2.2-3-.1-12.3 1.9-11.7 2.4-29 5-7.5 2.1-6 1.2-6 .6-7.5 .2-8-.2-6.5-.7-6-1.1-7-2-29-5-11.9-2.5-12.1-1.9-3.5 0-2.9-2.1-3.4-1.5-.4-.5 4.1-2 2.6-1.9 4.5-.1 9.4-1.5 13.6-2.8 27.6-4.7 10.9-2.8z"/><path fill-opacity="0.181" d="M523.5 624l12.6-.1 5 .3 4.5 .6 5.5 1.1 5.5 1.7 3.5 .8 27 4.4 21.8 4.2 5.7 .6 3.2 1.9 2.6 1-3.2 1.5-2.6 1.6-2.5 .1-5 .8-20 3.9-28 4.6-8 2.3-6.5 1.3-6 .6-7.5 .2-8-.2-6.5-.8-5.5-1.2-8-2.3-28-4.6-19.7-3.8-7.8-1-2.3-1.5-3.2-1.5 2.6-1 2.9-1.8 6-.7 22-4.2 26.5-4.4 12.5-3.2 5-.8z"/><path fill-opacity="0.230" d="M523.3 624.5l12.3-.2 5 .3 4 .5 5.5 1.2 9.3 2.7 27.7 4.4 27.5 5.2 4 1.9-4 2.2-27.5 5.1-27.5 4.4-9 2.5-5 1.2-6.5 .8-8 .2-8-.2-6.5-.9-13.5-3.6-28-4.4-27-5.1-3.5-1.7-.7-.5 4.2-2 27.5-5.1 27.5-4.4 12-3.3 4.5-.8z"/><path fill-opacity="0.299" d="M523.2 625l11.9-.2 4.5 .2 4.2 .5 4.8 1 7 2.2 3.5 .9 28.5 4.4 25 4.9 2 .4 2.3 1.2-.5 .5-1.8 .9-3 .6-24.5 4.8-28 4.3-3.5 .9-6.5 2.1-4.1 .9-7.9 .8-6 .1-5.5-.1-8.1-.8-3.9-.9-7-2.2-3.5-.8-28-4.3-24-4.7-3.5-.8-1.5-.8-.5-.5 2.5-1.2 4-.9 23-4.5 28-4.3 3.5-.8 9.4-2.8z"/><path fill-opacity="0.410" d="M521 626l5.6-.4 7 0 5.5 .2 4.5 .5 6.5 1.3 5.5 1.8 3.5 .8 28.5 4.2 23.1 4.6 3.6 1 .9 .5-.6 .6-3.1 .9-23.9 4.7-29.5 4.5-7.5 2.3-5 1.1-7 .9-7.5 .1-7.5-.2-6.5-.8-5.5-1.2-7-2.2-29.5-4.4-24-4.8-3-.8-.8-.7 .9-.5 3.6-1 23.3-4.6 28.5-4.2 3.5-.9 5.7-1.8z"/><path fill-opacity="0.583" d="M525.5 626.5l10.1-.1 7 .6 7.2 1.5 8.3 2.3 29.7 4.2 20.3 4 4 1 1.1 .5-.6 .5-1.5 .5-14.3 3-10.9 2-27.3 3.8-8 2.2-6.9 1.5-5.6 .6-7 .2-7-.2-5.3-.6-6.9-1.5-8.3-2.2-27-3.8-10.9-2-14.3-3-1.5-.5-.6-.5 1.1-.5 4-1 20.3-4 29.4-4.2 13.1-3.3z"/><path fill-opacity="1.000" d="M527.8 627.5l7.3 0 6.2 .5 5.4 1 11.9 2.8 14 1.7 17.1 2.5 15.4 3 4.2 1 1.2 .5-.6 .5-3.9 1-17.9 3.5-29 3.8-16.4 3.7-4.1 .5-7.5 .2-7-.2-4.3-.5-16.7-3.7-28.7-3.8-17.9-3.5-3.9-1-.6-.5 1.2-.5 6.5-1.5 15.9-3 28.5-3.8 14-3.2 3.1-.5z"/></g></mask>
<g mask="url(#mb3)"><g filter="url(#bl)"><path fill="#fec488" d="M509.6 618l43 0 .5 .5 2 0 .5 .5 1.5 0 .5 .5 2 0 .5 .5 1.5 0 .5 .5 2 0 .5 .5 1.5 0 .5 .5 1 0 .5 .5 1 0 .5 .5 1.5 0 .5 .5 1 0 .5 .5 1 0 .5 .5 2 0 .5 .5 2 0 .5 .5 2 0 .5 .5 2 0 .5 .5 2 0 .5 .5 1.5 0 .5 .5 1.5 0 .5 .5 1.5 0 .5 .5 1.5 0 .5 .5 1.5 0 .5 .5 3.5 0 .5 .5 9 0 .5-.5 1 0 .5-.5 .5 0 .5-.5 .5-.5 0-.5 1-1 0-1 .5 .5 0 .5 .5 .5 0 .5 1 1 0 .5 .5 .5 0 .5 1 1 0 .5 .5 .5 0 .5 1 1 0 .5 1.5 1.5 0 .5 4.5 4.5 .5 0 .5 .5 .5 0-.5 .5-.5 0-.5 .5-.5 0-3 3 0 .5-1.5 1.5 0 .5-1.5 1.5 0 .5-1 1 0 .5-.5 .5 0 .5-1 1 0 .5-.5 .5 0 .5-.5 .5 0 .5-.5 .5 0 .5-.5 0 0-.5-.5-.5 0-.5-2.5-2.5-2 0-.5-.5-5.5 0-.5 .5-5 0-.5 .5-1.5 0-.5 .5-1.5 0-.5 .5-1.5 0-.5 .5-1.5 0-.5 .5-1.5 0-.5 .5-2 0-.5 .5-2 0-.5 .5-2 0-.5 .5-2 0-.5 .5-2 0-.5 .5-1.5 0-.5 .5-1 0-.5 .5-1 0-.5 .5-1.5 0-.5 .5-1 0-.5 .5-1 0-.5 .5-2 0-.5 .5-1.5 0-.5 .5-2 0-.5 .5-1.5 0-.5 .5-2 0-.5 .5-1.5 0-.5 .5-7.5 0-.5-.5-24.5 0-.5 .5-7.5 0-.5-.5-2 0-.5-.5-1.5 0-.5-.5-2 0-.5-.5-1.5 0-.5-.5-2 0-.5-.5-1.5 0-.5-.5-1 0-.5-.5-1.5 0-.5-.5-1 0-.5-.5-1 0-.5-.5-1.5 0-.5-.5-1.5 0-.5-.5-2 0-.5-.5-2 0-.5-.5-2 0-.5-.5-2 0-.5-.5-1.5 0-.5-.5-1.5 0-.5-.5-1.5 0-.5-.5-1.5 0-.5-.5-1.5 0-.5-.5-2 0-.5-.5-4.5 0-.5-.5-5.5 0-.5 .5-2 0-1 1-.5 0-.5 .5 0 .5-1 1 0 .5-.5 .5 0-.5-1-1 0-.5-.5-.5 0-.5-.5-.5 0-.5-1-1 0-.5-.5-.5 0-.5-1-1 0-.5-1.5-1.5 0-.5-2.5-2.5 0-.5-.5-.5-.5 0-1.5-1.5-.5 0-.5-.5 .5 0 1-1 .5 0 3-3 0-.5 1.5-1.5 0-.5 1.5-1.5 0-.5 .5-.5 0-.5 1-1 0-.5 .5-.5 0-.5 1-1 0-.5 .5-.5 0-.5 .5-.5 0-.5 .5 .5 0 .5 .5 .5 0 .5 .5 .5 1.5 1.5 1 0 .5 .5 9.5 0 .5-.5 3.5 0 .5-.5 1 0 .5-.5 1.5 0 .5-.5 1.5 0 .5-.5 1.5 0 .5-.5 1.5 0 .5-.5 2 0 .5-.5 2 0 .5-.5 2 0 .5-.5 2 0 .5-.5 2 0 .5-.5 1.5 0 .5-.5 1 0 .5-.5 1 0 .5-.5 1.5 0 .5-.5 1 0 .5-.5 1.5 0 .5-.5 1.5 0 .5-.5 2 0 .5-.5 1.5 0 .5-.5 2 0 .5-.5 1.5 0z"/><path fill="#feb67c" d="M524.5 625l4.6-.2 7.5 .1 6 .5 3 .5 4 .9 5.5 1.8 4 1 28 4.3 25.5 5 2 .5 2.1 1.1-.6 .6-1.5 .7-3.5 .8-23.5 4.6-28.2 4.3-3.3 .8-5.5 1.8-4 1.1-7 .9-8.5 .2-8.5-.2-7-1-3.5-.9-5.5-1.9-3.5-.8-28.5-4.3-25.5-5.1-1.5-.4-1.3-.7-.5-.5 2.3-1.2 7-1.5 20.5-4 27.5-4.1 4-1 7.5-2.4 5-.9z"/><path fill="#fea973" d="M528.5 625.5l9.1 .1 7 .8 5.5 1.1 5 1.7 3 .8 29.5 4.4 23 4.5 3.5 1 1.2 .6-.7 .6-3.5 1-23.5 4.7-29.5 4.4-3 .8-4.3 1.5-5.7 1.2-6.5 .8-7.5 .2-7.5-.2-6.5-.8-5.5-1.2-4.5-1.6-3-.7-29-4.4-24-4.7-3-.9-.5-.2-.4-.5 1.4-.7 3.5-.9 23-4.5 28.5-4.3 3.5-.8 5-1.7 5-1.1 5.5-.7z"/><path fill="#fd9b6b" d="M521.9 626.5l5.2-.3 7-.1 5 .3 4 .4 8 1.7 7 2 29.5 4.3 21 4.1 3.5 .9 1.7 .7-.5 .5-2.2 .7-12 2.5-12 2.3-28.5 4.1-3 .7-4.5 1.4-6.5 1.4-6 .8-7.5 .2-7-.2-6-.7-7-1.6-4.5-1.4-2.5-.6-28.5-4.1-12-2.2-12.5-2.7-1.9-.6-.5-.5 1-.5 2.4-.7 13-2.6 10.5-2 28-4 2.5-.6 5-1.5 3.5-.9z"/><path fill="#fc8e64" d="M523.4 627l4.7-.2 6.5 0 4 .2 4 .4 8.5 1.8 7 1.8 29 4.1 18.5 3.6 5 1.1 1.7 .7-.6 .5-2.1 .6-12.5 2.7-10 1.8-28.5 4-7.5 1.9-7.5 1.6-5.5 .7-7 .2-7-.2-5.5-.7-7-1.6-7.5-1.9-28.5-4-10.5-1.9-12.5-2.6-1.8-.6-.6-.5 1.9-.7 5-1.2 18-3.5 28.5-3.9 13-3.2z"/><path fill="#fa815f" d="M525.6 627.5l9.5-.1 7 .6 4 .8 12 2.8 29.5 4 16.5 3.1 5.4 1.3 1.2 .5-.6 .5-5 1.3-18 3.4-28.5 3.8-12.8 3-4.2 .8-5 .4-5.5 .1-5.5-.1-5-.5-3.9-.7-12.6-2.9-29-3.9-18-3.5-4.7-1.2-.6-.5 1.3-.5 5.5-1.3 16.5-3.2 29-3.9 14-3.2 3.5-.5z"/><path fill="#f8745c" d="M521.9 628.5l4.2-.4 5.5-.1 5 .1 4.5 .5 3.5 .6 13.5 2.9 16 2 13.5 1.8 15 2.9 5.3 1.2 1.2 .5-.6 .5-4.9 1.2-16.5 3.2-29 3.7-13.3 2.9-3.7 .6-4.5 .5-5.5 .1-5.5-.2-4.5-.4-17-3.6-15.5-1.8-13.5-1.9-16.5-3.1-4.6-1.2-.6-.5 1.2-.5 5.5-1.3 15-2.8 13-1.8 16-1.9 14-3.1z"/><path fill="#f4675c" d="M523.4 629l4.2-.3 5 0 4.5 .1 3.5 .4 17.5 3.4 16 1.9 13.5 1.8 13.5 2.5 5.2 1.2 1.3 .5-.7 .5-4.3 1.1-15.5 2.9-13 1.7-16 1.9-17.5 3.4-4.5 .4-5 .1-5-.1-4-.4-17.5-3.4-16.5-1.9-13-1.8-15.5-2.9-4-1-.7-.5 1.3-.5 5.4-1.3 13.5-2.4 13-1.8 16.5-1.9 4.5-.8 10-2.2z"/><path fill="#ee5b5e" d="M525 629.5l8.6-.2 6.5 .5 9.5 1.9 8 1.4 16.5 1.8 13.5 1.8 12 2.1 5.2 1.2 1.2 .5-.6 .5-4 1-14.3 2.6-13 1.7-16.5 1.8-4.5 .7-13 2.6-4 .4-5 .1-5-.1-4-.4-9.1-1.9-8.4-1.4-16.5-1.8-13-1.7-14-2.6-4-1-.6-.5 1.2-.5 5.4-1.2 12-2.2 13-1.7 16.5-1.8 8.5-1.4 7-1.6z"/><path fill="#e55064" d="M525.7 630l7.4-.2 6 .4 3 .5 6.5 1.5 6.5 1.1 19 2 13 1.6 10.5 1.8 5.7 1.3 1.3 .5-.7 .5-4 1-12.8 2.3-13 1.6-19.5 2.1-6 1-6.5 1.5-3 .5-3.5 .3-4.5 .1-7.5-.4-3.5-.6-6.1-1.4-6.4-1.1-19.5-2-13-1.7-12.5-2.2-4-1-.7-.5 1.3-.5 5.9-1.3 10-1.7 13-1.7 19.5-2 6.5-1.1 7.5-1.7z"/><path fill="#dc4869" d="M526.4 630.5l7.2-.1 5 .3 3.5 .6 6 1.5 6 .9 20 2 13 1.6 10.5 1.7 4.2 1 1.3 .5-.6 .5-4.2 1-11.2 1.9-13 1.6-20 2-6.5 1-5.5 1.4-3.5 .6-7.5 .3-7-.3-3.5-.6-6-1.5-6.2-.9-20.3-2-13-1.6-10.9-1.9-4.2-1-.6-.5 1.3-.5 4.4-1 10-1.7 13-1.6 20-2 6.5-.9 7.5-1.8z"/><path fill="#d2426f" d="M527.2 631l6.4-.1 4.5 .3 3.5 .6 7 1.7 10 1.2 15.5 1.4 13 1.6 10 1.6 3.2 .7 1.4 .5-.7 .5-3.4 .8-10.5 1.7-13 1.6-20.5 1.9-5.5 .7-9 2.1-3.5 .4-4.5 .1-4-.1-3.5-.3-3-.6-6-1.5-6-.8-20.5-1.9-13-1.6-10-1.6-3.6-.9-.7-.5 1.4-.5 2.9-.7 10-1.6 13-1.6 16-1.4 9-1 9-2.1z"/><path fill="#c73d73" d="M527.6 631.5l5.5-.1 4.5 .3 3 .5 8 2 7.6 .8 17.9 1.4 13 1.6 10 1.6 3.1 .9-.7 .5-1.9 .5-10.5 1.7-13 1.6-15.5 1.2-9.5 1-10 2.3-3.5 .4-4.5 .1-4-.1-3.5-.4-10-2.3-9.5-1-16-1.3-13-1.5-10-1.7-2.1-.5-.7-.5 2.8-.8 10.5-1.7 12.5-1.5 18-1.5 7.5-.8 8.5-2z"/><path fill="#bc3978" d="M527.1 632l5.5-.1 4.5 .3 3 .5 5.5 1.5 3 .6 26 2.1 13 1.5 9.5 1.5 1.7 .6-.7 .5-1 .2-10 1.7-13 1.5-25 2-3 .5-7.5 1.9-3.5 .4-4 .1-4-.1-3-.3-7.5-2-3-.5-25.5-2.1-13-1.5-10-1.6-.7-.2-.7-.5 1.4-.5 10-1.6 13-1.5 25.5-2.1 3-.5 6.5-1.8z"/><path fill="#b0357b" d="M526.7 632.5l5.4-.2 4.5 .3 3 .5 5.5 1.6 3 .6 26.5 2 12.5 1.4 8.2 1.3 2 .5-1 .5-8.7 1.4-13 1.5-26.5 2-3 .6-4.5 1.4-2.5 .5-3 .4-4 .1-4-.2-3-.3-7-2-3-.5-26-1.9-13-1.5-8.9-1.5-1-.5 2-.5 7.9-1.3 13-1.5 26-1.9 3-.5 6-1.8z"/><path fill="#a5317e" d="M526.5 633l4.6-.2 5 .2 3.5 .6 5.5 1.7 2.5 .5 26.5 1.8 13 1.4 6.1 1 2 .5-1 .5-6.6 1.1-13 1.5-26.5 1.8-3 .5-4.5 1.4-2.5 .6-3 .4-4 .1-3.5-.1-3-.4-2.5-.5-5-1.6-2.5-.4-26.5-1.8-13-1.5-6.8-1.1-1-.5 7.8-1.4 13-1.5 26.5-1.8 3-.5 5.5-1.7z"/><path fill="#992d80" d="M526.3 633.5l4.3-.2 5 .1 3.4 .6 5.6 1.8 2.5 .5 27 1.6 13 1.5 6 1.1-1 .5-4.5 .8-13.5 1.5-27 1.6-2.5 .5-4.5 1.5-2.5 .6-3 .3-3.5 .1-3.5-.1-3-.4-6.5-1.9-3-.6-27-1.7-13-1.4-4.7-.8-1-.5 5.7-1.1 13-1.4 27-1.7 2.5-.4 5.5-1.8z"/><path fill="#8e2a81" d="M526.3 634l4.3-.3 5 .2 3.2 .6 4.8 1.6 3 .7 27.5 1.5 13 1.4 3.9 .8-1.1 .5-2.8 .5-13 1.4-27.5 1.5-2.8 .6-4.2 1.5-2 .5-3 .4-3.5 .1-3.5-.2-2.5-.3-2.5-.6-4-1.4-3-.6-27.5-1.5-13-1.4-2.5-.5-1.1-.5 3.6-.8 13-1.4 27.5-1.5 2.5-.5 5-1.6z"/><path fill="#812581" d="M526.5 634.5l4.1-.3 4.5 .2 3 .5 5.5 1.8 3 .6 27.5 1.4 12.4 1.3 2.3 .5-1 .5-.7 .1-13 1.4-27.5 1.4-3 .6-4.5 1.5-2 .5-2.5 .3-3.5 .2-3-.1-2.8-.4-6.2-2-3-.6-28-1.4-13-1.4-1.4-.6 2.3-.5 12.1-1.3 28-1.4 2.5-.5 5-1.7z"/><path fill="#762181" d="M526.7 635l4.4-.3 4.5 .3 2.5 .5 5 1.7 3.5 .6 27.5 1.2 9.1 1 3.1 .5-1.5 .5-10.7 1.2-28 1.3-3 .5-4.5 1.5-2 .6-2.5 .3-3 .1-3-.1-2.5-.4-6-2-3-.5-28.5-1.3-10.4-1.2-1.5-.5 11.9-1.5 28.5-1.3 3-.5 4.5-1.6z"/><path fill="#6b1d81" d="M526.9 635.5l3.7-.3 4.5 .2 2.5 .5 5 1.8 3.5 .5 28 1.2 8.9 1.1-1.6 .5-7.3 .8-28.5 1.2-3.5 .6-4 1.5-2 .5-2 .3-3 .1-3-.1-2-.3-5.5-1.9-3.5-.7-29-1.2-7-.8-1.6-.5 8.6-1.1 29-1.2 3.5-.7 4-1.5z"/><path fill="#601880" d="M527.1 636l4-.3 4 .2 2.3 .6 4.2 1.5 4 .7 28.5 1 5.6 .8-1.6 .5-4 .5-29 1.1-3.5 .6-4 1.4-2 .6-4.5 .3-4.5-.4-5.5-1.9-3.5-.6-29-1.1-4.2-.5-1.6-.5 5.8-.8 29-1.1 3.4-.6 4.1-1.5z"/><path fill="#56147d" d="M527.1 636.5l3.5-.3 4 .2 2 .4 4.5 1.7 4 .6 29 1.1 2.2 .3-2.2 .6-29.5 1.1-4 .6-5 1.9-2 .3-2.5 0-4-.3-5.5-1.9-3.5-.6-4-.3-25.5-.8-.9-.1-1.5-.5 2.4-.4 29.5-1.1 3.5-.5z"/><path fill="#4a1079" d="M527.1 637l3-.4 4 .2 2 .4 4 1.6 4.5 .7 23.4 1-6.5 .5-13.4 .5-5 .3-3.5 .7-3 1.3-1.5 .5-4 .3-2-.1-2-.3-4.2-1.7-3.3-.7-5.5-.4-13.1-.4-6.5-.5 19.6-.7 5-.4 3.5-.6z"/><path fill="#3f0f72" d="M527.2 637.5l2.9-.4 3.5 .1 2 .4 3.1 1.4 1.9 .5 5.5 .7 5.5 .3-11 1.2-2 .5-3.5 1.5-1.5 .3-2.5 .1-3.5-.3-4-1.7-2-.5-10.7-1.1 5.2-.3 5.5-.6 2-.5z"/><path fill="#331067" d="M527.4 638l2.7-.5 3.5 .2 2 .5 3 1.4 4 .9-4 1.1-4 1.7-3.5 .4-2-.1-1.5-.3-3.5-1.7-4.2-1.1 3.7-.8z"/><path fill="#271258" d="M530.2 638l2.4 0 1.5 .3 4.8 2.2-.7 .5-3.6 1.8-1.5 .3-2 .1-3-.4-3.8-1.8-.7-.5 4.1-2z"/><path fill="#1d1147" d="M529.8 638.5l2.3-.1 1.5 .3 1 .3 2.2 1.5-.4 .5-2.3 1.4-1.5 .3-1.5 .1-1.5-.1-1.5-.5-2-1.2-.4-.5 2.3-1.5z"/><path fill="#130d34" d="M529.7 639l1.9-.1 1.5 .2 1 .4 1.2 1-.3 .5-.6 .5-1.3 .7-1.5 .2-2-.2-1.5-.7-.6-.5-.3-.5 1.2-1z"/><path fill="#0b0924" d="M529.4 639.5l1.7-.3 2 .3 .7 .5 .2 .5-.1 .5-.4 .5-.9 .4-1.5 .1-1.5-.2-.6-.3-.4-.5-.2-.5 .3-.5z"/><path fill="#050416" d="M529.4 640l1.2-.5 1.5 .1 1 .4 .2 .5-.1 .5-.6 .5-2 .2-.7-.2-.6-.5-.1-.5z"/><path fill="#010108" d="M530.2 640l.9-.1 1.2 .1 .4 .5-.1 .4-1 .4-1.5-.2-.3-.6z"/></g></g>
<text x="430.20" y="564.59" text-anchor="end" font-size="13" letter-spacing="1.0">−20</text>
<text x="430.20" y="529.44" text-anchor="end" font-size="13" letter-spacing="1.0">−10</text>
<text x="430.20" y="494.30" text-anchor="end" font-size="13" letter-spacing="1.0">0</text>
<text x="430.20" y="459.16" text-anchor="end" font-size="13" letter-spacing="1.0">10</text>
<text x="430.20" y="424.01" text-anchor="end" font-size="13" letter-spacing="1.0">20</text>
<path d="M443.17 588.10v-1.8M460.79 588.10v-3.2M478.40 588.10v-1.8M496.02 588.10v-3.2M513.63 588.10v-1.8M531.25 588.10v-3.2M548.87 588.10v-1.8M566.48 588.10v-3.2M584.10 588.10v-1.8M601.71 588.10v-3.2M619.33 588.10v-1.8M432.60 577.56h1.8M432.60 559.99h3.2M432.60 542.41h1.8M432.60 524.84h3.2M432.60 507.27h1.8M432.60 489.70h3.2M432.60 472.13h1.8M432.60 454.56h3.2M432.60 436.99h1.8M432.60 419.41h3.2M432.60 401.84h1.8" stroke="#262626" stroke-width="0.75" fill="none"/>
<rect x="432.60" y="391.30" width="197.30" height="196.80" fill="none" stroke="#262626" stroke-width="0.95"/>
<text x="531.45" y="385.00" text-anchor="middle" font-size="13" letter-spacing="0.37">Model <tspan font-style="italic">AB</tspan><tspan font-size="9.4" dy="2.5">1</tspan></text>
<text x="444.10" y="408.50" text-anchor="start" font-size="11.2" letter-spacing="0.64">7.568 Gyr</text>
<text transform="translate(412.70 489.70) rotate(-90)" text-anchor="middle" font-size="13" letter-spacing="0.9">y [kpc]</text>
<text x="651.79" y="601.40" text-anchor="middle" font-size="13" letter-spacing="1.0">−10</text>
<text x="687.00" y="601.40" text-anchor="middle" font-size="13" letter-spacing="1.0">0</text>
<text x="722.21" y="601.40" text-anchor="middle" font-size="13" letter-spacing="1.0">10</text>
<path d="M651.29 588.10v-3.2M668.89 588.10v-1.8M686.50 588.10v-3.2M704.11 588.10v-1.8M721.71 588.10v-3.2M637.20 577.56h1.8M637.20 559.99h3.2M637.20 542.41h1.8M637.20 524.84h3.2M637.20 507.27h1.8M637.20 489.70h3.2M637.20 472.13h1.8M637.20 454.56h3.2M637.20 436.99h1.8M637.20 419.41h3.2M637.20 401.84h1.8" stroke="#262626" stroke-width="0.75" fill="none"/>
<rect x="637.20" y="391.30" width="98.60" height="196.80" fill="none" stroke="#262626" stroke-width="0.95"/>
<text x="686.90" y="617.30" text-anchor="middle" font-size="13" letter-spacing="0.9">z [kpc]</text>
<text x="463.07" y="702.50" text-anchor="middle" font-size="13" letter-spacing="1.0">−20</text>
<text x="497.41" y="702.50" text-anchor="middle" font-size="13" letter-spacing="1.0">−10</text>
<text x="531.75" y="702.50" text-anchor="middle" font-size="13" letter-spacing="1.0">0</text>
<text x="566.09" y="702.50" text-anchor="middle" font-size="13" letter-spacing="1.0">10</text>
<text x="600.43" y="702.50" text-anchor="middle" font-size="13" letter-spacing="1.0">20</text>
<text x="432.70" y="680.06" text-anchor="end" font-size="13" letter-spacing="1.0">−10</text>
<text x="432.70" y="645.70" text-anchor="end" font-size="13" letter-spacing="1.0">0</text>
<text x="432.70" y="611.34" text-anchor="end" font-size="13" letter-spacing="1.0">10</text>
<path d="M445.40 689.20v-1.8M462.57 689.20v-3.2M479.74 689.20v-1.8M496.91 689.20v-3.2M514.08 689.20v-1.8M531.25 689.20v-3.2M548.42 689.20v-1.8M565.59 689.20v-3.2M582.76 689.20v-1.8M599.93 689.20v-3.2M617.10 689.20v-1.8M435.10 675.46h3.2M435.10 658.28h1.8M435.10 641.10h3.2M435.10 623.92h1.8M435.10 606.74h3.2" stroke="#262626" stroke-width="0.75" fill="none"/>
<rect x="435.10" y="593.00" width="192.30" height="96.20" fill="none" stroke="#262626" stroke-width="0.95"/>
<text x="531.65" y="717.70" text-anchor="middle" font-size="13" letter-spacing="0.9">x [kpc]</text>
<text transform="translate(412.70 641.10) rotate(-90)" text-anchor="middle" font-size="13" letter-spacing="0.9">z [kpc]</text>
<rect x="735.60" y="393.25" width="8.50" height="292.25" fill="url(#cbg)" stroke="#262626" stroke-width="0.8"/>
<text x="750.50" y="403.16" text-anchor="start" font-size="10" letter-spacing="0.1">0</text>
<text x="750.50" y="466.28" text-anchor="start" font-size="10" letter-spacing="0.1">-1</text>
<text x="750.50" y="529.40" text-anchor="start" font-size="10" letter-spacing="0.1">-2</text>
<text x="750.50" y="592.52" text-anchor="start" font-size="10" letter-spacing="0.1">-3</text>
<text x="750.50" y="655.65" text-anchor="start" font-size="10" letter-spacing="0.1">-4</text>
<path d="M744.10 399.56h3M744.10 462.68h3M744.10 525.80h3M744.10 588.92h3M744.10 652.05h3" stroke="#262626" stroke-width="0.75" fill="none"/>
<text x="686.50" y="663.80" text-anchor="middle" font-size="13" letter-spacing="0.55">Colorbar:</text>
<text x="687.30" y="679.90" text-anchor="middle" font-size="13" letter-spacing="0.67">Log(<tspan font-style="italic">ρ</tspan>/<tspan font-style="italic">ρ</tspan><tspan font-style="italic" font-size="9.1" dy="2.2">max,C</tspan><tspan dy="-2.2">)</tspan></text>
</svg>
</body></html>
